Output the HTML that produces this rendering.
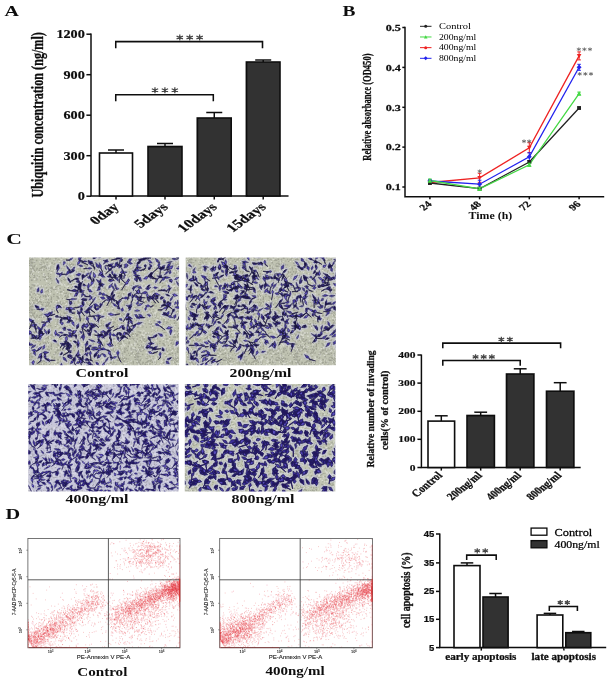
<!DOCTYPE html>
<html><head><meta charset="utf-8"><title>Figure</title>
<style>
html,body{margin:0;padding:0;background:#fff;}
body{width:609px;height:681px;overflow:hidden;font-family:"Liberation Serif",serif;}
svg{display:block}
</style></head>
<body>
<svg width="609" height="681" viewBox="0 0 609 681">
<rect width="609" height="681" fill="#fff"/>
<defs><filter id="soft" x="0" y="0" width="100%" height="100%" filterUnits="userSpaceOnUse"><feGaussianBlur stdDeviation="0.32"/></filter></defs>
<g filter="url(#soft)">
<defs><filter id="mblur" x="-5%" y="-5%" width="110%" height="110%"><feGaussianBlur stdDeviation="0.62"/></filter><filter id="halo" x="-2%" y="-2%" width="104%" height="104%"><feMorphology operator="dilate" radius="0.9" in="SourceAlpha" result="d"/><feFlood flood-color="#c9c9e6" flood-opacity=".6"/><feComposite in2="d" operator="in" result="h"/><feMerge><feMergeNode in="h"/><feMergeNode in="SourceGraphic"/></feMerge></filter><pattern id="spk" width="53" height="47" patternUnits="userSpaceOnUse"><path d="M32.1 33.8h1.5v1.5h-1.5zM48.5 33.7h1.5v1.5h-1.5zM1.5 21.2h1v1h-1zM33.4 41h1v1h-1zM19.1 39.5h1v1h-1zM28 26.1h1v1h-1zM37.7 18.6h1v1h-1zM47.2 34.8h1v1h-1zM39.2 3.3h1.5v1.5h-1.5zM31.8 5.8h1v1h-1zM50.1 .2h1v1h-1zM49.4 7.5h1v1h-1zM14.9 43.7h1.5v1.5h-1.5zM45.1 28.5h1v1h-1zM48.5 31.4h1v1h-1zM15.4 16.4h1v1h-1zM48.2 12h1v1h-1zM15.5 27.4h1v1h-1zM30.7 32.2h1v1h-1zM16 37.2h1v1h-1zM35.9 8.4h1v1h-1zM36.3 2.6h1v1h-1zM48.9 16.3h1v1h-1zM.9 35.8h1v1h-1zM19.4 38.3h1v1h-1zM2.4 8.2h1v1h-1zM6.1 11.2h1v1h-1zM17.7 16.1h1.5v1.5h-1.5zM12.9 21.1h1.5v1.5h-1.5zM38.5 36.3h1v1h-1zM1.9 43h1v1h-1zM10.7 23.3h1v1h-1zM47.3 15.5h1.5v1.5h-1.5zM28.1 14.2h1v1h-1zM15.8 36.3h1.5v1.5h-1.5zM7.7 31.4h1v1h-1zM8.3 2.2h1.5v1.5h-1.5zM27.5 18.5h1v1h-1zM38.1 15.6h1v1h-1zM23.5 19.2h1v1h-1zM50.4 29h1v1h-1zM17.2 9.4h1.5v1.5h-1.5zM29 6h1v1h-1zM5.5 19.8h1v1h-1zM3 19.1h1v1h-1zM23.3 45.5h1v1h-1zM50.3 20.6h1v1h-1zM35.5 14.5h1v1h-1zM15 18.4h1v1h-1zM5.8 37.4h1.5v1.5h-1.5zM49.4 28.5h1v1h-1zM44.7 8.2h1v1h-1zM14 35.6h1.5v1.5h-1.5zM18.6 35.8h1v1h-1zM35.8 30.2h1v1h-1zM18.7 32.1h1v1h-1zM43 12.1h1.5v1.5h-1.5zM36.9 43.5h1v1h-1zM33.5 26.4h1v1h-1zM24.4 35.2h1v1h-1zM34.6 21.1h1.5v1.5h-1.5zM33.3 36.3h1v1h-1zM14.1 15.7h1v1h-1zM18 38.4h1.5v1.5h-1.5zM23.2 16.6h1v1h-1zM26.7 24.1h1v1h-1zM10.2 16.5h1v1h-1zM14.6 3.6h1.5v1.5h-1.5zM37.6 7.8h1.5v1.5h-1.5zM26.6 42.6h1v1h-1zM32.1 35.2h1.5v1.5h-1.5zM13.9 45.3h1v1h-1zM8.2 20.1h1.5v1.5h-1.5zM9.3 34.5h1v1h-1zM32.5 1.9h1v1h-1zM50.5 7.5h1v1h-1zM5.7 44h1v1h-1zM10 1.6h1v1h-1zM18.1 30.1h1v1h-1zM30.4 10.8h1v1h-1zM0 18.4h1v1h-1zM44.1 39.4h1.5v1.5h-1.5zM42.8 17h1v1h-1zM28.3 13.7h1v1h-1zM28.1 15.4h1.5v1.5h-1.5zM15.1 16h1v1h-1zM21.6 37h1.5v1.5h-1.5zM27.7 21.3h1v1h-1zM30.7 25.7h1v1h-1zM49.9 27.7h1v1h-1zM42.3 30.1h1v1h-1zM5.6 25.7h1.5v1.5h-1.5zM27.8 14.8h1.5v1.5h-1.5zM19.4 19.6h1v1h-1zM25.4 21.8h1.5v1.5h-1.5zM19.6 43.7h1v1h-1zM30.7 11.8h1v1h-1zM25.6 18.9h1v1h-1zM48.7 14h1v1h-1zM7.4 1.1h1.5v1.5h-1.5zM32 20.2h1v1h-1zM2.1 6.2h1v1h-1zM.7 24.2h1v1h-1zM12.5 21.6h1v1h-1zM12.7 12.2h1v1h-1zM37.2 13h1v1h-1zM31.3 21.6h1.5v1.5h-1.5zM44.5 40.1h1v1h-1zM.8 5.7h1v1h-1zM27.5 15.3h1v1h-1zM37.7 1.2h1v1h-1zM18.6 33.9h1.5v1.5h-1.5zM6.8 .1h1.5v1.5h-1.5zM23.5 41.7h1.5v1.5h-1.5zM28.1 .7h1v1h-1zM30.6 31.4h1.5v1.5h-1.5zM33.4 39.1h1v1h-1zM24.5 31h1.5v1.5h-1.5zM10.1 13.5h1v1h-1zM15.6 .1h1v1h-1zM30 29.5h1v1h-1zM46.9 6.5h1v1h-1zM35.8 40.4h1v1h-1zM27.7 19.4h1.5v1.5h-1.5zM41.8 3.1h1v1h-1zM13.8 3.9h1v1h-1zM34.2 1.2h1.5v1.5h-1.5zM22.1 3.1h1v1h-1zM36.1 2.2h1v1h-1zM11.3 29.4h1v1h-1zM36.7 6.1h1v1h-1zM36.3 19.9h1v1h-1zM31.4 18.8h1v1h-1zM3.5 9.7h1.5v1.5h-1.5zM5.6 17.3h1v1h-1zM14.4 26h1v1h-1zM38.2 40h1v1h-1zM.5 4.2h1.5v1.5h-1.5zM30.9 22.3h1.5v1.5h-1.5zM19.3 2.5h1.5v1.5h-1.5zM15.2 25.9h1.5v1.5h-1.5zM26.1 41.4h1.5v1.5h-1.5zM28.3 10h1v1h-1zM28.4 11.6h1v1h-1zM26.6 6.1h1v1h-1zM44.5 20.6h1v1h-1zM9.2 32.5h1.5v1.5h-1.5zM17.6 26.1h1v1h-1zM4.7 5.7h1.5v1.5h-1.5zM23.4 17.7h1v1h-1zM24.7 14.7h1.5v1.5h-1.5zM1.5 33h1v1h-1zM43.7 43h1v1h-1zM35.1 10.2h1v1h-1zM4.3 41.5h1v1h-1zM42.3 6.4h1.5v1.5h-1.5zM19.4 38h1v1h-1zM17.2 27.9h1v1h-1zM41 17.2h1.5v1.5h-1.5zM42.8 29.5h1.5v1.5h-1.5zM22.3 38.7h1.5v1.5h-1.5zM1.9 45.2h1v1h-1zM38.1 18h1v1h-1zM1.9 8.5h1v1h-1zM2 40.5h1v1h-1zM34.1 15.9h1v1h-1zM24.2 40.5h1.5v1.5h-1.5zM47.5 14.7h1v1h-1zM5.1 7h1v1h-1zM3.7 39.5h1v1h-1zM7.8 11.6h1v1h-1zM42.1 34.1h1.5v1.5h-1.5zM12.1 21.9h1v1h-1zM17.7 34.2h1v1h-1zM48.3 31.3h1.5v1.5h-1.5zM23.5 38.6h1v1h-1zM6.1 30.4h1v1h-1zM23.4 10.9h1v1h-1zM1.7 32.5h1.5v1.5h-1.5zM11.9 3.6h1v1h-1zM47 32.2h1.5v1.5h-1.5zM16.1 21.3h1v1h-1zM3.4 45.2h1v1h-1zM8.4 10.9h1.5v1.5h-1.5zM10.8 2h1.5v1.5h-1.5zM22.2 44.4h1v1h-1zM23.8 20.6h1.5v1.5h-1.5zM21.1 2h1.5v1.5h-1.5zM43 38.1h1.5v1.5h-1.5zM18 4.3h1v1h-1zM12.2 36.5h1v1h-1zM48.2 2.4h1v1h-1zM33.2 22.6h1v1h-1zM2.5 37.9h1v1h-1zM15.8 2.3h1v1h-1zM48.9 8.8h1.5v1.5h-1.5zM26.2 18.3h1.5v1.5h-1.5zM12 42.2h1v1h-1zM4.5 44.8h1v1h-1zM30.8 39h1v1h-1zM32.2 20.1h1v1h-1zM25.1 26h1v1h-1zM26.9 6h1v1h-1zM47 14h1v1h-1zM45.9 45.5h1.5v1.5h-1.5zM6 14.2h1v1h-1zM40.2 12h1v1h-1zM16.1 5.9h1v1h-1zM24.3 31.7h1v1h-1zM49.8 30.3h1v1h-1zM3.2 31.9h1v1h-1zM36.2 36.2h1v1h-1zM45.6 3.3h1v1h-1zM19.6 35h1v1h-1zM46.1 29.8h1v1h-1zM29.6 20.1h1.5v1.5h-1.5zM33.8 43.4h1.5v1.5h-1.5zM2.4 19.5h1v1h-1zM41.8 17.4h1v1h-1zM16.5 13.9h1v1h-1zM13.5 30.8h1v1h-1zM1.8 24.7h1.5v1.5h-1.5zM28.7 1.2h1v1h-1zM49.9 37.6h1v1h-1zM44.3 43.2h1.5v1.5h-1.5zM.9 24h1v1h-1zM18.7 15h1v1h-1zM8.4 28.2h1v1h-1zM37.4 4.3h1.5v1.5h-1.5zM31.2 28.7h1v1h-1zM23 42.7h1v1h-1zM6.1 14.4h1v1h-1zM23.7 19.8h1v1h-1zM2.5 30.4h1v1h-1zM27.4 44.1h1.5v1.5h-1.5zM.1 5.8h1v1h-1zM35.3 9.4h1v1h-1zM1.7 26.3h1v1h-1zM36.3 16.1h1v1h-1zM11.1 12.6h1v1h-1zM15.6 23.5h1v1h-1zM18.9 36.8h1.5v1.5h-1.5zM43.3 38.7h1.5v1.5h-1.5zM25.5 15.9h1v1h-1zM42.8 22.3h1v1h-1zM4.8 18.1h1.5v1.5h-1.5zM14.5 41.9h1v1h-1zM24.6 21.4h1.5v1.5h-1.5zM32.1 36.4h1v1h-1zM35.5 4.7h1.5v1.5h-1.5zM30.2 8.4h1v1h-1zM1.1 30.8h1.5v1.5h-1.5zM16.1 17.4h1v1h-1zM28.1 31.4h1v1h-1zM50.6 37.1h1.5v1.5h-1.5zM28.7 2.8h1v1h-1zM41.1 16.5h1.5v1.5h-1.5zM1 35h1v1h-1zM14.6 3.5h1v1h-1zM39.8 27.8h1.5v1.5h-1.5zM21.3 44.1h1v1h-1zM14.1 32.6h1v1h-1zM1.9 4h1v1h-1zM46.2 31.3h1.5v1.5h-1.5zM31.2 25.6h1v1h-1zM26.6 40.8h1v1h-1zM17.6 35.7h1v1h-1zM20.3 .1h1v1h-1zM19.5 34.2h1.5v1.5h-1.5zM46.3 41.4h1.5v1.5h-1.5zM16.6 14.8h1.5v1.5h-1.5zM45.8 31.3h1v1h-1zM12.8 4.6h1v1h-1zM15.7 12.2h1.5v1.5h-1.5zM4 43.2h1v1h-1zM32.6 34.9h1v1h-1zM33.8 25.9h1.5v1.5h-1.5zM42.8 40h1.5v1.5h-1.5zM21 10.5h1v1h-1zM27.2 41.2h1v1h-1zM21.5 3.8h1v1h-1zM9.6 1.4h1v1h-1zM15.2 25.3h1.5v1.5h-1.5zM9.5 8.7h1.5v1.5h-1.5zM5.3 35.8h1v1h-1zM37.5 2.8h1v1h-1zM7.1 23.6h1v1h-1zM16.4 38.7h1.5v1.5h-1.5zM19.8 41h1.5v1.5h-1.5zM31.7 36.3h1v1h-1zM.1 30.6h1v1h-1zM4.8 6.9h1.5v1.5h-1.5zM39.2 26.2h1v1h-1zM37.9 37.1h1v1h-1zM36.7 42h1.5v1.5h-1.5zM32.2 43.9h1v1h-1zM18.8 37h1v1h-1zM10.6 17h1v1h-1zM45.9 44.9h1v1h-1zM12.7 42.8h1v1h-1zM19.3 5.3h1.5v1.5h-1.5zM49.5 6h1v1h-1zM25.5 43.8h1.5v1.5h-1.5zM3.7 34.6h1.5v1.5h-1.5zM36.7 .7h1v1h-1zM51.5 34.2h1v1h-1zM47.3 17.4h1v1h-1zM46.6 29.2h1v1h-1zM29.6 13.5h1v1h-1zM48.6 2.9h1v1h-1zM2.6 19.1h1v1h-1zM14 32.8h1v1h-1zM14 4.4h1v1h-1zM22.3 8.2h1v1h-1zM44.1 11.1h1v1h-1zM18.3 36.9h1v1h-1zM42.1 6.4h1v1h-1zM1.1 25.6h1v1h-1zM44.7 3.6h1v1h-1zM10 36.6h1v1h-1zM24.3 3.9h1v1h-1zM30.8 38.2h1v1h-1zM26.2 2.4h1v1h-1zM39.7 22.8h1.5v1.5h-1.5zM48.4 30.1h1.5v1.5h-1.5zM32.7 1.6h1v1h-1zM21.7 32.9h1v1h-1zM47.1 17.2h1v1h-1zM45.9 6.7h1v1h-1zM21.7 44.2h1v1h-1zM11.2 19.2h1v1h-1zM7.2 16.5h1v1h-1zM34.3 5.6h1v1h-1zM39 3.5h1.5v1.5h-1.5zM19.6 40.8h1v1h-1zM10.1 .8h1v1h-1zM49.5 27.3h1v1h-1zM24.1 3.5h1v1h-1zM48.3 1.4h1v1h-1zM41.8 3.9h1v1h-1zM38.8 17h1v1h-1zM7.8 23.6h1.5v1.5h-1.5zM28.7 12.9h1v1h-1zM33.1 17.1h1v1h-1zM46.7 24.9h1v1h-1zM49.7 11h1.5v1.5h-1.5zM7.2 .8h1v1h-1zM37.7 6.1h1v1h-1z" fill="#fff" fill-opacity=".4"/><path d="M34.2 2.5h1v1h-1zM39.7 19.1h1.5v1.5h-1.5zM36.9 10.7h1v1h-1zM2.9 22.8h1v1h-1zM35.7 40.2h1v1h-1zM28.7 20h1v1h-1zM33.7 42.1h1v1h-1zM29.3 12.5h1.5v1.5h-1.5zM48.3 43.2h1v1h-1zM15.5 7.6h1.5v1.5h-1.5zM4 20.4h1.5v1.5h-1.5zM10.9 28.2h1v1h-1zM47.6 13.6h1.5v1.5h-1.5zM19.2 18.6h1v1h-1zM18.1 22.5h1.5v1.5h-1.5zM29.1 25.8h1v1h-1zM3.1 4h1v1h-1zM45.6 17h1v1h-1zM13.6 12.5h1v1h-1zM38.2 11.9h1v1h-1zM32.2 17.7h1.5v1.5h-1.5zM40.6 31.9h1.5v1.5h-1.5zM45.1 20h1v1h-1zM30.6 25.7h1.5v1.5h-1.5zM18.3 5.6h1v1h-1zM2.2 37.5h1v1h-1zM34.7 29.6h1v1h-1zM30.3 5.3h1.5v1.5h-1.5zM27.4 20.1h1.5v1.5h-1.5zM11.4 43.2h1v1h-1zM36.3 32.7h1.5v1.5h-1.5zM4.8 3h1v1h-1zM15.6 23.9h1.5v1.5h-1.5zM37.1 3.2h1.5v1.5h-1.5zM35 12.4h1v1h-1zM38.9 11.8h1v1h-1zM15.4 40h1v1h-1zM26.6 41h1v1h-1zM19.6 29.8h1v1h-1zM16.2 27.8h1v1h-1zM4.5 16h1v1h-1zM33 19.9h1.5v1.5h-1.5zM33.5 8h1v1h-1zM47.1 7.7h1.5v1.5h-1.5zM23 26.1h1v1h-1zM7.5 12.2h1v1h-1zM25.9 43.3h1v1h-1zM28.6 30.1h1v1h-1zM28.4 11.4h1v1h-1zM15.1 4.9h1v1h-1zM21.9 38.5h1.5v1.5h-1.5zM13.6 28.6h1.5v1.5h-1.5zM4.4 37h1.5v1.5h-1.5zM39.6 15.3h1v1h-1zM44.8 12.9h1.5v1.5h-1.5zM9.2 35.3h1.5v1.5h-1.5zM19.8 29h1.5v1.5h-1.5zM39.4 4.5h1v1h-1zM45.4 14.2h1v1h-1zM36.9 18.7h1v1h-1zM3.2 13.7h1v1h-1zM2 4.3h1.5v1.5h-1.5zM46.2 23h1v1h-1zM23.8 3.3h1v1h-1zM1.4 25.7h1v1h-1zM33.6 31h1v1h-1zM48.1 43h1v1h-1zM19.6 7.7h1v1h-1zM5.9 24.5h1v1h-1zM33.7 30.2h1v1h-1zM22.5 12.4h1.5v1.5h-1.5zM23.4 37.3h1v1h-1zM10.8 23.4h1v1h-1zM19.7 28.8h1v1h-1zM16.8 36.9h1.5v1.5h-1.5zM3.7 13.9h1.5v1.5h-1.5zM24 20.2h1.5v1.5h-1.5zM32.7 11.6h1v1h-1zM38.3 11.7h1v1h-1zM20.8 32.3h1v1h-1zM6.9 9.2h1.5v1.5h-1.5zM48.9 35h1v1h-1zM51.4 6.1h1v1h-1zM33.1 32.7h1v1h-1zM31.9 39h1v1h-1zM41.3 21.9h1v1h-1zM29.9 11.5h1v1h-1zM35.9 24.7h1.5v1.5h-1.5zM6.3 34.8h1v1h-1zM29.7 21.9h1v1h-1zM45.1 23.7h1.5v1.5h-1.5zM14.5 15.2h1v1h-1zM6.8 19.1h1v1h-1zM19.1 35.2h1v1h-1zM33.7 34.4h1.5v1.5h-1.5zM1.7 22.2h1v1h-1zM16.1 38.8h1.5v1.5h-1.5zM14.5 37.4h1.5v1.5h-1.5zM34.8 15.5h1.5v1.5h-1.5zM27 14.9h1.5v1.5h-1.5zM31.6 36.2h1v1h-1zM29.7 29.7h1.5v1.5h-1.5zM40.7 35.1h1v1h-1zM2.2 24.4h1v1h-1zM50 33.5h1v1h-1zM50.2 38.8h1v1h-1zM34.3 18.2h1v1h-1zM19.8 29.3h1v1h-1zM33.2 41.9h1v1h-1zM33.8 26.5h1.5v1.5h-1.5zM47.9 17h1.5v1.5h-1.5zM15.8 33.5h1v1h-1zM28.7 25.1h1v1h-1zM40.4 33.1h1v1h-1zM27.3 .1h1v1h-1zM2.9 .7h1v1h-1zM5.5 20.8h1v1h-1zM46.3 21.4h1v1h-1zM26.9 1.1h1.5v1.5h-1.5zM39.5 28.4h1.5v1.5h-1.5zM31.6 32.6h1.5v1.5h-1.5zM10.5 29.6h1v1h-1zM51 9.2h1v1h-1zM35.9 9.1h1.5v1.5h-1.5zM19 4.1h1v1h-1zM20.4 1.5h1v1h-1zM15.5 33.2h1v1h-1zM20.2 35.1h1v1h-1zM46.1 31.4h1v1h-1zM6.8 41h1v1h-1zM21 1.2h1v1h-1zM27 9.2h1.5v1.5h-1.5zM44.3 31.1h1v1h-1zM44.8 41.7h1v1h-1zM42.4 40.9h1.5v1.5h-1.5zM45.5 32.5h1v1h-1zM37.7 9.2h1.5v1.5h-1.5zM12.9 31h1v1h-1zM9.9 24.3h1v1h-1zM18.8 4.3h1.5v1.5h-1.5zM22.3 37.1h1.5v1.5h-1.5zM14.8 .3h1v1h-1zM36.3 43.1h1.5v1.5h-1.5zM.3 25h1v1h-1zM37.4 40.3h1v1h-1zM7.7 .3h1v1h-1zM37.2 16.8h1v1h-1zM13.6 26h1v1h-1zM31.3 24.4h1v1h-1zM20.3 25.4h1v1h-1zM11.8 13.4h1.5v1.5h-1.5zM3.7 24.4h1v1h-1zM4.3 29.8h1v1h-1zM4.9 33.2h1v1h-1zM9 15.9h1v1h-1zM15.9 30.8h1v1h-1zM47.7 40.5h1.5v1.5h-1.5zM44.9 31h1v1h-1zM2.1 23.3h1v1h-1zM11.1 13.8h1v1h-1zM14.3 20.5h1v1h-1zM50 23.5h1v1h-1zM42.8 26.8h1v1h-1zM48 13.3h1v1h-1zM8.2 28.5h1v1h-1zM4.5 15.6h1v1h-1zM18.3 4.7h1v1h-1zM5.1 39.2h1v1h-1zM1.8 43.9h1.5v1.5h-1.5zM44.9 2.6h1v1h-1zM45.8 14.1h1v1h-1zM42.3 22.9h1v1h-1zM26.4 4.3h1.5v1.5h-1.5zM29.3 20.5h1.5v1.5h-1.5zM10.1 33.2h1v1h-1zM6.4 2.9h1v1h-1zM45.3 13.9h1v1h-1zM21.7 42.8h1v1h-1zM9 20.3h1.5v1.5h-1.5zM15.7 25.8h1.5v1.5h-1.5zM38.9 41.2h1v1h-1zM47.5 13.4h1v1h-1zM14.7 29.9h1v1h-1zM22.3 13.5h1.5v1.5h-1.5zM17.1 31.6h1.5v1.5h-1.5zM29 18h1v1h-1zM31.9 38.6h1v1h-1zM18.8 45.4h1.5v1.5h-1.5zM4.6 19.9h1v1h-1zM19.1 35.7h1.5v1.5h-1.5zM48.4 17.8h1v1h-1zM51.3 5.9h1.5v1.5h-1.5zM41.2 24.7h1v1h-1zM14.3 7.9h1v1h-1zM.5 31.1h1v1h-1zM13.2 28.2h1v1h-1zM46.9 23.5h1v1h-1zM14.7 1.6h1v1h-1zM33.9 11.1h1v1h-1zM45.1 30.4h1v1h-1zM46.4 35.4h1v1h-1zM5.1 15.3h1v1h-1zM8.4 42.5h1v1h-1zM10.1 1.5h1v1h-1zM27.1 2.1h1v1h-1zM51.1 15h1v1h-1zM11.4 20.8h1v1h-1zM36 34.5h1v1h-1zM50.7 14.2h1v1h-1zM46.3 28.9h1.5v1.5h-1.5zM30.1 41.9h1v1h-1zM40.3 11.6h1v1h-1zM40 13.9h1v1h-1zM9 32.8h1v1h-1zM43.2 34.9h1v1h-1zM43.8 38.7h1.5v1.5h-1.5zM38.5 34.4h1.5v1.5h-1.5zM11.2 30.3h1v1h-1zM14.5 1.7h1v1h-1zM.2 6.7h1.5v1.5h-1.5zM4.2 11.3h1v1h-1zM12.4 28h1v1h-1zM43.1 33.9h1.5v1.5h-1.5zM48.7 23.7h1v1h-1zM16.3 28.9h1.5v1.5h-1.5zM15.2 6.8h1v1h-1zM30.5 9h1v1h-1zM29.1 4.1h1v1h-1zM10.6 30.2h1.5v1.5h-1.5zM11.2 38.3h1v1h-1zM10.6 41.9h1v1h-1zM31.2 28h1.5v1.5h-1.5zM30.7 10.1h1v1h-1zM32.4 31.4h1v1h-1zM30.7 26.8h1.5v1.5h-1.5zM33.5 30.8h1.5v1.5h-1.5zM17.8 21.6h1.5v1.5h-1.5zM51.1 .7h1v1h-1zM28.8 27.5h1.5v1.5h-1.5zM40.5 17.2h1v1h-1zM43.9 27.6h1v1h-1zM6.9 20.3h1.5v1.5h-1.5zM32.5 33.7h1.5v1.5h-1.5zM47.8 .9h1v1h-1zM9.3 24.9h1v1h-1zM13.9 7.3h1v1h-1zM42.6 12.3h1.5v1.5h-1.5zM18.1 31.6h1.5v1.5h-1.5zM12.5 27.5h1v1h-1zM41.5 17.2h1v1h-1zM3.5 18h1v1h-1zM20.9 40.6h1v1h-1zM48.3 2.8h1v1h-1zM31.6 2h1.5v1.5h-1.5zM39.7 11.7h1.5v1.5h-1.5zM35.2 16.7h1.5v1.5h-1.5zM41.6 30.8h1v1h-1zM47.7 32.2h1.5v1.5h-1.5zM44.1 42h1.5v1.5h-1.5zM31.6 28.2h1v1h-1zM14.6 44.6h1v1h-1zM25.3 23.8h1.5v1.5h-1.5zM9.1 36.9h1v1h-1zM48.4 20.2h1.5v1.5h-1.5zM12.3 10.8h1.5v1.5h-1.5zM36.8 43.5h1v1h-1zM6.3 20.3h1v1h-1zM27.8 35.9h1.5v1.5h-1.5zM7.6 22.1h1.5v1.5h-1.5zM35 6.4h1v1h-1zM41.3 37.7h1v1h-1zM43.4 20.1h1v1h-1zM48.7 34.4h1v1h-1zM40.6 19.8h1.5v1.5h-1.5zM26.8 34.4h1v1h-1zM36.8 44.2h1v1h-1zM26.4 38.6h1.5v1.5h-1.5zM16.6 35h1.5v1.5h-1.5zM16.4 22.7h1v1h-1zM10.5 25h1v1h-1zM14.3 13.6h1.5v1.5h-1.5zM12.4 30.4h1.5v1.5h-1.5zM25.6 41.9h1v1h-1zM16.9 11.8h1v1h-1zM22.5 14.3h1v1h-1zM12.2 13.1h1v1h-1zM48.5 16.1h1v1h-1zM51.1 4.7h1.5v1.5h-1.5zM24.7 5.3h1.5v1.5h-1.5zM32.4 2h1.5v1.5h-1.5zM40.4 4.8h1v1h-1zM15.5 6.6h1v1h-1zM16.3 43.1h1v1h-1zM22.2 29.6h1v1h-1zM.2 11.8h1.5v1.5h-1.5zM36.9 33.5h1v1h-1zM.3 14h1v1h-1zM7.1 32.8h1.5v1.5h-1.5zM7.7 44.9h1.5v1.5h-1.5zM44.6 12.7h1v1h-1zM22 23.7h1v1h-1zM24.7 33.6h1v1h-1zM5.1 23.7h1v1h-1zM12.6 19.2h1v1h-1zM30 29.2h1.5v1.5h-1.5zM32 23.8h1.5v1.5h-1.5zM34.6 21.6h1.5v1.5h-1.5zM18.9 6.7h1v1h-1zM1.2 28.1h1v1h-1zM.5 30.7h1v1h-1zM28.9 40.8h1v1h-1zM13.3 10.3h1v1h-1zM24.9 3.1h1v1h-1zM31.7 44h1.5v1.5h-1.5zM15 32.4h1v1h-1zM34.6 21.3h1v1h-1zM34.2 2.3h1v1h-1zM26.7 39.6h1v1h-1zM10.8 10.7h1v1h-1zM39.9 19.5h1v1h-1zM22.9 40.7h1.5v1.5h-1.5zM25.3 35.7h1v1h-1zM22.9 7.4h1v1h-1zM24.9 40.3h1v1h-1zM3.7 21h1.5v1.5h-1.5zM47.6 38.1h1.5v1.5h-1.5zM12.6 23.5h1.5v1.5h-1.5zM33.8 41.3h1.5v1.5h-1.5zM26.7 33.8h1v1h-1zM17.8 7.8h1v1h-1zM19.6 18.7h1.5v1.5h-1.5zM13.8 18.7h1v1h-1zM30.7 34.2h1v1h-1zM17.6 2h1v1h-1zM46.8 19.5h1.5v1.5h-1.5zM31.7 21.7h1.5v1.5h-1.5zM5.9 45.4h1v1h-1zM11.3 5.1h1v1h-1zM19.5 14.3h1v1h-1zM18 18.8h1v1h-1zM43.2 14.1h1v1h-1zM8.8 40.2h1v1h-1zM39 14.9h1v1h-1zM32.9 16.3h1v1h-1zM4.6 6.7h1v1h-1zM25.9 22.2h1.5v1.5h-1.5zM8.5 9h1v1h-1zM22.6 36h1.5v1.5h-1.5zM32 26.8h1.5v1.5h-1.5zM30.8 4.8h1v1h-1zM26.5 32.2h1.5v1.5h-1.5zM16.9 11.6h1v1h-1zM43.7 39.3h1.5v1.5h-1.5zM18.4 19.8h1.5v1.5h-1.5zM45.8 5.2h1.5v1.5h-1.5zM11.3 45h1v1h-1zM35.6 44.7h1v1h-1zM14.8 40.4h1.5v1.5h-1.5zM20.3 7.3h1.5v1.5h-1.5zM42.9 13.1h1.5v1.5h-1.5zM20.5 20.7h1.5v1.5h-1.5zM13.7 15h1v1h-1zM33.9 21.4h1.5v1.5h-1.5zM39.9 10.8h1v1h-1zM41.1 3.8h1v1h-1zM30.8 44.5h1.5v1.5h-1.5zM5.5 16.4h1v1h-1zM25.6 19.2h1v1h-1zM31 14.6h1.5v1.5h-1.5zM29.6 5.6h1.5v1.5h-1.5zM40.6 28.6h1v1h-1zM30.3 26.2h1v1h-1zM25.6 41.1h1v1h-1zM18 5.9h1.5v1.5h-1.5zM38.5 34.8h1v1h-1zM5.6 20.4h1v1h-1zM11.1 30.4h1.5v1.5h-1.5zM3.9 34h1v1h-1zM30.4 36h1.5v1.5h-1.5zM31.2 30.3h1.5v1.5h-1.5zM37.7 19.8h1.5v1.5h-1.5zM25.6 5h1v1h-1zM28.2 27.6h1.5v1.5h-1.5zM31.1 22.7h1.5v1.5h-1.5zM7.2 39.3h1.5v1.5h-1.5zM13.7 31h1v1h-1zM38.8 18.9h1v1h-1zM30.4 20.8h1v1h-1zM25.2 37.1h1v1h-1zM42.2 21.7h1.5v1.5h-1.5zM49.6 5.5h1.5v1.5h-1.5zM1.4 24.4h1.5v1.5h-1.5zM45.3 8.8h1.5v1.5h-1.5zM27.5 42.6h1v1h-1zM16.8 40.8h1v1h-1zM51 15.4h1v1h-1zM3.8 3.5h1v1h-1zM3.6 38.6h1v1h-1zM3.8 40.6h1v1h-1zM22.5 38h1v1h-1zM12.5 16.8h1v1h-1zM4.3 30.1h1.5v1.5h-1.5zM16 1.6h1v1h-1zM46.6 27h1v1h-1zM45 14.6h1v1h-1zM30.4 6.8h1v1h-1zM22.7 8.9h1v1h-1zM34.8 35.7h1v1h-1zM25.4 3.3h1.5v1.5h-1.5zM4 39.6h1v1h-1zM30 24h1.5v1.5h-1.5zM3.2 1h1v1h-1zM42.4 4.4h1v1h-1zM24.4 40.8h1v1h-1zM27.7 10.8h1v1h-1zM44.1 31.9h1v1h-1zM18.1 1.8h1v1h-1zM36.6 21.4h1v1h-1zM11.4 44.1h1.5v1.5h-1.5zM23.9 9.6h1v1h-1zM50.4 8h1v1h-1zM6.4 26.9h1.5v1.5h-1.5zM24.4 31.1h1v1h-1zM48 21.8h1v1h-1zM11.4 24.8h1v1h-1zM48.1 7.1h1v1h-1zM47.2 11.9h1v1h-1zM27.6 31.4h1v1h-1zM50.5 16.5h1.5v1.5h-1.5zM50.3 31.6h1v1h-1zM39.3 33h1v1h-1zM12.9 15.2h1v1h-1zM50 43.1h1.5v1.5h-1.5zM15 11.6h1v1h-1zM50.1 41.3h1v1h-1zM6.3 5.7h1.5v1.5h-1.5zM39.8 12.1h1v1h-1zM48.7 42.3h1v1h-1zM33.9 39.4h1v1h-1zM23.9 24.6h1v1h-1zM43.3 30.2h1.5v1.5h-1.5zM45.5 32.2h1v1h-1zM48.7 2.1h1v1h-1zM21.5 16.8h1.5v1.5h-1.5zM45.6 32.4h1.5v1.5h-1.5zM46 43.4h1.5v1.5h-1.5zM26.2 39.3h1v1h-1zM51.5 36h1v1h-1zM36.4 17.7h1.5v1.5h-1.5zM4.1 32.8h1.5v1.5h-1.5zM30.1 37.5h1v1h-1zM51.5 45.3h1v1h-1zM46.7 16.5h1v1h-1zM42.6 25.4h1v1h-1zM10.1 43.9h1v1h-1zM13.3 44.2h1v1h-1zM9.9 7.6h1.5v1.5h-1.5zM3.7 41.8h1.5v1.5h-1.5zM33.5 39.9h1.5v1.5h-1.5zM29.8 37.7h1.5v1.5h-1.5zM21.8 17.3h1v1h-1zM50.9 20.1h1v1h-1zM41.2 28.7h1v1h-1zM6.6 44.3h1v1h-1zM40.7 10.6h1v1h-1zM13.7 7.4h1v1h-1zM21.6 42.1h1.5v1.5h-1.5zM7 31.6h1v1h-1zM26.1 7.3h1v1h-1zM42.1 31.3h1.5v1.5h-1.5zM44.7 40.9h1.5v1.5h-1.5zM31.3 5.2h1.5v1.5h-1.5zM15.2 1.3h1.5v1.5h-1.5zM25.6 9h1v1h-1zM25.7 2.9h1v1h-1zM16.9 10.9h1.5v1.5h-1.5zM22.7 .4h1v1h-1zM24.3 18.5h1.5v1.5h-1.5zM17.9 28.2h1.5v1.5h-1.5zM7.7 40.2h1v1h-1zM12.5 11.2h1v1h-1zM36.2 8.1h1v1h-1zM25.3 20.5h1v1h-1zM50.5 18.8h1.5v1.5h-1.5zM2 6.5h1.5v1.5h-1.5zM40.6 26.9h1v1h-1zM40 44.7h1v1h-1zM43.8 44h1.5v1.5h-1.5zM51.4 27.2h1.5v1.5h-1.5zM.6 28.9h1v1h-1zM36.3 7h1v1h-1zM36.9 20.7h1v1h-1zM33.5 2.9h1.5v1.5h-1.5zM40.8 9.9h1.5v1.5h-1.5zM47.7 8.8h1.5v1.5h-1.5zM47.7 22.7h1v1h-1zM30.2 32.9h1v1h-1zM36.5 42.6h1v1h-1z" fill="#000" fill-opacity=".17"/></pattern></defs>
<clipPath id="mc1"><rect x="29.0" y="257.4" width="150.1" height="107.9"/></clipPath>
<g clip-path="url(#mc1)"><g filter="url(#mblur)">
<rect x="27.0" y="255.39999999999998" width="154.1" height="111.9" fill="#bfc2b1"/>
<rect x="27.0" y="255.39999999999998" width="154.1" height="111.9" fill="url(#spk)"/>
<path filter="url(#halo)" d="M65.2 261.7l.2 1.6 -2.3 2 .4 -3.7zM58.9 265.5l.7 2.7 -2.8 4.4 .7 -6.2zM79.8 259.6l.4 3.1 -2.8 2.5 .2 -2.8zM73.3 257.1l-1.7 2.6 -1.8 .5 -.1 -1.2zM75.1 266.8l-.7 1.9 -2.1 2.4 .7 -3.3zM79.1 255.5l2.1 .1 .8 2.3 -2 .4zM78 256.1l2.4 1.7 1.3 4.7 -3.2 -2.4zM78.4 265.2l2.7 -.4 2 1.4 -2.3 .7zM87.8 260.8l4.4 .3 .9 2.2 -2.9 .1zM87.5 261.3l-2.2 .9 -1.7 -.5 .8 -1.1zM88.5 260.1l1.9 1.8 1.6 4.3 -3.8 -3zM97.5 257l-2.7 1.7 -2.2 -1.5 2.7 -1.6zM102.9 253.8l-2.2 3.7 -2 .6 .2 -2.1zM95.5 262.3l3.6 3.1 -.5 2.8 -2.3 -1.5zM102.9 260.4l4.3 -.6 1.4 1.8 -1.6 .8zM107.6 259.1l-1.7 3.5 -2.7 1.8 1.8 -3.4zM104.7 266l1.2 1.2 .9 2.8 -1.7 -1.2zM113.5 263.5l-1.9 2.2 -1.9 -.2 .5 -1.6zM116 263.1l2.9 .9 3.2 3 -4.4 -1.4zM108 265.6l4.9 .1 2.4 1.4 -2.5 .9zM116.2 255.1l1.6 -.4 2.3 1.4 -3.4 .8zM118 261.8l-.6 3.6 -3 2.1 .9 -4.7zM121.7 257.1l.2 3.2 -2.4 2.7 -.1 -2.8zM132 258.7l-1.4 2.8 -3.4 .4 2.1 -3.1zM128.2 264.8l-2.1 1.8 -2.3 -1.6 2.4 -1.5zM123.7 254.5l-.2 2.3 -3.5 1.5 2.5 -3.9zM121.5 256.1l-2.7 3 -2.3 -.5 .1 -1.5zM140.8 261.6l-1 2 -3.2 .3 1.3 -1.8zM127.1 262.4l2.9 -.6 2.6 1.8 -2.2 .8zM139.6 256l-2.2 1.1 -3.5 -.9 3.9 -1.4zM140.2 259.6l.4 2 -2.2 2.5 .8 -4.1zM145.8 253.7l1.1 2.4 -.9 4 -.9 -4.1zM145.3 255.6l.1 3.1 -1.8 .9 -.9 -1.3zM145.1 260.1l-2.5 .3 -4.7 -1.2 4.2 -.7zM145.6 257.5l3 -1.8 2.1 1.3 -1.3 1.4zM150.5 254.5l0 2.1 -1.1 1.7 -.4 -2.5zM151.1 253.8l-1.7 3.4 -3.5 1.7 2 -3.5zM147.3 259.3l3.1 1.3 2.1 2.6 -2.7 -.3zM159.5 261.5l.6 3.2 -1.5 1.9 -1.1 -1.1zM165.2 265.2l-1.5 3.2 -3.8 1.4 2.6 -4zM155.1 258.2l3.1 1.7 .9 2.9 -2.4 -.8zM164.7 267l-.6 2.1 -4.2 1.7 2 -3.3zM163.4 267.4l-3.8 1.7 -1.8 -1 .9 -1.3zM172.4 261.6l-2.8 1.5 -3.1 -.3 3 -1.4zM171.8 258.8l2 -.7 4.3 1 -3.8 1zM174 255.2l3.6 -.3 3.5 2.7 -3.2 .6zM56 273.3l2 -.5 3.3 1.5 -3.3 .4zM70.1 269.4l-.1 3.5 -4.3 2.7 1.6 -4.4zM62.3 272.1l-.2 2.3 -2.7 2.8 0 -2.9zM58.9 264.2l-.1 2.5 -1.7 1.6 -.1 -3.3zM74.1 270.6l-.7 1.3 -2.9 1.3 .9 -2.3zM69.3 268.9l2.3 2.4 -.8 1.9 -1.8 -.6zM71.1 269.8l2.4 -1.1 1.5 1.8 -1.8 1.2zM66.5 265.5l2.4 2.7 .7 2.7 -2.5 -2.3zM81.4 274.1l-2.3 2.1 -3.4 -1.2 3.2 -1.9zM89.3 275.4l1.8 1.5 .1 2.6 -2.3 -2.3zM87.1 275.2l-1.7 1.7 -3.2 1.5 1.9 -2.9zM91.6 270.9l-.3 2.3 -1.6 4.3 -.1 -4.1zM89.2 272.7l-1.4 2.5 -2 .5 .9 -2.2zM93.3 272.2l2.6 3 -.9 3.1 -1.9 -1.7zM103 272.8l-1.6 2.3 -3.2 .6 1.2 -2.6zM92 268.3l-2.1 1 -3.1 -.5 2.6 -1.5zM108.2 264.6l2.5 .5 .7 1.7 -2.3 -.5zM99.2 270.2l3.6 2.8 .5 2.6 -2.1 -.9zM99.1 262.4l2.4 3.1 -.1 3.9 -2.3 -2zM99.6 274.4l3 .2 2.7 2.7 -3.3 -.1zM112.8 266.7l-1.6 3.6 -2 .9 .3 -1.8zM114.3 274.8l1.9 1.2 -.7 3.4 -2.2 -3.3zM106.9 276.4l2.6 -.9 2.1 1.5 -2.9 .5zM119.4 273.8l1.6 2 .5 3.8 -2.1 -3.3zM111.9 270.3l1.2 1.6 -.2 3 -1.7 -1.8zM112.6 274.7l2.1 -1.3 2.7 2.1 -3.2 .8zM107.8 266.4l1.8 2.3 -.3 1.5 -1.4 -1zM121.3 267.5l2.1 3 -.4 1.8 -1 -1zM128.4 265.5l-1.8 2.1 -2.6 .4 .7 -1.9zM124 271.6l-2.3 1.9 -1.7 -1.3 2.2 -1.5zM121.3 264.7l-.8 3.1 -1.8 .5 -.2 -2zM127.4 272l-3.2 1.8 -2.5 -.6 2.6 -1.6zM135.8 268l4.1 -1.2 1.7 .9 -1.5 .9zM134.5 269.9l2.9 -1.1 2.9 1.5 -3.3 1.4zM136.5 267.1l-1.1 4.2 -1.5 1.3 .1 -2.2zM140 275.7l-4.2 .9 -2.3 -1.3 2.4 -1.1zM132.6 270.5l3.6 1.4 0 2.5 -2.3 -.5zM145.2 264.2l1.4 1.3 -1.1 2.7 -1.2 -2.7zM153.4 272.3l-2.6 3.6 -2.8 .8 .9 -2.2zM148.9 263.5l3 1.7 0 1.7 -1.9 -.8zM137.7 262.1l.7 4.9 -1.3 2.2 -.8 -2.8zM147.9 275.2l3.2 1.2 .6 2 -1.5 .2zM161.9 274.9l-1.7 2.5 -2.8 2 1.7 -3.5zM151.3 266l-.8 3 -2.4 .2 .6 -2.2zM151.1 272l1.4 1.8 -1.2 2.1 -1.9 -1.3zM150.8 273.3l1.3 3.2 -1.1 1.4 -.7 -2.6zM170.7 270.1l.5 2.8 -1.9 1.2 -.4 -2.2zM169.7 270.3l-2.5 3.2 -3 1.6 1.9 -3.1zM168.7 265.8l.7 1.9 -1.9 3.4 -.1 -3.4zM158.9 265.7l1.8 1.1 -.7 2.3 -1.8 -2.7zM176.2 268.3l2.3 -.9 1.7 1.2 -2.4 .8zM173.2 265.6l-1.2 3.1 -3.4 1.1 2 -3.7zM178.3 266.5l3.6 -.7 1.7 1.5 -2.2 1.2zM170.6 262.9l-.7 3.4 -3.9 2.5 2.1 -4.8zM56 278l2.6 3 .2 2.4 -1.3 -.9zM67.7 277.2l2.3 2.6 .7 3.2 -2.7 -2.8zM74.5 286.2l2 -.3 2.1 1.7 -3.5 .2zM79.4 278l-2.7 1.8 -2 -.4 .9 -1.2zM76.4 281l1.9 -.1 1.1 2.3 -3.3 -1.3zM80.3 282.9l.3 2.2 -2.5 1.8 -.1 -2.8zM87.2 276.8l2.1 -.2 2 2.7 -3.2 -1zM82.9 281l-1.7 4.8 -2.2 1.3 .8 -2.8zM76.4 278.4l2.4 .9 .9 2.7 -3.1 -1.7zM83.6 274.3l.7 1.9 -2.1 3.8 -.5 -4.5zM92.8 277.4l1.4 2 .1 2.3 -1.4 -1.3zM93.6 279.7l-.2 3.5 -2.9 3 .5 -4.5zM109 273.7l2.3 1.8 -.3 1.7 -2.1 -.8zM101 278.8l.2 4.2 -2 1.6 -.2 -2.8zM104.5 284.4l-2.1 1.5 -4.1 -1.1 3.8 -1.6zM99 283.4l2.3 .6 1.9 3.2 -3.8 -2.3zM96 279.2l3.9 1.8 1.4 2.3 -3 -.5zM115.2 276l3.1 2.8 .1 2.6 -1.9 -1.4zM114.9 283.2l1.3 2.3 .6 4.2 -2.6 -4.4zM121.4 273.8l-.1 4.6 -1.8 1.4 .1 -3.2zM115.3 288.4l2.1 -.7 1.9 1.2 -2.5 .8zM114 280.2l-3.3 1.8 -2.6 -1.2 1.8 -1.6zM124.7 274.4l.1 2.8 -1 1.9 -.4 -2.8zM119.7 274.2l2.1 .2 .2 2.7 -2.1 -.2zM128.8 278.6l.8 2.2 -2.2 1.3 -.4 -1.9zM135.4 277.1l2 -.7 1.6 1.4 -2.6 .2zM129.2 279.5l-1.4 4.4 -2.7 1 .2 -2.5zM138 275.1l0 3.3 -1.5 3.7 -.1 -3.7zM134.5 278.1l2.8 .6 .3 3 -3.2 -1.8zM135.7 275.7l1.4 .7 .4 2.8 -2.1 -2.2zM137.5 286.9l2.7 -.9 1.8 2.4 -3.3 .1zM137.4 276.5l3.5 1.1 .7 3.6 -3.7 -2.6zM148.7 276.6l-2 2.7 -3.4 -.2 2.8 -2.9zM157.7 278.6l-.4 2.5 -1.8 2.1 -.2 -2.4zM157.5 287.5l-1.8 1.4 -2.3 -1.2 1.3 -1.1zM151.1 287l-2.7 2.9 -2 -.1 .6 -1.4zM150.3 284.8l-1.8 3.1 -3.1 1 2.5 -3zM166.2 275.9l-2.1 4.3 -2.7 .3 1.3 -3zM168.1 284.8l1.9 1.6 -.4 2.1 -1.7 -2.2zM164.2 277.8l2.7 -1.3 3.5 1.2 -4.1 1zM156.7 275.7l4.5 .2 1.5 1.7 -2.7 .4zM171 278.7l1.5 1.5 -.8 2.5 -1.7 -1.8zM179.5 277l-2.9 2.7 -2.2 0 1.5 -1.9zM176.3 280.9l2.1 2 0 2.9 -1.7 -2.8zM168.8 279.5l2.6 -.1 .6 2.7 -2.2 0zM39 287.4l.1 3.9 -2 .8 .1 -3zM42.3 288.8l.5 3.7 -1.9 .8 -.6 -1.9zM76.6 290.7l-2.7 .9 -3.4 -.8 3.5 -1.2zM77.3 293.4l-.1 2 -3.1 1.2 1.6 -3.8zM80.1 282.8l.9 3.1 -1.3 1.8 -1.2 -2zM75.9 286.6l2.7 1.1 1.3 2.1 -1.9 -.4zM77.4 290.5l-1.7 1.4 -4.3 -1 3.3 -1.9zM86.5 285.6l-2.5 .7 -1.5 -1 1.5 -1.1zM84.6 290.6l-2.7 2.4 -3.3 -1 3 -2zM80 287.3l1.7 2 .1 2.9 -1.9 -1.3zM80 283.7l1.4 3 -.8 2 -1.4 -2.9zM78.1 289.5l.4 3.3 -2.3 3.8 .1 -4.3zM83 293.8l2.3 1 .4 1.6 -1.2 .2zM100.4 287.7l-.2 2.2 -3.5 .8 2.4 -3.6zM101.1 292.2l.5 2 -2.9 .7 .8 -3zM102.3 283.6l-1.4 3.1 -3.3 1.6 2.2 -3.8zM88.8 283.1l1 2.6 -1.7 4.2 -1 -3.7zM87.6 289l2.8 .4 2 2.6 -3.2 .1zM101.5 293.6l2.2 -.7 2.6 2.5 -4 0zM113.6 289.5l-.4 4.8 -1.6 1.8 -.6 -2zM112.7 283.1l-1.3 3.6 -2.8 1.8 .4 -2.4zM111.8 285.5l1.9 1.2 1.6 4.3 -3 -3.2zM106.2 296.6l2.6 -.1 3.4 2.8 -4.2 0zM131.4 292.2l-.5 3.7 -2.3 .5 .1 -2.8zM133.5 286.3l1.2 1.7 -1.3 2.9 -.8 -2.2zM139.3 289.8l0 3 -4.1 1.6 2.3 -4.1zM136.4 295.2l2.6 2.9 -.2 2 -1.6 -.1zM138.6 285.5l-3.5 2.5 -3.3 .6 3.3 -2.9zM133.4 295.8l2.7 -.6 3.8 2.2 -4.6 .1zM138.9 288.8l1.2 2.7 -2 2.9 -1.2 -3.2zM146.9 297.6l3.8 -1.6 3.1 1.8 -3 1.3zM135 290.2l4.7 1.8 1.8 1.8 -3.2 -.6zM141.1 293.4l4 -2.4 2.5 1.2 -1.8 1.7zM147.5 293.2l1.1 2.7 -1.3 1.8 -1.2 -2.6zM155.2 293.6l-.4 2.6 -1.9 1.7 -.2 -2zM154.1 293l2.7 0 3.6 2.3 -4.3 0zM148.8 295.7l4.4 1.2 2.1 2.4 -2.5 -.1zM153.5 294.3l1.7 1.8 -.5 1.5 -1.9 -1.1zM163.8 297.1l-1.1 1.9 -2.8 -.7 1.6 -1.8zM165.4 289.8l-1.2 1.3 -2.6 -.4 3.1 -1.8zM172.4 294.4l2.2 -1 3.2 2.3 -3.5 .9zM171.6 287.6l-1.8 2.3 -3.1 .8 1.3 -2zM165.4 293.8l3 .9 1.4 1.6 -3.1 -.6zM71.2 300.7l.8 2.7 -2.1 2.1 -.2 -2.8zM77.1 298.9l-4.6 1.2 -2.6 -.7 2.2 -1.2zM69.2 301l2.7 .8 0 2.3 -2.4 -.2zM83.5 292.1l-.2 2.7 -1.7 2.5 -.3 -2.9zM92.5 296.7l-1.8 3.1 -2 .5 1.3 -2.2zM82.8 298.7l1.6 4.5 -.9 2.7 -1.5 -2.9zM93 305.1l-1.8 3.5 -2.7 .9 .1 -2.2zM87.6 299l-3.5 1.4 -3.3 -.7 2.3 -1.7zM93.2 304.1l2.8 -.5 4.1 3.2 -4.6 -.6zM94.3 304.7l1.5 1.4 .5 4.3 -2.5 -2.9zM95.5 297.1l-.8 3 -1.6 .9 -.5 -1zM100.3 302.9l1.3 1.6 -1.2 3.2 -.8 -3.3zM89.2 294.8l1.9 1 1.4 3.8 -3.1 -2.7zM100.1 297.2l3.6 -.6 1.6 2.2 -2.7 .7zM110.5 295.3l.9 3.6 -1.6 2.1 -1.5 -3.1zM116.6 300.6l2.6 2.6 -.2 3.4 -1.9 -2.2zM114.8 294.4l-.9 3.2 -2.4 .8 .4 -2.4zM110.7 299.6l-2.5 1.1 -2.8 -.7 2.9 -1.1zM121.5 300.5l-2.4 2.6 -2.2 -.3 1.5 -1.9zM111.7 296.5l2.4 1.9 .8 3.3 -2.2 -1.4zM132.1 303.2l-.6 3.6 -2.4 .7 .2 -2.3zM129.5 298.1l-3.8 1.1 -2.8 -1 2.9 -1.5zM142 294l-.7 4.5 -1.7 2.2 0 -2.5zM138.4 300.5l.3 3.2 -1.6 1.1 -1.2 -1zM139.9 295.6l1.9 3.1 -1 2.6 -1.4 -2.2zM132.7 293.7l1 3.2 -1.6 2.7 -.6 -3.2zM148.8 297.6l1.2 2.2 -1.1 2.4 -.9 -3.3zM148.2 297.3l2.5 .2 1.4 1.4 -1.9 .3zM143 303.4l-2.4 2.1 -3.4 .4 2.7 -2.4zM146.6 306.3l-.2 3.1 -1.3 1 -.5 -1.8zM154.9 295.2l2.9 1.4 .4 2.3 -2.3 -.3zM145.1 305.9l3 -1.3 2.7 1.9 -3.3 .6zM158.4 295.4l-.4 2.5 -2.3 1.2 .1 -2.7zM161.3 296.4l1.1 1.7 -1.6 1.9 -.4 -2.6zM171.3 302.6l-.6 3 -2.9 1.9 .7 -3.4zM161 305.6l2.3 -1.3 4.8 1.2 -4.7 .7zM165.1 301.3l2.9 3.5 -.4 2.5 -1.5 -1zM164.2 299.3l1.8 1.7 -1.9 3.1 -1.1 -4.2zM177.8 299.9l.7 3.2 -.9 2.7 -1 -2.6zM175.8 301.6l.6 1.7 -1.9 1.7 .4 -2.9zM170.4 302l-.4 1.7 -3.1 1.3 .5 -2.8zM173.5 295.4l-1.6 4.3 -1.9 1.6 .1 -2.3zM34.9 305.3l4 1.1 .3 2.3 -3.1 -.6zM52.6 311.4l-.3 2.2 -3.5 2.4 1.9 -4zM44.2 308.5l-1.6 1.9 -2.3 -.6 1.1 -1.7zM58.2 304.5l.3 3.6 -2.3 1.4 -.1 -3.3zM54.9 316.7l2.8 -.8 2.1 1.4 -3.3 .2zM56.9 305.4l3 .5 2 2.2 -3.1 -.3zM81.9 311.8l-1.9 2.1 -3 -.5 2.8 -1.9zM69.7 307.2l-1.9 2.7 -2.1 -.2 .5 -2.1zM66.8 315.2l3.6 3.2 -.6 2.5 -2.1 -1.1zM77.4 310.1l1.9 2.1 .5 4.8 -2.5 -5.1zM67.6 307.8l3.7 2.1 .9 3.1 -2.7 -.5zM68 307.5l3.1 -.5 4.1 2.4 -4.2 .3zM80.9 307.6l1.8 1.5 -1.1 3.2 -1.6 -1.9zM84.2 311.7l2.3 -1.4 3.9 2.1 -3.9 1.1zM87.1 309l1.3 -.9 2.6 1.4 -3.7 1.1zM84.6 304.6l-2.5 2.9 -3.2 -.3 1.9 -2.2zM87.7 308.8l.8 1.5 -1.4 3 -1.2 -2.9zM100.3 306.9l-2.2 3.1 -2.1 .1 .9 -2.2zM102.5 303l-.2 2.1 -2.3 2.4 .8 -3.2zM104.4 316.3l-1.3 .9 -2.9 .3 1.6 -1.5zM112.5 303.1l2.4 .8 3.7 3.2 -4.4 -1.1zM118.3 305.5l1.3 2.3 -1.1 1.3 -1.5 -.8zM108 314l2.7 -1.1 4.4 2 -3.9 .9zM129.3 313.2l-1 2.2 -2.4 1.4 1.1 -3.3zM122.7 307.5l1 2.9 -1.9 1.2 -1.1 -2zM128.2 315.5l2.3 1.5 -.1 3.1 -2.4 -2.3zM134.5 314.5l2.5 0 1.5 3.2 -2.8 -.8zM125.9 305.3l3.9 -.3 1.9 1.9 -2 1.2zM131.3 306.3l-.6 3.3 -2.1 1.2 .8 -2.8zM134.3 311l2.8 -1.4 3.1 1.3 -3.6 .7zM147.1 314.6l2 -.4 1.7 1.6 -1.5 1zM169.2 311.1l-.1 3.1 -2.4 1.7 -.1 -3.1zM161.8 314.3l3 -.5 3.6 2.4 -4.7 -1zM167.9 306.7l-1.4 1.7 -4.6 1.1 4.4 -3.3zM163.2 312.3l2.5 0 1.8 2.8 -3.9 -1.3zM182.9 314.4l-1.1 1.8 -3.3 .6 1.8 -1.9zM167 315.6l3.2 -.2 3.5 2.6 -4.1 -.3zM174.8 308.8l-.3 2.4 -2.6 1.7 1.1 -3.6zM179.5 314.4l1.6 .6 .1 2.6 -1.7 -1.1zM174.6 307.1l3.2 -1.2 3.2 2.2 -3.5 .7zM35.7 324.1l-2.6 2.6 -1.7 -1 1.7 -1.9zM28.5 318.3l4.2 1.8 .9 2.8 -3.3 -1.1zM37 324.5l-.6 1.4 -2.2 1.1 1.3 -3zM33.9 320.1l-.5 2.4 -1.9 1.6 .7 -2.8zM46.7 319.1l3.3 -1.3 2 1.2 -2.2 1.3zM46.3 322.6l-1.1 3.4 -3.6 1.6 1.2 -3.5zM50 311.9l.3 2.3 -2.8 3.7 .4 -4.7zM50.5 319.6l-1.8 2.5 -3.9 .7 2.5 -2.4zM43.7 314.3l3.2 -.5 4 1.7 -3.5 .9zM62 317.2l.2 3.9 -1.8 1.3 -.5 -1.4zM61.8 319.1l2.9 -1.5 4.6 1.1 -4 1.1zM71.5 317.4l-1.7 2 -2.2 -1.5 1.4 -1.6zM59.6 322.2l3.6 0 .1 1.9 -1.4 1.1zM70.4 321.6l-.7 1.2 -3 0 1.3 -2.2zM71.6 320.9l2.4 1.2 .4 4.4 -2.7 -2.9zM67.1 319.2l3.1 -.3 2.8 2 -4.1 .1zM78.8 323.6l.1 2.8 -2.4 2.7 -.4 -3.4zM89.2 325.1l-2.2 1.7 -5.1 -1.2 4.7 -1.7zM87.4 322.7l.8 4 -2.4 1.7 -.6 -2.7zM86.9 316.3l2.1 2.3 -.8 2.4 -2.4 -1.8zM98.9 315.3l.7 2.3 -1.3 5.1 -.7 -4.5zM92.8 315.6l2.8 2.5 .3 2.2 -1.6 -1zM101.1 315.9l-2.4 1.4 -4.1 -1.5 3.8 -1.4zM119.4 318.3l2.3 .1 .6 2.4 -2.8 -.9zM124.3 325l-2.9 2.8 -3.2 1.1 2.9 -3.2zM109 324.7l-1 1.7 -2.5 -.2 .5 -2.1zM111 322.1l-1.5 2.7 -3.3 1.4 2.2 -3.3zM130 319l-2.9 1.1 -1.4 -.7 2.1 -1zM128.5 317.3l2.5 0 1.6 1.7 -2.7 -.1zM129.1 319.7l.4 1.5 -1.8 2.1 .4 -3.2zM129.4 317.6l-1.9 1.4 -2.3 -1.2 1.8 -1.9zM127.7 318.2l2.5 .2 .8 1.8 -2.7 -.6zM136 317.9l2.7 -1.7 2.4 1.5 -1.6 1.4zM130 320.2l2.4 .7 -.5 2.8 -2 -1.4zM138.6 314.3l2.7 .2 2.5 3.6 -3.9 -.8zM128.9 321.1l.4 2.7 -1.3 1.2 -.2 -2.4zM142.4 322.4l-3.8 2.4 -2.7 -.7 2.6 -1.8zM172.5 327.3l-3.2 2 -3.2 -.6 2.2 -2.2zM157.2 321.9l2.7 -.8 1.1 1.4 -1 1zM155.5 323.4l2 .2 3 2.8 -4.8 -1.1zM176 314.4l.1 2.7 -2 1.6 -.7 -3zM35.1 325.8l1.1 1.2 -.7 2.5 -2 -2.8zM27.9 330l3.2 1.2 1.5 4.2 -4 -2.7zM37.3 325.9l2.6 1.8 2 4 -4.4 -3zM31.1 333.4l-2.5 2.1 -1.9 -.9 1.2 -1.2zM43.1 326.8l-1.1 3.3 -2.1 1.6 .7 -3.3zM49.3 328.9l.7 3 -1.8 2.4 -.7 -3.3zM38.9 330.2l1.9 .5 2.5 3.1 -4.1 -1.4zM39.3 330l1.3 2.4 -1.1 3.5 -1.5 -3zM44.1 328.7l2.8 3.1 .1 2.8 -2.3 -2.6zM58.4 332.6l3 -.8 2.1 1.1 -1.6 .7zM55.8 330l1.2 3.5 -1.6 2.2 -1 -2.8zM62.4 327.9l2.1 -.4 1.4 2.8 -2.2 .3zM66.9 329.2l3.3 -.1 2.3 2.5 -4.1 -.9zM67.7 334.5l-2.3 1.4 -3.6 -.6 2.6 -1.4zM73.1 330.1l1 2.7 -1.3 1.9 -1.2 -.7zM68.5 332.3l2.6 .5 1 3.3 -3.1 -1.6zM76.8 330l-1.9 3.7 -2.2 .3 .6 -3.1zM72.2 335.6l1.5 -1 2.1 .8 -1.2 1.1zM89.7 331.1l1.4 2.9 -.8 1.5 -1.4 -1.9zM79.4 330.8l2.3 .7 .8 1.7 -1.6 .2zM90.9 324.9l1.6 2.6 -1.1 4.9 -1.2 -5.8zM84.2 323.1l.6 3.7 -2.6 2.2 -.6 -2.7zM96.9 325.6l-3.3 2.2 -2.3 -.6 2.1 -1.4zM94.5 323.4l-.5 3.4 -2.9 1.7 .5 -3.6zM87.3 332.7l2.5 .6 .8 2.5 -2.5 -1zM90.8 330.9l-2.5 1.1 -2 -.8 1.4 -1.2zM89.1 323.5l2.2 -.5 4 2.1 -3.9 .6zM93.8 330.1l2.3 .6 1.1 1.8 -1.8 -.2zM111.8 329.5l-2.7 3.3 -3.5 .1 2.3 -3zM103.4 330.2l2.5 2.4 .2 2.1 -2 -1.3zM108.1 332l-1.3 3.1 -3.5 1.5 1.1 -3.2zM100.1 332.2l2.8 -1.7 2.8 1.1 -3.6 1.1zM106.3 327.8l2.8 -1.3 .8 1.7 -.8 1.4zM111.9 334.4l2 -.8 2.3 2.5 -3.3 0zM117.7 332.6l3.5 .1 1.5 2.7 -2.4 .3zM110.5 331.6l1.1 3.2 -1.8 2.8 -1.1 -3.6zM124.8 331.7l1.1 2.6 -2.5 2.3 -.3 -3.6zM119.2 332.1l1.4 1.4 -.1 2.5 -2.1 -1.9zM126.2 335.9l-3.7 3.1 -2.8 -.4 1.3 -2zM117.5 332.5l.7 2.1 -1.2 1.8 -1.1 -1.3zM122.1 325.8l2.8 1.3 -.2 2.7 -2.2 -.5zM125.2 332.1l1.6 .2 1.7 2 -3.2 -1zM129.6 328.5l.8 2.1 -1.4 2.6 -1.4 -2zM125.7 330l4 -.3 1.5 1.5 -1.9 .3zM135.8 324.1l-.5 2.7 -2.7 2.5 .4 -3.3zM129.4 329.3l2.3 -.4 1.1 1.1 -.4 .7zM130.2 327.6l-.7 3.4 -2.2 1.8 .2 -2.9zM127.3 324.3l1.1 3.4 -1 3 -.8 -2.4zM170.8 328.5l1.5 2.2 -1.7 4.3 -1.3 -3.5zM32.5 334.2l1.9 2.4 -1.3 1.9 -1.6 -1.7zM31.4 335.2l2.9 .1 1.3 1.7 -2.7 -.3zM35.9 344.8l-1.5 2.2 -3.4 1.6 1.4 -2.9zM29.6 342.2l.6 1.8 -2.5 2 -.4 -2.7zM37.4 335.9l-.5 2.2 -2.8 -.3 2.2 -2.8zM44 333.7l-1.7 2.4 -4.9 -.3 3.7 -2.6zM44.7 344.7l.2 3.2 -2.3 1.7 .3 -3.1zM44.7 333.6l-3.2 2 -2.6 -1 2.9 -1.6zM40.1 335.2l1.6 1.9 -1.9 3.1 -1 -3.1zM40.2 336.4l-.8 1.9 -3.6 1.2 3.3 -3.5zM52.7 340.1l2.4 0 1.9 2.1 -2.5 -.2zM68.6 343.3l-3.8 1.7 -2.9 -.7 2.7 -1.7zM67 335.7l.8 3.2 -1.8 3.9 -1 -5zM59.9 343.3l3.1 -.2 1.9 2.1 -1.8 1.1zM60.1 335.1l-1.8 1.1 -2.1 -1.2 1 -1.5zM63.7 341.7l2.1 -1 2.1 1.5 -3.4 0zM73 341l2.5 0 2.1 2.2 -2.4 0zM75.8 334l1 1.9 -.7 3.4 -.9 -3.4zM65.8 343.7l2.1 .6 1.4 3.3 -3.2 -2.6zM67.2 334.8l3.3 .3 1.8 2.2 -3.8 -.2zM78.9 343.6l.3 2.6 -1.7 1.5 -.1 -2.7zM71.9 345.7l-2.1 .9 -5.2 -.4 5.2 -1.5zM83.5 333.5l1.5 3.2 -1.7 4 -1.3 -3.5zM83.3 334.1l-.5 2.8 -2.3 1.6 .8 -2.5zM87.6 341.1l.5 3.5 -2.5 2.4 -.7 -2.4zM87.7 341l.2 2.3 -1.4 1 -.1 -2.5zM77.9 339.4l1.7 4.2 -1.3 1.7 -1.3 -1.9zM102.9 333.7l-1.1 1.6 -2.8 .4 1.1 -1.7zM98.6 344.9l2.4 1.1 -.3 2.2 -2.4 -.6zM103.8 335.3l-2.4 1 -3.7 -1 4 -1.8zM97.8 332.8l2.4 2.8 -.6 2.5 -2 -.5zM88.4 339.3l4.9 1 2 1.5 -3 0zM107.9 333.1l0 1.9 -2.7 1.5 .9 -3.2zM111.6 339.2l-.6 4.7 -1.7 2.1 -.1 -2.5zM97.9 338.2l1.6 .7 .8 2.4 -1.8 0zM96.8 341.9l2.2 -.8 1.7 1.7 -2.1 .8zM99.2 335.1l3.4 .5 2.1 2.8 -3.5 -1.1zM110.4 336.3l1.2 2.6 -.2 3.8 -1.6 -4.2zM106.7 344.1l3.2 -.5 2.7 2.7 -3.3 .3zM116.6 336.1l2.1 2.7 .3 1.9 -1.9 -1.5zM154.2 343.8l-3.5 .7 -3 -1.2 3.8 -1.1zM152.6 347.8l-2.1 .7 -4.7 -.9 3.6 -1.1zM147.2 344.4l1.6 2.6 -1.7 2.1 -1.2 -1.8zM148.4 336.5l2.5 2.7 -.2 1.6 -1.4 -1.1zM157.1 334.1l-1.7 3.2 -1.9 .2 -.2 -1.6zM151.9 343.9l-2.6 3 -3.5 1.1 2.5 -3.1zM157.9 333.3l4.2 .8 .8 2.1 -2.2 .3zM178.4 341.2l.3 2.4 -3 2.3 .3 -4zM42.3 352.7l-1.1 3.7 -3.5 2.2 2 -4.6zM33.3 344.8l-2.6 1 -3.1 -.7 3.7 -1.6zM31.4 350l3.4 -.9 1.7 1.7 -2.5 1.3zM33.9 351.2l1.7 1.1 .1 3.5 -2.5 -2.2zM45.9 353.7l0 1.6 -2 2.5 .1 -2.9zM43.9 352.6l2.4 4 -.4 2.6 -1.4 -1.6zM42.8 352.6l2.1 -1.6 4 1.4 -3.2 1.6zM42.2 346.5l-2.2 3 -2.8 1.5 1.4 -3zM41 354.5l1.2 2.6 -1.3 3.3 -1.5 -3.6zM68 343.8l.6 2 -.8 3.6 -.8 -4zM67.7 354.8l1.9 1.2 3.3 3.8 -4.2 -2.2zM71.8 346.8l-3.2 2.6 -3 -.9 1.6 -1.9zM71.5 350.4l-1 2.1 -2.2 -.4 .8 -1.5zM67.9 345.8l-.1 2.9 -2 1.3 .6 -2.9zM78.5 350.1l.8 4.8 -1.9 2.6 -1.1 -2.5zM66.8 342l3.6 1.5 1.2 2.8 -3.4 -.8zM71.4 355.8l-2.2 2.1 -2 -1 .7 -1.8zM67.9 355.4l1.6 -1.5 3.1 2.1 -2.5 1.1zM75.2 355.3l2.3 -1.8 3.2 1.7 -4.4 1.1zM91.5 344.9l-1 2.1 -4 2 2.7 -3.7zM88.4 347l.1 2.5 -3 2.3 .1 -3.2zM90.4 350.8l1.3 2.5 -1.6 2.5 -1.2 -2.1zM85.1 352.8l2.1 .9 .6 2.5 -1.6 -.3zM88.5 346.9l1.5 2.5 -.9 1.3 -1.4 -1.6zM90.9 349l2.6 -1 3.5 1.8 -3.9 .7zM99.2 350.1l-.8 2.6 -2.5 1.8 1.5 -3.3zM100.8 341.3l.8 3.1 -1.7 2.2 -.4 -2.8zM91.2 347l5 -.2 2.1 1.5 -2 .5zM102.8 349.5l-3.5 1.3 -3.4 -1.2 3.4 -1.3zM101.7 353.9l-1.7 3.3 -2.5 1.2 .8 -2.5zM100.7 348.3l2.9 -.7 3.2 2.4 -4.6 0zM108.4 349.5l2.2 2.9 -.4 3 -2 -1.6zM98.6 354.2l.5 1.9 -1.8 2.3 .1 -2.9zM118.1 350.4l1.1 2.1 -1.1 4.3 -1.8 -4.1zM148.3 351.5l2.5 .1 1.9 2.2 -3.2 -.4zM157.4 345.9l-1.4 3.3 -4.3 1.4 3.4 -3.6zM150.1 346.5l3.1 .5 1.5 2.4 -2.4 -.1zM162 347.4l2.2 1.3 0 2.5 -2.5 -.9zM33.5 360.2l1.2 1.6 -1.6 3.4 -1.5 -3zM44.5 358.5l4.3 .2 1.6 2.1 -3 -.1zM62.8 356.8l2.7 1.2 1.6 3.7 -3.7 -2.2zM68.4 357.2l1.5 -1.2 3.2 1.3 -3 1.1zM62.4 352l-.2 2.2 -2.3 .9 1.3 -2.7zM61.5 362.9l1.3 3.5 -1.8 2.5 -.6 -4zM79.7 361.6l-.6 2 -3 -.1 1.3 -2.1zM75 358.5l-2.1 4.5 -2.6 .9 .8 -2.7zM79.8 360.6l2 1.1 -.7 2.5 -1.7 -2zM75.3 355.9l.7 3.6 -1.5 3.6 -.9 -4zM77.9 356.4l2.5 .5 .5 2.9 -3.1 -2.1zM78.4 359.1l3.6 1 .9 3.1 -3 -1.1zM83.1 355.4l.6 4.1 -1.7 3.2 -.8 -3.1zM85.2 362l5.1 .6 1.9 2 -2.1 .9zM88.8 352.8l-1.2 1.5 -4 .8 4 -2.9zM89 365.1l-.5 1.8 -3.1 1 .9 -2.6zM88.5 360.1l2.1 2.4 -.7 2.3 -1.9 -1zM97.6 351.3l-.7 4.5 -2.8 1.9 .2 -3.7zM95.7 361.8l2.7 1.1 .4 3 -2.7 -1.9zM84.7 359.4l1.9 -1.4 3.1 2.2 -3.8 .8zM110.6 353.7l1.6 3.1 -1.1 3.5 -1 -4.1zM104.7 362.1l-.4 3 -2.9 1.6 1.8 -3.6zM108.4 357.1l-.8 3 -2.7 2.5 1 -3zM101.7 353.3l3.5 1 1.1 2.2 -1.9 .6zM116.9 356.6l-1.8 1.8 -2.1 -.6 .9 -1.4zM160.1 351.7l1.2 1.7 -.9 3.7 -1.5 -2.8zM171.4 357.8l-2.6 2.4 -1.9 -.6 .7 -1.3zM166 360.9l2.3 .4 1.1 2.6 -3.1 -.3z" fill="#463ba2" stroke="#1d1742" stroke-width="0.6" stroke-linejoin="round"/>
<path d="M57.6 266.1l.4 1.3 -1.4 2.2 .3 -3.1zM69.7 259.8l-3.7 .3 3.7 .5zM80.1 255.3l1.1 0 .4 1.1 -1 .2zM82.1 261.8l5.9 3.1 -5.9 -2.3zM89.7 262.5l2.2 .2 .5 1 -1.5 .1zM92.9 263.3l1.9 6.4 -1.9 -5.6zM83.5 261.1l-3.4 -.6 3.4 1.4zM92.4 265.4l2.9 2.6 -2.9 -1.8zM95.1 258.1l-1.3 .8 -1.1 -.7 1.3 -.8zM109.9 265.4l-4.8 .4 4.8 .4zM122.3 259.2l.1 1.6 -1.2 1.3 0 -1.4zM119.8 262.7l-2.6 4.3 2.6 -3.5zM120 257.9l-4.1 1.3 4.1 -.5zM119.6 256.9l-1.4 1.4 -1.1 -.2 .1 -.8zM116.6 258.4l-5.4 1.8 5.4 -1zM139.3 261.3l.2 .9 -1.1 1.3 .4 -2.1zM145.5 257.4l0 1.5 -.9 .5 -.4 -.7zM142.3 260.7l-1.2 .2 -2.4 -.6 2.1 -.4zM146.9 258l1.5 -1 1 .7 -.6 .7zM150.9 256.6l0 1.1 -.5 .9 -.2 -1.3zM145.7 258.3l-5.4 1.1 5.4 -.3zM163.4 267l-.3 1.1 -2.1 .8 1 -1.7zM160.3 270.8l-.4 4.7 .4 -3.9zM162.2 268.3l-1.9 .8 -.9 -.5 .5 -.6zM157.8 267.8l-4.8 4.5 4.8 -3.7zM175.8 256.7l1.9 -.1 1.7 1.3 -1.6 .3zM61.3 273.9l5 .4 -5 .4zM90.1 277.1l2.5 5 -2.5 -4.2zM86.8 267.9l-3.2 .9 3.2 -.1zM108.5 264.4l1.2 .3 .4 .8 -1.2 -.3zM101.4 268.9l1.2 3.2 -1.2 -2.4zM111.3 268.3l-.8 1.8 -1 .5 .2 -.9zM108.8 270.4l-3.3 3.7 3.3 -2.9zM111.6 276.8l4.3 1.2 -4.3 -.4zM121.2 276l.8 .9 .2 1.9 -1 -1.6zM121.7 279.1l3.6 4.1 -3.6 -3.3zM113.5 275.8l1.1 -.7 1.3 1.1 -1.6 .3zM123.3 271.8l2.3 3.9 -2.3 -3.1zM121.7 264.7l-.4 1.5 -.9 .3 -.1 -1zM121.9 273.4l-4.5 4.5 4.5 -3.7zM140.3 270.2l4.5 -1.3 -4.5 2.1zM144.8 265l.7 .6 -.5 1.4 -.6 -1.4zM145.4 267.8l-2.2 2.8 2.2 -2zM152.7 272.5l-1.3 1.7 -1.4 .5 .4 -1.2zM149.8 274.9l1.6 .6 .3 1 -.8 .1zM151.9 277.6l5.5 1.5 -5.5 -.7zM150.1 267.9l-.4 1.5 -1.2 .1 .3 -1.1zM151.3 275.5l4.7 3.9 -4.7 -3.1zM180.2 268.4l5.3 -2.2 -5.3 3zM168.2 269l-4.6 1.3 4.6 -.5zM68.2 278.3l1.1 1.3 .4 1.6 -1.4 -1.4zM74.9 286.3l1.1 -.2 1 .9 -1.8 .1zM77.8 278.1l-1.3 .9 -1.1 -.2 .5 -.6zM74.6 278.8l-5.3 3.4 5.3 -2.6zM79.2 286.8l-1.8 4.6 1.8 -3.8zM79.4 281.8l2.8 2.2 -2.8 -1.4zM83 274.6l.4 1 -1 1.9 -.3 -2.2zM93.1 278.7l.7 1 .1 1.2 -.7 -.7zM109.8 274l1.2 .9 -.2 .8 -1 -.4zM110.9 276.8l3.5 3.9 -3.5 -3.1zM99 283.4l1.1 .3 1 1.6 -1.9 -1.1zM119.4 279.4l-.1 3.5 .1 -2.7zM111.7 279.4l-1.6 .9 -1.3 -.6 .9 -.8zM121.1 274.9l1 .1 .1 1.4 -1 -.1zM138.9 277.7l1.4 3.9 -1.4 -3.1zM124.9 284.4l-3.3 5.7 3.3 -4.9zM149.5 284.9l-.9 1.5 -1.6 .5 1.3 -1.5zM161.4 280.2l-1.7 3 1.7 -2.2zM169.9 288l-1.7 5.3 1.7 -4.5zM159.3 276.7l2.3 .1 .7 .9 -1.3 .1zM70.4 290.1l-3.4 -.5 3.4 1.3zM80 283.1l.4 1.6 -.6 .8 -.6 -1zM79.3 287.2l1.3 5.1 -1.3 -4.3zM77.8 286.6l1.3 .5 .7 1.1 -1 -.2zM84.9 284.5l-1.2 .3 -.8 -.4 .8 -.6zM80.4 288.7l.8 1 .1 1.5 -1 -.7zM85.6 296.1l5.3 .7 -5.3 .1zM106.3 294.8l3.8 2.4 -3.8 -1.6zM112.5 291.7l-.2 2.4 -.8 .9 -.3 -1zM112.3 298.5l5.1 2.9 -5.1 -2.1zM129.5 293.4l-.2 1.8 -1.2 .2 .1 -1.3zM128.4 295.8l-.9 4.4 .9 -3.6zM135 293.8l-2.7 4.1 2.7 -3.3zM138.5 299.9l5.8 2.7 -5.8 -1.9zM139.9 297l5.4 .9 -5.4 -.1zM147.1 297.3l1.2 3.7 -1.2 -2.9zM153.8 294.2l-.2 1.2 -.9 .9 -.1 -1zM155.5 298.5l3.3 4.3 -3.3 -3.5zM161.5 290l-3.4 .8 3.4 0zM167 290.8l-6.1 -1 6.1 1.8zM167.1 294.6l1.5 .4 .8 .8 -1.6 -.3zM70 299.6l-3.6 -.4 3.6 1.2zM82.2 301.3l.8 2.3 -.4 1.3 -.8 -1.4zM88.8 309.3l1.2 6.5 -1.2 -5.7zM87 300.1l-1.7 .7 -1.6 -.4 1.1 -.8zM95 306.8l.8 .7 .2 2.2 -1.2 -1.5zM93.2 300.7l-3.9 5.3 3.9 -4.5zM109.4 300.5l-2.6 5.3 2.6 -4.5zM116.2 301.5l1.3 1.3 -.1 1.7 -1 -1zM114.5 294.5l-.4 1.6 -1.3 .4 .3 -1.2zM111.4 297.9l.5 5 -.5 -4.2zM105.4 300l-3.2 2.9 3.2 -2.1zM122.9 297.6l-4.3 3.1 4.3 -2.3zM132.7 299.2l-1.8 4.1 1.8 -3.3zM152.2 298.3l3.6 5 -3.6 -4.2zM156.2 295l1.5 .7 .2 1.2 -1.1 -.2zM150.7 306.7l2.8 -1.4 -2.8 2.2zM168.1 305.4l4.7 4.1 -4.7 -3.3zM167.7 306.8l-1.9 3.8 1.9 -3zM164.2 300.9l.9 .8 -1 1.5 -.5 -2.1zM164.6 303.7l-3.7 3.7 3.7 -2.9zM168.7 301.6l-.1 .8 -1.6 .7 .3 -1.4zM167 304.8l-4.6 .5 4.6 .3zM35.3 305.7l2 .5 .2 1.2 -1.6 -.3zM48.8 315.6l-3.1 .5 3.1 .3zM40.2 309.2l-3.6 -.1 3.6 .9zM56.5 309.2l1.6 3.6 -1.6 -2.8zM55.6 315.8l1.5 -.3 1 .6 -1.6 .2zM59.9 316.5l3.4 1.8 -3.4 -1zM58.4 305.4l1.5 .2 1 1.1 -1.5 -.1zM79.9 316.6l.4 4.5 -.4 -3.7zM68.8 308.8l1.9 1.1 .4 1.5 -1.4 -.2zM72.1 312.8l3 .2 -3 .6zM81.5 308l.9 .7 -.6 1.6 -.8 -.9zM81.8 311.9l2.8 3.8 -2.8 -3zM91 309.4l4 3.5 -4 -2.7zM79 306.8l-5.7 1.2 5.7 -.4zM100.2 317l-3.5 4.6 3.5 -3.8zM119.2 307.5l.7 1.1 -.6 .7 -.7 -.4zM115.1 314.5l4.8 -.6 -4.8 1.4zM129.1 314l-.4 1.2 -1.2 .6 .5 -1.6zM129.7 306.4l-.3 1.6 -1.1 .6 .4 -1.4zM162.1 309.5l-4 .4 4 .4zM163.5 313l1.3 .1 .9 1.4 -1.9 -.7zM178.8 316.9l-1.4 3.5 1.4 -2.7zM173.9 309.5l-.2 1.2 -1.3 .9 .6 -1.8zM172.1 312.6l-1.4 3.3 1.4 -2.5zM181 317.2l3.3 1.4 -3.3 -.6zM31.4 325.4l-3.5 5 3.5 -4.2zM34 322l.6 4.8 -.6 -4zM32.8 320.6l-.3 1.2 -.9 .8 .3 -1.4zM31.4 323.6l-1.5 3.1 1.5 -2.3zM48 317.7l1.7 5.1 -1.7 -4.3zM44.6 321.8l-3.3 .3 3.3 .5zM50.9 315.1l4.3 -1 -4.3 1.8zM61.2 318.5l.2 1.9 -1 .6 -.2 -.6zM63 318.5l1.5 -.8 2.3 .6 -2 .5zM67.6 317.7l-4.7 -.6 4.7 1.4zM68.3 320.3l1.5 -.1 1.5 1 -2.1 0zM78.5 325.9l0 1.4 -1.2 1.3 -.1 -1.7zM88 320.7l2.3 4.9 -2.3 -4.1zM94.6 315.8l-6.4 .5 6.4 .3zM117.9 328l-4.8 3 4.8 -2.2zM108.1 325.9l-.5 .9 -1.3 -.1 .3 -1zM127.8 319.4l-1.4 .6 -.7 -.4 1.1 -.5zM125.3 317.8l-1.9 4 1.9 -3.2zM130.9 319.9l1.7 4.6 -1.7 -3.8zM141.1 317.3l3.7 .3 -3.7 .5zM128.1 324.7l2.5 4.4 -2.5 -3.6zM136 324.2l-5.4 2.2 5.4 -1.4zM160.5 326l4.6 4 -4.6 -3.2zM35.9 327.6l.6 .6 -.4 1.3 -1 -1.4zM35.8 329l.5 3.5 -.5 -2.7zM42 331.1l.9 3.6 -.9 -2.8zM48.9 331.2l.4 1.5 -.9 1.2 -.3 -1.7zM39.3 330.1l.9 .2 1.3 1.6 -2.1 -.7zM39.9 331.7l.7 1.2 -.6 1.7 -.7 -1.5zM64.2 327.3l1 -.2 .7 1.4 -1.1 .1zM66.6 334.7l-1.1 .7 -1.8 -.3 1.2 -.7zM61.8 335l-2.8 2.5 2.8 -1.7zM72.4 333.3l-.6 3.5 .6 -2.7zM90 326.9l.7 1.3 -.5 2.5 -.6 -2.9zM90.9 332l-2 3.8 2 -3zM82.1 328.6l1.9 5.8 -1.9 -5zM90.9 328l-2.7 4.2 2.7 -3.4zM89 330l-1.3 .5 -1 -.3 .7 -.7zM86.3 330.8l-4.8 -3.4 4.8 4.2zM95.4 324.3l3.7 3.5 -3.7 -2.7zM110.7 329.9l-1.4 1.6 -1.7 0 1.1 -1.5zM109.9 327.9l4.1 -1.9 -4.1 2.7zM122.6 335.2l5.5 3.4 -5.5 -2.6zM109.4 337.1l2 3.8 -2 -3zM123.6 336.2l-4 5.4 4 -4.6zM120.1 332.8l.7 .7 -.1 1.2 -1 -.9zM124.3 336.3l-1.9 1.5 -1.4 -.2 .7 -.9zM117.6 333.3l.3 1 -.5 .9 -.6 -.7zM122.3 327.4l1.4 .6 -.1 1.4 -1.1 -.3zM126 333.4l.8 .1 .9 .9 -1.6 -.4zM128.4 334l1.9 3.1 -1.9 -2.3zM132.1 328.6l-3.2 5.2 3.2 -4.4zM33.7 334.5l1 1.2 -.7 1 -.8 -.9zM28 343l.3 .8 -1.2 1.1 -.2 -1.4zM36.2 337.6l-.3 1.1 -1.4 -.2 1.1 -1.4zM34.1 337.6l-3.5 .6 3.5 .2zM39.3 337.3l-.4 1 -1.8 .6 1.6 -1.7zM54.1 340l1.1 0 1 1.1 -1.3 -.1zM62.1 344.5l-1.9 3.5 1.9 -2.7zM65.8 342.4l-2.5 2.1 2.5 -1.3zM67.9 341.8l1.8 3.3 -1.8 -2.5zM74 341.1l1.3 0 1 1.1 -1.2 0zM76 334.8l.5 1 -.4 1.7 -.4 -1.7zM69.4 347.2l-.8 4.9 .8 -4.1zM77.6 343.5l.2 1.3 -.9 .8 -.1 -1.3zM64.6 345.9l-2.2 3.6 2.2 -2.8zM85.8 346.7l.2 5.1 -.2 -4.3zM102.4 334.8l-1.2 .5 -1.8 -.5 2 -.9zM97.7 335.2l-3.2 -.2 3.2 1zM104.9 335.9l-2.7 2.2 2.7 -1.4zM97.9 339.1l.8 .4 .4 1.2 -.9 0zM100.4 340.8l2.7 5.4 -2.7 -4.6zM111.1 342.3l2.1 3.6 -2.1 -2.8zM117.8 336.4l1.1 1.3 .1 1 -.9 -.8zM148.4 338.3l1.2 1.3 0 .8 -.8 -.5zM150.3 340.6l1.4 3.4 -1.4 -2.6zM157.2 335l-.9 1.6 -1 .1 -.1 -.8zM153.4 337l-5.8 1.1 5.8 -.3zM36.5 350.7l4.8 -2.6 -4.8 3.4zM46.5 358.5l3.2 3.2 -3.2 -2.4zM41.4 355l.6 1.3 -.6 1.6 -.8 -1.7zM41.1 360l-3.6 3.6 3.6 -2.8zM67.2 348.9l1.9 3.1 -1.9 -2.3zM71.3 351.9l-.6 1 -1 -.2 .4 -.7zM68.4 351.9l-5.4 3.5 5.4 -2.7zM76.3 355l1.2 -.9 1.5 .8 -2.2 .6zM90.5 355.4l.6 5.4 -.6 -4.6zM89.1 347.9l.8 1.2 -.5 .7 -.7 -.8zM106.8 349.6l3.7 2 -3.7 -1.2zM118.2 356.4l2.9 6 -2.9 -5.2zM152.9 353l5 -1.5 -5 2.3zM155.4 346.7l-.7 1.7 -2.2 .7 1.7 -1.8zM154.7 349l6.3 -.3 -6.3 1.1zM162.6 348.9l1.1 .7 -.1 1.2 -1.2 -.4zM50.6 359.9l4.8 .4 -4.8 .4zM62.1 353l-.1 1.1 -1.2 .4 .7 -1.4zM81.2 363.8l.9 6.4 -.9 -5.6zM74 357.4l.3 1.8 -.7 1.8 -.5 -2zM74.3 362.7l3.1 4.7 -3.1 -3.9zM79.7 357.6l1.3 .3 .2 1.4 -1.5 -1.1zM81.1 359.3l4.1 3.6 -4.1 -2.8zM82.6 356.1l.4 2 -.9 1.6 -.4 -1.5zM92.1 364.5l2.7 2.9 -2.7 -2.1zM87.7 366.8l-.2 .9 -1.6 .5 .5 -1.3zM90.2 364.3l4 5.1 -4 -4.3zM95.8 353.7l-.4 2.2 -1.4 1 .1 -1.9zM99 365.4l2.8 1.7 -2.8 -.9zM86.3 359l.9 -.6 1.5 1 -1.8 .4zM89.8 359.3l3.1 1.9 -3.1 -1.1zM113.1 357.8l-3.3 -.6 3.3 1.4zM160.5 356.7l-2.3 3.2 2.3 -2.4zM171.4 357.7l-1.3 1.2 -1 -.4 .4 -.6z" fill="#1d1742" stroke="#1d1742" stroke-width="0.6" stroke-linejoin="round"/>
<path d="M64.6 262.7l.1 .7 -1.1 .9 .2 -1.7zM79.3 261.2l.1 1.4 -1.2 1.2 .1 -1.3zM72.3 257.9l-.8 1.2 -.8 .2 0 -.5zM74.3 267.9l-.3 .9 -1 1.1 .3 -1.5zM127 265.1l-.9 .8 -1 -.7 1 -.7zM148.6 260.6l1.4 .6 .9 1.1 -1.2 -.1zM61.5 273.5l-.1 1.1 -1.2 1.2 0 -1.3zM91 272.7l-.1 1 -.7 2 -.1 -1.9zM88.3 273.5l-.7 1.1 -.9 .2 .4 -.9zM94 273.8l1.2 1.4 -.4 1.4 -.9 -.8zM101.6 273.5l-.7 1 -1.4 .3 .5 -1.2zM100.4 271.6l1.6 1.3 .3 1.2 -1 -.5zM127.2 266.2l-.8 .9 -1.2 .2 .3 -.9zM122.9 271.9l-1 .8 -.8 -.5 1 -.7zM125.9 272.5l-1.5 .8 -1 -.2 1.1 -.7zM159.3 266.6l.8 .5 -.3 1 -.8 -1.2zM171.8 266.6l-.6 1.4 -1.5 .5 .9 -1.7zM88.3 277.6l.9 -.2 .9 1.3 -1.4 -.5zM92.8 281.5l-.1 1.6 -1.3 1.3 .2 -2zM116.4 288.6l.9 -.4 .9 .6 -1.1 .4zM128.6 279.6l.3 1 -1 .6 -.1 -.8zM128.1 281.1l-.6 1.9 -1.3 .5 .2 -1.2zM137.4 277l0 1.5 -.7 1.6 0 -1.7zM147.3 277.4l-.9 1.1 -1.5 0 1.2 -1.3zM168.7 285.7l.9 .8 -.2 .9 -.8 -1zM171.2 279.8l.7 .7 -.4 1.1 -.7 -.8zM178.1 277.7l-1.3 1.2 -1 0 .7 -.9zM42.2 290.1l.2 1.7 -.9 .4 -.2 -.9zM76.4 294.3l0 .9 -1.4 .5 .7 -1.7zM111.6 284.5l-.6 1.7 -1.3 .8 .2 -1.1zM138.5 290.3l.5 1.2 -.9 1.4 -.5 -1.5zM136.8 291.2l2.1 .8 .8 .8 -1.4 -.3zM147.4 294.4l.5 1.2 -.6 .9 -.5 -1.2zM155.8 293.6l1.3 0 1.6 1.1 -2 0zM153.6 295.3l.8 .8 -.2 .7 -.9 -.5zM173.9 294.9l.9 -.4 1.5 1 -1.6 .4zM75.1 299.1l-2 .5 -1.3 -.3 1.1 -.5zM91.5 297.7l-.9 1.4 -.9 .2 .7 -1zM94.8 298.1l-.4 1.4 -.7 .4 -.2 -.4zM89.9 296.2l.9 .5 .6 1.7 -1.4 -1.2zM109.3 299.8l-1.2 .5 -1.2 -.3 1.3 -.5zM141.4 303.9l-1.1 1 -1.5 .1 1.2 -1.1zM146.7 306.1l1.3 -.6 1.2 .9 -1.4 .2zM165.9 302.9l1.4 1.5 -.2 1.2 -.7 -.5zM175.4 302.6l.4 .7 -.9 .8 .1 -1.3zM57.8 305.9l.1 1.6 -1 .7 0 -1.5zM68.5 307.9l-.8 1.2 -1 -.1 .3 -1zM67.8 316.7l1.6 1.5 -.2 1.1 -1 -.5zM70 307.9l1.4 -.2 1.8 1.1 -1.9 .1zM83.1 305.5l-1.1 1.2 -1.5 -.1 .9 -1zM109.9 314.2l1.3 -.5 1.9 .9 -1.7 .5zM135.9 310.8l1.3 -.6 1.4 .6 -1.6 .3zM166.3 307.6l-.6 .8 -2.1 .4 2 -1.4zM181.8 315.3l-.5 .8 -1.5 .2 .8 -.8zM34.5 324.7l-1.1 1.2 -.8 -.5 .8 -.8zM49.5 313.6l.1 1 -1.3 1.7 .2 -2.1zM45.7 314.7l1.4 -.2 1.8 .8 -1.6 .4zM60.7 322.7l1.6 0 .1 .9 -.7 .4zM72.5 322.4l1.1 .5 .2 2 -1.2 -1.3zM87.2 325.3l-1 .7 -2.3 -.5 2.1 -.8zM87.2 324.3l.4 1.9 -1.1 .7 -.3 -1.2zM122.4 325.8l-1.2 1.3 -1.5 .5 1.3 -1.5zM129.6 317.9l1.1 0 .7 .7 -1.2 0zM128.2 317.6l-.8 .7 -1.1 -.6 .8 -.8zM130.6 321.1l1 .4 -.2 1.2 -.9 -.6zM170.7 327.5l-1.4 .9 -1.5 -.3 1 -1zM29.3 331.4l1.4 .6 .7 1.8 -1.8 -1.2zM29.9 334l-1.1 .9 -.9 -.4 .6 -.5zM45 330.3l1.2 1.4 .1 1.3 -1.1 -1.2zM55.6 331.5l.6 1.6 -.8 1 -.4 -1.3zM75.4 330.9l-.8 1.7 -1 .1 .3 -1.4zM101.6 332l1.3 -.8 1.3 .5 -1.7 .5zM107.3 327.9l1.3 -.6 .3 .7 -.3 .7zM124.6 333.1l.5 1.2 -1.1 1 -.2 -1.6zM127.6 326l.5 1.5 -.5 1.4 -.3 -1.1zM32.5 335.7l1.3 .1 .6 .7 -1.2 -.1zM42.2 334.4l-.8 1.1 -2.1 -.1 1.6 -1.3zM44.3 346.1l.1 1.5 -1 .8 .2 -1.4zM40.1 336.6l.7 .8 -.9 1.4 -.4 -1.4zM66.5 337.6l.4 1.5 -.8 1.7 -.5 -2.2zM82.6 335.3l-.3 1.3 -1 .7 .3 -1.2zM78.1 341l.8 1.9 -.6 .8 -.6 -.9zM99.1 345.8l1.1 .5 -.1 1 -1.1 -.3zM110.9 341.1l-.2 2.1 -.8 1 0 -1.2zM97.8 342.2l1 -.3 .8 .7 -1 .3zM100.7 336l1.5 .3 1 1.2 -1.6 -.5zM108.3 344.8l1.4 -.2 1.2 1.2 -1.5 .1zM150.2 345.1l-1.1 1.3 -1.6 .5 1.1 -1.4zM40.9 354.2l-.5 1.7 -1.6 .9 .9 -2zM45.2 354.7l-.1 .8 -.8 1.1 0 -1.3zM40.8 347.6l-1 1.4 -1.3 .7 .7 -1.4zM69.1 356.1l.9 .6 1.5 1.7 -1.9 -1zM78.3 352.2l.4 2.1 -.9 1.2 -.5 -1.1zM98.2 351.2l-.3 1.2 -1.2 .8 .7 -1.5zM100.9 349.7l-1.6 .6 -1.5 -.6 1.5 -.6zM100.5 355.1l-.7 1.5 -1.2 .5 .4 -1.1zM108.8 351.2l1 1.3 -.2 1.3 -.9 -.7zM149.6 352l1.1 .1 .8 1 -1.4 -.2zM33.5 361.6l.5 .7 -.7 1.5 -.7 -1.3zM80.3 361.5l.9 .6 -.3 1.1 -.7 -.9zM79.8 360.1l1.6 .5 .4 1.4 -1.4 -.5zM87.3 353.4l-.5 .7 -1.8 .4 1.8 -1.4zM104 363.5l-.2 1.4 -1.3 .7 .8 -1.6zM115.9 357.1l-.8 .8 -1 -.3 .5 -.6z" fill="#7266cc"/>
</g></g>
<clipPath id="mc2"><rect x="185.7" y="257.4" width="150.1" height="107.8"/></clipPath>
<g clip-path="url(#mc2)"><g filter="url(#mblur)">
<rect x="183.7" y="255.39999999999998" width="154.1" height="111.8" fill="#bfc2b1"/>
<rect x="183.7" y="255.39999999999998" width="154.1" height="111.8" fill="url(#spk)"/>
<path filter="url(#halo)" d="M195.3 267.4l-.7 2.8 -1.4 .9 -.6 -.9zM216.4 267.3l-2.4 1.4 -3.7 .5 2.5 -1.8zM215.8 266l-.2 4.1 -1.8 1.3 -.9 -1.7zM202.6 266.8l2.1 -1.1 4 1.6 -4.3 .2zM213.5 265.7l.6 2.8 -1.5 1.9 -.6 -2.6zM204.2 266.8l1.9 2.9 -.8 1.9 -1.5 -1.4zM218.9 258.3l.1 2.4 -1.2 1.7 -.5 -1.5zM220.9 264.4l0 3.4 -2 1.8 -.5 -2zM221.8 266.3l3.3 -1.1 2.6 1.7 -3.4 1.3zM213.9 255.1l3.4 -.6 3.8 2.4 -5.2 -.6zM228.3 266.1l-.6 1.7 -2.5 .2 1.7 -2.2zM218 258.9l1.8 -1.1 2.6 1.7 -2.7 .4zM221.1 261.5l2.9 .8 2.5 4.3 -4 -1.6zM225 263.1l2.1 3 .1 3.8 -2.6 -3.2zM237.1 267.8l-1.4 1.8 -2.6 -.2 2.3 -2.1zM225.6 259.6l1.4 2.3 -1.8 4.6 -.7 -4.5zM227.1 255.8l-1.7 1.5 -2.4 -.9 1.5 -1.4zM242.6 264.7l2.2 1.7 1.2 4.1 -3 -2zM247.2 255.4l1.8 1.7 .3 3.3 -2 -1.7zM241.9 267l2.5 .3 2.6 2 -4.2 -.6zM241.9 261.8l3.4 -1.1 3.3 1.8 -3.7 .6zM243.4 261.6l1.8 1.4 .9 4.8 -3.6 -4.3zM263.4 263.7l-2.4 1.1 -3.6 0 2.8 -1.5zM261.4 262.8l-2.3 1.5 -1.8 -.7 .5 -1.3zM260.3 262l2.3 1 -.1 2.8 -2 -1.5zM252.3 262.5l3 .2 1.2 2.1 -3 .2zM255.3 253.9l2.7 .6 1.5 2.7 -3.6 -.5zM264.9 260l1.1 2.3 -.9 2.3 -1.5 -2.6zM301 257.9l2.2 1.1 1.1 3 -3.2 -1.1zM298.2 266.3l4.1 1.3 1.1 2.3 -2.5 -.3zM295.4 261.5l2.3 .9 2.1 4.2 -3.8 -3.3zM297.7 254.5l-1.2 2 -2 .4 .4 -1.7zM308.2 258.5l2 -1 2.1 1.8 -2.2 .5zM315.5 260.3l1.6 1.7 -.1 1.6 -1.6 -.9zM305.9 262.2l1.6 2.6 -1.4 1.9 -1.7 -2.2zM323.4 257.3l.9 1.2 -.3 2.6 -1.9 -2.6zM319.4 257.3l3 -1.6 2.2 1.5 -2.3 1.3zM313.5 262.2l1.6 -1 2.8 1.3 -3.6 .7zM319.2 255.1l-1.2 3 -2.6 1.5 .6 -3.3zM312.1 259.9l4.4 .8 2 1.7 -3.1 -.2zM333.5 259.6l3.3 -.6 1.3 1.6 -2.6 .2zM329.8 262.4l.8 4 -1.6 2.5 -1.2 -2.6zM330.5 264.2l1.7 2.2 -1 1.6 -1.1 -.9zM330.5 266.1l2.3 3 -.4 2.6 -1.8 -1zM334.6 260.9l-.5 3.1 -1.8 1.3 .8 -2.9zM188.9 264.2l1.3 .5 1.7 2.6 -3.5 -1.6zM192.2 271.9l2.7 -1.1 1.3 2 -2.8 .5zM200.9 275.2l4.1 .8 2.1 3.3 -4.2 -1.2zM211.1 267.9l1.4 1.5 -.1 2.7 -2.1 -2.4zM227.3 272.4l.4 2.1 -1.4 1.9 -.9 -2.1zM221.2 266.8l-.3 2.4 -2 .5 .2 -2.1zM226.9 267.3l.8 4.3 -2.3 3 -.4 -4.1zM219.5 263.7l1.1 3.5 -1.5 2.3 -1.3 -2zM218.4 272.1l-1.9 3.8 -2.4 .6 .1 -2.3zM220.9 269.6l2.5 .8 .6 2.1 -2.2 -.3zM234.1 278.1l2.3 -.7 1.7 2 -2.5 .2zM233.9 265.3l2.6 .5 -.1 2.5 -2.1 -.9zM237.8 270.2l-1.7 2.1 -2.7 -.5 1.4 -1.6zM232.6 271.6l-1.3 1.9 -2.2 -.1 1.8 -1.9zM237.3 275.2l-.7 2.3 -2.4 .5 .5 -2zM236.4 277.1l2.3 .6 -.3 3 -2 -1.3zM248.8 275.8l-1.8 1.2 -2.4 -1.1 2.6 -1.4zM237.5 275.1l4 .9 1.5 2.7 -3.8 -.5zM232 271.8l4 1.7 1.3 2.9 -2.3 0zM246.1 274.3l-.7 1.9 -2.6 2.6 .8 -2.8zM235.2 276.7l2.2 -.8 3 2 -3.5 .7zM247.6 275.7l-2.1 3.2 -2.1 -.9 1.2 -2.2zM249.1 266l2.6 1.9 .7 3.7 -2.8 -3.6zM258.2 275.9l-3.9 1.5 -2.8 -1.1 1.9 -1.6zM256.4 275.7l-1.6 4.2 -2 1.3 -.1 -1.9zM252.5 266.8l.3 3.9 -1.4 1.9 -.2 -3.1zM254.1 270.4l1 2.6 -1.2 1.6 -1.2 -1.6zM256.1 274.4l.2 2.5 -1.5 .9 -.8 -1.1zM269.1 271l-1.1 2.3 -1.9 .2 .3 -1.7zM253.2 269.9l2.9 0 1.2 2.5 -3.5 -1.2zM255.3 272.7l-.8 4.7 -2 1.8 -.4 -2.1zM271.7 271l-.8 1.8 -2.6 -.7 1.5 -1.7zM264.8 274.6l3.5 .9 .9 2.7 -2.3 -.1zM277 273.8l2.7 -.5 3.8 1.8 -4.8 .1zM284 264.7l-.4 3.7 -2.4 1.2 0 -3.1zM287.3 268.9l-2.2 3.4 -2.5 .9 1 -1.9zM284 273.9l-.3 3.6 -2.1 3.4 .4 -3.2zM297.7 275.2l-1.7 3.3 -3.1 1.9 1.5 -3.8zM297.1 265.8l2.7 .5 .5 2.1 -2.3 -.9zM307.1 265.6l2.4 1.8 -.5 3.1 -2.3 -1.9zM312.8 265.6l.5 2.1 -1.6 2.5 -.8 -2zM316 264.4l1.7 3 -1.3 2.6 -1.5 -3.1zM306.2 264.2l-1.6 3.8 -2.1 1.1 .1 -1.8zM318.2 272.4l.3 2.4 -3.5 1.7 1.8 -4.2zM323 272.9l4.6 1.6 1.3 2.1 -2.1 .1zM315.5 269.6l.1 2.8 -2.7 1.5 1.1 -3zM328 276.7l-.8 2 -2.2 1.5 .9 -3.2zM319.4 270.3l1.2 3.8 -1.7 2.1 -.8 -3.3zM325.3 274.4l1.6 .4 3.3 2 -3.4 -.3zM335.8 274.3l2.7 .6 -.2 2 -2.5 -1.5zM323.2 277.5l1.4 -1.2 2.2 1.1 -2.5 1zM326.6 264.6l-1.6 3 -2.2 -.3 .4 -2zM336 274.6l-.5 3.9 -1.5 1.3 -.4 -1.2zM337 270.4l1 3.1 -1.1 2.2 -1.2 -2.3zM188.4 280.3l2.6 -1.8 3.5 1.7 -3.3 1.4zM186.8 273l1.1 2.9 -.3 3.4 -1.5 -3.2zM195.1 279.7l-2.5 1 -3.7 -1.2 3.5 -1.8zM192.8 275.7l1.4 1.4 -.5 2.8 -1.3 -2.4zM195.2 275.9l1.6 2.4 .9 4.6 -2.8 -3.6zM193.3 281.5l4.3 2.4 .8 2.4 -2.1 -.2zM204.8 280.2l2.8 2.7 .1 3.3 -2.7 -3.3zM207.8 281.2l-.5 3.8 -2.5 1.5 .4 -3.1zM200.8 284.8l2 1.5 -1.5 2.5 -1.5 -2.6zM206.1 276.3l.1 2.4 -1.9 1.8 -.2 -1.7zM214.5 285.8l1.6 -.6 2 1.8 -3.3 0zM216.2 274.3l2.9 3.2 .1 2.6 -1.6 -1.4zM224.9 282.8l1.4 1.2 -.2 3.8 -2.3 -2.6zM227.3 283.5l1.6 1.8 -1.3 2.9 -1.3 -3.2zM213.4 273.8l1.8 2.4 .9 4.4 -2.8 -4.3zM224 274.8l-2.4 2.3 -3.7 1.1 2.8 -2.5zM239.2 285.9l-1.5 2.9 -2.7 -.4 1.8 -2.5zM238.6 274.6l-2.3 1.8 -3.8 -1 3 -1.7zM230.8 283.6l1.6 -1.1 2.5 .9 -3.4 .9zM226.4 285.5l-1.5 3.7 -2.8 .2 .1 -1.9zM238.4 275.3l-.5 2.6 -2.9 1.6 .4 -3.3zM234.9 280.8l-1.2 3.6 -3.3 1.2 1.4 -2.9zM238.5 286.1l3.6 .3 .7 1.8 -1.6 .5zM243.7 283.7l3.1 1.5 .9 2.1 -1.6 .3zM237 285.4l3.6 .1 1.5 1.6 -2.8 .2zM239.5 287.7l-2.4 1.6 -2.7 -.8 2.3 -1.3zM242.6 277.6l-.2 2.3 -2.3 .6 -.8 -1.6zM238 288l-1.7 1.1 -2 -1.1 1.8 -1.7zM248.3 277.2l.7 2.8 -2.2 3.2 0 -4.7zM252.2 282.2l3.6 -.8 2.2 1.6 -2.1 .8zM242.8 280.6l3.4 -1.2 1.8 1.9 -3.5 .6zM243.1 280.4l2.6 -1.9 4.3 2 -3.7 1.2zM247.9 284.5l.3 2.1 -1.3 2.1 -.7 -3.2zM263.2 284.8l-.5 2.6 -2.2 1.2 -.5 -1.7zM266.1 283l.5 2.7 -2.1 3.5 -.9 -4.4zM263.6 276l2.1 2.2 -.3 4.2 -2.8 -3.7zM253.5 275.8l2.8 .3 2.9 4 -4.1 -2.2zM274.3 276.7l4.3 1.3 1 2.5 -2.9 -.2zM263.7 277.9l3.6 -1 2.7 1.7 -2.8 1.2zM269.4 275.9l2.6 1 .1 2.4 -2.6 -1.5zM276.5 273.1l2 1.9 1.2 3.1 -3 -2.6zM275.2 273.2l.4 4.5 -1.7 1.8 -.9 -1.5zM285.2 279.6l2.4 2.1 -.6 4.8 -2.4 -5zM283.7 277.5l3.4 2.2 .9 3.3 -3.7 -2zM288.3 283.9l-3.3 1.5 -2.2 -.8 2.3 -1.6zM281.4 282.8l1.5 1.9 -.7 1.7 -1.5 -1.3zM276.6 283.4l-1 2.7 -3 3.1 1.2 -4.1zM283.4 285.1l3.2 -.2 3 2 -4.7 -.1zM288.7 283.1l3.2 .6 1.4 2.1 -2.5 -.3zM288.7 285l-1.9 1.9 -3.4 1.7 2.3 -2.9zM304.1 286.3l2.6 -1 2.1 1.1 -2.2 .5zM302.5 280l-.9 3 -2.1 .9 0 -2.2zM303.3 275.3l2.1 .5 .7 1.8 -2.1 -.4zM296.1 282.1l1.6 2.6 1 3.9 -2.6 -3.6zM301.5 276.2l-.2 5.1 -1.6 2.1 -.5 -2.6zM310 276.2l1.7 0 1.4 2.8 -3.5 -1.4zM303.7 277.6l3.2 -.8 1.7 1.4 -3.3 .3zM316.1 284.8l-1.8 1.7 -1.8 -.3 .2 -1.2zM303.4 274.8l3 3.8 .1 2.7 -2.1 -.6zM313.7 277.5l1.9 2.5 .6 4.3 -2.9 -4.2zM323.5 278.9l.9 1.7 -1 2 -1.2 -2.4zM317.7 284.9l2.3 .6 .3 2.2 -2.5 -.9zM329.8 284l-1.9 1.4 -5 1.2 3.7 -2.4zM331 286.9l-2.1 2.6 -4.4 .1 4.2 -3.4zM321.5 280.6l3 .2 .1 2.2 -2.2 .2zM318 277.3l2.8 .1 3.2 3.2 -3.9 -.9zM334.3 277.3l-1.3 2.4 -1.6 .4 .6 -1.9zM333.6 276.6l.4 1.7 -2.4 1.7 -.4 -2.4zM327.1 274.1l1.6 2.7 -.1 2.6 -1.4 -1.7zM326.6 276.8l3.4 0 2.5 2.3 -4.3 -.4zM333.1 283.2l3 .5 1.9 3.6 -3.5 -1.7zM191.8 284.6l.1 2 -1.2 3 -.4 -3.3zM187.5 289.1l3.3 -1.2 1.6 1.8 -1.2 1.2zM187.8 284l-.7 2.6 -3.4 1.7 1.6 -3.7zM185.2 296.3l2.7 .9 .2 3.4 -2.3 -.9zM196.8 295.1l-1.2 2.5 -3.6 2.2 1.1 -3.2zM207.6 292.1l-1.2 1.5 -2.3 .8 1.3 -2.5zM205.6 282.3l-1.4 4.7 -1.9 1.9 .5 -2.9zM200.7 289.4l3.6 -.3 1.3 1.8 -2 .3zM196.2 295l2.8 2.2 1.1 3.7 -3.5 -3.1zM207.3 286.3l1.7 2.8 -1.1 2.4 -1.6 -1.3zM208.7 288l-1.6 2.2 -1.7 -.2 .6 -1.3zM210 296.9l-1.5 1.4 -2.3 -1 2.1 -1.5zM208.2 292.2l2.3 -.7 3.9 1.7 -3.9 0zM222.2 285.2l-1.1 1.9 -2.2 -.3 1 -1.9zM219.3 285.9l1.7 2.5 -1.2 2.6 -1.1 -3zM229.2 292.4l-2 1.2 -1.9 -1.2 1.2 -1.3zM226.7 294.4l-.9 3.8 -3.2 2 1 -4zM239.5 296l-1.9 2.2 -4.6 .9 3.8 -3.4zM222.4 290.9l3.2 -.1 2.3 2.6 -3 .1zM233 289.1l-1.3 2.4 -2.3 -.8 1.7 -2.3zM235.1 283.4l.5 3.1 -2.2 1.2 .3 -3.5zM228.9 285l2.6 .6 .6 2.5 -2.2 -.2zM244.4 290.6l-2.1 3.7 -2.1 .5 0 -1.6zM237.5 282.2l3 3.2 .2 2.7 -2.5 -1.6zM243.6 288.7l2.6 -.6 1.9 1.5 -3.5 0zM234.1 288.7l3.4 .6 .7 3 -2.2 -.2zM240.5 290.3l3.7 .2 .9 1.7 -2.1 .6zM252.7 286.7l2.5 3.1 .4 3.3 -2.2 -1.4zM244.4 292.9l3.2 1.2 .4 2.7 -2 0zM251.6 295.4l3.8 0 .9 2.1 -2.2 .2zM248.1 283.8l-1.4 4.1 -2.5 .7 -.6 -1.8zM246.7 296.8l2.7 -.3 2.3 2.9 -4 -.6zM259.6 284.2l2.1 2.8 0 3 -2.3 -3.1zM273.5 282.3l-.5 3.5 -2 2 .6 -3.9zM268.1 287.9l-1.6 4.2 -2.1 .6 .4 -2.4zM264.8 283.7l2.5 0 3.1 3.1 -4 -.7zM272.2 289.7l1.6 2.1 -1.1 2.8 -1.1 -2.5zM266.2 289.2l3.6 2.2 1.2 2.5 -3.4 -1.2zM282.2 286.4l-1 3.6 -3 2.7 1.3 -3.9zM284.8 293.7l2 2.9 -.2 4.3 -2.6 -3.6zM274.7 293l3.2 -.5 1.1 2.3 -2.8 0zM281.9 291.9l1.1 1.9 -.6 3.8 -1.7 -4.2zM279.1 289.1l4.3 -.4 2 1.7 -1.8 1.3zM286.2 294.1l-1.9 2.3 -1.5 -.7 1.3 -1.7zM289 283.4l0 2.6 -1.7 .5 -.4 -1.3zM288.1 295.6l-1.6 .9 -3.4 -.7 4.1 -1.2zM290.6 291.1l.5 3.1 -1.9 3.2 .2 -3.4zM300.8 294.4l.5 2.8 -1 1.5 -.8 -.6zM300 287.2l-1.7 1.3 -4.6 .3 3.3 -2.1zM301.3 287.4l-1.2 3 -2.5 .6 1.1 -2.5zM302.3 287.5l2.3 .9 .4 3.2 -2.2 -1.3zM306.4 289.9l1.7 1.1 -.8 2.4 -1.7 -1.1zM297.3 296l2.6 -1.1 2.7 2.5 -3.5 .6zM306.7 290.5l.8 3.3 -1.7 2.3 -1.4 -2.6zM306.3 286.1l1.6 .9 .9 3.1 -3.3 -2.3zM321.1 284.5l1.7 -.7 2.8 2 -2.4 1zM324.7 283.6l-1.4 2.7 -4.1 .9 2.8 -2.8zM316.3 287.1l-1.6 2.5 -2.3 -1.1 1.8 -2zM322.2 295.9l2.9 -1.7 3.4 1.4 -4 1.2zM327.1 287.6l2.2 .4 1.9 2.9 -4 -1.4zM335.2 295.5l-3.5 1.6 -2.6 -1.1 1.9 -1zM330 288.4l1.1 1.9 -.9 2.3 -1 -2.8zM328.7 286.6l1.8 2.2 -1.3 1.7 -1.3 -2.2zM197.3 304.1l-3.1 1.3 -3.6 -.2 2.6 -1.3zM182.7 301.4l2 .9 .7 2.7 -2.7 -1.1zM193 293.6l-.2 3.6 -2.5 1.1 .4 -3zM185.7 294l-1.2 2.3 -2.1 .3 .3 -1.6zM190.3 294.9l-.9 2.2 -1.9 .2 .5 -1.5zM203.9 299l1.5 2.7 -.5 2.8 -1.5 -1.7zM202.2 304l2.7 3.4 .7 3 -2.5 -2zM207.5 301.1l-.9 3 -3.1 1.6 1 -2.7zM205.4 293.7l-2.5 3.2 -3.1 1.6 1.7 -2.6zM200 303.3l-.6 4.4 -2.8 1.9 .9 -4.1zM202.6 294.5l-1.2 1.7 -3 -.6 1.1 -2zM215.5 297l-.6 2.7 -4.5 1.9 2 -3.3zM214.6 302.8l2 1.5 -1.4 2.5 -1.8 -3.2zM210.8 299.3l3.3 2.8 0 3.3 -2.9 -2.7zM220.3 300.6l2.7 2.8 -.1 1.9 -2 -1.8zM229 304.9l-1.8 4.5 -2.8 .7 .8 -3zM227.2 299.6l-2.1 .9 -2.1 -.6 1.2 -1.2zM228 305.5l-2.6 1.5 -2.6 .1 1.7 -1.6zM227.2 307.1l-1.7 1.1 -3.3 -.1 2.7 -1.8zM221.2 301.7l0 2.1 -1.9 3.5 -.4 -4.2zM236.2 305.7l-1.7 2.4 -5 .3 4.4 -2.3zM223.5 294.3l2.7 .6 0 3 -2.9 -2.2zM239.6 296.9l-1.7 2.4 -3.5 -1 2.6 -1.9zM229.9 305.4l1.8 .7 2.5 3 -4.2 -1.9zM238.4 295.3l-1.8 1.8 -2 -1 2.6 -1.8zM235.5 296.8l1.3 1.7 -.4 1.9 -.9 -.4zM241.1 297.9l-.6 2.7 -3.9 2.2 2 -3.8zM243.6 296.2l-2.6 2.1 -2.2 -1 1.1 -1.8zM248.3 296.7l-.8 2.2 -1.9 .2 0 -1.6zM256.3 305.7l-.6 3.3 -2.5 2.1 0 -2.9zM256 306l-.8 1.5 -3 -.5 2.5 -2.6zM251.6 299.3l.1 2.5 -2.6 3.2 .6 -3.5zM240.7 296.8l3.6 -.1 3.5 1.6 -4 .1zM246.3 296l-1.9 1.7 -2.8 -.9 2.3 -2.2zM255.6 305l2.2 2.3 -.3 1.9 -1.7 -1.6zM283 298.4l-1.2 3 -2.8 2 .9 -2.8zM283.4 294l4 -.7 3.1 2.7 -4.3 .1zM289.4 302l-1.2 1.5 -3.8 -.6 4 -2.3zM291 305.4l-3.9 1.9 -3.5 -1.4 3.1 -1.4zM306.2 294l-1.5 4.5 -2.5 1.9 .8 -3.7zM297.9 296.4l-.2 3.7 -1.8 3.4 -.6 -2.8zM303.7 305.9l-1.5 1.1 -2.9 -.5 3.1 -1.3zM295.2 299.3l.4 2 -2.7 3.7 -.2 -5.1zM298.5 296.2l-.4 2.5 -2.3 .1 .9 -2.4zM297 305.7l-2.3 1.7 -1.7 -1.4 .8 -1.5zM304.2 298.5l2.4 3.7 .2 3 -2 -2.5zM312.3 294l3.7 4 0 2.5 -2.4 -2.2zM307.7 296.1l-2.1 3 -2.4 .1 1.6 -2.6zM318.2 297.2l1.3 3.6 -.7 2.3 -1.1 -1.5zM318.1 300.1l-2.2 .9 -4 -.7 3.7 -1.3zM315.4 299.5l.6 3.3 -2 .9 -.6 -2.1zM323.6 298.4l-.3 2.2 -2.8 .6 1.4 -3zM315.6 303.1l1.8 -1.9 2.7 1.6 -2.3 1.5zM331.5 302.1l-2.2 2.1 -4.4 .5 4.2 -2.5zM328.7 303.7l-2 1.5 -1.8 -.5 2 -1.4zM337.4 300.9l-3.3 3.4 -2.5 .1 1.7 -2.2zM326.6 299.5l.6 3.1 -1.7 2.7 -.1 -2.8zM193.2 313.9l1.7 -.3 2.8 1.7 -3.8 -.3zM192.2 303.3l1.8 .2 1.5 2.8 -2.6 -1.6zM189.1 315.8l4.2 -1.4 2.4 1.8 -2.2 1.3zM189.6 310.7l2.9 2.1 .8 4.3 -3.2 -2.6zM195.3 313.9l.4 3.9 -1.5 3.5 -.2 -3.7zM189.9 306l2.1 0 1.5 1.5 -2.1 .5zM209 306.7l-1.9 1.3 -2.5 -.7 3 -1.4zM205.1 313.5l2.1 -.7 2.2 2.2 -2.6 .1zM198.6 314.3l-1 2.5 -2.1 .4 .1 -1.8zM192 312.3l2.3 .9 1.4 2.8 -2.9 -.8zM208.2 315.5l.4 2 -2.1 1.7 -.4 -2.9zM204.1 312.2l3.6 -.6 1.3 1 -1.3 .7zM214.5 306.7l1.8 -.1 .6 2.7 -3.2 -.9zM218.3 311.9l-2.4 1.6 -1.9 -.5 1.9 -1.6zM215.9 305.8l-.4 3.1 -1.7 1 -.1 -2zM211.3 305.5l-2.7 3.3 -2.9 .1 1.3 -2.8zM208.9 312.1l-1.4 3.3 -2 1.3 .8 -2.9zM221.1 303.9l-1.6 2.2 -1.8 -.7 1 -2.2zM221.2 304.6l-.3 3.1 -1.6 .7 .1 -2.1zM216 310.1l-.6 3.1 -2.7 3.2 1.6 -4.5zM234.2 311.9l2 1.7 2 4.2 -3.5 -3.3zM229.3 313.7l.5 2.3 -2.4 3.4 .8 -5zM225.9 305.6l-1.2 2.3 -3 .4 2.8 -2.5zM235 306.1l.2 2.2 -2.4 2.3 .5 -2.6zM238.9 311.4l-3.3 2.2 -3.7 -.6 3.5 -1.9zM237.6 304.9l1.5 -.2 2.2 1.8 -3.5 -.1zM244.3 306l3 .9 .8 2.3 -2.8 -.2zM233.7 317l1.8 -1.1 3 1.5 -3 .7zM243.1 304.3l2.9 1.6 -.1 2.3 -1.9 -1zM233.6 310.3l3.1 -1.8 4.4 1.5 -4.9 1.2zM251.3 311l-3 2 -3.3 -.4 3.9 -1.5zM244.1 317.5l3.6 -.8 1.6 1.8 -2.5 1zM252.4 306.8l-1.7 2.6 -2.3 .8 .8 -1.7zM252.7 308.4l.7 2.1 -1.6 2.2 -.8 -2.9zM241.7 304.1l3.9 1.8 1.4 3.1 -2.8 -1.3zM264.2 308.5l2.7 -1.2 2.6 1.6 -2 .9zM263.6 307.9l-3.3 2.9 -2.7 1.1 1.2 -2.1zM265.8 303.3l2.1 1.3 .5 2.2 -2.7 -1.7zM254.2 310.4l1.1 -1.2 2.4 1.2 -1.5 .7zM261.5 313.8l2.5 3.3 -.3 3.8 -2.9 -3.3zM258.4 312l1.7 1.7 -.7 2.6 -2.4 -2.6zM266.6 304.1l2.4 1.1 .3 2 -1.6 .1zM277.7 314.9l-2.6 3.9 -2.9 .7 1.7 -3.4zM270.9 316.4l-.8 1.9 -3 1.3 1.3 -3zM271.2 302.4l.3 4.5 -1.8 2.6 -.3 -2.8zM271.6 311.6l-.8 2.2 -2 -.1 1.2 -2.2zM279.1 304.1l2.7 .9 1.3 4.3 -3.1 -1.8zM274.6 311.1l1.8 1.9 -.2 2.1 -1.2 -.4zM282.1 312l1.5 -.3 1.7 2 -2.7 -.1zM274.1 315.3l2.3 -.3 1.7 .9 -1.1 1zM279.1 304.5l2.2 -.1 .8 3.4 -3.3 -1.5zM283.7 309.1l1.9 4 -.2 2.8 -1.5 -1.5zM288.5 315.7l1.9 -.5 2.1 2.2 -3.7 -.9zM294.4 305l3.8 2.7 .5 2.1 -2 -1.2zM292.5 303l-2.6 4.4 -2.7 1 .9 -2zM286.5 312.5l.1 1.9 -2 2.3 -.3 -2.4zM285.6 310.6l5.4 .9 1.3 2 -3 -.1zM299.5 314l2 -.9 2 1.8 -1.9 1.2zM306.1 308.4l1.4 3 -1.1 1.8 -1.3 -2.3zM309.3 308l-2 2.6 -1.8 -1.1 .2 -1.5zM301.8 314.7l-.1 2.3 -1.7 .9 -.1 -1.5zM295.5 315.4l4.2 -.9 2.6 2.1 -3.6 .6zM307.6 308.2l4.3 1.3 1.9 1.8 -2.1 .4zM320.8 304.9l2.5 .7 -.6 2.7 -2.5 -2.5zM314 310l1.9 -.2 1.2 3 -3.4 -.9zM312.5 309.9l2.7 1.8 .3 3.1 -2.7 -2.3zM317.4 306.4l3.6 -.1 .8 1.9 -1.7 .6zM329.5 311.3l-.2 2.2 -3.6 2.5 1.9 -4.5zM331.8 306.6l2.3 .5 3.3 3.2 -3.6 -.5zM333.7 305.7l2.4 1.3 .4 2.1 -2.6 -1.6zM324.6 309.6l2.4 -1.1 4.4 2.5 -4.8 .2zM332.5 306.6l-2.5 3.9 -3.1 1 .8 -2.4zM194 323.5l1.8 -1.3 2 2.2 -2 .9zM197.2 322.5l1.4 2 .1 2.3 -1.8 -1.7zM190.1 323l2.6 2.2 .7 3 -2.6 -1.4zM192.9 322.3l1.1 2.2 -.7 1.5 -.9 -.7zM188 316.4l2.1 2.1 -.5 1.8 -1.3 -.6zM207.1 315.8l-.7 2.7 -2.3 1.2 1.2 -2.7zM195.8 324.5l3.6 -.1 3.1 1.4 -4.2 .2zM192.5 319.5l2.4 -1.1 2.2 1.2 -2.3 .5zM204.8 323.7l-2.6 3 -2.6 -.1 .5 -1.9zM208.4 317.6l-1.6 1.4 -2.3 -1.2 2.8 -2zM214.1 318.2l0 2.4 -2.3 3.5 .5 -4.6zM209 314.5l.5 2.4 -2.7 4.2 -.5 -4.8zM208.7 323.9l1.6 2 -1.8 2.8 -1.2 -3.9zM206.8 323.2l.5 2.2 -1.4 1.2 -.2 -2zM216.3 320.2l-.4 2.6 -3.4 3.3 1.8 -4.5zM211.8 315.9l2.4 -.1 1.8 1.2 -1.8 .8zM212.4 314.2l4.3 0 1.7 1.7 -2.9 0zM215.8 312.1l.8 3.1 -1.5 1.3 -.4 -2.8zM223.8 313.8l-.8 3 -1.9 .8 -.3 -1.1zM217.4 322.3l2.6 -.6 1.1 1.8 -2.5 -.1zM232.7 314.8l2 2.7 -.2 3.4 -2.1 -3.7zM221.8 324.2l2.6 1 2.2 3 -4 -1.3zM229.3 318.5l-1 3.6 -2.2 1.5 .8 -3zM229 314l1.9 -.2 1.7 2.8 -3.8 -1.4zM247.7 322.3l-4.1 2.1 -2.4 -.9 1.8 -2zM237.3 324.7l.1 2.5 -.9 1.6 -.7 -1.6zM238.4 325.1l-.6 1.9 -3.5 .4 1.4 -2.7zM244.2 316.9l-3.4 2.2 -3.2 -.4 2.1 -2.2zM242.5 316.4l.6 2.3 -1.1 2 -1.1 -1.2zM242.1 322.4l.3 2.6 -.9 3 -.8 -2.1zM254.9 318.6l2.2 2.9 -1 2.8 -2 -3.5zM258.2 323.2l-1.2 2.2 -3.2 2.2 2 -3.4zM246.6 315.9l3 .8 2.7 2.9 -3.1 -.4zM253.7 324.3l1.2 2.9 -1.2 2.2 -1.2 -2.6zM251 315.4l1.4 1.4 -.5 2.8 -1.8 -2.3zM251.4 320.9l1.4 2.3 -1.5 4.6 -1.7 -4.1zM257.1 323.8l-.2 2.5 -2 .5 -.3 -1.9zM262.4 324.9l-2.9 4.1 -2.6 1 .8 -1.8zM264.7 314.8l3.7 1.5 .9 2.6 -2.2 -.6zM255.7 322.6l3.6 1.2 .9 2.5 -2.6 -.4zM258.2 321.5l2.3 .6 2.6 3.7 -4.2 -2.4zM260.6 321.5l1.1 3.7 -.9 3.2 -.9 -2.7zM268.5 323.6l2.1 2 .3 3.5 -2 -2.7zM271.6 317.7l3.2 1.8 .9 2.5 -2.2 -1.1zM277.5 320.2l.2 4.7 -2.3 2.2 0 -4.2zM267.4 313l1.8 1.7 -1 3.4 -1.7 -2.7zM281 322.9l-2.1 1.5 -4.4 -.9 4.6 -2zM283.9 312.3l.8 1.8 -2 2.4 0 -3.6zM280.5 319.8l2.6 -1.7 1 1.5 -1.8 1.3zM281.9 316.5l-4.2 1.8 -2.6 -1 2.1 -1.5zM278.2 316.2l-3.6 2.4 -3.2 -.4 1.7 -2.2zM277.6 318.2l-2.5 1.8 -1.5 -1.5 .7 -1.6zM283.3 320.8l4.5 .7 1.1 2.3 -2.8 0zM286.5 314.5l1.8 1 -.5 2.4 -1.6 -2.4zM289.3 318.5l-1.9 3.2 -2.2 .5 1 -2.5zM296.5 313.2l.5 1.8 -.5 3.4 -1.1 -2.5zM289.6 315.2l2.7 -1.1 3.7 1.9 -4.1 .8zM296 328.1l-1.7 .9 -2.8 -.6 3.5 -1.2zM296.8 316l-.5 2.2 -2.3 .9 .7 -1.7zM295.4 324.9l.9 2 -1.5 1.5 -.6 -2.4zM295.6 325.2l3 .8 1.1 3.6 -3.6 -1.7zM299.5 325.2l1.6 1.9 -1.4 3.1 -1.6 -2.7zM309.1 314.4l-2.5 3.5 -3.1 .4 1.6 -2.4zM294 320.9l2.1 .8 .1 3.4 -2.9 -2.2zM311.9 313.6l1.8 0 1.8 2 -3.5 -.7zM320 315.4l0 2.7 -2.5 1 .1 -2.3zM316 325.2l2 2.7 -.8 2.7 -1.9 -3zM321.6 318.3l-.9 1.9 -2.4 -.5 2 -1.8zM334.5 325.1l-2.5 2.7 -3.5 1.6 3.3 -3.6zM183.3 323.6l2.3 1.9 -.5 2.8 -1.7 -1zM198.7 330.5l-.5 2.8 -3.2 2.4 1.2 -3.9zM192.7 326.9l-2.1 2.7 -4.2 -.6 3.8 -2.4zM188.1 323.9l.2 3.5 -1.8 1.7 -.8 -1.8zM201.3 333.2l-1.7 2.4 -2.9 .6 1.7 -2.7zM198.1 324l-4.1 2.8 -2.6 0 1.2 -1.9zM197.8 327.9l2.7 -.7 3.2 2.8 -4.3 .1zM201.2 324.4l1.7 2.6 .1 2.5 -1.8 -2zM205.8 330.9l.6 1.5 -1.6 2 0 -2.6zM213.9 330.5l4.1 .5 .7 2.4 -2.1 .4zM219.4 326.5l-.7 2.9 -3.1 1.7 1.4 -3.9zM201.5 330.1l3.5 .4 1.9 2.3 -3.5 .2zM211.9 331.4l4.7 .8 1.5 1.8 -2.9 .1zM220.2 327.5l1.5 1.7 1.9 4.5 -3.9 -3.8zM227.7 334.9l1.4 2.2 -2.3 2.9 -.8 -3.4zM217.3 333.5l2.5 3.6 -.9 2.7 -2.2 -1.8zM212.4 336.6l1.4 -.8 2.3 1.3 -1.9 1zM224.7 331.7l2.3 -.1 1.5 3.1 -3.6 -2zM240 332.9l-2.7 1.9 -2 -.7 .4 -1.4zM233 324.8l1.9 1 1.4 3.1 -2.6 -.7zM225.4 330.2l2.3 3.7 -.3 2.2 -1.3 -2zM228.5 329.8l0 2.4 -2.1 1.8 .8 -3.3zM243.6 331.2l2.3 1.2 .4 2 -1.6 -.2zM237.8 333.8l0 2.1 -1.5 4 -.2 -3.6zM247.7 335.1l-.3 1.5 -1.7 1.6 .6 -3zM251.6 333.6l.5 2.4 -2.8 2.7 -.4 -3.3zM244.6 331l.2 3.1 -1.5 1.1 -.2 -2.4zM257.6 324.1l-2.5 2.5 -2.2 .6 1.8 -2.3zM243 323.4l2.3 2.5 0 4 -2.6 -2zM248.3 330.5l3.1 1.2 1.4 2.1 -1.6 .2zM254.4 335.2l-1.1 .7 -2.4 -.7 2 -1.3zM256 330.1l2.6 1.1 .9 2.5 -2.8 -1.6zM261 334.4l2 -1.1 4 1.5 -4.3 .6zM260.4 327l2.5 1.3 2.3 3.6 -3.4 -1.7zM261.6 330.9l-.6 3.4 -2.9 2.1 1 -3.4zM259.1 323.3l3.5 1 2.3 2.5 -3.6 -.6zM259.2 330.8l-1.8 2.1 -2.9 -.4 2.4 -1.7zM264.9 327.7l2.7 -1.5 2 1.2 -1.1 1.6zM272.7 322l2.5 1.2 2.1 3.3 -3.6 -2.2zM267.6 323.1l3.7 .8 1.3 3 -3.3 -1zM269.8 335.9l4 .1 2.4 1.8 -3.2 .6zM285.9 335.4l-1 3.3 -3.1 1.1 .9 -3zM277.2 328.4l3.9 2.7 .8 2.6 -3.2 -1.4zM285.5 326.9l-.1 3.1 -3.2 3.3 .9 -3.7zM284.7 330.5l-2.1 2.5 -2.2 -.3 1.2 -2zM283.2 327.8l-.5 2.7 -2.9 2.1 1.3 -3.7zM284.6 329.3l.8 3.3 -.9 1.7 -.9 -2.2zM291.1 325.8l2.8 -.6 1.3 .7 -2 .9zM294.1 330.4l-.9 2 -2.5 .8 1.2 -3.2zM284.9 322.4l2 4.1 -.8 2.4 -1.7 -2.2zM298.7 334.6l-.3 2.6 -1.5 2 -.4 -1.6zM287.7 327.7l2.4 2.8 -1 1.7 -1.7 -.7zM297.5 322.6l1.9 3.2 -1.1 2 -2 -1.1zM306 325l-1.3 2.6 -2.8 0 1 -2zM295.6 323.4l.4 2.7 -1.4 4.7 -.3 -4.3zM307.2 326.8l-2.2 1.2 -3.5 -.7 2.6 -1.5zM313.3 324.8l3.9 2.7 .8 2.7 -2.4 -1.5zM321.1 331l1.5 2 -1.1 1.9 -1.6 -1.6zM322.4 334.1l-2.2 2.4 -3.6 .1 1.7 -2.6zM327.7 326.5l-.9 1.9 -3 -.5 1.4 -1.8zM316.2 333.7l.7 2.6 -1.4 1.8 -.7 -2.8zM322.4 325.2l.2 1.9 -1.2 3.7 -.8 -2.8zM330.2 327.7l-2.3 2 -4.7 -.6 3.3 -1.8zM338.7 327.6l-.6 3.1 -3.1 1.4 .4 -3.1zM334 332.7l-1.2 2.3 -3.4 .4 2.8 -2.6zM335.3 330.4l-.2 2.5 -2.9 1 1.6 -3.5zM329.5 327.5l-.4 2.8 -1.6 .4 -.1 -1.9zM327.7 321.2l1.8 1.9 1.1 4.6 -2.8 -3.3zM183.6 335l1.8 1.4 -.9 2.1 -1.6 -1.1zM196 333.7l-.3 1.8 -3.1 .6 1.1 -1.9zM187.9 339.8l1.3 2 -1.3 2.1 -1 -2.9zM187.3 336.6l-.2 2.9 -2.1 .5 0 -2.1zM194.1 343l3.1 -.2 2.9 3.1 -3.9 0zM204 341.9l3.2 -.1 1.4 2.1 -2.2 .3zM198.1 345.3l-1.8 1 -2.6 -1.1 2 -1.3zM210.6 344.9l4.4 1.1 1.6 2.6 -3.4 -.3zM213.6 333.1l3.1 .2 3 2.6 -3.6 -.1zM207.8 339.9l2.3 1.5 .8 1.9 -2.7 -1.4zM212.1 343.6l2.3 -.1 2.6 3.1 -3.9 -.7zM217.7 340.9l3 .6 3 2.3 -3.1 -.4zM218.1 341.5l-1 2.3 -2.5 1.4 1.2 -2.7zM228.5 338.6l-1.7 1 -3.3 -.4 3.9 -1.8zM225.1 345.4l1.5 -1.4 3 1.8 -3.9 1.3zM228.4 341.3l2.3 .5 3.1 3 -3.5 -1.1zM226.7 341.5l-2 1.3 -2.6 -.4 1.7 -1.3zM228.3 334.6l-2 1.3 -4.2 1 3.8 -2.8zM231.7 339.6l3 .8 1 2.1 -2.2 -.1zM240.1 343.6l1.2 3.4 -1.5 1.5 -1.1 -1.2zM236 344.4l-1.4 3.3 -2 .9 1.3 -2.7zM234.5 340.2l.3 2.3 -1.4 3.7 -.3 -4.4zM249.5 345.3l-3 1.6 -2.3 -1.1 1.9 -1.5zM236.9 338.4l.2 2.9 -2.3 3 .4 -2.9zM253.7 333.3l-1.6 2.2 -1.4 -.2 .1 -1zM255.5 345.1l-2.2 1.8 -1.4 -1.1 1.2 -1.5zM259.5 344.7l-3 1.3 -3.9 -1.3 3.6 -.8zM243.4 340.6l2.1 -.8 3.2 1.5 -3.6 .2zM254.4 341.9l1.9 3 .3 3.1 -2 -3zM264.3 339.3l3.6 1.2 .8 3 -2.4 -.6zM266.5 336l-3.5 2.1 -2.7 -.8 2.2 -1.4zM258.5 338.8l-1.1 2.9 -4.4 1.4 2.5 -4.1zM265.1 341l1.1 1.2 .2 2.8 -2.1 -1.9zM274 342.6l-1.5 2.8 -3.8 2.1 3.3 -3.8zM271.9 343l3.3 3.1 0 2.5 -2.5 -1.5zM283.6 335.3l4.4 .3 2.1 1.8 -2.8 .5zM285.1 342.3l3.1 -.2 2.2 2 -2.8 .8zM274.7 340.8l1.7 4.2 -1.3 2.7 -1.7 -2.8zM285.4 331.9l.2 2.8 -3 1.8 .5 -2.9zM282.9 332.1l-1.2 3.6 -2.1 -.2 .1 -2.2zM287.5 332.8l-.3 2.2 -2 .5 0 -1.4zM293 342.9l1.1 2.7 -1.4 2.3 -1.6 -2.9zM287.7 341.2l-2.3 1.6 -1.8 -.6 .2 -1.5zM284 332.7l1.5 1.7 -1.1 2.9 -2 -2.8zM311 333.4l3.8 1.5 1.6 2 -2.6 -.7zM316.7 336.5l-.3 4.5 -1.7 1.2 -.7 -1.5zM330.3 342.6l-1.3 2.7 -3.4 1.8 2 -4.1zM329.7 338l-2.2 1.5 -2.7 0 2.1 -1.9zM327.3 335l-2.6 3.7 -2.4 .3 .4 -2.1zM336.5 343.1l2.6 4.2 -1.1 2.9 -1.9 -2.8zM338.1 333.2l-1.9 3.3 -4.6 .6 3 -3zM335.9 340.4l.1 3.1 -2.5 1.2 -.4 -2.5zM196.5 352.4l1.3 2.2 -.7 2.2 -1.4 -1.1zM190.6 352.7l2 4.4 -.9 2.7 -1.6 -2zM186.7 341.9l-.9 2.7 -2.1 .7 .4 -1.8zM186.9 346.6l1.9 2.2 -.8 2 -1.6 -1.6zM206.1 350.7l-1.4 1.5 -3.8 .5 2.8 -2.2zM200.4 343.7l4 1.4 1 1.7 -2.1 -.3zM201.7 346.9l-1.2 2.3 -3.1 1.8 1.3 -3zM196.2 351l-1.3 2.9 -2.5 -.4 1.7 -2.6zM205.7 350l3.9 2.3 .6 2.9 -2.3 -.7zM214.2 347.2l1.7 2.2 -1.7 2.5 -1 -2.2zM210.2 354.7l-2.3 2 -4.5 -1.1 4.1 -2zM207 355.1l-3.2 1.1 -2.8 -.2 2.4 -1.3zM211.6 342.8l.9 2.3 -2.3 3.3 -.4 -3.9zM226.8 344.5l-2.7 2.1 -1.9 .2 1.5 -2zM240.8 346.8l-.9 2.4 -4.1 2.6 2.7 -5zM247.9 343.2l.7 3.1 -2.2 3.4 .2 -4.8zM242.2 354.2l-.1 3.9 -1.8 2.3 -.5 -3.3zM241.4 354.3l-1.2 3 -2.1 .9 -.3 -1.7zM243.2 351.4l.3 2.7 -1.8 3.1 -.3 -2.7zM257.6 350.5l.9 2.2 -2.8 2.8 .6 -4zM251.4 348.7l1.6 2 .2 5.3 -2.3 -4.1zM250.5 343.8l1.7 3.4 -.8 3.2 -1.3 -2.1zM252.7 346.5l1.9 2.9 -1.1 4.2 -1.8 -4.8zM250.8 348.6l2.2 2 -.1 3.5 -2.3 -1.6zM265.7 351.2l-2.5 1.6 -1.9 -.4 .9 -1.4zM185.2 363.9l2.4 1.2 .5 2.5 -2.2 -1.5zM194.7 354.8l-1.5 3.5 -3.4 1.1 1.5 -2.9zM196.6 358.4l-3.2 1.9 -2.4 -1 3 -1.6zM203.7 362.9l-1.8 2.4 -1.5 -.1 .1 -.9zM195.2 356.9l2.8 2 .9 3.9 -2.6 -1.9zM207.8 358.3l-.2 1.3 -2.1 1.5 .1 -2.2zM207 362.7l.2 2.3 -2.3 1.1 .3 -2.9zM197.5 364.4l1.9 1.6 -.2 2.5 -1.4 -1.9zM213.4 357.1l-.9 2.7 -3.3 .9 2.5 -3.5zM215.9 358.7l-2.5 3.8 -2.2 1.1 1 -2.8zM210.6 361.8l3.6 -1.4 2.4 1 -3.2 .9zM211.9 365.5l-2.7 2.7 -3.7 0 2.5 -2.7zM206.3 356.7l-.8 3 -3.5 2.6 .9 -4.4zM218.2 363.1l-.1 4 -1.2 1.6 -.8 -1.4zM304.4 354.4l3.8 1.5 1.4 2.8 -3.3 -.7z" fill="#463ba2" stroke="#1d1742" stroke-width="0.6" stroke-linejoin="round"/>
<path d="M205.5 267.2l1 1.4 -.4 1 -.8 -.7zM218.4 260.1l0 1.2 -.5 .9 -.3 -.8zM214.7 255.5l1.7 -.3 1.9 1.2 -2.6 -.3zM220.9 257l3 3.3 -3 -2.5zM219.1 259.1l.9 -.5 1.3 .8 -1.3 .2zM222.4 258.9l3.8 -2.4 -3.8 3.2zM226.5 266.2l2.4 4 -2.4 -3.2zM226.4 264.8l1 1.5 .1 1.9 -1.3 -1.6zM235 268l-.6 .9 -1.3 -.1 1.1 -1zM233.2 269.2l-4.3 -1.7 4.3 2.5zM245.7 270.2l3.9 1.6 -3.9 -.8zM257.3 263.2l-4.9 .1 4.9 .7zM260.8 261.9l1.2 .6 -.1 1.4 -1 -.8zM265.3 264.1l2.7 2.5 -2.7 -1.7zM304.5 261.4l.5 6.5 -.5 -5.7zM299.9 267.9l2 .7 .6 1.1 -1.3 -.1zM310.2 259.2l1 -.5 1.1 .9 -1.1 .3zM315.2 260.8l.8 .8 -.1 .9 -.8 -.5zM305.4 262.7l.8 1.3 -.7 .9 -.9 -1zM324.6 259.3l.5 .6 -.1 1.3 -1 -1.3zM324.3 260.6l1.1 3.4 -1.1 -2.6zM318.5 262l3.4 2.4 -3.4 -1.6zM335.3 260.9l1.6 -.3 .6 .8 -1.2 .1zM329.4 264.8l.4 2 -.8 1.3 -.6 -1.4zM332.5 265l-4 2.1 4 -1.3zM207.1 278.9l3.1 2.2 -3.1 -1.4zM219.6 266.3l-.1 1.2 -1.1 .3 .2 -1.1zM227.5 269.5l.4 2.1 -1.1 1.5 -.2 -2zM218.5 272.3l-.9 1.9 -1.3 .3 .1 -1.2zM238.2 278.9l5 1.5 -5 -.7zM237.1 271.5l-.9 1 -1.3 -.2 .7 -.8zM233.5 271.7l-4.3 .7 4.3 .1zM248.1 275.1l-1 .6 -1.1 -.6 1.3 -.7zM239.6 277.1l2 .4 .7 1.4 -1.9 -.3zM243.2 277.9l3.6 1.6 -3.6 -.8zM242.8 278.4l-2.5 2.3 2.5 -1.5zM240.5 277.2l3.6 -2.4 -3.6 3.2zM249.6 266.9l1.3 1 .3 1.8 -1.3 -1.8zM251.8 271.5l2.5 2.3 -2.5 -1.5zM253.1 281l-1.8 3.2 1.8 -2.4zM251.4 272.3l-2.5 4.5 2.5 -3.7zM253.2 271.8l.6 1.3 -.6 .8 -.6 -.8zM253.9 274.2l1.4 6.1 -1.4 -5.3zM257.2 272l2.1 5.5 -2.1 -4.7zM254.3 275.3l-.4 2.4 -1 .9 -.2 -1.1zM268.2 271.4l-5.2 -.1 5.2 .9zM283.5 274.6l3.2 4.2 -3.2 -3.4zM285.8 269.6l-1.1 1.7 -1.2 .4 .5 -.9zM282.9 273.2l-2.6 4.6 2.6 -3.8zM283.8 274.8l-.1 1.9 -1.1 1.7 .2 -1.6zM315.6 264.7l.9 1.5 -.7 1.3 -.7 -1.6zM317.1 272.8l.2 1.2 -1.8 .8 .9 -2.1zM315.1 276.2l-3.1 3.9 3.1 -3.1zM315.2 271.1l0 1.4 -1.3 .7 .5 -1.5zM326.8 278l-.4 1 -1.1 .7 .4 -1.6zM324.9 279.7l.5 4.4 -.5 -3.6zM190.9 280l1.3 -.9 1.8 .9 -1.7 .7zM194.5 280l2.6 -1.8 -2.6 2.6zM193.1 275.6l.7 .7 -.3 1.4 -.6 -1.2zM198 282.4l3.3 1.8 -3.3 -1zM195.2 283.6l2.1 1.2 .5 1.2 -1.1 -.1zM207.4 285.9l-.1 5.7 .1 -4.9zM205 286.2l.8 3.5 -.8 -2.7zM201.4 284.7l1 .7 -.8 1.3 -.7 -1.3zM224.2 285l.7 .6 -.1 1.9 -1.2 -1.3zM216.2 280.2l2.6 5.3 -2.6 -4.5zM223.6 275.1l-1.2 1.2 -1.9 .5 1.5 -1.2zM217.6 277.2l-5.5 1.1 5.5 -.3zM237.7 275.1l-1.1 .9 -1.9 -.4 1.5 -.9zM231.8 284.3l.8 -.6 1.3 .4 -1.7 .5zM236.7 276.2l-.2 1.3 -1.5 .8 .2 -1.7zM244.6 284.2l1.6 .8 .4 1 -.8 .2zM247.7 286.9l5.1 .8 -5.1 0zM237.1 286.9l-1.2 .8 -1.3 -.4 1.1 -.6zM234.4 288l-5.4 2 5.4 -1.2zM240.3 280.2l-5.9 1.7 5.9 -.9zM237.1 287l-.9 .6 -1 -.6 .9 -.8zM234.3 287.3l-4.6 3.2 4.6 -2.4zM248.2 279.1l.3 1.3 -1.1 1.7 0 -2.4zM247 282.8l2.8 6.2 -2.8 -5.4zM247.9 281.3l5.1 3.5 -5.1 -2.7zM247.1 285.9l.1 1.1 -.6 1 -.4 -1.6zM247.1 288.3l-2.2 6.2 2.2 -5.4zM262.8 284.8l-.3 1.3 -1.1 .6 -.3 -.8zM265.7 281.9l-.9 4.7 .9 -3.9zM274.9 277.2l2.2 .7 .5 1.2 -1.5 -.1zM265.2 276.8l1.7 -.4 1.4 .8 -1.4 .6zM271.3 277.2l1.3 .5 0 1.2 -1.3 -.8zM279.4 277.9l-1.2 4.9 1.2 -4.1zM275.1 275.7l.1 2.3 -.8 .9 -.5 -.8zM285.2 280.4l1.2 1.1 -.3 2.4 -1.2 -2.5zM286.8 286.1l2.5 5.2 -2.5 -4.4zM288.1 282.5l3.6 1 -3.6 -.2zM293.3 285.3l2.4 6.2 -2.4 -5.4zM286.5 286.4l-.9 1 -1.7 .8 1.1 -1.5zM305.9 277.4l2.1 6.3 -2.1 -5.5zM312.5 285.9l-5.1 -2 5.1 2.8zM303.5 276.6l1.6 1.8 0 1.4 -1.1 -.3zM318.1 286.4l1.1 .3 .2 1.1 -1.3 -.4zM322.8 286l-3.8 -1.1 3.8 1.9zM324.4 289.1l-3.2 2.2 3.2 -1.4zM324.7 282.5l4.8 .5 -4.8 .3zM331.2 279.4l-4.5 .7 4.5 .1zM329 278.8l-2.2 6.4 2.2 -5.6zM191.2 286.2l.1 1 -.6 1.5 -.2 -1.7zM190.3 289.1l.7 4.5 -.7 -3.7zM184.2 288.3l-5 1.6 5 -.8zM195.4 295.4l-.7 1.3 -1.8 1.1 .6 -1.6zM192.1 299.5l-2.5 3 2.5 -2.2zM201 288.8l1.8 -.1 .7 .9 -1 .2zM208.9 296.3l-.8 .7 -1.1 -.5 1 -.8zM209.8 291.9l1.2 -.4 2 .9 -2 0zM229 293.1l-1.1 .6 -.9 -.6 .6 -.6zM222.6 299.8l-3.8 3 3.8 -2.2zM237.4 297.5l-1 1.1 -2.3 .4 2 -1.7zM232.2 289.2l-.7 1.3 -1.1 -.5 .8 -1.1zM229.5 290.4l-3.6 -1.5 3.6 2.3zM233.2 287.1l-1.7 3.7 1.7 -2.9zM243.9 291l-1 1.8 -1.1 .3 0 -.8zM245.5 289.6l1.2 -.3 1 .8 -1.7 0zM248 289.5l6.3 -.8 -6.3 1.6zM253.7 287.3l1.3 1.5 .2 1.7 -1.1 -.8zM247.9 284.4l-.8 2 -1.2 .3 -.3 -.8zM247.2 297.2l1.3 -.1 1.2 1.4 -2 -.3zM251.9 298.6l3.6 -1 -3.6 1.8zM270.5 287.1l-.9 6.3 .9 -5.5zM272.6 294.2l-1.1 6 1.1 -5.2zM281.9 289l-.5 1.8 -1.5 1.3 .6 -1.9zM285.2 290.6l3 1.6 -3 -.8zM282.7 295l-4.5 -2.6 4.5 3.4zM289 297l-1.4 4.5 1.4 -3.7zM300.5 295.1l.3 1.3 -.5 .8 -.5 -.3zM300.4 298.3l.6 4.2 -.6 -3.4zM298 290.9l-6.1 .8 6.1 0zM308.9 289.7l3.7 1.8 -3.7 -1zM325.7 285l4.5 -.3 -4.5 1.1zM331.3 288.7l.6 .9 -.5 1.2 -.4 -1.4zM194.7 303.3l-1.5 .7 -1.8 -.2 1.3 -.6zM183.3 301.6l1 .4 .3 1.3 -1.4 -.5zM185.2 304.7l.9 5.4 -.9 -4.6zM184 293.7l-.6 1.1 -1.1 .2 .2 -.8zM182.2 296l-2.2 3.9 2.2 -3.1zM189.7 295.5l-.4 1.1 -1 .1 .3 -.8zM204.4 304.2l2.3 4.9 -2.3 -4.1zM204 295l-1.3 1.6 -1.5 .8 .8 -1.3zM200.3 304.9l-.3 2.2 -1.4 .9 .4 -2zM196.6 309.2l0 4.1 0 -3.3zM198.5 295.5l-3.2 5.3 3.2 -4.5zM215.4 299.4l-.3 1.3 -2.2 1 1 -1.7zM224.8 310l-2.9 4.1 2.9 -3.3zM226 305.7l-1.3 .8 -1.3 0 .9 -.8zM238.8 297.1l-.8 1.2 -1.8 -.5 1.3 -1zM231.2 305.6l.9 .3 1.2 1.5 -2.1 -.9zM238.2 295.3l-.9 .9 -1 -.5 1.3 -.9zM236.7 299.8l-2.1 5.1 2.1 -4.3zM236.6 302.4l-.8 4.2 .8 -3.4zM247.1 296.7l-.4 1 -1 .1 0 -.7zM254.8 305.6l-.4 .7 -1.5 -.3 1.2 -1.3zM250.8 300.6l0 1.3 -1.3 1.6 .3 -1.8zM241.9 296.1l1.8 -.1 1.8 .8 -2 .1zM245.8 296.6l-1 .9 -1.3 -.4 1.1 -1.1zM281.2 300.2l-.6 1.5 -1.5 1 .5 -1.4zM278.8 302.9l-3.2 4.8 3.2 -4zM284.5 302.9l-5.5 .2 5.5 .6zM302.5 300.1l1.1 5.3 -1.1 -4.5zM296.6 303.1l-3.5 5.5 3.5 -4.7zM312.8 295.7l1.9 2 0 1.3 -1.2 -1.1zM315.6 300.3l.4 4.8 -.4 -4zM319 302.6l2 3.2 -2 -2.4zM314.1 303.3l.1 4.7 -.1 -3.9zM331.4 303.6l-4.1 .2 4.1 .6zM325.8 301.5l.3 1.6 -.8 1.3 0 -1.4zM325.4 304.8l-.7 3.8 .7 -3zM194.2 314.2l.8 -.1 1.4 .8 -1.9 -.1zM194.3 316.7l.2 2 -.8 1.7 -.1 -1.8zM208.2 306.7l-.9 .7 -1.3 -.4 1.5 -.7zM204.6 306.9l-5.4 -2.8 5.4 3.6zM205.9 314l1.1 -.3 1.1 1.1 -1.3 0zM209.4 314.6l3.2 4.1 -3.2 -3.3zM218.1 312.1l-1.1 .8 -1 -.2 .9 -.8zM219.6 304.8l-.8 1.1 -.9 -.3 .5 -1.1zM228.6 314.3l.3 1.1 -1.3 1.7 .4 -2.5zM227.8 319.1l-4.3 5.2 4.3 -4.4zM221.7 308l-2.5 4.2 2.5 -3.4zM237.4 310.6l-1.6 1.1 -1.9 -.3 1.8 -1zM231.8 312l-5.3 3.5 5.3 -2.7zM238 305.8l.7 -.1 1.1 .9 -1.7 0zM241.4 305.8l4 -.9 -4 1.7zM235.3 316.8l.9 -.5 1.5 .7 -1.6 .4zM235.6 311.1l1.5 -.9 2.2 .7 -2.5 .6zM241.1 309.6l4.8 -2.1 -4.8 2.9zM250 312.4l-1.5 1 -1.7 -.2 2 -.7zM253.5 310.2l.3 1 -.7 1.1 -.5 -1.4zM247.5 308.1l-.2 4.3 .2 -3.5zM263.1 316.2l1.2 1.7 -.1 1.9 -1.5 -1.7zM263.6 320.6l2.5 3 -2.5 -2.2zM259.2 316l-1.1 4.1 1.1 -3.3zM267.1 319.2l-2.2 6.2 2.2 -5.4zM270.4 309.2l-.8 5.8 .8 -5zM268.7 313.2l-4.2 2.4 4.2 -1.6zM280.8 306.5l1.3 .4 .7 2.2 -1.6 -1zM274.8 312.8l.9 1 -.1 1 -.6 -.2zM276.4 314.7l2.6 3.6 -2.6 -2.8zM292.6 316.8l3.9 -1.2 -3.9 2zM287.6 308.3l-4.9 .7 4.9 .1zM292.1 313.6l6.1 -1.5 -6.1 2.3zM303.5 314.6l2.7 -1.7 -2.7 2.5zM306.6 312.8l4.8 4.4 -4.8 -3.6zM302.4 315.8l4.7 -3.7 -4.7 4.5zM317.2 312.3l5.1 1.3 -5.1 -.5zM334.3 308.5l1.1 .3 1.7 1.6 -1.8 -.2zM337.5 309.6l3.4 3.1 -3.4 -2.3zM334.3 306.6l1.2 .7 .2 1 -1.3 -.8zM327.1 311.4l-3.7 0 3.7 .8zM192.9 323.9l.6 1.1 -.4 .7 -.4 -.3zM205.8 316.8l-.4 1.3 -1.2 .6 .7 -1.3zM197.3 325l1.8 0 1.5 .7 -2.1 .1zM193.1 318.7l1.2 -.6 1.1 .6 -1.1 .3zM208.3 316.6l-.8 .7 -1.2 -.6 1.4 -.9zM209.4 325.8l.8 1 -.9 1.4 -.6 -2zM211.9 325.3l-4.8 1.8 4.8 -1zM212.7 317.2l1.2 -.1 .9 .6 -.9 .4zM216 316.3l3.6 1.9 -3.6 -1.1zM215.6 313.7l.4 1.5 -.8 .6 -.2 -1.4zM221.5 317.4l-5.7 2.7 5.7 -1.9zM217.7 321.7l1.3 -.2 .6 .8 -1.3 0zM234.9 320.4l.4 4.9 -.4 -4.1zM223.9 326.2l1.3 .4 1.1 1.6 -2 -.7zM247.1 322.2l-2 1 -1.3 -.4 1 -1zM234.2 326.8l-6.4 .1 6.4 .7zM243.2 316.9l-1.7 1.1 -1.6 -.2 1.1 -1.1zM242.5 320.3l-2.5 3.9 2.5 -3.1zM243 323.3l.2 1.3 -.5 1.5 -.4 -1zM255.6 323.9l1.5 3.9 -1.5 -3.1zM246.9 317.6l1.5 .4 1.4 1.5 -1.5 -.2zM252 319.1l-1.7 2.9 1.7 -2.1zM263.3 325.2l4.6 .8 -4.6 0zM273 318.8l1.6 .9 .4 1.3 -1.1 -.6zM275.9 321.5l4.3 2.6 -4.3 -1.8zM283.2 313l.4 .9 -1 1.2 0 -1.8zM282.5 316l1.4 5.1 -1.4 -4.3zM281 319.6l1.3 -.8 .5 .8 -.9 .6zM275.7 319.2l-1.2 .9 -.8 -.7 .4 -.8zM295.8 314.8l.3 .9 -.3 1.7 -.5 -1.3zM297 317.9l-2.3 6.5 2.3 -5.7zM296 315.5l3.5 1 -3.5 -.2zM296.3 325l.4 1.1 -.7 .7 -.3 -1.2zM296.1 326.1l1.5 .4 .6 1.8 -1.9 -.8zM294.3 322.1l1.1 .4 0 1.7 -1.5 -1.1zM296 324.8l1.5 3.1 -1.5 -2.3zM312.1 315.3l.9 0 .9 1 -1.7 -.4zM315.5 315.3l3.4 2.3 -3.4 -1.5zM319.2 317.4l0 1.4 -1.2 .4 0 -1.1zM317.5 318.7l.6 3.7 -.6 -2.9zM319.7 317.8l-.5 .9 -1.1 -.2 1 -.9zM333.3 324.8l-1.2 1.3 -1.8 .8 1.7 -1.8zM328.1 328.4l-5.9 3 5.9 -2.2zM185.3 327.8l2.4 2.3 -2.4 -1.5zM202.7 329.2l-2.2 5.1 2.2 -4.3zM217.4 328l-.4 1.5 -1.5 .8 .6 -1.9zM212.4 333.2l2.3 .5 .8 .9 -1.5 0zM217.9 334.1l3.9 2.2 -3.9 -1.4zM224.2 332.9l3.7 .5 -3.7 .3zM227.1 339.6l-2.5 4.4 2.5 -3.6zM218.3 339.5l-.8 5.2 .8 -4.4zM212.7 336.2l.7 -.4 1.2 .7 -1 .5zM236.6 328.1l4.1 5.2 -4.1 -4.4zM227.7 330.5l0 1.2 -1 .9 .4 -1.7zM246.5 333.8l1.8 5.1 -1.8 -4.3zM237.8 334.8l0 1.1 -.8 1.9 -.1 -1.8zM236.4 339.5l1 3.8 -1 -3zM245.3 331.8l.1 1.6 -.8 .5 -.1 -1.2zM252.7 326.4l-3.7 2.7 3.7 -1.9zM245.3 329.5l4.2 5 -4.2 -4.2zM257.9 331.4l1.3 .5 .4 1.3 -1.4 -.8zM267 334.3l3.7 3.9 -3.7 -3.1zM265.3 331.4l1.4 3.6 -1.4 -2.8zM283.8 337l-.5 1.7 -1.6 .5 .5 -1.4zM281.8 339.5l-3 5.9 3 -5.1zM282 333.2l3.8 .3 -3.8 .5zM284 333.9l-1.8 3.1 1.8 -2.3zM295.2 325.7l5.5 3.3 -5.5 -2.5zM292 332l-.4 1 -1.2 .4 .5 -1.6zM306.1 325l-.7 1.3 -1.4 0 .5 -1zM295.8 326.3l.2 1.3 -.7 2.4 -.1 -2.2zM320.7 335.3l-1 1.2 -1.9 .1 .9 -1.4zM316.9 336.8l-2.8 5.4 2.8 -4.6zM315.8 337.7l-3.2 5 3.2 -4.2zM329.7 329.1l-1.2 1.1 -2.3 -.3 1.6 -.9zM184.4 338.1l2.2 5.2 -2.2 -4.4zM192.7 335.9l-3.5 3.3 3.5 -2.5zM200.3 344.9l3.2 1.6 -3.2 -.8zM193.7 345l-5 .3 5 .5zM211.5 346.6l2.2 .6 .8 1.3 -1.7 -.2zM215.9 333.2l1.6 .1 1.4 1.3 -1.7 -.1zM229.6 345.4l4.3 1.8 -4.3 -1zM233.7 344.5l3.4 3.5 -3.4 -2.7zM222.2 336.7l-3.9 5.1 3.9 -4.3zM232.3 348l-1.9 3.5 1.9 -2.7zM235.4 340.8l.2 1.1 -.7 1.9 -.2 -2.2zM244.2 345.7l-4.5 -1.4 4.5 2.2zM236.1 339l.1 1.5 -1.1 1.5 .2 -1.5zM250.6 334.7l-5.7 -1.9 5.7 2.7zM252 345.6l-3.4 5.6 3.4 -4.8zM258.5 345.5l-1.5 .6 -2 -.6 1.8 -.5zM252.6 345l-5 1.5 5 -.7zM248.7 340.8l3.1 4.4 -3.1 -3.6zM260.3 337.1l-2.1 2.8 2.1 -2zM253 342.6l-4.1 -.5 4.1 1.3zM290.5 343.5l4.9 .6 -4.9 .2zM279.5 335l-2.8 2.9 2.8 -2.1zM292.1 345.1l.6 1.4 -.7 1.1 -.8 -1.4zM292.4 347.5l-1.4 4.3 1.4 -3.5zM287.2 340l-1.1 .9 -.9 -.3 .1 -.8zM283.5 341.4l-4 1.1 4 -.3zM284.4 336.9l5.4 3.4 -5.4 -2.6zM328.7 338.3l-1.1 .7 -1.3 0 1 -1zM321.9 338l-5.7 .4 5.7 .4zM191.6 355.6l1 2.1 -.4 1.4 -.9 -1zM188.2 350.3l.8 3.4 -.8 -2.6zM205.3 346.6l3.3 -.1 -3.3 .9zM197.2 350.4l-.7 4.8 .7 -4zM195.8 351.2l-.6 1.5 -1.3 -.2 .9 -1.3zM210.1 354.8l6.3 .6 -6.3 .2zM203.4 355.3l-2.2 2.5 2.2 -1.7zM245.9 349.1l-1.8 4.7 1.8 -3.9zM242.2 353.9l.1 1.4 -.8 1.5 -.2 -1.4zM253.9 355.4l1.6 3.9 -1.6 -3.1zM251.8 349.9l-2.7 4.3 2.7 -3.5zM186.8 363.8l1.2 .6 .3 1.3 -1.2 -.8zM196.3 358.5l-1.7 1 -1.1 -.5 1.5 -.8zM205 365.8l-3.4 3.5 3.4 -2.7zM209.1 360.3l-3.4 3 3.4 -2.2zM214.8 359.1l-1.2 1.9 -1.1 .5 .5 -1.4zM216.6 361.6l5.6 -2.5 -5.6 3.3zM309.2 358.8l6.3 2.1 -6.3 -1.3z" fill="#1d1742" stroke="#1d1742" stroke-width="0.6" stroke-linejoin="round"/>
<path d="M215.1 267.4l-.1 1.9 -.8 .6 -.4 -.8zM222.6 262.9l1.3 .4 1.1 1.9 -1.8 -.7zM225.8 261.5l.6 1 -.8 2.1 -.4 -2zM247.8 256.8l.9 .7 .1 1.5 -.9 -.8zM243.2 267.8l1.1 .1 1.2 .9 -1.9 -.2zM261.7 264l-1 .4 -1.7 .1 1.3 -.7zM264.9 261.3l.5 1 -.4 1 -.7 -1.1zM296.7 262.8l1.1 .4 .9 1.9 -1.7 -1.5zM318 256.2l-.5 1.4 -1.2 .7 .3 -1.5zM193.3 272.1l1.2 -.5 .6 .9 -1.3 .2zM219.4 265.3l.5 1.6 -.7 1 -.6 -.9zM234.7 266l1.2 .3 0 1.1 -1 -.4zM233.5 273l1.8 .8 .6 1.3 -1.1 0zM245.1 275.5l-.3 .8 -1.2 1.2 .4 -1.3zM266 275.6l1.6 .4 .4 1.2 -1 0zM278.8 274.1l1.2 -.2 1.7 .8 -2.1 .1zM296.4 276.6l-.8 1.5 -1.4 .8 .7 -1.7zM319.5 272l.5 1.7 -.8 .9 -.3 -1.5zM336.6 275l1.2 .3 -.1 .9 -1.1 -.7zM324.2 277.5l.6 -.5 1 .5 -1.1 .4zM325.6 265.5l-.7 1.3 -1 -.1 .2 -.9zM335.6 276.1l-.2 1.8 -.7 .5 -.2 -.5zM193.4 279.5l-1.1 .5 -1.7 -.5 1.6 -.9zM207.1 282.7l-.2 1.7 -1.2 .7 .2 -1.4zM205.7 277.5l.1 1.1 -.9 .8 0 -.8zM217.2 275.8l1.4 1.4 0 1.2 -.7 -.7zM214.1 275.7l.9 1.1 .4 1.9 -1.3 -1.9zM233.6 282.1l-.5 1.6 -1.5 .6 .6 -1.4zM239.6 286.7l1.7 .1 .3 .8 -.7 .3zM241.8 278.4l-.1 1 -1 .3 -.4 -.8zM255 277l1.3 .1 1.3 1.8 -1.8 -.9zM284.8 279.1l1.6 1 .4 1.4 -1.7 -.9zM315 285.1l-.8 .8 -.8 -.1 .1 -.6zM323.3 279.9l.4 .8 -.4 .9 -.5 -1.1zM322.4 281.2l1.4 .1 0 1 -1 .1zM319.6 278.3l1.2 0 1.4 1.5 -1.7 -.4zM333.4 278l-.6 1 -.7 .2 .3 -.8zM327.6 275.5l.7 1.2 0 1.2 -.6 -.8zM186.8 285.3l-.3 1.2 -1.5 .8 .7 -1.7zM197.2 296.7l1.3 1 .5 1.6 -1.6 -1.4zM234.7 284.6l.2 1.4 -1 .5 .1 -1.6zM238.3 283.9l1.4 1.4 .1 1.2 -1.2 -.7zM235.4 289.5l1.6 .3 .3 1.3 -1 0zM267.2 289.3l-.7 1.9 -1 .3 .2 -1.1zM272.4 291l.8 1 -.5 1.2 -.5 -1.1zM285 295.7l.9 1.4 -.1 1.9 -1.2 -1.6zM286.7 295.7l-.7 .5 -1.5 -.4 1.8 -.5zM306.4 292l.3 1.5 -.8 1 -.6 -1.1zM204 300.5l.7 1.3 -.2 1.2 -.7 -.8zM206.4 302.4l-.4 1.4 -1.4 .7 .5 -1.2zM224.2 295.3l1.2 .3 0 1.3 -1.3 -1zM256.2 306.1l1 1 -.1 .9 -.8 -.7zM305.1 295.8l-.7 2 -1.1 .8 .4 -1.6zM297.4 298.4l-.1 1.6 -.8 1.5 -.3 -1.2zM304.8 300.4l1 1.6 .1 1.4 -.9 -1.1zM318.3 298.8l.6 1.7 -.2 1 -.6 -.7zM215.1 307.5l.8 0 .3 1.2 -1.5 -.4zM209.6 306.2l-1.2 1.5 -1.3 0 .6 -1.2zM215 311.8l-.2 1.4 -1.3 1.4 .8 -2zM245.3 306.9l1.4 .4 .4 1 -1.3 -.1zM251.4 307.9l-.7 1.1 -1.1 .4 .4 -.8zM266.4 304.4l.9 .5 .2 1 -1.2 -.7zM258.5 313.3l.8 .7 -.3 1.2 -1.1 -1.2zM275.2 315.6l1 -.1 .8 .4 -.5 .4zM284 311l.9 1.8 -.1 1.3 -.7 -.7zM297.4 315.5l1.9 -.4 1.2 .9 -1.6 .3zM309.2 309.3l1.9 .6 .8 .8 -.9 .2zM314.8 310.7l.9 0 .5 1.3 -1.5 -.4zM188.5 317.4l.9 1 -.2 .8 -.6 -.3zM203.4 324.5l-1.2 1.4 -1.2 -.1 .3 -.9zM214.1 314.5l1.9 0 .8 .8 -1.3 0zM228.4 319.8l-.5 1.6 -.9 .7 .3 -1.3zM242.3 317.6l.3 1 -.5 1 -.5 -.6zM256.9 324.3l-.5 1 -1.5 1 .9 -1.5zM251.2 322.8l.6 1 -.7 2.1 -.7 -1.8zM256.5 324.6l-.1 1.1 -.9 .3 -.1 -.9zM261 326.4l-1.3 1.9 -1.2 .4 .4 -.8zM267.7 314.4l.8 .8 -.5 1.5 -.7 -1.2zM294.8 328l-.8 .4 -1.3 -.2 1.6 -.6zM299.6 326.6l.7 .9 -.6 1.3 -.8 -1.2zM307.7 315.7l-1.1 1.6 -1.4 .2 .7 -1.1zM187.6 325.3l.2 1.6 -.9 .8 -.3 -.8zM205.6 331.8l.2 .7 -.7 .9 .1 -1.1zM215.3 331.2l1.9 .2 .3 1.1 -1 .2zM256.2 324.8l-1.1 1.2 -1 .2 .8 -1zM260.6 332.3l-.3 1.6 -1.3 .9 .5 -1.5zM266.2 327.8l1.2 -.7 .9 .5 -.5 .7zM282.4 329.2l-.2 1.2 -1.3 1 .5 -1.7zM284.4 330.6l.4 1.5 -.4 .8 -.4 -1zM298.2 335.9l-.2 1.1 -.7 .9 -.2 -.7zM288.1 328.9l1.1 1.3 -.5 .8 -.8 -.3zM332.7 333.4l-.5 1.1 -1.5 .2 1.2 -1.2zM205.3 342.3l1.5 -.1 .6 1 -1 .1zM196.9 345.3l-.8 .4 -1.2 -.5 .9 -.6zM217.2 342.6l-.4 1 -1.2 .6 .6 -1.2zM254.5 345.4l-.9 .8 -.7 -.5 .5 -.7zM244.9 340.7l1 -.4 1.4 .7 -1.7 .1zM272.8 344.6l1.5 1.4 -.1 1.1 -1 -.7zM284.8 333.2l.1 1.3 -1.4 .8 .2 -1.3zM282 333l-.5 1.7 -.9 -.1 0 -1zM316.2 338l-.2 2.1 -.7 .5 -.3 -.6zM187.3 347.7l.9 1 -.4 .9 -.7 -.7zM204.6 351.2l-.6 .6 -1.7 .2 1.3 -1zM208.4 355l-1.1 .9 -2 -.5 1.9 -.9zM257.2 351.9l.4 1 -1.2 1.3 .2 -1.8zM250.9 345.5l.8 1.6 -.4 1.4 -.6 -.9zM196.2 358.6l1.3 .8 .4 1.8 -1.2 -.9zM206.5 363.7l.1 1 -1.1 .5 .2 -1.3zM212.3 361.7l1.6 -.6 1.1 .5 -1.5 .4zM205.1 358.3l-.3 1.3 -1.6 1.2 .4 -2z" fill="#7266cc"/>
</g></g>
<clipPath id="mc3"><rect x="28.2" y="384.1" width="150.3" height="107.4"/></clipPath>
<g clip-path="url(#mc3)"><g filter="url(#mblur)">
<rect x="26.2" y="382.1" width="154.3" height="111.4" fill="#c8c7d8"/>
<rect x="26.2" y="382.1" width="154.3" height="111.4" fill="url(#spk)"/>
<path filter="url(#halo)" d="M37.1 392.4l-1.2 1.6 -3.1 -.3 2.1 -1.8zM32.1 385.2l2.6 2.3 1.1 3.3 -2.9 -1.8zM35.6 393.6l4 .2 1.2 1.5 -2.6 .5zM25.8 386.4l1.8 -.8 2.5 1 -3.2 .9zM33.3 382l1.4 1 .8 2.3 -2.5 -1.9zM31.4 384.7l2.7 1.4 .7 2.9 -2.5 -1zM29.8 384.3l3.5 1.2 2 2.6 -3.9 -.9zM44.3 388.9l-1.2 1.4 -3.2 -.9 2.3 -1.7zM47.7 385.4l-2.5 1.7 -3.1 -1.1 2 -1.3zM46.7 386.8l-.5 2.4 -3.5 2.7 1.6 -4.1zM40.3 394.2l-1.8 1.6 -4.4 -1.2 4.5 -1.1zM39.7 381.7l-.3 1.7 -2.5 .5 .5 -2.1zM46.6 392.2l3.5 -.2 2.9 1 -3.7 .5zM41.5 387l1.7 .1 1.9 2.2 -3.4 -1.4zM54.5 383.7l1.3 .9 .4 2.3 -1.5 -.9zM58.2 384.5l-1.2 1.6 -2.4 -.6 2 -1.1zM57.3 380.5l1.4 2.1 -1.5 2.3 -1 -3.3zM54.4 392.4l-1.3 1.8 -3 -.4 1.4 -1.7zM49.5 381.4l2.5 .6 2.6 3 -3.8 -1.7zM61.4 393.6l-3.1 1.9 -2.1 -.3 1.7 -1.3zM60.6 386.3l.6 2.3 -1.4 2.9 -.6 -2.4zM65.3 392.7l4 1.6 1.3 2.4 -2.6 -.2zM61.3 382l.8 2.4 -1 1.2 -.9 -1.2zM67 385.3l-.6 1.6 -3 1.1 2.7 -2.9zM67.5 385.8l1.6 .8 1.9 3.2 -3.2 -1.8zM58.7 394.1l2.6 1.6 -.2 1.5 -2 -1.1zM61.1 383.9l.5 3.1 -1.5 2.4 -.2 -3.3zM64.5 385.9l2 1.1 .5 2.2 -2.1 -.6zM75.2 393.4l1.8 .9 .1 3.3 -2.7 -2.8zM79.9 390l-.1 3.2 -1.9 1.8 -.1 -2.2zM77.1 390.3l2.8 2.2 -.6 2.1 -1.4 -.3zM67.9 388.6l3.8 2.3 1 2.3 -2.8 -1.2zM79 381.4l-1.1 2.4 -2.1 .4 .8 -2.2zM76.2 382.8l.3 3.1 -1.9 .9 -.8 -1.6zM67.1 385.6l.9 1.6 .3 3.2 -2.1 -2.7zM86.3 384.4l-3 1.6 -2.1 -1.2 2.7 -1.6zM88.9 389l-1.8 4.4 -2.3 1.2 .2 -1.8zM83.3 382.2l2.6 .8 1.1 1.9 -3 -.8zM77.6 390.9l2.3 -.1 1.1 1.7 -1.7 0zM86 383.8l-1.5 2.9 -1.8 -.5 .6 -1.8zM78.9 381.6l-1.3 1.4 -3.7 -.1 2.2 -2.2zM91.2 380.2l-.3 2.4 -3 1.6 .3 -2.3zM83 396.1l-3 .1 -3.2 -.9 2.6 -.7zM91 390.9l2.8 1.8 .8 3.1 -1.9 -1.5zM90.9 392.7l4.3 .6 1.7 2.3 -2.6 .3zM97.9 384.9l-.2 2.9 -2.1 1.9 .2 -2.7zM98.4 389.8l1.9 .7 .4 3.5 -2.5 -2.8zM96 384.6l3 3.3 .1 2.7 -2.1 -2.5zM93.1 388.7l-2.8 3.8 -2.5 .7 .8 -1.6zM88.4 390.2l-.1 2.4 -3.8 1.7 1.4 -2.9zM100.9 386.1l-1 3.1 -2.2 .4 1 -2.3zM100 383.6l1.5 2.2 -.3 2.4 -1.8 -2.3zM97.3 383.6l2.5 0 3.1 2.8 -4.4 -.9zM103.2 390.8l2.7 1.7 .9 3 -2.9 -2.5zM112.6 389.4l-1.5 1.9 -4.4 .8 4.4 -2.5zM100.6 392.5l2.2 -.2 1.6 2.6 -2.1 .2zM99 394.3l-1.2 2.2 -1.9 -.4 -.1 -1.2zM95.2 393.7l4.4 -.8 2 1.6 -1.4 .9zM109.8 390.5l1.3 .9 .8 3.2 -2.7 -2.6zM111.3 388.6l.6 2.6 -1.7 3.9 .1 -3.6zM116.5 380l2.6 2.3 1.1 3.1 -2.5 -1.3zM120.6 391.3l-.3 2.2 -1.7 1.1 -.2 -1.3zM114 392.6l-.1 2.3 -2.3 2.8 1 -4zM113.9 379.9l1.2 2.5 -1.3 2.1 -1.1 -2.6zM107.9 391.8l-.2 1.7 -2.2 1.7 .4 -2.6zM132.5 381.9l-1.4 1.8 -3.1 .3 1.4 -2.2zM120.9 383.5l2.7 -.9 3.3 .9 -3.3 .9zM127.7 382.6l-1.9 3 -3.2 .7 1.6 -2.4zM116.5 383.9l3.1 1.5 2.1 2.5 -3.3 -.8zM126.7 383.4l.9 2.7 -1.5 1 -1.2 -.9zM122.2 386l-.7 3.2 -1.5 2 -.2 -2.4zM124.9 386.4l.4 2.7 -1.8 2.9 0 -4.2zM128.9 389.9l.7 2.3 -1.2 2.7 -1 -2.3zM137.7 384.2l.8 1.9 -1.1 2.4 -1 -1.5zM136.9 383.6l-2.4 1.6 -4.3 .2 4.2 -2.1zM130.2 381.5l2.1 .4 2.3 3.3 -3.9 -1.5zM135.6 384.4l2.6 -1.2 1.9 1.2 -1.3 .8zM125.3 386l3.6 1.4 1.7 2.5 -2.4 0zM131.7 380.1l0 3.7 -1.8 2.7 .2 -3.6zM144 388.6l2.4 -1.5 3.6 1.2 -3.1 1.2zM146.7 383.2l2.3 2.8 .9 2.9 -2.2 -1.9zM147.7 389.3l3.2 2.4 .6 2 -2 -.6zM149.3 395.1l-3.3 1.5 -2.5 -.3 2.9 -1.9zM144.4 385l1.8 1.9 .1 2.2 -1.5 -.4zM143.8 392.3l-.8 1.1 -2.8 .1 1.2 -1.8zM143 387.5l3.6 1 1.6 2.6 -2.9 -.6zM153.6 382.9l-.7 2.5 -1.6 .8 -.4 -1.2zM156.3 383.9l1.9 1.7 -.3 3.1 -1.5 -2.1zM152.9 385l.7 3 -1.2 3.8 -1.2 -4zM150 390.5l-2.1 1.5 -4 -.5 4.6 -1.9zM157.8 387.3l-2.4 3 -2 .1 .8 -1.7zM148.6 381.3l3.3 -.1 1.6 2.2 -3 0zM155.3 392.3l2.1 1.3 -.4 2.3 -1.5 -1.2zM156.8 385.6l3.1 3 .4 2.1 -2.1 -1.1zM164 392.6l1.7 1.5 0 2.7 -2.1 -1.5zM163.9 389.8l2.5 -.3 .9 1.5 -2.4 .4zM166.7 387.5l3 -.6 1 1.3 -1.9 .8zM168.6 386.4l1.8 1.4 .7 2.7 -2.5 -1.7zM163.2 385.5l3.4 3 .3 2.4 -2.6 -1.5zM160 389.7l-.4 2.9 -1.9 2.9 .4 -3.4zM175.7 386l-2.4 1 -4.6 -.9 5.5 -1.1zM173.6 394.8l-2.3 2.1 -2.6 .3 1.4 -2.2zM165.3 393.3l3.2 .4 2.6 2 -2.6 0zM173.7 392.1l1 3.1 -1.2 2.7 -1 -3.3zM179 386l1.8 .9 .5 2.6 -2.2 -2.3zM179.9 392.3l-1.5 2.3 -3.6 .8 2.3 -2.2zM166.6 381.7l1.3 2.4 -1.1 1.4 -1.5 -1.7zM172.8 382.3l-1.8 1.6 -1.7 -.3 .1 -1.2zM31.1 397.6l3.2 -1.6 1.9 1.5 -1.5 1.3zM41.5 397.8l-3.4 3.3 -2.2 .6 .9 -1.7zM30 400.7l-2.8 1.5 -1.3 -.9 2 -.9zM38.5 401.3l1.5 2.1 -1 2.9 -.9 -2.1zM36.3 402l-.5 2.4 -2.6 2.2 .8 -3.3zM31.5 391.3l-3.4 2.7 -1.8 -.9 1.8 -1.9zM30.7 396.5l-.5 2.6 -1.9 2.2 .7 -3.6zM35.9 391.9l2.5 1 1.9 3.9 -4.2 -3.2zM39.3 394.8l-1.7 2.5 -3.2 .4 2.5 -2.6zM34.1 401.8l3.3 0 1.3 1.5 -1.8 .1zM41.2 391.4l-2.1 2.8 -2.2 0 .5 -1.6zM46.3 391.6l1.4 .8 0 2.6 -1.6 -1.8zM37.1 394.5l3.3 .7 2.7 2.8 -4 -1.4zM46.8 404.3l-3.2 2 -2.6 -.2 1.4 -1.1zM53.4 399.3l0 2.3 -2 2.1 .3 -3.1zM53.2 391.6l1.7 1.4 -.1 3.1 -2.1 -2.2zM59.9 402.9l.3 1.8 -2.1 1.7 -.2 -2.8zM44.8 391.8l3.4 1.9 1.2 3.1 -2.4 -1zM56.4 399.9l-1.8 .8 -3.4 .4 3 -1.8zM55.5 403l2.6 1.3 1.8 2.5 -2.2 -.5zM58.3 394.2l-2.3 2.1 -1.7 -.8 1.1 -1.6zM72.1 400.1l-1.6 1.8 -4 .7 2.5 -2.9zM62.3 402.2l2.1 1.2 .2 1.6 -2 -.9zM65.9 402.2l-.1 3.3 -2.1 2.5 -.2 -2.8zM68.8 397.3l.5 2.4 -1.8 2.5 .2 -3.2zM57 396.3l1.9 2.3 .4 2.8 -2.3 -2.1zM58 397.8l2.6 .9 1.6 1.8 -2.5 -.5zM58.7 393.3l2.2 -1 4.1 1.3 -4.3 .7zM68.7 391.4l2.9 1.6 .8 2.3 -1.9 -.1zM69.2 400l1.7 1.9 .5 3.4 -2.8 -3.3zM78.7 403.2l.3 2.5 -2.2 2.1 -.1 -3.4zM81.6 391.3l-1.8 3 -2.1 .3 .4 -2.2zM78.2 400.4l1.6 .8 .8 2.4 -1.7 -.5zM78.3 401l2.7 2.8 .4 2.4 -2 -1.3zM71.5 398.6l-1 3.6 -2.4 1.3 -.5 -1.7zM85.1 402.2l2.9 2.3 -.5 2.2 -1.9 -1.1zM79.8 390.6l1.3 4.1 -1.1 2.6 -1.5 -2.6zM86.4 392.8l1.9 1.8 .4 3.1 -2.3 -1.5zM87.5 398.3l-1.7 .5 -2 -.6 1.5 -.8zM80.4 393l-.1 4 -2.1 2.3 0 -2.7zM80.3 396.3l1.9 2.9 -.8 1.9 -1.3 -.8zM82.2 394.5l1.4 1.7 -.6 1.8 -1 -2.1zM99.5 403.6l-.9 1.7 -2.6 1.2 1.1 -2.3zM88.3 394.5l2.2 -.6 1.9 2.6 -2.7 0zM96.5 395.9l.7 2.1 -2.3 2.7 -.4 -2.9zM87.7 394.3l2.2 -1 2.5 1 -3 .8zM92 394.3l1.3 1.8 .2 3.1 -2.1 -3.2zM97.9 398.3l-1.9 1.5 -2.3 -1.1 2 -1.3zM88.7 398.1l-.7 2.7 -2.3 2.1 .9 -3.8zM110.4 397.9l0 2.5 -2.4 1.3 .4 -2.2zM106.8 393l-1.5 1.2 -3.1 -.7 2.2 -1.7zM96.3 395.6l3.3 -.3 1.3 1.2 -1.2 .6zM101.9 394.2l1.1 2 -.9 2.2 -.5 -3.2zM106.6 399.7l0 2.8 -3.2 2.9 1 -4.1zM95.8 402l3.4 2.8 .8 2.4 -2.5 -2.1zM99 402.8l-1.8 2.7 -1.6 .5 .7 -2zM110.4 403.4l-2.5 3.2 -2.9 .3 .9 -2.2zM111.4 403.1l2.3 0 2.7 3.2 -4.8 -1.7zM117.8 392.8l-1 4.3 -2 1 -.3 -1.3zM120.3 394.3l-2.9 1.1 -2 -1 1.2 -1zM110.7 402.4l-.2 1.8 -1.9 1.3 .2 -2.6zM117.5 395.7l2.7 1.3 1.4 2.1 -3 -1.3zM109.4 404.8l-1.5 1.7 -2.4 -.9 1.7 -1.3zM117.9 402.8l-2.2 1.6 -2.1 -.8 1.6 -1.8zM111.9 401.3l-.8 2.5 -3.4 1.5 2.5 -4zM124.1 395.2l-2 1.6 -4.1 .6 3.5 -2.3zM127 389.5l.2 4.1 -.9 1.8 -.8 -2.8zM124.8 396l-1.4 3.8 -2.1 2 .5 -2.3zM123.1 405l-2.4 .8 -3.2 -.6 2.7 -.9zM131.4 396.7l-2.3 2.1 -1.9 -.2 .2 -1.6zM123.7 398.4l2.9 .1 1.2 1.3 -.8 .8zM129 398.1l-3.5 2 -3.1 -.3 3.7 -1.7zM131.5 403.8l-3.2 1.3 -2.8 -.3 2.7 -1.8zM139 391.3l1.5 1.9 -.5 3.4 -2.1 -3.5zM125.2 402.7l2.9 1.5 .8 1.7 -2.4 -1.2zM139.9 401.8l.7 1.4 -1.5 2.3 -.5 -3.3zM135.3 395.1l-2.5 1.8 -3.9 .1 4.2 -2.5zM134.8 397l1.3 2.8 -1.8 2.1 -.8 -2.8zM138.2 398l-.1 1.7 -2.6 1.6 .4 -2.5zM141.2 395.1l-1.6 1.7 -2.9 -1 3.2 -1.9zM135.9 393.8l2.5 -1.5 2.6 1.2 -3 1zM135.1 398.3l2.9 .5 2 2.1 -2.7 -.1zM151.6 392.9l-3.2 1.1 -1.6 -.7 1.2 -1.2zM146.6 396.6l-.2 2.5 -2.6 1.4 .1 -2.5zM144.2 404.5l-1.8 1.5 -2.5 -.3 1.8 -1.4zM146 403.1l.6 2.1 -2.5 2.9 .4 -4.2zM150.2 399.1l-1.5 2.4 -4.1 .8 3.4 -3.2zM155 391.3l.1 2.8 -1.9 4 -.6 -4.2zM150 404.6l-.9 1.4 -2.7 -.2 2.3 -1.5zM154.2 396.6l2.9 1.3 2.3 2.4 -3.4 -1zM146.5 392.8l2.7 1.2 1.8 3.3 -3.1 -2.1zM149.4 397.7l1.1 3.2 -1.4 1.6 -1.3 -1.1zM163.5 396.7l-1.9 1.6 -4.5 -.2 3.5 -2zM155.4 394.2l-2.5 2.4 -1.7 -.2 .2 -1.2zM159.8 397.4l-2 3.1 -2.9 .7 .9 -2.5zM168.5 400.5l-1.1 2.4 -2.2 0 1.3 -2.1zM160 394.9l-.2 3 -2.5 2.9 -.2 -3.3zM165.2 397.1l1.9 -.7 1.5 2.5 -3 -.7zM166.3 400.4l-2.6 .7 -2.3 -.5 2.2 -1.2zM164.9 404.8l-2.2 1.7 -1.8 -.8 1.7 -2zM164.1 400.5l2.7 1.1 1.1 2.8 -2.6 -2.1zM175.4 399.3l-.6 1.6 -2.7 0 1.3 -1.5zM179.6 402.1l2 1.4 0 1.7 -2.1 -.8zM172.7 397.3l2.3 .5 1 2.1 -2.1 0zM170.5 401.3l2 -.1 1.2 2.2 -2.1 0zM180.5 390.3l.2 1.5 -1.1 2.5 -.8 -2.6zM171.5 389.9l1.8 2 .7 3.6 -2.7 -2.8zM171 393.9l2.3 .3 .5 2.2 -1.7 -.4zM30.1 400.6l2.8 .1 2 2.7 -3.9 -.7zM40.4 406.5l-.9 1.6 -3 .9 2.2 -2.8zM25.4 408.6l1.8 .7 .3 2.6 -1.8 -1.5zM34.7 410.5l2.9 .6 1.5 2.4 -2.4 -.6zM30.7 410.9l1.4 1.7 -.2 3 -1.5 -1.8zM32.4 406.2l1.7 2.3 -.6 3.6 -1.6 -3.3zM36.4 412.6l4.2 -.1 2.1 1.9 -3.3 .8zM45.8 410.4l-1.8 2.7 -3.8 1.1 2.3 -2.5zM47.8 401.8l.2 2.7 -1.3 .8 -.5 -1.5zM40.3 413.5l3.4 .6 2.2 2 -2.1 -.2zM43.5 403.3l1.7 .8 1.2 3.3 -2.4 -2zM45.7 405.3l1.1 1.9 .2 4.9 -2.3 -3.7zM47.2 402.5l2.9 .4 1.8 3.4 -3.3 -1.3zM41.2 409.9l4.4 -.7 1.6 1.8 -2.8 .5zM53.4 403l2.3 2.6 -.8 2.3 -1.6 -2.1zM60.7 403.9l-2.3 2.2 -2.6 1.1 1.7 -2.5zM58.7 411.9l1.3 1.7 -.3 2.9 -2.3 -2.8zM58.3 410.9l-1.7 .9 -4.2 -.1 4.2 -1.6zM59.3 404.3l-.9 1.7 -3.2 0 2.6 -1.9zM58.7 410.4l.5 1.3 -1.1 3 -.9 -2.8zM49.1 404.2l-.7 2.1 -2.8 .3 1.6 -2.4zM66.4 408.9l-.8 1.5 -2.1 .6 .8 -1.9zM59.4 406.5l-.7 1.2 -2.5 2.1 1.7 -3.8zM69.8 402.3l-.8 1.8 -3.5 2.2 1.8 -2.9zM65.1 415.5l2.5 -1.8 2.1 1.4 -1.3 1.3zM58.7 413.1l-.4 2.2 -3.4 .8 1.7 -2.7zM59.7 408.6l-2.9 1.3 -3.7 -1.3 3.8 -1.4zM57.8 408.7l.7 2.1 -.4 4.4 -1.2 -3.7zM72.3 413.1l2.4 1.4 -.1 2.4 -2.5 -2zM67.2 409.2l2.4 -1.3 1.9 1.7 -2.9 .6zM73 414.5l-1.3 .7 -3.2 -1 3 -1zM79.2 398.8l1.8 2.6 .6 3.7 -2.5 -3.6zM68.6 413.4l1.6 -.5 2 1.5 -2.2 .4zM72.9 413.6l1.6 .9 .1 2.3 -1.4 -1.1zM78 409.1l2.9 .8 .8 2.4 -1.9 -.4zM77.2 403l2.1 .2 3.2 2.4 -3.3 -.1zM86.9 401.6l2.9 1.9 .6 2.1 -2.2 -1.6zM80.2 411.8l3.5 2 1.4 2.6 -2.6 -.9zM88.4 410.2l3 1 .8 2.1 -1.4 .2zM77.5 402.7l.1 2.7 -1.2 1.2 -.4 -1.5zM83.4 412.2l.6 2.3 -2.4 3.1 .2 -3.3zM83.9 403.9l3 -.1 1.1 1.2 -1.2 .6zM77.4 410.1l2.3 3.4 -.6 1.9 -1.3 -1.3zM98.9 401.6l.8 2.8 -.3 3.6 -1.5 -3.7zM87.6 412.6l3.8 .8 1.1 2.6 -2 0zM102 400.1l-1.6 2.9 -2.9 1.7 1.2 -2.3zM87.8 409.3l2.1 .1 2.3 2 -2.5 .3zM91.7 406.5l1.5 2.4 -.2 1.4 -1.1 -.7zM92 400.6l-1.1 2.4 -1.8 .5 -.2 -1.6zM92.8 409.4l1.7 3.3 -.9 1.9 -1.4 -2.1zM99.4 410.5l1.3 3.8 -1.5 1.6 -1 -2.5zM98.8 411.6l1.2 3 -.4 1.8 -1.1 -.5zM104.1 402.3l2.5 -.8 2.6 2.2 -4.2 -.3zM99.7 405.2l2.7 1.8 .7 3.3 -2.7 -2.7zM97.1 402.5l-.2 1.9 -1.2 2.9 -.4 -2zM103.4 401.3l1.1 2 -1.3 1.6 -.6 -2.1zM95.9 402.6l3.6 -.2 3 1.5 -4.2 .3zM114.4 401.4l-2.2 2.5 -2 -.4 1.1 -2.2zM120.9 409.9l-1.7 2.3 -3.1 .4 1.9 -2.4zM108.4 408.8l3.5 -.9 2.1 1.7 -1.6 1zM115.9 406.7l-.5 2.4 -4.2 2.8 3 -5zM108 406.4l2.2 -1 3.8 1.9 -4.5 .7zM120.8 408.2l.4 2.1 -2 2 -.1 -2.6zM104.2 405.7l4 .9 1.5 2 -3.1 -.3zM119.8 409.3l2.3 2.3 -.3 4.1 -2.5 -3.9zM122.3 402l1.4 2 -1.9 1.9 -.7 -2.7zM130.2 399.6l.7 2.4 -1.5 3.2 -.7 -4.3zM122.3 407.2l-.8 2 -2.9 .8 1.6 -1.9zM121.8 404l.5 1.5 -1.6 2.1 -.2 -2.2zM131.4 403.8l-1.5 3.6 -2.4 1.7 .3 -2.2zM129.5 405.7l.7 1.8 -1.5 2.5 -.6 -2.7zM136.4 410.6l-2.7 1.9 -2.4 -1 1 -1.6zM134.5 400.5l2.4 2.1 .1 2.6 -1.9 -1.7zM135.1 410.2l-2 2.6 -1.8 .1 .9 -1.9zM130.7 408.9l-3.9 1.9 -2.2 -1.2 1.8 -1.3zM126.4 410l2.3 .6 2.2 1.7 -2.6 -.2zM128.9 402.3l.4 2.3 -1.2 1.7 -.3 -2.4zM133.6 414l-3.2 2.2 -3.3 .5 2.6 -2.3zM141.3 409l.8 1.8 -2.1 1.6 -.3 -2.7zM138 412.1l3.9 -.5 3.1 1.3 -3.4 .2zM141.8 409.1l.9 1.7 -1.6 3.3 -.2 -4zM135.8 402.6l2.2 -.4 2.2 2.9 -4.3 -1.4zM138.3 405.9l2.7 2.4 1.2 2.9 -2.1 -1.4zM134.4 401l3.6 .9 1.8 2.4 -3 -1zM150.9 401.1l-.9 1.1 -2.9 1.3 1.9 -2.7zM152.8 408.5l1.8 .9 -.3 2.9 -1.9 -2.6zM152 409.8l1.9 .1 .5 2.5 -1.6 -.7zM158.2 411.2l-2.5 1.2 -2.2 -.5 1 -1.4zM157 404l-1.3 1.7 -4.2 2.4 2.4 -3.8zM151.7 409l-.4 3.1 -1.6 1 -.7 -1.3zM150.6 403.7l-2.5 3.4 -2.7 .9 2.2 -2.6zM149.5 408.3l1.6 1.6 1.4 3.5 -2.8 -2.4zM158.8 414.1l4.2 -.3 1.7 1.4 -2.6 .3zM168.7 407.9l1.8 1.7 .1 3.7 -2.1 -4zM159.4 411.9l2 2.4 .1 2.6 -1.5 -1.5zM171.4 407.6l-1.5 3.4 -2.2 1.3 .3 -2.6zM166.9 401l2.3 1.1 2.4 3.8 -3.7 -2.7zM162.3 407.8l-1.4 2.7 -2.3 1 1.1 -2.6zM158.1 405.7l1.5 1.6 -1.9 2.3 -.6 -3zM173.5 408l-1.8 1.2 -3.3 -.5 4 -1.6zM175.5 411.5l-1.5 2.2 -2.7 .5 1.2 -1.7zM177.3 400l1 1.1 -.3 3.1 -1.7 -2.5zM178.1 411l-1.9 2 -1.6 -.8 .5 -1.3zM174.5 413.4l-3.8 2.1 -2.6 -.1 2.3 -2.1zM165.7 403.7l2.7 1.3 .9 2.8 -2.2 -.7zM175.7 411.6l-2 2.2 -2 .1 .8 -1.9zM24.3 410.6l3.8 1 .7 2 -2.6 -.7zM31.4 422.9l-1.4 1.6 -1.8 .1 1.4 -2.1zM33 411.7l-1.8 2.7 -4.3 .5 3.2 -2.9zM29.5 415.9l-.6 2.7 -3.3 1.3 1.5 -2.8zM36.8 416.4l-1 3.8 -2.1 .7 .4 -2.4zM32.7 411.6l2.6 -1.3 1.7 1.7 -1.3 1.1zM34.3 414.2l-3.1 2.3 -2.9 .5 1.9 -1.8zM37.4 413.7l1.3 2.4 -1.3 4.2 -.5 -4.3zM38 421.7l.5 3.6 -1.1 2.8 -.9 -2.5zM47.1 418l-1.4 1.2 -3.1 -.4 2.9 -1.9zM41.8 420.2l2.1 1.9 .8 3.9 -2.5 -2.1zM43.6 414.4l3.1 2 .2 1.9 -1.1 -.1zM47.5 410.9l2.5 .6 .6 1.5 -1.6 .2zM39.9 421.4l.4 3.6 -2 1.5 -.6 -2.1zM53 414.2l-.1 4 -1.8 2.6 -.7 -2.7zM52.1 420.4l-2.9 2.8 -2 -.7 1.8 -1.8zM57.2 414.7l2.5 .5 .6 2.4 -2.3 -1.2zM53.3 410.9l2.2 1.5 -.2 1.6 -1.2 -.1zM57.8 417.6l2.9 1.1 .6 2 -2 -.5zM57.8 410.2l2.2 .9 .6 3 -2.6 -1.8zM49.9 419.5l-1.1 2.9 -1.6 1 -.3 -1.5zM47.3 420.3l.2 3.1 -1.8 1.3 -.4 -2.6zM65.7 412.7l-1.3 2.1 -2 -.5 .2 -1.5zM55.5 414.9l4 2 1 2.7 -1.9 -.5zM64.9 419.2l-1.5 2 -3.9 0 3.7 -2.9zM58.1 408.8l1.2 1.8 -.1 4.4 -1.6 -4.1zM67.2 420l-3.2 2.2 -2 .2 1 -1.5zM62.1 415.4l1.9 -.3 3.1 1.9 -4.2 .1zM60.8 422.7l-1 2.2 -1.7 1.2 .8 -2.8zM60 412.4l1.9 1.9 1.8 3.6 -3.5 -2.9zM78.9 419.3l-1.9 1.9 -2.2 -.2 .9 -1.1zM76.4 413.1l1.5 .9 .8 2.1 -2 -1zM65.6 416.7l1.8 2 0 2 -1.3 -.9zM77.7 420.7l3.1 .7 2.5 3.2 -3.8 -.7zM71.6 414.5l2.2 1.7 .9 2.5 -2.2 -1.6zM78.8 424.2l-2 1.4 -4.3 -.4 3.7 -1.9zM78.1 416.2l1.4 -.3 1.8 2.3 -2.4 .2zM76.5 419.1l2.5 -.1 .8 1.6 -2.6 -.6zM86.2 410.5l-1.4 2.2 -3.9 0 3.6 -2.8zM88.9 414.4l1.2 1.7 -.1 3.5 -1.4 -3zM84.1 418.6l1.5 1.7 -.7 3 -1.3 -2.7zM81.3 409.4l-1.7 3.4 -3.2 1.4 2.1 -3.4zM77.8 412.5l2.3 -.8 1.6 2.3 -2.5 .3zM79.1 412.6l-2.7 1.2 -2.3 -.8 2.2 -1.3zM90.2 416.3l2.4 1.5 .8 2 -1.7 -.3zM91.7 413.5l2.1 .6 .8 1.9 -2 -.2zM95.8 418l3.1 1.1 1.3 2 -3 -.9zM100.1 417.7l-.9 2.1 -3.6 1.8 2.1 -3.3zM90.9 413l-3.5 1.2 -1.6 -.6 1.3 -1zM86.2 411.1l1.9 1.7 -.1 2.5 -1.9 -2.8zM93.1 415.5l2.1 1.2 2.2 2.7 -2.8 -1zM102 420.8l1.4 .8 1.6 2.5 -3.2 -1.5zM106.5 422.5l-1.3 3.3 -3.1 1.1 .9 -2.8zM104.2 418.3l2.4 .1 1.6 2.1 -3.4 -1.3zM107.3 415.9l-2.6 2 -3 -.8 1.6 -1.6zM101.5 412.5l-2.1 2.1 -3.6 -.7 3.5 -2.1zM98.8 411.7l-1.1 3 -1.8 1.5 .7 -2.9zM107.1 418.1l2 2.4 .3 3.8 -2.1 -3.6zM103.5 416.1l-2.6 1.9 -3.1 .6 1.9 -1.9zM116 410.3l3.9 1.1 1.2 2.4 -2.6 -.2zM110.7 411.7l-2.2 1.6 -4 .4 3.1 -2.4zM105.6 414l2.5 -1.3 1.3 .7 -1 .9zM114.3 422.8l2.9 1.2 .8 2.5 -2.9 -.7zM116.4 415l1.5 .9 1 2.8 -2.5 -1.7zM116.5 412.3l3.1 0 2.1 2.7 -3.7 -.9zM114.1 411.3l-1.8 2.3 -4.2 -.2 2.9 -2.2zM127 419.5l-.1 2 -1.9 1.4 -.4 -1.3zM129.2 415.7l-1.6 2.1 -3.5 .4 3.2 -2.4zM132.8 417.3l-2 .7 -2.9 -1 3.4 -1.3zM117.7 416.8l-.4 2.3 -2.6 1.4 1.3 -2.5zM125 413.2l-1.9 .8 -3.7 -.8 4.5 -1.2zM115.4 417.8l3.8 -.5 2.1 2.1 -2.1 .7zM127.1 423.6l2 -.2 2.1 3.2 -3.4 -1zM127.4 422.3l3 1.7 .5 1.9 -2.4 -.7zM130.6 418.5l2.9 1.6 .4 2.5 -1.8 -1zM135.5 412.1l4.6 1.2 1.8 1.6 -3 -.2zM130.8 420.2l-3.6 1.3 -2.7 -.9 2.6 -1zM128.2 410.5l2.1 2.2 -.1 2.8 -2.1 -2.4zM126.1 421.9l2 -1.2 4.2 1.4 -3.9 .8zM130.9 419.5l2.9 -1.1 3.2 1.5 -3.8 .7zM133.8 418.9l1.3 1.4 -1.1 2.8 -1.4 -2.3zM127.7 418.6l3.4 .8 1.3 2.1 -3.1 -.7zM138.3 412.9l.6 2.3 -1.8 1.7 -.5 -3.2zM143.9 413.2l2.2 -.1 2.1 2.1 -3.7 -.2zM146.1 417.6l.4 3.1 -1.2 1.5 -.9 -1.3zM139.6 421.7l2.4 .2 .6 3 -3.2 -2.2zM147.4 409.3l3.1 2.7 .7 2.4 -2.1 -1.5zM149.3 412.8l1.2 4.7 -1.3 2.2 -1.2 -1.7zM138.7 423.4l2.5 -.6 4 1.8 -3.7 .3zM152 409.9l3 3 .2 2.4 -1.4 -.8zM148.4 415.7l2.8 2.4 -.2 2.2 -2.1 -.9zM144.8 423.2l3.7 .2 1.1 2.3 -1.8 .4zM147.4 414.4l.5 2.2 -2 4.1 0 -4.5zM152.7 413.1l-.9 1.4 -3.3 .6 1.4 -2.5zM152.8 416.3l-1.7 1.2 -3.1 -.1 3.2 -1.6zM144.6 421.6l3.2 .1 2.5 2.4 -4 -.8zM163.4 413l-3.2 1.8 -2.5 -.2 1.3 -1.3zM164.1 420.4l3.3 -.8 2.4 1.7 -3.1 .7zM163 413l3.3 1.4 1.8 3 -2.6 -.9zM155.6 420.9l3.3 3.1 .2 2.7 -1.9 -1.7zM165.7 411.2l-1.3 1.7 -3.3 -.4 2.4 -2zM166.9 415.8l1.3 2.9 -2 3.7 -.5 -4.4zM163.8 416.4l2.3 -.7 1.5 1.2 -1.3 .5zM175.7 411.2l-.7 2.6 -1.9 1.2 .8 -2.7zM178.2 411.3l-2.6 1.8 -3.1 -.3 2.8 -1.5zM179.4 415.5l.9 1.7 -1.4 2 -.8 -1.5zM177.8 413.2l-2.3 1.4 -3.9 .5 2.4 -1.9zM180.7 418.4l-1.1 3.9 -2.3 1.6 .9 -2.9zM173.4 409.5l2.2 1.9 -.1 4.7 -2.6 -4.6zM173.7 418.9l-2.7 1.5 -1.9 -.9 1.7 -1.2zM34.7 432.8l-2.6 2.1 -4.1 -.4 2.6 -2.2zM32.6 426.2l.9 1.8 -1.7 3.6 -.8 -3.1zM26.6 431.7l3.2 3.6 -.2 2.6 -1.9 -1.6zM27.9 418.4l-.9 4.3 -2.2 .9 .4 -2.6zM37.8 428.9l2.5 -.8 1.3 1.3 -2 .8zM35.4 430.8l-1 2.3 -2.1 -.1 .8 -2.5zM34.1 427.8l-4.3 2.2 -2.2 -.2 2.2 -1.5zM37.4 426.8l1.2 2.4 -.7 4 -1.9 -4.1zM46.6 420.8l2.1 -.7 2.8 1.9 -2.9 .1zM34.2 427.7l2.8 2.2 1.1 3.5 -2.5 -2.6zM37.6 431.9l1.6 -.3 1.7 1.8 -1.9 0zM38.1 430.9l.8 2.5 -1 1.7 -1.2 -1.8zM50 418.8l.7 1.5 -1.2 3.7 -1.3 -4.4zM45.4 421.6l2.7 -.4 1.3 1.2 -2.2 .4zM49.2 429.4l.3 2.7 -1.9 2.9 0 -3.1zM54.8 431.3l.6 2 -1.5 2 -.2 -2.5zM62.3 433l-2.1 3.3 -2.4 .3 .4 -2.1zM59.6 418.6l.9 1.7 -.7 3.9 -1 -4.9zM49.4 434l-1.4 1.6 -3 -.1 1.5 -2.1zM56.5 431.9l1.9 1.4 -.3 1.7 -1.8 -.6zM47.2 430.7l2.1 2.4 -.3 3.2 -1.9 -1.5zM71.9 423.7l-2.4 3.3 -2.4 .6 .4 -1.6zM66.4 425.8l2.6 1.9 1.6 2.8 -3.4 -2.5zM62.5 430l3.1 1.3 .6 2.1 -1.8 .1zM57.5 432.5l2.4 -.6 2.3 1.6 -3 .9zM68.9 421.7l.1 3 -1.8 2.9 -.3 -3.4zM58.6 421.6l-1.5 1.2 -2.4 -.3 2 -1.3zM64.6 422.3l2.9 1.5 -.1 1.9 -1.5 .3zM75.6 430.6l2 2.1 -.3 1.6 -1.1 -.6zM77.8 424.4l2.7 1.5 1.7 3.1 -2.8 -1.5zM68.4 421.6l2.8 2.1 .1 2.4 -1.9 -1.2zM71 430l2.6 -1.4 1.5 1.5 -2.4 .9zM76.3 422.2l2.1 -.4 1.6 1.9 -1.3 1zM72.7 425.9l1.2 3.3 -.8 2.5 -1.2 -2zM70.4 431.8l1.8 .6 .2 2.8 -2 -2zM71 421.4l-3 1 -3.1 -1.1 3.7 -.9zM83.9 418.7l.4 3.9 -1.9 1.7 -.9 -2zM76.1 421.3l2.4 .5 2.3 2.1 -3 -.4zM74.5 429.7l2.6 1.3 2.8 3.1 -3.4 -1zM86.3 421l1.9 -.3 3.5 1.5 -4.3 .2zM80.6 422.5l.8 2.1 -1.5 1.8 -.3 -1.6zM81.2 419.8l-1.6 2.7 -3.9 1.6 1.9 -3.5zM82.7 425.6l-2.5 1.6 -1.6 -.9 .9 -1.3zM90.1 428.2l.7 2.2 -1.7 1.4 -.5 -1.2zM99.2 427.4l-1.8 .5 -3.4 -1 2.9 -.8zM85.9 420.3l1.5 1.1 -.4 2.9 -1.8 -1.9zM93.6 422.8l.2 2.3 -2.9 1.8 .3 -2.8zM95.4 424.3l-1.4 1.8 -2.9 -1 2 -1.3zM92.6 425.5l1 1.2 -.8 3.1 -1.7 -2.2zM98.6 419.7l-1 2.9 -3.4 2.2 1.8 -4.2zM105.5 422.8l.3 1.6 -1.4 3 -.3 -2.3zM96.5 420.2l1.6 1.7 -.1 3.3 -2.3 -3.2zM103.7 429.3l2.1 -.1 1.3 1.9 -2 .8zM110 428.7l-.3 3.9 -1.6 1.5 -.4 -2.2zM102.8 426.5l-2.1 2.5 -4.1 .6 2.3 -2.7zM102.8 426.5l2.3 1.7 .5 2.7 -1.6 -1.3zM95.6 430.7l1.7 -.4 2.4 1.5 -3.7 .3zM108.3 427.9l1.4 -.6 2.5 1 -3.1 .6zM119.3 430.1l.8 3.6 -1.2 2.2 -1.2 -1.1zM113.2 425.9l.9 2.8 -1.6 1.3 -1.3 -.8zM104.8 425.3l3.5 1.5 1.3 2.2 -1.5 -.3zM111.1 431.7l-1.8 1.4 -3.3 -1.3 3 -1.3zM117.9 429.2l3 2.2 .1 2.3 -2.2 -1.3zM117.3 424.2l2.2 -.7 2.6 1.8 -4 .7zM126.3 425l4.3 2.3 .9 2.4 -1.9 0zM118.8 422.8l3.6 .2 1.9 2.9 -3.8 -1zM131.5 427.8l-1.9 1 -2.9 -.6 3 -1.3zM123.4 425.7l-.6 1.5 -2.6 1.7 1.4 -2.7zM123.6 420.1l3.2 1.6 1.5 2.5 -2.9 -.9zM121.5 419.8l2.1 .6 3.2 2.7 -4.2 -1.3zM129 431.5l1.5 1.8 -.4 1.9 -1.3 -.2zM140.4 427.8l-1.3 1.7 -3.5 .2 2 -2.4zM135.3 430.2l1.1 2.6 -1.1 4.4 -1.3 -5.1zM131.4 429.2l-.5 2.5 -1.6 .6 .6 -2.2zM129.7 430.2l-.6 1.9 -2.5 1.6 .9 -2.1zM137 420.9l1.7 -.3 1.6 2.3 -2.5 -.9zM133.7 428.2l-3.8 1.9 -3 0 1.6 -1.5zM127.8 428.4l2.3 -.5 1.5 1.5 -2.6 .9zM140.4 432.1l.1 2.2 -3 1.5 .9 -2.9zM146 431.4l-1.1 2.7 -2.8 1.3 1.1 -3.1zM147.1 425.7l-1 2.2 -2.4 .6 .9 -1.6zM135 421.5l3.6 1.1 2.1 2.5 -3 -1zM141.3 421l3.2 -.5 2 1.5 -2.2 1.1zM140.3 422.7l3.3 -.8 3.3 1.6 -4.3 .2zM141.6 417.9l1 3.7 -1 3.2 -1.1 -4.1zM152.8 424.1l-.5 2.6 -3.8 2.6 2.3 -4.3zM156.3 425.1l3.1 1.3 2.6 2.7 -3.1 -1.3zM156 430.7l.4 3.4 -1.5 1 -.4 -2.2zM149.8 421.9l-.5 2.3 -3.7 2.9 1.1 -3.7zM154.2 425.7l-.2 1.6 -1.6 3.3 .1 -3.8zM159 424.6l2.2 1.3 .7 2.2 -1.6 -.3zM151.8 423.7l1.1 1.8 -.3 3.4 -1.5 -3.7zM169.8 430.8l-.7 3.8 -1.7 2 -.3 -2.5zM164.1 419.8l1.8 2.8 .2 3.3 -2.4 -2.7zM168.8 421.8l2 1.9 -.2 3 -2.2 -2.5zM166 421.8l1.4 2.4 -.1 2.2 -1.1 -.6zM166.3 422.2l.6 2.5 -2.9 2.2 .2 -2.9zM164.1 428.7l-2.5 1.7 -4.3 -.8 4.2 -1.6zM156 419.4l2.9 1.1 1.7 3.2 -3.8 -1.4zM180 421.7l1.5 4.5 -.4 2.3 -1.2 -2.1zM173.6 421.7l1.5 2.7 -.8 3.4 -.8 -4.5zM177.9 419.9l.9 1.8 -.7 2.9 -.9 -3.2zM177.4 426.7l2.4 .8 1 2.4 -2.8 -.4zM169.4 430.7l1.2 .9 -.3 3 -2 -1.3zM180.6 422.8l-2.9 1.6 -3.8 .2 2.8 -2.1zM176.1 427.4l.5 2.7 -2.3 1.2 .4 -2.9zM41.3 441.4l-2.9 1.6 -3.1 -.2 1.6 -1.2zM41.6 441.2l-2 .9 -2.5 -.7 2.6 -1.4zM33.3 439.7l2.2 3.7 -.9 2.9 -1.8 -3.3zM28.6 431.7l1.7 -.2 1.5 1.8 -1.6 0zM37.2 436.7l.1 2.3 -1.4 1.4 .1 -2.5zM25.3 433.4l4 1 .6 2.2 -2.1 -.1zM29.6 432l-2 2.2 -4.1 -.1 3.7 -1.8zM30.9 434.2l-.4 3.2 -2 1.3 -.2 -2.4zM47.7 431.2l.3 2.3 -2.6 2.2 1.1 -4.1zM44.8 438.1l2 1 1.1 3.3 -3 -2.6zM40.4 439.8l-.3 2.7 -3.2 2.4 1.1 -3.3zM44.6 439.7l-2.7 2.4 -3.3 .2 3 -2.7zM49 435.1l-2.7 2 -3.2 .3 2.9 -2.4zM42.6 434.1l2.3 1 .4 3.3 -2.6 -1.6zM44.2 441.3l-2.2 4.3 -2.4 .4 1.3 -3.1zM55.1 441.5l4.7 -.7 2.1 1.2 -2.8 1.2zM55.8 439.8l2.9 0 1.3 2.2 -2.3 0zM50.3 439.9l-2.2 3.2 -2.7 .4 2.1 -2.5zM54.3 440.5l-.9 .9 -2.6 .2 1.8 -1.7zM60.1 441.6l.9 2.1 -1.8 1.7 -.9 -1.7zM55.1 429.6l1.5 3.8 -1.5 2.9 -1 -2.7zM47.2 441.9l2 2 .6 1.9 -2 -1.1zM59.3 433l2.1 3 -.6 3.4 -1.6 -2.4zM68.2 437.5l-1.5 1 -2.5 -.7 2.1 -.8zM70.6 440.6l-2.3 1.8 -1.9 -1.3 1 -1.3zM60.9 431.9l-.3 4 -2.2 2.3 .4 -3.9zM65.2 439.6l3.1 -1.2 1.9 1.4 -1.3 1.4zM64 433.8l3.1 .7 2.6 3.1 -3.9 -1.8zM67.1 431.9l1.9 -.9 3 1.9 -4.1 .3zM79.8 429.3l-.1 2.2 -3.1 3.2 1.1 -4.5zM76.1 441.3l-.1 1.9 -1.7 2.8 .2 -3.2zM69.7 435.9l1.9 2.1 .4 3.4 -1.7 -2zM73.6 435.5l.3 3.2 -1.3 3.3 -.8 -3.6zM72.8 440.4l-2.1 3 -1.6 .2 .6 -1.7zM77.8 436.7l-.9 4 -2.3 1.4 .1 -2.2zM70.6 440.7l-2 2.2 -2.3 -.2 1.2 -2.4zM84.7 432.2l2.5 -.1 .4 2.1 -2.8 -.7zM83.1 435.9l2 3.9 -1.1 2.1 -1.4 -2.5zM86 438.6l-1 1.4 -2.6 -.3 1.7 -2zM91.5 434l-2.1 1.8 -2.3 .2 1.2 -1.6zM76.4 429.3l1.6 2.5 -1.2 3.5 -1.2 -4.5zM83 440l1.9 2.9 -.6 2.1 -1.2 -1.2zM83.3 439.5l.5 3.2 -1.3 2.4 -.5 -1.7zM89.7 443.2l4.4 .5 1.7 2.3 -2 .5zM99.9 437.4l-1.9 1.2 -1.8 -.6 .7 -.9zM101.3 430.8l-1.2 2.9 -2.6 .7 1.6 -2.8zM94.2 432.6l2.1 .9 .6 3.2 -2.9 -2.9zM91.3 430.2l2 .3 .5 2.8 -3 -2.3zM87.8 433.4l.9 3 -.9 3.6 -.9 -2.7zM93.5 439.2l2.3 -.3 2.8 2.8 -3.6 -.4zM99.2 436l-3.4 1.2 -2.2 -.6 1.9 -1.1zM106.7 440.6l2.3 -1.6 1.8 .8 -1.1 1zM107.4 435.2l-.4 2.7 -2.1 2.8 .3 -3.3zM102.9 438.3l-1.7 2 -1.8 .3 1.7 -2.2zM100 438.4l3.1 .5 1.8 2.5 -3.9 -1.4zM107.9 432.4l2.4 .5 2 1.8 -3.3 -.4zM109.3 437.1l-1.1 2.8 -2.8 2.1 .8 -3zM120.8 434.6l-.6 2 -3.3 2.9 2.4 -4.6zM107.7 431.3l2.6 .4 .5 2.4 -2.3 -1.1zM106.2 440.1l1.4 -.2 2.5 .9 -2.3 .7zM116.1 443.5l2.4 -.6 1.1 2.2 -1.7 .6zM115.7 429.6l-.3 2.2 -2.7 .1 1.4 -2.6zM114 431.6l-1 3.8 -2.3 1.6 -.1 -2.2zM110.6 430.1l.1 1.3 -1 2.7 -.6 -2zM115.6 435.6l2.6 2.2 .5 3 -2.2 -1.1zM125.3 437.3l2.6 2.9 .3 3.1 -2.1 -2.6zM129.6 442.5l-2.5 1.7 -2 -.8 1.9 -1.8zM129.7 441l0 1.4 -2.3 1.4 1.3 -3.3zM119.4 431.5l-1.1 3 -2.1 1.4 1.3 -2.9zM118 429.9l2.4 3.2 -.5 1.9 -1.5 -.8zM128 431.9l2 .3 .4 2.4 -2.4 -1.5zM135.4 440.3l.5 1.7 -1.8 1.7 -.6 -1.8zM136.4 431.8l1.6 -.3 2.2 2.2 -2.3 .1zM133 438.3l2.1 -.1 1.5 1.2 -2.2 .6zM130.6 430.4l3.8 .2 2.8 1.9 -3.1 -.5zM138.5 438.4l1.1 2.1 -1.9 2.8 -.5 -4zM138 430.2l2.2 1.9 0 2 -1.4 -1.1zM137 438.9l2.7 3.2 .1 2.8 -1.7 -1.5zM138.7 431.6l3.3 .2 1.1 2.1 -1.5 .4zM142.2 430.3l.3 3.2 -1.5 1.4 -.5 -1zM141 435.3l3.5 -.7 3 2.1 -3.3 .7zM145 440.1l3.3 1.9 1.5 2.5 -2.9 -1.6zM143.6 430.7l-1.9 1.8 -1.6 -.3 1.2 -1.9zM144.5 431.4l1.8 -1 1.8 1.8 -2.8 .8zM143.8 431.5l2.3 1.9 -.1 2.6 -2.3 -1.3zM156.2 441.8l2.7 1 1.3 2.5 -3.1 -2zM144.2 438.9l3 -.3 1.2 1.9 -1.4 .6zM156.6 432.1l3.5 2.3 .8 3 -2.3 -1zM157.2 431l3.3 -.8 2.7 1.9 -3.9 .4zM153.3 429.3l1.9 3.5 -.7 2.4 -1.5 -1.7zM147.7 430.6l3.6 -.8 1.7 1.7 -1.5 1.1zM156.6 435.5l-1.6 2.4 -1.7 0 .9 -1.6zM159.9 435.4l-2.7 1.3 -3.7 .4 2.9 -1.8zM162.7 430.9l-.6 2.5 -1.9 .4 .2 -2zM158.2 432.5l2.4 .5 2.8 3.9 -4.3 -1.8zM163.2 431.4l1.8 0 1.2 2.5 -3.3 -1.3zM168.4 433.6l-.8 3.9 -1.8 1.3 .4 -2.4zM159 436.2l2.2 0 1.9 1.9 -2.5 .5zM163.2 432.3l1.9 2.2 .3 2.6 -2.3 -2zM181.5 436.9l-.3 2.4 -3 3 1.7 -4.1zM174.9 434.3l-.1 1.7 -2.5 2.3 1 -3.7zM172.9 431l2.8 -.2 4 1.3 -4.3 .2zM182.4 440.5l-2.1 2.9 -2 .1 1.5 -2zM169.1 439.1l2.2 -.7 4.5 1.8 -4.8 .5zM178.8 437.5l.5 3.3 -1.6 2.6 -.6 -2.8zM167.8 432l2.1 2.2 0 3.1 -2.8 -2.8zM170.4 429.1l.5 2.3 -2.3 2.3 .3 -3zM26.8 450.2l2.7 1.1 .5 3 -2.2 -1.2zM33.2 448.4l1.8 .3 1.4 2.5 -3.1 -1.4zM28.3 440.9l2.4 .9 1.3 3.8 -2.9 -1.7zM25.3 449.2l1.5 -.2 3.2 1.7 -3.4 .3zM39.5 439.7l.3 1.7 -2.1 2.2 .7 -3.1zM36.1 441.6l2.3 .1 1.2 1.9 -3.1 -.2zM50.9 447.4l-3.5 1.5 -1.9 -.6 1 -.9zM47 442.7l1.3 -1.3 2.3 .9 -2.5 .7zM36.9 450.2l.5 1.7 -1 2 -1.1 -2.9zM43.3 438.9l-.3 2.8 -2.4 3.6 .3 -3.8zM40.7 450.1l2.8 1.9 .4 2 -1.9 -.9zM57.8 452l2.5 1.3 .3 1.6 -1.3 -.3zM58.3 452.3l-1.3 1.6 -3.1 .7 1.3 -1.9zM51.9 451.3l-2.1 1.6 -3.6 -.4 4.1 -1.6zM48.5 441.2l.8 3.2 -1.6 1.7 -1 -1.7zM56.7 452l3.4 -.3 2.6 2.2 -4.2 0zM54 448.8l2 -.5 4.5 1.3 -4.2 .8zM63.5 443.9l2.3 1.1 2.3 2.4 -4 -1.4zM69.5 448.8l-.5 3.3 -1.7 1 .4 -2.2zM54.7 441.5l1.9 -.8 2.2 1.4 -2.7 1.3zM59.3 452.5l3.5 -.3 1.6 1.9 -2.4 .3zM68.7 444.7l.8 1.7 -1.8 2.3 .8 -3.9zM64.6 451.6l2.6 .6 .4 3.3 -3.2 -2.5zM70.4 447.3l.6 2 -2.3 1.2 -.4 -1.9zM75.2 452l-.4 1.9 -3 1.4 1.4 -2.9zM70 439.6l-1.8 3.3 -2.8 2 1.8 -3.8zM71.4 440.9l.7 3 -1.2 1.2 -1.2 -1.6zM76.2 448.7l.5 3.4 -1.6 1.6 -.8 -2.2zM70.8 448.2l2.3 .3 .7 1.8 -1.2 .8zM71.1 447.3l1.3 1.4 1 3.1 -2.4 -2.4zM82.6 443.9l-1.3 3.6 -1.9 .9 .3 -2.1zM90.2 452.4l-.7 1.8 -3.1 1.1 1.2 -2.3zM91.9 442.3l-1.2 2.1 -2.9 1.1 2.4 -2.5zM90.5 444.6l.5 4.5 -.9 2.3 -.9 -2.1zM81.4 447.4l2.3 1.4 -.4 2 -1.6 0zM84.2 448.8l-2.1 1.8 -3.3 -1 3.9 -1.6zM81 443.7l3.2 3 .5 2.4 -2.8 -1.7zM96.6 451.5l-2.3 2.8 -2.2 -.2 .3 -1.4zM92.9 440.2l2.5 1.8 .9 3.9 -2.9 -2.3zM98 446.3l2.9 .7 1 1.4 -1.7 .3zM97.4 443.3l.1 2.8 -2 3.1 .6 -4.1zM97.5 446.5l3 .8 1.8 1.6 -2.2 0zM99.1 445.5l-1.7 2.1 -1.9 -.5 .4 -1.8zM99.9 446.8l-1.1 1.7 -2.5 -.1 1.8 -1.4zM96.6 445.6l1 2.3 -1 3 -1.3 -2.2zM100.7 442.1l3.5 .9 1.6 1.9 -2.2 -.4zM104.3 441.5l-1.1 2.6 -2.7 1.2 1.9 -2.5zM97.9 439.3l3.8 1.1 1.5 2.4 -2.3 -.5zM98.8 446.8l1.4 1.5 .3 1.8 -1 -.3zM102.6 444.4l-2.8 1.2 -2 -.8 2.7 -1.3zM106.2 444.7l-1.7 1.5 -2.8 -.8 2.7 -1.1zM122.9 453.6l-2.4 1.4 -3.7 -.3 3.1 -1.3zM114.4 443.6l.1 2.8 -1.4 2.4 -.7 -3.4zM120.5 444.8l-2.4 1 -2.4 -.6 1.5 -1.3zM120.2 440.4l-3.6 1.9 -2.2 -.4 2.1 -1.8zM108.5 447l.1 1.2 -1 2.4 -.6 -2.8zM106.7 452.1l3.3 -1.1 2.2 1.6 -1.6 1.1zM114.7 447l.3 2.8 -1.2 1.7 -.5 -1.7zM113 442.5l2.1 .7 1.3 2.8 -2.5 -1.7zM123.5 451.4l-.8 1.3 -2.7 1 1.1 -2.2zM124.8 446.7l.9 1.8 -.5 3.4 -1.3 -3.7zM125.3 440l1.6 2 -.7 1.9 -1.2 -1.1zM122.8 442.7l-2.3 1.6 -3.2 -.4 2.7 -1.4zM125.9 444.9l.8 1.8 -.6 3.9 -1.2 -4.7zM121 446.5l2.5 -.4 1.3 2.1 -3.2 0zM123.6 448l2.7 .6 .9 2.9 -2.5 -1.1zM129.3 449.5l1.4 1 .1 2.8 -2 -2.1zM136.8 450.5l2.2 -.8 2.6 2.4 -4.4 -.3zM142.9 450.2l-1.7 2.1 -4.2 .6 2.9 -2.2zM127.8 446.8l1.2 3 -1.8 3.3 -.9 -2.7zM131.2 446.7l2.8 3.2 .2 2.2 -1.7 -.5zM138.5 449.1l-1.3 1.7 -2.6 -.6 1.2 -1.7zM134.4 448l1.9 -.1 1.6 3 -3.9 -1.6zM143.5 442.8l2.9 -.4 1.6 1.3 -2.3 .2zM150.1 448.7l-2.8 2.2 -2.6 .2 1.2 -1.8zM142.6 450.3l1.1 2.7 -1.3 4.3 -.2 -5.2zM142.2 440.7l3.3 -.7 2.1 1.4 -2.9 .7zM135.3 450.2l3.2 1.3 1.2 1.5 -1.2 .3zM146.5 447.7l.8 4.1 -.9 2.2 -.8 -3.2zM145.7 440.7l-.4 2.6 -2.3 1.6 .1 -2.4zM147.5 442.6l2.8 2.8 -.3 2.3 -2.3 -1.7zM148.5 452.1l.4 2.6 -1 1.9 -1 -2.3zM152.9 443.3l1.2 1.2 -1 2.5 -1.3 -1.9zM148.2 445.3l-.2 2.1 -1.9 3.6 0 -3.7zM149.5 440.1l2.6 1.6 1.1 2.9 -2.5 -.9zM155.8 446.7l-1.8 2.5 -3.3 1.6 2.9 -3.4zM157.4 444l-.1 3.1 -2.5 1.5 .3 -2.5zM153.2 444.3l-1.2 2 -2.9 -.2 1.6 -1.5zM167.3 451.9l-2.9 1.6 -2.2 -.8 2.2 -1.3zM158 452.5l1.7 -.6 2.9 1.9 -4 .5zM158.1 451.2l2.1 .6 .7 1.9 -1.1 -.2zM155.9 452.2l4.4 -.9 1.9 1.3 -1.1 .9zM161.6 448.1l1.5 .6 1.4 2.6 -2.2 -.9zM160.6 440.7l-.6 1.9 -3.2 .1 3 -2.7zM166.5 445.1l1.4 .6 .5 2.8 -2.6 -1.4zM178.4 439.7l1.7 3.9 -.3 2.7 -1.3 -2.8zM168 440.4l1.8 1.8 .6 2.7 -2.2 -2.6zM176.2 450.5l2.3 3.7 .3 2.8 -2 -2.6zM181 444l-.7 3.2 -2.9 2.8 .9 -4.6zM173.4 445.8l-2.1 2.2 -2 .4 .8 -1.5zM172.2 442.6l1.8 2.4 -.2 2 -1.4 -1.6zM178 452.5l2.9 -.2 1.7 1.6 -2.9 .3zM35.4 458.6l2.1 -.1 .7 2.7 -2.5 -.6zM29.9 460.4l.5 1.9 -2.5 1 .2 -2.1zM34.8 461.9l2.6 -.5 4.3 1.7 -5.4 -.3zM31.2 451.2l-.9 2.5 -2.5 .7 .5 -1.9zM38.3 457.9l-1.3 3.5 -1.6 1 .4 -2.2zM39 457.8l-2.5 .8 -3.2 -.9 3.2 -1.3zM42.1 457.4l3.8 1.2 .5 1.8 -2.1 -.5zM42.9 459.9l-1.8 2.5 -2.2 .1 .3 -1.6zM48.3 463.5l-4.3 2.2 -2.2 -.5 2.4 -1.8zM37.7 453.3l1.5 2.7 -.8 3 -1.2 -2.8zM35.3 450.7l1.5 1 .4 3.6 -2.2 -2.1zM45.6 456.7l1.6 2.5 0 2.6 -1.3 -1.4zM53.9 452l2.1 2 -.2 4.2 -2.3 -3.3zM57.9 450.3l.7 1.9 -1 4.1 -.9 -4zM55.1 450.9l.1 1.7 -1.8 2 -.2 -3.1zM55.4 462.4l2.2 -.3 1.3 1.8 -2.5 -.3zM50.7 457.8l2.1 1.8 1 3.1 -2.8 -1.9zM58 448.4l2.1 1.4 1.3 3 -3.2 -2.5zM53.5 455.8l3.7 -.4 1.9 1.4 -2.2 .7zM56.9 461.2l2.9 1.8 .7 2.6 -2.7 -.8zM71.2 459l0 2.3 -3 2.2 1.3 -3.2zM63 452.1l-2.5 2.6 -3 .5 1.5 -1.8zM65.4 459.6l-2.3 1.4 -2.7 -1 2.9 -1.7zM63.2 452.8l-1.1 2.2 -3.7 2.8 2.1 -3.5zM77.2 457.8l.1 2 -2 1.5 .4 -2.7zM78.9 452l-.4 3.1 -2.3 1.8 -.4 -2.1zM72.5 451.6l2 3 -.6 2.9 -1.4 -1.7zM69.9 452.4l.3 3.3 -1.9 2.3 -.8 -3zM79.2 448.8l1.2 1.5 .1 3.6 -2.1 -3.8zM80.2 454.7l-.8 2.4 -2.1 -.2 .9 -2.3zM68.2 457.3l2.5 -.3 2.7 3.3 -4.6 -1.4zM87.9 453.8l.1 4 -2.3 1.7 -.2 -2.7zM90 448.5l1.2 2.3 -1.2 3.1 -.9 -2.6zM78.4 460.8l2.1 2 -.4 2.4 -1.9 -1.5zM89 454.1l-1.5 3.2 -1.9 .8 .4 -1.8zM78 455l2.6 2.5 -.4 2.8 -2.1 -2.1zM81.9 452.1l-.3 3.4 -2 3.1 .5 -4.2zM81.6 460.4l2.6 1.8 1.9 2.9 -3.5 -2.3zM86.1 456.7l-4.5 1.9 -2.3 -.8 2.3 -1.4zM91.9 452.6l1.5 2.8 -1 1.9 -1.3 -1.2zM94.2 463.1l2.4 -.8 1.4 1.1 -2 1.2zM86.6 454.5l1.7 -.8 2.1 1.6 -3 .4zM90.2 453.2l-1.4 2.6 -1.9 0 -.4 -1.2zM86.5 450.9l1.8 -1 2.7 1.8 -3.8 0zM95.8 455.5l2.9 1.3 1.3 2.7 -2.5 -1.3zM89.7 463.6l3.6 -.8 2 1.7 -2.3 .9zM102.5 456.9l-1.2 1 -3 .5 2 -1.8zM105.4 453.5l1.7 .5 3.4 2.3 -3.8 -.8zM113.3 454.2l-2.8 .4 -3.6 -1 3 -1zM98.3 454l4.1 .1 1.5 1.8 -2.4 .7zM108.3 452.3l-.8 2.4 -2.8 -.1 1.9 -2.6zM98.2 458l2.2 1.4 0 4.1 -1.9 -2.6zM104.4 462.6l2.9 -1 1.5 1.4 -1.7 .8zM110.6 449.4l-1.8 2.4 -2.9 .3 1.7 -2.2zM114.7 452.6l-.2 4.4 -1.9 2.1 .5 -3.6zM106.9 451.2l1.5 2.1 -1.3 4.5 -1.3 -3.5zM112 462.8l-1.8 .8 -4.8 .4 4 -2.2zM111.1 449.7l-1.6 2.3 -3.4 .8 2.1 -2zM113.3 451.8l1.7 1.1 1.9 3.5 -2.9 -1.7zM110.7 448.3l-1 2.5 -4 2.3 2.4 -3.5zM116.6 454.4l2 -.8 3.7 1 -3.7 1.1zM120.7 449.6l2 2.5 -.5 2.3 -2 -1.1zM114.7 450l2.5 .1 1.3 1.4 -2.3 .3zM123.1 457.9l1.3 -1.8 2.2 1.4 -3.3 1.2zM122.8 451.4l.5 2 -1.8 2 -.6 -3zM124.4 461.8l2.4 -.5 1.4 1.7 -1.6 .5zM123.5 449.8l1.5 3.3 -.8 2.6 -1.2 -3zM118.6 461.5l.5 2.7 -1.7 .9 -.6 -2.5zM119.3 457.4l1.8 .8 .4 2.5 -2 -1.7zM136.4 450.6l1.4 -.6 2.9 1.4 -2.2 .6zM131.2 459.8l2.6 2.1 .5 2.4 -1.7 -1.1zM137.3 462.2l-1.2 2 -2.9 -.5 2.6 -2zM133.5 453.6l2 .3 3.4 2.5 -5 -1.1zM137.5 457.1l-2.2 1.2 -4.1 -1 3.3 -1.3zM130.3 462.6l2.1 -1.8 2.8 1.3 -2.3 1.4zM135.5 451.5l1.9 2 -.2 2.8 -1.8 -2.8zM146.4 452.9l-.6 2.5 -2 .5 .1 -1.4zM143.3 457.8l-3.4 1.3 -3.2 -1 3.3 -1.3zM146.6 460.9l1.1 1 .2 2.5 -1.5 -1.4zM134.7 454.8l3.9 1.1 1.6 2.5 -3.8 -1.2zM140.3 451.5l3.7 .3 1.6 1.7 -2.1 .6zM147.1 451.9l-.1 2.6 -1.1 1 -.4 -1.7zM138.5 450.5l-.1 2.7 -2.1 2.2 .6 -3.5zM145.6 449.8l1.8 1.4 .9 2.5 -2.4 -2zM146.1 457.7l2.6 -1 4 1.5 -4.7 .3zM149.2 450.4l2.8 3.8 .2 2.3 -1.8 -1.5zM147.1 460.8l.6 2.5 -.5 2.9 -1.3 -3.6zM150.6 459.4l.4 3.7 -2 2.9 -.5 -3.3zM150.8 457.3l.7 3.1 -.9 2.4 -.9 -2.3zM168.3 458.7l-1 2.2 -2 0 1.3 -1.9zM164.6 451.4l2.5 .3 .9 3.5 -2.5 -1.4zM157.2 458.5l2.1 1.8 1.5 3.4 -3.5 -3.2zM162.9 458.7l-2.7 2 -2.3 .2 2.3 -2zM169.2 457.9l-1.5 3.8 -3.1 1.4 1.3 -2.9zM158.7 455.6l2.1 1.5 -.1 3.2 -2.2 -2.3zM170.6 459.6l-1.2 2.2 -2.8 1 1.7 -3.2zM179.7 456.2l-.1 2.6 -1.7 3.1 .4 -4.1zM171.8 456.9l2.7 .8 2.9 2.2 -4.5 -1.3zM177.9 461.2l-.2 2.8 -4.1 2.1 2.4 -3.9zM164.7 449.4l3.6 .5 2.7 2.4 -2.7 -.3zM165.5 452.2l4.8 1 1.5 2 -2.3 .3zM36.3 463.6l2.6 -.2 1 1.7 -1.9 .9zM29.7 466.4l3.4 .9 .4 1.9 -2.3 -.5zM30.6 462.6l-.3 2 -2.6 0 .5 -2zM31.5 464.9l0 1.6 -2.1 2.3 .8 -3.4zM36.8 461.3l1.9 3.2 -.9 3.4 -1.8 -3.1zM43.9 461.9l.6 3 -2.1 2.2 -.3 -2.8zM44.4 471.8l-1.6 2.1 -3.3 .3 3.1 -2.7zM50 471.3l-3.5 2.4 -3.2 -1.1 3 -1.7zM48.1 467.4l-1.1 1.3 -3.2 .9 1.8 -1.9zM34.8 470.3l3.5 1 2.2 2.3 -3 -.3zM50.5 465.7l-1.4 1.7 -2.9 .2 3 -2.3zM48.7 457.4l1.5 2.1 -.2 3.7 -1.6 -3.7zM53.7 460.5l-.3 2 -2.4 .3 .8 -1.6zM59.2 460.6l-1.8 1.6 -3.4 -.7 3.5 -1.9zM45 462.3l2.2 -.7 2.5 1.3 -3.3 .9zM57.8 469.8l1.3 3.4 -1.6 2.3 -1 -2.1zM59.6 461.9l-3.1 1.9 -3.6 .1 2.9 -2.3zM68.4 461.8l2.1 3.4 -.5 2.5 -1.4 -1.8zM67.5 460.7l-2 4.2 -2.8 .8 .3 -1.9zM60.5 467.9l-.7 1.3 -3 1.1 1.4 -2.1zM59.8 462.4l2.5 1.1 .5 2.3 -1.8 .1zM59.9 464.1l-3 .6 -1.7 -1.6 1.2 -1.2zM59.7 459.5l2.3 2.4 1.4 3.2 -2.8 -2.1zM63.1 471.2l3.4 .1 2.4 3 -3.7 -.8zM65.9 469.4l1.1 1.5 .3 3 -1.9 -2.2zM77.4 465l1.6 1.9 -1.4 2 -1.1 -1.2zM65.2 463.7l2.5 .6 2 2.8 -3.7 -2.2zM67.2 465.7l2 .6 2 3.5 -3.7 -1.7zM73 463.9l-1.4 1.9 -1.8 .1 .9 -1.9zM82.5 470.8l-2.1 4.1 -2.3 1 .8 -3.2zM71.6 459.5l-.8 2.8 -3.2 2.3 1.8 -3.5zM74.8 461.3l2.1 -.9 1.5 1.7 -2.1 1zM77.4 462.2l2.4 3.5 -.2 2.6 -1.6 -.6zM88.2 461.5l1.2 2.5 -1.2 1.3 -.9 -1.6zM76.6 466.6l.7 2.4 -1.9 3.1 -.1 -2.8zM89.8 467.3l-3.4 1.5 -2.7 -.6 2 -1.4zM86.3 470l1.5 1.7 -1 3.3 -1 -2.5zM87.1 463l.1 3.1 -1.3 2 -.8 -2.8zM93.2 465.4l-3.1 2.5 -2.8 .1 2.2 -2.6zM84.3 466l3.3 .8 2.5 2.8 -4.4 -1.8zM88.2 464l2.1 1.8 -.4 2.2 -1.9 -.9zM92.5 466l2.6 -.6 3.3 2.6 -3.4 -.2zM93.1 470.6l3.9 -1.1 2.4 1.4 -3.5 .7zM91.6 464.6l0 2.8 -1.5 1.4 -.2 -2.1zM88.7 469.7l1.6 1.7 -1.4 2.1 -.9 -2zM103.6 468l.9 3 -.9 3.8 -1.2 -3.1zM102 472.4l-3.3 1.8 -2.3 -.7 3.2 -1.2zM112.2 465.8l-2 2.4 -2.7 .8 1.8 -2.9zM97.5 466.2l2.2 .3 1.3 1.8 -1.5 .1zM102.6 464.2l2.4 -.8 1.1 1.8 -1.8 .4zM104.7 460.9l-2 1.6 -3.2 .7 2.7 -2.3zM102.9 462.2l-2.4 2.4 -1.8 -.6 1.6 -1.5zM110.1 469.3l-1.4 2.1 -2 -.6 .7 -1.3zM121.2 463l-2.4 2.3 -2.5 .1 1.2 -1.3zM110.3 467.9l3.3 -.2 2.7 1.4 -2.2 .4zM106.5 457.3l2.5 3 0 3.1 -2.1 -3.5zM112.4 462.7l2 -1 4.4 1.1 -5.2 .8zM109.4 465.4l-.3 1.7 -2.9 1 1.3 -3zM117.4 468l-1 1.9 -4.4 .9 2.6 -2.8zM108.9 470.4l2.8 -.4 1.1 1.9 -2.9 .1zM120.7 464.7l.5 2.8 -1.2 2.9 -.3 -3.6zM124.6 470.6l-1.2 3.2 -3 2.1 1.7 -3.2zM118.1 466.2l-.4 2.5 -1.9 1 .7 -2.3zM128.2 465.6l-1.8 1.7 -3.5 .7 2.9 -2.4zM119 460.9l2.3 .4 2.1 2.1 -2.2 -.1zM123.8 473.3l-3.4 2 -3.4 -.6 2.2 -2zM128.4 470.2l1.5 .6 .9 2.7 -3.3 -1.8zM126.5 459.5l3 3.4 -.1 2.7 -1.9 -1.3zM136.7 464.5l1.9 3.9 -.9 2.7 -1.3 -3.7zM130.7 466.7l-2.4 1.2 -2 -1.2 .9 -1.5zM126.2 466.2l3.4 -.1 1.7 1.8 -1.6 .5zM126.9 459l.6 2.4 -1.4 2.2 -1.2 -1.3zM133.9 459.3l-.6 3.4 -2.7 1.4 .2 -2.5zM140.3 461.6l-2.4 2.2 -2.9 .1 3.1 -2zM129.9 460.5l1.2 2.6 -1.1 2.8 -1.3 -1.9zM148.7 470.9l2.1 1.3 1.5 3.1 -2.6 -1.3zM147.4 470.2l1.5 1.5 .8 4.2 -2.9 -3.6zM152.1 468l-1 1.3 -3 -.3 1.5 -2zM149.9 466l0 2.3 -1.2 4.2 -.5 -3.6zM140.7 470.3l2.3 -.4 1.8 2.2 -2.7 -.4zM142.1 466l2.2 -.2 1.6 1.9 -2.2 .6zM147.5 460.4l-2.6 1.7 -2 -.4 .7 -1zM158.6 467.7l-2.7 1.5 -2.9 -.7 1.9 -.9zM153.9 466.6l-1.1 3.1 -2.9 1.4 2 -3.4zM155.5 472.5l3.4 .7 2 1.4 -2 .2zM152.9 460.2l-2.7 1.7 -3.6 -.3 2.8 -2.3zM159.8 465.5l-1.5 2.1 -2.4 .3 1.8 -1.7zM160.6 466.2l-.7 3.1 -3 2 .7 -2.8zM167.6 466.8l1.7 1 .2 2.3 -2.7 -1.7zM171.2 468.4l-4 .9 -1.9 -.9 1.7 -.8zM158.3 468.5l.4 3.7 -1.7 2.2 -.6 -2.6zM161.2 465.9l3.2 -1.2 3.8 1.8 -4.1 .4zM170 460.7l-1.6 2.2 -3.1 1.2 2.1 -3.3zM165.8 462.9l.4 3.8 -1.7 2.3 -.3 -3.1zM176.2 461.4l-.7 2.8 -1.5 1.1 -.2 -1.2zM174.2 459.1l2.2 3 .2 2.2 -1.8 -1.5zM176.2 468.3l.3 3.9 -1.6 2.2 -.9 -2.3zM172.8 468.3l2.4 .5 2.3 2.7 -3.6 -1.4zM174.3 467.7l2.1 .2 3 2.4 -3.9 -.9zM182 465.3l-2.7 1.6 -2.7 -.8 1.9 -1.7zM36.8 478l2.6 -.7 3.7 2.5 -3.8 -.2zM40.4 474.9l.9 3.3 -1.8 2.7 -.9 -2.5zM39.6 476.6l-2 2.1 -4.4 .6 4.4 -2.4zM39 468.2l-1.4 3.2 -2.7 1.7 1.5 -3zM35.1 474.8l-1 2.3 -3.1 1.6 1.7 -2.4zM33.2 467.5l2.3 3.9 -.5 2.4 -1.8 -.6zM41.9 473.8l-.5 2 -2.4 .4 1.5 -2.2zM49.6 475.5l-1.9 1.4 -1.7 -.5 1.6 -1.8zM48.1 471.1l2.3 -.3 1.9 1.9 -2.7 -.3zM43.7 477.3l-1.7 .4 -1.9 -.5 1 -1zM36.8 476.2l3.3 -1 2.1 .9 -3.1 .6zM45.4 479.4l-1.2 1.2 -3.4 -.1 1.9 -1.7zM50.2 479.9l-2.3 1.6 -1.8 -.7 1.6 -1.3zM50.6 472.3l.1 4.5 -1.2 2.3 -.4 -2.3zM46.8 475.7l1.6 -.9 2.4 1.5 -2.1 .7zM55.3 470.9l2.2 2.6 -.2 2.5 -2 -.9zM48.5 472l2.5 2.1 .3 2.3 -1.9 -1.5zM65.7 471.6l.7 3.1 -1.7 2.4 -.8 -2.4zM63.1 479.6l1.1 2.6 -.9 4.4 -1.9 -4.1zM68.1 469.2l1.7 1.5 1.3 3.9 -3 -2.5zM59.9 483.2l3.2 -.8 2.4 1.4 -2.1 .7zM60.6 480.9l1.6 -.3 1.8 2.2 -2.4 -.1zM59.5 480.2l-2.4 2 -2.1 -.4 1.6 -2zM63.2 479.6l2.2 .2 2.8 3.1 -4.5 -1.9zM79.1 478.5l1.5 3.8 -.3 2.8 -1.4 -2.4zM71.6 478.3l2.9 -1.3 2.7 1.5 -2.2 1zM77.3 479.1l-.4 2.2 -2.3 1.1 0 -2.2zM79 467.2l-.5 3.3 -1.7 2.5 .4 -3.7zM66.8 475.3l2.3 -.5 3.2 1.8 -4.5 .1zM71.3 473.5l.6 2.1 -1.5 1.8 -.5 -3.2zM68.1 480.1l1.2 2.3 -1.8 2.1 -.9 -2.3zM83.6 480.6l1.4 3.2 -1.4 2.6 -1.2 -2.2zM80.4 472l.5 2.4 -1.5 3 -.7 -3.4zM81.3 473l1.7 3.5 -.1 2.1 -1.4 -1.6zM74.7 480.3l3.8 2.4 .1 2.2 -2.4 -1zM91.6 480.2l-1.9 4.4 -2.2 1.1 -.2 -1.8zM77.3 472.8l3 -1.4 1.2 1.5 -2 1zM84.5 481.3l2.3 1 .5 3.3 -2.3 -1.4zM91.7 474.4l3 1.2 .5 1.9 -1.9 0zM89 470.5l-.3 2.3 -2.9 .3 .7 -2zM91.4 473.3l-.2 3.1 -1.7 2.6 .4 -3.7zM101.2 471.1l-1.4 2.8 -2.4 -.1 .9 -1.8zM94.9 468.7l.1 2.7 -1.9 2.9 0 -2.6zM88.4 473.6l.2 3.5 -1.6 1.6 -.5 -1.8zM84.5 482.2l3.7 .7 1 2 -1.8 .4zM92.8 478.5l-.3 2.9 -2 1.5 .8 -3.3zM105.1 481.3l-1.8 2.9 -2 -.1 -.3 -1.5zM104.2 477.5l.6 4.1 -1.6 1.5 -.9 -2.1zM100.2 477.5l.2 3.4 -1 1.5 -.4 -2.6zM105.5 472.4l2.2 -.3 3.4 2.3 -4.4 .3zM102 480.9l-1.7 1.9 -3 .5 2.4 -2.9zM102.4 471.7l-.4 4.3 -1.6 2.2 -.7 -1.9zM105.4 481.5l.7 2.6 -1.3 1.2 -1.2 -.9zM105 472.9l3.3 .5 1.6 2 -2.3 -.5zM114 472.6l2.3 1.2 -.3 1.9 -1.8 0zM117 470.2l3.8 2.4 1.2 2.1 -2.9 -1.3zM105.7 469.2l3.9 1.7 .8 2.2 -1.8 .4zM111.2 469.3l.3 3.3 -1.6 1.5 -1 -2.4zM109.4 468l-1.9 3.9 -1.8 .9 1.2 -2.9zM110.7 468.7l2.4 2.3 -.2 1.7 -2 -1.6zM126.5 476.1l.3 1.7 -2.2 1.8 -.7 -2zM117.4 478.7l3.4 -.7 2.2 1.3 -2.2 1.2zM124.1 476.8l-2.4 2.3 -2.2 -.3 .2 -1.6zM123.3 469.8l3.8 2.9 .3 2.5 -1.5 -.4zM121 471.9l4.6 -.9 2.4 1.2 -1.9 .8zM132.4 473.8l-2.5 3.7 -2.6 .9 1.4 -2zM118.8 471.6l4.1 -1 1.7 1.3 -3 .7zM142.8 475.6l-1.6 2 -3.9 1.5 3.8 -3.4zM130.8 481.3l2.8 -.1 2.2 1.7 -2.5 .6zM133.1 480.2l3.8 .6 1.5 1.4 -2.1 0zM134 473.4l2 -.8 1.8 1.5 -1.9 .5zM127.2 477.2l3.9 .4 1.9 2.3 -3.6 -.5zM131.8 478.3l.8 3.2 -.8 3.6 -1 -2.6zM132 469.2l.3 2.4 -2 1.4 -.3 -2.9zM145.7 469.4l1.1 2.1 -.8 1.7 -1.3 -2.1zM139.8 477.9l-3.8 1.1 -1.6 -.6 1.1 -1.1zM136.5 482.2l2.8 -.8 1 1.8 -1.6 .8zM146 467.8l2.3 3.5 -.6 2.7 -2.1 -2.3zM149.9 473.7l-1.4 2.4 -3.4 1.8 2.3 -3.3zM144.5 473.8l3.9 -.7 2.4 1.6 -2 .9zM139 477.5l2.5 1.6 .5 4.6 -3.1 -3.6zM152.1 480.8l1.9 .2 1.6 3.3 -2.5 -1.4zM149 471.5l3.3 -.6 1.6 1.4 -2.4 .8zM151.6 481.5l2 1.2 .7 2.3 -1.4 -.1zM153.1 474.9l1.9 .5 1 2.1 -2.1 -.9zM156.4 478.5l3.4 -1.1 3 1.5 -3.8 .7zM154.9 478.1l1.6 2.1 .2 2.8 -2.2 -2.1zM161.4 469.7l-.9 2 -3 2 1.8 -3.5zM163 481.7l-2.3 1.8 -2.8 -.3 2.8 -2zM159.4 475.1l-.3 3.8 -1.8 2.5 -.5 -2.5zM167 471.6l3.1 .1 .6 1.8 -1.8 .2zM169.7 468.7l-1.1 1.8 -3.7 1.1 2.4 -3.1zM161.9 474.6l4.4 -1.2 1.8 1.5 -1.8 .9zM169.9 471.9l-.7 3.8 -2.1 1 .5 -2.9zM173.1 471.5l2 .2 .7 2.3 -2.6 -1.8zM178.7 476.5l.8 2 -2 3.8 -.2 -3.7zM172.7 475.6l2.6 -1.1 2 1.6 -1.7 1.1zM168.9 481.9l2.7 -.8 1.7 2.1 -3.5 -.3zM177.8 472.5l0 2.2 -2.6 .7 .9 -2.9zM35.3 492.3l-.9 1.7 -2.7 -.9 2.4 -1.5zM31.8 476.7l1.3 2.1 -.6 4.6 -1.3 -4.2zM36.9 480.8l1.9 2 .8 3.4 -2.2 -2.4zM36.5 489.9l1.2 2.6 -1 2.1 -.8 -1.6zM31 477.8l2.1 2 -.4 2.6 -1.8 -2.2zM26.5 484.3l2 .6 .6 1.8 -1.9 -.8zM31.7 483.4l2.4 2.2 -.2 2.1 -1.9 -1zM41 482.3l3.9 0 1.2 2.3 -1.6 .5zM48.5 490.2l1.5 3 -1.4 2 -1.1 -3.2zM41.2 487.5l-1.3 1.7 -2.9 1 1.2 -2.3zM41.6 481.2l-2.8 1.8 -1.7 -1.5 1.5 -1.2zM41.3 491.5l2.7 1.9 .9 2 -2 -.7zM47.6 489.9l.8 2.9 -1.1 1.9 -1.4 -1.9zM42.8 485l-2.7 1.8 -2.8 -.1 2.4 -1.7zM58.7 481.1l1.8 2.3 -.2 2 -1.8 -1zM61.9 487.3l-1.9 1.9 -4.2 .6 4.2 -2.6zM46.5 486.5l1.8 1.7 1.4 3.3 -3.2 -3.1zM51.3 484.8l1.6 1.2 0 3.4 -2.1 -1.8zM56.1 490.2l2.2 .4 1.5 2.5 -2.4 -.8zM57 482.1l-.4 4.2 -2.2 2.2 -.1 -2.9zM47.1 481.3l3.1 .8 1.6 2.6 -2.7 -.9zM66.5 480.5l.9 2.8 -1.9 2.4 -.8 -2.5zM54.4 482l2.6 -1 2.7 2.6 -3 .2zM65.7 479.7l1.4 4.1 -1.2 2.9 -.8 -3.2zM65.5 488.5l2.7 -1.2 1.2 1.8 -2.5 .7zM64.3 482.1l2.7 1.6 .2 1.7 -1.3 -.3zM72.1 480.7l-1.2 1.9 -2.4 .6 .9 -2zM62.4 484.2l1.5 -.1 2.3 2.5 -3.6 -.4zM68 480.2l-.3 2.7 -2.2 1.3 0 -2.7zM71.3 489.7l1.1 3.8 -.9 2.5 -1 -2.6zM82.4 487.2l-1.6 2 -2.6 1.1 1.3 -2.3zM72.1 487.7l-1.2 2.3 -1.7 -.3 1.3 -2.3zM78.9 481.9l1.8 1.7 0 3.5 -2.7 -2.8zM72.7 485.2l-1 2.3 -2.7 .1 2 -2.4zM71 487.7l3 1.7 1.4 3.1 -3.7 -1.9zM78.5 489.3l-1.4 1.5 -3.4 -.5 2.8 -1.3zM77.9 486.5l3.4 .6 .9 1.8 -2.1 .1zM84.9 479.7l-1.4 2.2 -2.9 .4 .7 -2zM86.7 485.8l2.1 -.4 1.6 2.4 -2.8 .1zM85.2 484.4l-2.3 1.7 -3.8 -.2 4 -2.4zM78.1 483.6l1 3.9 -.6 1.7 -.9 -2.2zM83.6 477.7l2.3 2.3 .3 3.4 -2.5 -3.1zM81.5 481l-1.1 1.1 -2.4 -.4 2 -1.4zM93.6 489.1l1.8 0 2.6 2 -3.6 -.7zM90.5 488.5l.2 1.3 -1 2.2 -.4 -3.2zM84 492.1l4.4 .1 2 1.9 -3.9 0zM99.1 490.2l-3.3 2.1 -1.9 -1 .8 -1.4zM86.3 489.4l3.6 -.7 1.8 1.8 -1.8 .7zM91.1 490.1l2.4 .8 2.5 3.1 -4 -1.4zM97.3 486.4l2.2 -.8 2.8 1.6 -3.7 .1zM105.2 481.1l-1.2 1.1 -2.9 -.7 3.7 -1.4zM103.2 490.3l-1.8 1.3 -2.4 -1 2.5 -1.3zM108.1 485.9l2.5 -.3 1.9 1.4 -1.9 .5zM104.8 478.1l-.5 2.2 -3.3 2.6 1.6 -4.1zM98.8 487.5l.1 1.8 -2.5 2.3 .5 -4zM106.8 490.2l-1.2 1.5 -2.6 -.4 2.6 -1.5zM109.3 486.7l-2 1 -1.7 -1.1 1.4 -1.4zM110.7 481.8l-1.9 1.8 -2.2 -.3 1.3 -1.4zM115 481.6l1.8 1.3 .4 3.9 -2.2 -2.8zM118.1 486.9l3.7 1.2 .9 1.9 -2.5 -.3zM107.3 489.7l3.1 .6 .6 2.4 -2.7 -.6zM114.8 486.4l1.2 2.2 -.2 4 -1.7 -4zM109.7 477.9l1.8 2.3 -.2 3.8 -1.8 -3.9zM118.4 482.3l-1.3 3 -2.1 .2 .4 -2.4zM115.6 484.5l1.9 -.5 1.1 2.4 -1.7 -.2zM121.7 488.4l.2 3.6 -1.7 2.3 -.1 -3.5zM128.5 481.7l2 .2 1.2 1.6 -1.5 .4zM121.4 483l1.9 1.2 .1 2.7 -2.3 -1.2zM123.7 486.7l.5 3 -1.6 2 -.1 -2.3zM120.7 488l2.6 2.4 .9 2.7 -1.9 -1.1zM116.3 485.2l3.9 -.6 2.9 1.8 -4.2 .8zM124.6 480.8l-.1 3.8 -1.8 1 -.9 -1.3zM132.2 481.8l-2.8 2.1 -2.1 -.6 2.2 -1.9zM140.6 482.6l.3 2.7 -1.7 .7 -.7 -1.3zM134.4 484.7l3.5 -.6 1.8 1.1 -2.8 .8zM134.1 488.6l2.5 .7 1.8 3.5 -3.2 -2zM140 486.7l0 1.9 -1.6 2.5 0 -3.4zM128 486.6l-.6 2.8 -1.8 1.7 .3 -3zM130.2 489l.8 2.1 -.6 3.5 -1.2 -2.4zM127.7 488.4l3.4 .5 2.5 1.8 -2.5 .3zM150.9 489.2l-3.1 1 -3.3 -.4 2.1 -1.3zM141.2 479l-1.3 2.9 -2.4 .6 .4 -2.3zM136.8 478.1l2.5 .8 .1 3.3 -2.3 -1.4zM141.9 484.6l1.7 3.6 -1.2 2.1 -1.3 -1.6zM142 490.3l2.8 .2 .8 1.7 -2.4 .4zM146.3 479.2l-2.2 2.1 -1.9 -.2 1.3 -1.4zM139.4 487.3l2.3 1.5 .3 3.4 -2.3 -1.8zM153.4 484l1.9 1.4 .7 4.8 -2.7 -4.8zM148.7 489.9l0 3.5 -2.1 1.2 -.2 -2.4zM156.2 484.9l-.8 3.2 -1.7 1.5 -.3 -1.9zM148.9 489.7l4.7 -.6 2.2 1.7 -1.4 1zM160.3 483.1l.3 3.7 -1.5 1.6 -.9 -1.4zM162.7 480.6l-2.7 2.2 -3.7 -1 2.7 -1.7zM164.8 483l2.3 1 .2 2.4 -2.3 -2.2zM164.6 490.6l1.3 1.6 -1.3 2.6 -1.2 -1.8zM158.5 484.8l1.9 2.1 -.9 3.3 -1.3 -2.3zM167.9 484.8l.8 3 -.9 1 -.8 -.9zM168.3 485.4l-1.5 1.9 -3.3 -.5 2.8 -2.2zM180.7 483.1l-2.4 2.2 -3.6 -.3 2.6 -2.1zM176.4 486.5l-1.3 1.8 -2.7 -.5 2.1 -1.4zM176.3 487.4l3.1 -.5 2.8 2.2 -4 .2zM177.6 485.2l3.5 .5 1.3 1.4 -1.2 .3zM173.9 488.7l-1.8 1.2 -3.6 -1.1 4.2 -.8zM176.7 478.4l1.5 1.2 .2 3.4 -1.8 -3.1z" fill="#41339c" stroke="#211958" stroke-width="0.5" stroke-linejoin="round"/>
<path d="M25.7 387.4l.9 -.4 1.3 .5 -1.6 .4zM33 384.7l1.4 .7 .3 1.4 -1.2 -.4zM39.9 388.9l-3.5 -.5 3.5 1.3zM42.4 391.2l-3.7 .7 3.7 .1zM54.7 384.2l.7 .5 .2 1.1 -.8 -.4zM57.5 384.5l-2.5 3.1 2.5 -2.3zM50.5 383.1l1.2 .3 1.3 1.5 -1.8 -.9zM54.2 385.1l2.6 2.7 -2.6 -1.9zM59.8 387.1l.3 1.2 -.7 1.4 -.3 -1.2zM60.1 394.6l1.2 .8 -.1 .7 -1 -.5zM66.7 389l4.9 2.2 -4.9 -1.4zM69.2 390.5l1.9 1.2 .5 1.1 -1.4 -.5zM75.8 383.8l-1.9 3.6 1.9 -2.8zM66.2 387.8l.5 .8 .1 1.6 -1 -1.4zM85.1 385.5l-.8 1.4 -.9 -.2 .3 -.9zM90.3 382.5l-.1 1.2 -1.5 .8 .1 -1.2zM88.2 384.1l-5 3.1 5 -2.3zM92.3 391.2l1.4 .9 .4 1.5 -.9 -.7zM98.1 390.4l1 .3 .1 1.8 -1.2 -1.4zM97.5 385.5l1.5 1.7 0 1.3 -1 -1.2zM99.6 389.9l2.4 2.7 -2.4 -1.9zM92.5 390.6l-1.4 1.9 -1.3 .4 .4 -.8zM97.7 389.1l-5.1 .9 5.1 -.1zM103 392.6l1.3 .9 .5 1.5 -1.5 -1.3zM106.9 395l3.6 4.7 -3.6 -3.9zM106.7 391.5l-4.2 2.2 4.2 -1.4zM99.3 395.6l-.6 1 -1 -.1 -.1 -.6zM96 395.9l-3.6 3.3 3.6 -2.5zM109 392.2l.7 .4 .4 1.6 -1.3 -1.3zM120.5 390.9l-4.3 5.2 4.3 -4.4zM128.5 394.5l.8 3.8 -.8 -3zM136.2 384l1.3 -.6 .9 .6 -.7 .4zM146.5 387.8l1.2 -.7 1.8 .6 -1.5 .6zM150.3 388.2l6.3 .8 -6.3 0zM147.7 395.8l-1.7 .7 -1.2 -.1 1.4 -.9zM145.7 384.9l.8 1 .1 1.1 -.7 -.2zM146.3 388.7l4.7 4.7 -4.7 -3.9zM143.3 392.8l-.3 .6 -1.5 0 .7 -.9zM156.2 393.5l1.1 .7 -.2 1.2 -.7 -.7zM157.5 387.7l1.6 1.5 .2 1 -1.1 -.5zM164.8 394.3l.9 .8 0 1.3 -1.1 -.7zM165.5 396.5l.6 4.7 -.6 -3.9zM164.4 390.6l1.3 -.2 .4 .8 -1.2 .2zM167.1 391l4.6 2 -4.6 -1.2zM166.8 387.5l1.5 -.3 .6 .7 -1 .4zM171.1 390.1l-.7 5.5 .7 -4.7zM163.3 387.5l1.7 1.5 .1 1.2 -1.3 -.7zM160.4 390.3l-.2 1.4 -.9 1.5 .2 -1.8zM168.7 385.5l-3 2.6 3 -1.8zM181.3 389.1l3.5 1.7 -3.5 -.9zM29.6 400.2l-1.4 .7 -.7 -.4 1 -.4zM25.9 400.9l-2.6 -1.6 2.6 2.4zM29.5 391.7l-1.7 1.4 -.9 -.5 .9 -.9zM40.2 396.5l-.6 4.6 .6 -3.8zM45.2 405.3l-1.7 1 -1.2 -.1 .7 -.6zM60.3 404.7l.1 .9 -1 .8 -.1 -1.4zM45.5 393.3l1.7 1 .6 1.6 -1.2 -.6zM55.8 403.3l1.3 .6 .9 1.3 -1.1 -.3zM71.3 401.3l-.8 1 -2 .3 1.2 -1.4zM66.4 402l-4.1 4.7 4.1 -3.9zM63.8 407.6l-2.3 3.4 2.3 -2.6zM67 401.6l-2.7 2.1 2.7 -1.3zM58 397.9l1.3 .5 .8 .9 -1.3 -.3zM81.3 405.8l5.3 1.2 -5.3 -.4zM71.3 399.6l-.5 1.8 -1.3 .7 -.2 -.9zM87.9 406.1l-.3 6.3 .3 -5.5zM80.5 392.5l.6 2.1 -.6 1.2 -.7 -1.2zM79.3 396.8l2.4 5.2 -2.4 -4.4zM88.3 397.5l2.5 4.3 -2.5 -3.5zM92.4 394l3.6 -2.6 -3.6 3.4zM102.7 395.2l.6 1 -.5 1.1 -.2 -1.6zM103.5 405l-6 2.3 6 -1.5zM108.5 403.5l-1.3 1.6 -1.4 .1 .4 -1.1zM125.5 389.8l.1 2 -.4 .9 -.4 -1.4zM122.4 399.5l-3 3.4 3 -2.6zM125.4 404.2l-5.2 2.8 5.2 -2zM125.2 403.7l1.5 .7 .4 .9 -1.2 -.6zM128.8 396.6l-4.3 -.2 4.3 1zM136.8 399.5l0 .9 -1.4 .8 .2 -1.3zM135.4 400.8l-.2 4.8 .2 -4zM136.9 392.8l1.2 -.8 1.3 .7 -1.5 .5zM150.2 393.9l-1.6 .5 -.8 -.4 .6 -.6zM145.5 398.2l-.1 1.2 -1.3 .7 0 -1.2zM144 400.2l-3.1 3.8 3.1 -3zM144.8 404.8l.2 1.1 -1.2 1.4 .2 -2.1zM154 393.2l.1 1.4 -.9 2 -.4 -2.1zM148.9 402.1l-3.5 2.8 3.5 -2zM165.4 402.7l-3.1 .3 3.1 .5zM157 400.3l.4 3.4 -.4 -2.6zM165.2 401.6l-1.2 .3 -1.2 -.3 1.1 -.6zM160.8 405.2l-3.2 1 3.2 -.2zM171.7 392.1l.9 1 .3 1.8 -1.3 -1.4zM31.5 412.5l.7 .9 -.1 1.5 -.8 -1zM33.1 406.8l.8 1.2 -.3 1.8 -.8 -1.6zM47.2 402.4l.1 1.3 -.7 .4 -.2 -.7zM42.8 415.3l1.7 .3 1.1 1 -1.1 -.1zM44.5 404.1l.9 .4 .5 1.6 -1.2 -1zM45.2 405.9l.6 .9 .1 2.5 -1.2 -1.9zM59.3 413.1l.7 .9 -.1 1.4 -1.2 -1.4zM66.5 415.7l1.3 -.9 1 .7 -.7 .6zM58.4 409.6l-1.4 .6 -1.9 -.6 1.9 -.7zM58.8 410l.4 1 -.2 2.3 -.6 -1.9zM72.2 415l1.2 .7 -.1 1.2 -1.2 -1zM68.5 414.2l-3.2 -2.3 3.2 3.1zM81 404.9l3.2 2.8 -3.2 -2zM77.9 411l1.5 .4 .4 1.1 -1 -.2zM88.7 411.9l1.5 .5 .4 1 -.7 .1zM76.3 403.2l0 1.3 -.6 .6 -.2 -.7zM82.5 414.2l.3 1.2 -1.2 1.5 .1 -1.6zM81.3 417l-4.8 2 4.8 -1.2zM85.1 403.4l1.5 -.1 .5 .6 -.6 .3zM79 415l-2.7 5.5 2.7 -4.7zM91.9 400.4l-.6 1.2 -.9 .2 -.1 -.8zM93.1 414.2l1.9 4.5 -1.9 -3.7zM98.2 403.3l1.8 -.1 1.5 .8 -2.1 .1zM109.4 406.3l1.1 -.5 1.9 .9 -2.2 .4zM105.2 406.5l2 .4 .7 1 -1.6 -.1zM119.3 411.3l1.1 1.2 -.1 2 -1.2 -1.9zM122.7 403.8l.7 1 -1 .9 -.4 -1.3zM128.2 407.5l.4 .8 -.8 1.3 -.3 -1.3zM135.6 411.2l-1.4 1 -1.2 -.5 .5 -.8zM129.6 402.6l.2 1.2 -.6 .8 -.1 -1.1zM128.2 405.9l-.8 4.9 .8 -4.1zM152 408.6l.9 .5 -.2 1.4 -.9 -1.3zM153.5 411.6l-3.2 .1 3.2 .7zM145.6 407.9l-4 2.1 4 -1.3zM150.7 409.4l.8 .8 .7 1.8 -1.4 -1.2zM159.2 415.2l2.1 -.2 .9 .7 -1.4 .2zM168.9 402.8l1.1 .6 1.2 1.8 -1.8 -1.3zM158.5 411l-6 2.5 6 -1.7zM174.4 412.2l-.8 1.1 -1.3 .2 .6 -.8zM177.4 400.6l.5 .6 -.2 1.5 -.8 -1.2zM174.5 411.6l-4.3 -.1 4.3 .9zM169.6 407.2l2.5 3.9 -2.5 -3.1zM174 411.1l-1 1.1 -1.1 0 .4 -.9zM26.9 414.3l-4.5 1.4 4.5 -.6zM25.3 419.1l-4.8 4 4.8 -3.2zM35.7 417.7l-.5 1.8 -1 .4 .1 -1.2zM33.8 420.6l-4.1 1.3 4.1 -.5zM38.1 414.2l.7 1.2 -.6 2.1 -.3 -2.1zM37 422.8l.3 1.8 -.6 1.4 -.5 -1.3zM45.4 418.8l-.7 .5 -1.5 -.1 1.4 -1zM38.8 422.5l.2 1.8 -1 .8 -.3 -1.1zM60.3 417.2l4.9 4.2 -4.9 -3.4zM59.4 411.6l1.1 .4 .3 1.6 -1.3 -1zM60.4 413.8l-1.2 3.9 1.2 -3.1zM63.4 414.8l1 -.2 1.5 1 -2.1 0zM78.9 415.5l1.8 6 -1.8 -5.2zM73.2 415.1l1.1 .9 .5 1.2 -1.1 -.8zM81.3 417.6l4.8 .8 -4.8 0zM79.8 420.3l4.6 3.3 -4.6 -2.5zM96.7 419.6l1.6 .5 .6 1 -1.4 -.4zM100.2 420.6l3.4 -.4 -3.4 1.2zM99.5 419l-.5 1 -1.7 .9 1 -1.6zM95.7 421.3l-4.1 1.7 4.1 -.9zM89.1 412.3l-1.8 .6 -.8 -.3 .7 -.5zM105.5 423l-.7 1.7 -1.5 .6 .4 -1.4zM101.7 426l-2.8 1.7 2.8 -.9zM105.5 419.2l1.2 .1 .8 1 -1.7 -.6zM108 420.3l3.2 1.6 -3.2 -.8zM99.1 413.4l-.6 1.5 -.9 .8 .4 -1.5zM109.2 424l.7 6.1 -.7 -5.3zM101.8 417.7l-1.3 1 -1.5 .3 .9 -1zM107 413.3l1.2 -.7 .7 .4 -.5 .4zM109.4 413.3l3.9 4.5 -3.9 -3.7zM119.2 418l5.7 3.4 -5.7 -2.6zM127 420.7l-.1 1 -.9 .7 -.2 -.6zM129 425.2l.9 -.1 1.1 1.6 -1.7 -.5zM131.4 425.8l3 5.6 -3 -4.8zM130.9 425.6l3.1 3.3 -3.1 -2.5zM132.4 419.4l1.4 .8 .3 1.2 -.9 -.5zM129.3 411.5l1 1.2 0 1.4 -1 -1.2zM127.6 422.3l1 -.6 2.1 .7 -1.9 .4zM132.3 421.5l5.3 1.1 -5.3 -.3zM129.7 418.9l1.7 .4 .6 1 -1.5 -.3zM137.1 416.5l.9 6 -.9 -5.2zM146.9 419.3l.2 1.5 -.6 .7 -.5 -.6zM151.9 416.3l-.9 .6 -1.5 -.1 1.6 -.8zM169.8 420.7l4.9 -.8 -4.9 1.6zM159.5 426l3 2.9 -3 -2.1zM165.3 410.6l-.6 .9 -1.7 -.2 1.2 -1zM161.2 412.4l-5.5 3.9 5.5 -3.1zM167.5 417.6l.7 1.5 -1 1.9 -.3 -2.3zM164.9 417.5l1.1 -.4 .8 .6 -.7 .3zM175.8 412.1l-1.4 .9 -1.5 -.1 1.4 -.8zM172.7 412.9l-3.1 5 3.1 -4.2zM179.8 416.4l.5 .9 -.7 1 -.4 -.8zM177 414.2l-1.2 .8 -1.9 .2 1.2 -.9zM32.8 428l.5 .9 -.9 1.8 -.4 -1.6zM32.2 431.2l-3.2 3.6 3.2 -2.8zM29.6 437.5l.1 5.9 -.1 -5.1zM37.8 434.7l-.9 4.7 .9 -3.9zM48.2 431.5l.2 1.3 -1 1.5 0 -1.6zM57.8 434.8l4.2 4.4 -4.2 -3.6zM70.3 430.3l4 4.4 -4 -3.6zM66 433.3l4.9 4.3 -4.9 -3.5zM76.2 432.6l1 1.1 -.1 .7 -.6 -.2zM78.1 424.7l1.3 .8 .9 1.5 -1.4 -.8zM71.7 430.1l1.3 -.7 .7 .7 -1.2 .5zM72.5 426.6l.6 1.6 -.4 1.3 -.6 -1zM80.7 423.8l5.5 1.6 -5.5 -.8zM79.6 425.9l-4.7 2.9 4.7 -2.1zM94 426.9l-4.5 .6 4.5 .2zM87.2 422.2l.7 .6 -.2 1.4 -.9 -.9zM87.2 423.8l3.6 4 -3.6 -3.2zM93.7 426.3l.5 .6 -.4 1.6 -.8 -1.1zM93 429.4l1.8 2.8 -1.8 -2zM101.3 427.3l-1.1 1.2 -2 .3 1.2 -1.3zM103.4 427.8l1.1 .9 .3 1.3 -.8 -.6zM105.4 430.6l5.2 3 -5.2 -2.2zM97.4 430.5l.8 -.2 1.2 .7 -1.8 .2zM131.1 428.1l-1 .5 -1.4 -.3 1.5 -.7zM125 421.4l1.6 .8 .7 1.3 -1.4 -.5zM134.9 432l.5 1.3 -.5 2.2 -.6 -2.6zM135.9 436.8l2.3 6.3 -2.3 -5.5zM129.5 432l.8 3.7 -.8 -2.9zM140.3 422.4l1.8 3.5 -1.8 -2.7zM129.6 428.8l1.1 -.3 .8 .8 -1.3 .4zM144.8 432.1l-.6 1.4 -1.4 .7 .6 -1.6zM142.1 435.1l-4.8 2.9 4.8 -2.1zM145.2 426.1l-.6 1.2 -1.2 .3 .5 -.8zM135.3 421.4l1.8 .6 1 1.2 -1.5 -.5zM142.4 421.6l1.6 -.2 1 .7 -1.1 .6zM141.9 424.4l.7 4.1 -.7 -3.3zM154.8 432.5l.2 1.8 -.7 .4 -.3 -1.1zM167.8 433.4l-.3 1.9 -.9 .9 -.1 -1.2zM167.1 436l1.8 3.9 -1.8 -3.1zM157.3 429.6l-5.1 -3.1 5.1 3.9zM157.9 419.9l1.5 .6 .9 1.6 -2 -.8zM177.8 424.2l2.3 4.5 -2.3 -3.7zM178.3 422.5l-1.4 .8 -1.9 .2 1.4 -1.1zM173.8 423.9l-3.3 0 3.3 .8zM176.5 429.6l.2 1.3 -1.2 .6 .3 -1.5zM173.9 430.6l-4.7 .7 4.7 .1zM28.9 431.2l.8 -.1 .8 .9 -.8 0zM36 437.5l0 1.1 -.7 .8 .1 -1.3zM25.7 434.6l2 .5 .3 1.1 -1 0zM27.4 433.4l-1 1.1 -2 0 1.8 -.9zM28.3 438.2l-5.9 2.8 5.9 -2zM48.3 441.7l3.9 2 -3.9 -1.2zM36.6 444.2l-3.1 2.3 3.1 -1.5zM38.4 441.5l-2.2 2.5 2.2 -1.7zM45.1 438.1l2.2 6.2 -2.2 -5.4zM60.2 441.3l2 3.7 -2 -2.9zM50.8 441.2l-2.4 2.6 2.4 -1.8zM49.9 445.3l.6 5 -.6 -4.2zM68.2 437.7l-.8 .6 -1.2 -.4 1.1 -.4zM60.2 433.5l-.2 2 -1 1.1 .1 -1.9zM66.5 435.3l1.6 .4 1.3 1.5 -2 -.8zM68.6 431.1l1 -.4 1.5 .9 -2 .1zM73.9 445.4l1.2 4.1 -1.2 -3.3zM71 437.2l1 1 .1 1.7 -.8 -1zM73.8 438.3l.2 1.6 -.6 1.6 -.4 -1.8zM76 439.1l-.4 2 -1.2 .7 .1 -1.1zM87.5 433.9l4.3 0 -4.3 .8zM84 436.2l1 1.9 -.6 1.1 -.6 -1.2zM82.3 439.1l-2.7 4.9 2.7 -4.1zM83 440.8l.9 1.5 -.3 1.1 -.6 -.7zM95.8 445.4l3.4 5.5 -3.4 -4.7zM100.1 437.2l-1 .6 -.8 -.3 .3 -.4zM91.7 430.7l1 .2 .2 1.4 -1.5 -1.2zM93.4 433.1l-1.1 5.5 1.1 -4.7zM88.3 434l.5 1.5 -.5 1.7 -.4 -1.3zM87.8 439.6l1.7 3.8 -1.7 -3zM94.3 439.5l1.2 -.2 1.4 1.4 -1.8 -.2zM101.7 439.8l-.8 .9 -.9 .2 .8 -1.1zM120 436.5l-.3 .9 -1.7 1.5 1.2 -2.3zM117.7 444.3l1.2 -.4 .6 1.1 -.9 .3zM119.7 444.5l4.3 .9 -4.3 -.1zM112.9 431.8l-3.5 5.4 3.5 -4.6zM116.7 438.1l1.3 1.1 .3 1.5 -1.1 -.5zM118.8 440.4l-1.1 4.4 1.1 -3.6zM125.1 443.2l-3.8 -1.5 3.8 2.3zM119.5 434.7l-2.5 3.8 2.5 -3zM134.2 443.3l-.7 3.5 .7 -2.7zM136.5 439.2l3.1 -.8 -3.1 1.6zM136.7 440.7l1.3 1.6 .1 1.4 -.9 -.8zM142.8 434.3l1.8 -.3 1.5 1.1 -1.7 .3zM144.4 439.3l1.5 -.2 .6 1 -.7 .3zM160.7 437.1l2.4 6 -2.4 -5.2zM152.6 431.3l1 1.7 -.4 1.2 -.7 -.8zM149.2 430.3l1.8 -.4 .8 .8 -.7 .6zM153.5 436.8l-3.4 2.2 3.4 -1.4zM163.1 436.8l3.8 3.8 -3.8 -3zM163.1 437.7l4.6 -1.1 -4.6 1.9zM165.4 436.7l3.2 2.8 -3.2 -2zM174 431.3l1.4 -.1 2 .6 -2.2 .1zM177.1 442.8l-2.2 3.8 2.2 -3zM169.6 437.1l-1.9 4.2 1.9 -3.4zM31.6 445.4l4.1 3 -4.1 -2.2zM40.2 440.9l.1 .8 -1 1.1 .3 -1.5zM37.9 443.3l-2.8 3.3 2.8 -2.5zM50.6 441.8l3.8 -2.3 -3.8 3.1zM35.7 451l.2 .9 -.5 .9 -.5 -1.4zM41.2 445.1l-3.9 3.5 3.9 -2.7zM47.3 445.6l0 5.5 0 -4.7zM69 451l-.3 1.6 -.8 .5 .2 -1.1zM56.1 442.2l1 -.4 1.1 .7 -1.4 .7zM64.4 453.6l6.4 0 -6.4 .8zM67.5 445.3l.4 .8 -.9 1.2 .4 -1.9zM69.6 449.3l.3 1 -1.2 .6 -.2 -1zM69.8 440.1l-1 1.6 -1.4 1 1 -1.9zM75.1 450.3l.3 1.7 -.8 .8 -.4 -1.1zM90.9 445.7l.3 2.3 -.5 1.1 -.4 -1.1zM89.9 451l2.3 4.8 -2.3 -4zM84.2 449.1l5.2 4.1 -5.2 -3.3zM94.7 452.5l-1.2 1.4 -1 -.1 .1 -.7zM98.2 444.7l-.9 1.1 -1 -.3 .3 -.9zM96.4 448.3l-3.4 2 3.4 -1.2zM97.8 444.4l-4.9 1.7 4.9 -.9zM104.1 445.5l-.8 .7 -1.4 -.4 1.3 -.5zM101.7 444.8l-2.3 -1.8 2.3 2.6zM116.8 454.1l-3.7 4.9 3.7 -4.1zM113.4 445.1l.1 1.4 -.7 1.2 -.4 -1.7zM113.3 448.4l-2.6 3.2 2.6 -2.4zM114.5 441.7l-3.2 4.8 3.2 -4zM108.1 451.3l1.7 -.5 1.1 .7 -.8 .6zM112.2 451.8l2.7 3.9 -2.7 -3.1zM126 447.4l.4 .9 -.3 1.9 -.6 -2.3zM126.1 450.2l-1.6 5.4 1.6 -4.6zM129.5 450.3l.8 .5 0 1.4 -1 -1.1zM130.6 453l2.8 2 -2.8 -1.2zM128.8 448.1l.6 1.5 -.9 1.6 -.5 -1.3zM137.9 450.5l4 3.2 -4 -2.4zM144.7 444.3l1.4 -.2 .8 .6 -1.1 .1zM148.9 448.4l-1.4 1.1 -1.3 .1 .6 -.9zM142.7 441.4l1.6 -.4 1 .7 -1.4 .3zM146.1 453.6l-1.2 4.2 1.2 -3.4zM142.7 444.2l-1 5.4 1 -4.6zM153.3 446.6l-2.3 3.4 2.3 -2.6zM148.3 445.9l-.1 1.1 -1 1.8 0 -1.9zM153.5 444l4.2 4.2 -4.2 -3.4zM150.8 450.5l-4.8 4.7 4.8 -3.9zM151.8 444.1l-.6 1 -1.5 -.2 .8 -.7zM149 445.2l-6 2 6 -1.2zM159.2 452l1.1 .3 .3 1 -.6 -.1zM162.2 451.8l3.1 3.6 -3.1 -2.8zM160.3 440.5l-.4 1 -1.5 0 1.4 -1.3zM167.7 444.7l.7 .3 .2 1.4 -1.3 -.7zM170.1 444.7l-1.6 6 1.6 -5.2zM180.4 444.7l-.3 1.7 -1.4 1.4 .4 -2.4zM35.7 459.1l1 -.1 .4 1.4 -1.3 -.3zM28.1 463.1l-4.8 4.6 4.8 -3.8zM30.1 451.2l-.4 1.2 -1.3 .4 .3 -.9zM35.8 462.2l-4.1 2.6 4.1 -1.8zM46.3 460.1l.3 5.6 -.3 -4.8zM42.1 460.8l-.9 1.2 -1.1 0 .2 -.8zM37.9 458.6l-2.9 5.1 2.9 -4.3zM45.1 458.3l.8 1.3 0 1.3 -.6 -.7zM53.2 454.3l1.1 1 -.1 2.1 -1.1 -1.6zM55.5 457.9l3 4.5 -3 -3.7zM56.2 461.6l1.1 -.1 .6 .8 -1.2 -.1zM60.5 451.8l-1.2 1.3 -1.5 .2 .7 -.9zM60.5 460.1l-4.8 -1.8 4.8 2.6zM61.9 454.3l-.6 1.1 -1.8 1.4 1 -1.7zM58.4 457.4l-2.3 2.4 2.3 -1.6zM76.3 456.5l-3.6 2.5 3.6 -1.7zM70.6 454.2l.1 1.6 -.9 1.2 -.4 -1.5zM80.2 450.4l.6 .7 0 1.8 -1 -1.9zM87.9 455.4l.1 2.1 -1.2 .8 -.1 -1.4zM90.3 453.5l1 4 -1 -3.2zM89.2 455.3l-.8 1.6 -.9 .4 .2 -.9zM84.2 456.7l-2.2 1 -1.2 -.5 1.2 -.7zM92.2 456.9l3.5 3.2 -3.5 -2.4zM90.5 454.7l2.9 -.2 -2.9 1zM89.3 453.1l-.7 1.3 -.9 0 -.2 -.6zM88.1 449.7l.9 -.5 1.4 .9 -1.9 0zM90.5 463.9l1.8 -.5 1 .9 -1.1 .4zM105.8 454.1l.9 .3 1.6 1.2 -1.8 -.5zM100.2 463.1l2.7 2.1 -2.7 -1.3zM104.9 462.8l1.5 -.5 .7 .7 -.8 .4zM114.8 454.9l0 2.2 -1 1.1 .2 -1.9zM112.2 458.5l1.3 3.4 -1.3 -2.6zM108 452.2l.8 1.1 -.7 2.2 -.6 -1.8zM107.1 457.4l-1.6 3.3 1.6 -2.5zM111.5 463.4l-.9 .4 -2.4 .2 2 -1.2zM105.6 464.1l-2.9 2.1 2.9 -1.3zM114.1 452.6l.8 .6 1 1.8 -1.4 -.9zM117.1 455.9l2.2 2.7 -2.2 -1.9zM118.5 451l5.2 .1 -5.2 .7zM121.9 455l-2.5 5.6 2.5 -4.8zM128.2 462.7l4.9 .3 -4.9 .5zM124.7 455.2l3.1 4 -3.1 -3.2zM117.6 464.7l-.8 5.3 .8 -4.5zM140.7 451.1l5.4 2.6 -5.4 -1.8zM131.2 456.6l-4.6 -2.7 4.6 3.5zM131.9 463.6l1.1 -.9 1.4 .6 -1.2 .8zM136.8 458.4l-4.3 2.5 4.3 -1.7zM135.3 454.9l1.9 .6 .8 1.2 -1.9 -.6zM138.7 451.7l0 1.4 -1.1 1.1 .3 -1.8zM148.4 453.2l4.3 5.2 -4.3 -4.4zM148.6 456.6l1.4 -.6 1.9 .8 -2.3 .1zM152.7 457.8l5.5 -1.3 -5.5 2.1zM147.5 465.8l3.4 2.8 -3.4 -2zM157.9 460.6l-5.1 -.4 5.1 1.2zM168.6 458.5l-.7 1.9 -1.6 .7 .7 -1.4zM159.5 455.8l1 .8 0 1.6 -1.1 -1.2zM166.7 452.2l2.4 .4 .8 1.1 -1.2 .1zM33.4 468.9l2.9 4.8 -2.9 -4zM37.5 467.5l.1 5.5 -.1 -4.7zM43.7 462.6l.3 1.5 -1 1.1 -.2 -1.4zM39.5 473.9l-2.9 1.6 2.9 -.8zM50.9 462.4l-5.4 .7 5.4 .1zM57.7 461.7l-.9 .8 -1.7 -.3 1.7 -1zM46.7 462.1l1.1 -.3 1.3 .6 -1.7 .4zM70.2 467.3l.9 5.3 -.9 -4.5zM63.1 465.7l-1.1 3.9 1.1 -3.1zM55.2 463.1l-3.7 3.3 3.7 -2.5zM66.6 470.3l.5 .7 .2 1.5 -1 -1.1zM67.7 473.3l1.3 3.1 -1.3 -2.3zM78 468.5l-2 3.5 2 -2.7zM68 466l1 .3 1 1.8 -1.8 -.9zM82.4 471.1l-1.1 2 -1.1 .5 .4 -1.6zM75.7 462.6l1.1 -.4 .7 .8 -1 .5zM84.7 467.3l1.6 .4 1.3 1.4 -2.2 -.9zM89.7 471l.8 .8 -.7 1.1 -.5 -1zM96.4 472.6l-2.2 2.4 2.2 -1.6zM98.5 468l1.1 .1 .6 .9 -.7 .1zM100.8 468.2l3.6 5.5 -3.6 -4.7zM99.4 462.6l-6.5 .1 6.5 .7zM106.7 470.4l-4.7 3.5 4.7 -2.7zM108.5 463.1l2.2 6.2 -2.2 -5.4zM109.9 470.5l1.4 -.2 .5 .9 -1.4 .1zM116.7 466.4l-.2 1.2 -1 .5 .4 -1.1zM122.9 473.6l-1.7 1 -1.8 -.3 1.2 -1zM126.7 460.4l.3 1.3 -.8 1.1 -.5 -.7zM126.4 463.2l-.2 4.9 .2 -4.1zM149.8 467l0 1.2 -.6 2.1 -.3 -1.8zM142.3 467.4l1.1 -.1 .8 1 -1.1 .3zM145.7 467.7l1.5 5.9 -1.5 -5.1zM147.5 461.5l-1.3 .8 -1 -.2 .4 -.5zM149.7 470.4l-1.8 3.7 1.8 -2.9zM161 473.7l4.5 1.9 -4.5 -1.1zM159.9 467.9l-.4 1.5 -1.5 1.1 .4 -1.5zM157.8 469.3l.2 1.9 -.9 1.1 -.3 -1.3zM174.1 465l-2.6 3.7 2.6 -2.9zM176.4 464.1l0 6.7 0 -5.9zM177.6 470.8l.8 5.4 -.8 -4.6zM38.5 470.6l-.7 1.6 -1.4 .8 .8 -1.5zM34.1 474.8l-.4 1.1 -1.6 .9 .9 -1.2zM34.6 473.5l3.7 2.6 -3.7 -1.8zM41.5 475.2l-.2 1 -1.2 .1 .7 -1.1zM38.9 475.5l-4.8 1.7 4.8 -.9zM52.2 472.5l5.3 -1.4 -5.3 2.2zM42.2 475.7l5.5 -2.9 -5.5 3.7zM49.7 480.2l-1.1 .8 -.9 -.4 .8 -.6zM50.5 473.6l.1 2.3 -.6 1.1 -.2 -1.1zM48.8 478.5l-1.7 4 1.7 -3.2zM48.2 476.2l.8 -.5 1.2 .8 -1.1 .3zM56.4 471.4l1.1 1.3 -.2 1.2 -.9 -.4zM66.2 471.9l.3 1.6 -.8 1.2 -.4 -1.2zM64.2 482.2l1.4 3.6 -1.4 -2.8zM58.2 481.6l-1.3 1 -1 -.2 .8 -1zM79.1 467.8l-.3 1.6 -.8 1.3 .2 -1.8zM70 476.9l1.1 4.5 -1.1 -3.7zM81.7 475.2l.9 1.8 0 1 -.7 -.8zM95 477.4l4.9 1.5 -4.9 -.7zM87.6 472.3l-.1 1.2 -1.4 .1 .3 -.9zM93.1 473.9l-4.3 2.7 4.3 -1.9zM99.7 482l-2.1 3.6 2.1 -2.8zM97.6 483.3l-3.2 4.9 3.2 -4.1zM106.8 471.3l1.9 .9 .4 1 -.9 .3zM109.6 473.7l-2.6 3.8 2.6 -3zM105.2 472l-6.1 1 6.1 -.2zM125.8 477.2l.2 .8 -1.1 .9 -.4 -1zM142.1 477.1l-.7 1 -2 .7 1.9 -1.7zM133.1 479.3l1.7 6.1 -1.7 -5.3zM146.3 472.7l4.2 4.4 -4.2 -3.6zM148.1 473.5l4.2 3.9 -4.2 -3.1zM150.7 474.6l3.3 -1.5 -3.3 2.3zM153.6 475.5l.9 .3 .5 1.1 -1 -.5zM160.5 471.4l-.5 .9 -1.5 1 .9 -1.7zM157.8 473.5l-2 3.5 2 -2.7zM157.9 482.8l-3.7 3 3.7 -2.2zM168.1 474.1l3.2 .8 -3.2 0zM177.3 475.8l2.6 2.3 -2.6 -1.5zM29.2 486.3l2.4 5.6 -2.4 -4.8zM42.1 482.4l2 0 .6 1.1 -.8 .3zM45.2 494.7l3.2 0 -3.2 .8zM47.9 487l.9 .9 .7 1.6 -1.6 -1.6zM52.6 489.1l-3.4 5.8 3.4 -5zM65.5 485.3l-3.4 5.3 3.4 -4.5zM56.9 482.1l1.3 -.6 1.3 1.3 -1.5 .1zM59.5 483.5l2.9 6 -2.9 -5.2zM67.5 488.4l1.4 -.5 .6 .8 -1.3 .4zM65.9 484l-2.9 2.5 2.9 -1.7zM76.1 489l-.7 .8 -1.6 -.3 1.3 -.6zM90.2 487.7l5.4 .3 -5.4 .5zM77.7 485.6l.6 2 -.4 .8 -.4 -1.1zM78 488.8l-2.8 3.3 2.8 -2.5zM86 483.1l2.7 3.9 -2.7 -3.1zM108.9 486.5l1.3 -.1 .9 .7 -.9 .2zM108.1 485.4l-1 .5 -.8 -.5 .6 -.7zM106.8 483.3l-3.3 -.5 3.3 1.3zM117.2 486.3l-.5 5.9 .5 -5.1zM121.5 488.2l1.3 1.2 .4 1.3 -.9 -.5zM139.4 483.9l.2 1.4 -.8 .3 -.4 -.6zM136.3 490.2l1.2 .3 .9 1.7 -1.6 -.9zM149.8 489.7l-1.5 .4 -1.7 -.2 1 -.6zM140.3 479.5l-.7 1.4 -1.2 .3 .2 -1.2zM137.5 482.2l-1.7 5.9 1.7 -5.1zM137.9 478.5l1.2 .4 .1 1.7 -1.1 -.7zM142.8 485.5l.9 1.9 -.7 1 -.6 -.8zM143.6 491.3l1.4 .1 .4 .9 -1.2 .2zM153.3 485.6l.9 .8 .3 2.3 -1.3 -2.3zM151 489.7l2.3 -.2 1.1 .8 -.7 .5zM159.4 485.2l.1 1.9 -.7 .8 -.5 -.7zM164.5 494.4l-3.9 4.4 3.9 -3.6zM159.5 489.8l1.8 4.6 -1.8 -3.8zM174.7 484.7l-3.6 -1.8 3.6 2.6zM172.4 487.5l-4.6 1.5 4.6 -.7zM168.5 488.8l-2.2 -1.9 2.2 2.7z" fill="#211958" stroke="#211958" stroke-width="0.5" stroke-linejoin="round"/>
<path d="M37 394.3l1.8 .1 .5 .7 -1.2 .2zM46.2 385.8l-1.1 .7 -1.4 -.5 .9 -.6zM38.6 394.6l-.8 .6 -2 -.5 2 -.5zM42.4 387.7l.8 .1 .8 .9 -1.5 -.6zM57.2 384.9l-.5 .7 -1.1 -.3 .9 -.4zM53.2 392.9l-.6 .8 -1.3 -.2 .6 -.7zM66.7 393.9l1.8 .7 .6 1.1 -1.2 -.1zM61.2 383l.4 1.1 -.5 .5 -.4 -.6zM60.7 385.4l.2 1.4 -.6 1.1 -.1 -1.5zM79.5 391.4l-.1 1.5 -.9 .8 0 -1zM97.2 386.2l-.1 1.3 -.9 .8 .1 -1.2zM100.1 387.2l-.4 1.4 -1 .1 .4 -1zM98.9 384.2l1.1 0 1.4 1.2 -2 -.4zM97 393.8l2 -.4 .9 .7 -.7 .4zM113.3 394l-.1 1 -1 1.3 .5 -1.8zM113.9 381.2l.6 1.1 -.6 .9 -.5 -1.1zM131.3 382.5l-.7 .8 -1.4 .2 .7 -1zM152.9 383.7l-.3 1.2 -.8 .4 -.1 -.6zM152.6 386.9l.4 1.3 -.6 1.8 -.5 -1.9zM148.3 390.7l-.9 .7 -1.9 -.2 2.1 -.9zM172.2 395.3l-1 1 -1.2 .1 .6 -1zM173.8 393.7l.4 1.4 -.5 1.2 -.5 -1.5zM179.7 386.9l.8 .5 .3 1.1 -1.1 -1zM39.9 398.9l-1.5 1.5 -1 .3 .5 -.8zM54.9 400.1l-.8 .4 -1.5 .1 1.3 -.8zM63 402.9l.9 .6 .1 .7 -.9 -.4zM65.3 403.8l0 1.5 -1 1.1 -.1 -1.3zM69.8 401.5l.8 .8 .2 1.5 -1.2 -1.4zM86.5 398.2l-.8 .3 -.9 -.3 .7 -.4zM79.7 394.7l0 1.8 -.9 1 -.1 -1.2zM80.7 397.6l.8 1.3 -.3 .8 -.6 -.3zM89 394.3l1 -.5 1.1 .5 -1.4 .4zM96.8 398.5l-.9 .6 -1.1 -.4 1 -.6zM109.9 399l0 1.2 -1.1 .5 .1 -1zM105.6 393.1l-.7 .6 -1.4 -.3 1 -.8zM97 403.3l1.6 1.3 .3 1.1 -1.1 -1zM116.7 402.9l-1 .6 -.9 -.3 .7 -.8zM127.2 398.7l-1.5 .9 -1.5 -.1 1.7 -.8zM139.6 402.8l.3 .6 -.7 1.1 -.2 -1.5zM143.1 404.9l-.8 .7 -1.2 -.1 .8 -.7zM158.4 398.3l-.9 1.4 -1.3 .3 .4 -1.1zM167.7 401.3l-.5 1.1 -1 0 .6 -1zM180.1 403.1l.9 .5 0 .8 -.9 -.3zM173.5 398.2l1 .2 .5 .9 -1 0zM35.9 411.3l1.3 .3 .7 1 -1.1 -.2zM38.1 413.1l1.9 -.1 1 .9 -1.5 .3zM42.9 409.9l2 -.3 .7 .8 -1.3 .2zM77.9 411.5l1.1 1.5 -.3 .9 -.6 -.6zM92 407.6l.7 1 -.2 .7 -.5 -.3zM98.8 412.9l.5 1.4 -.1 .8 -.5 -.2zM105.6 402.4l1.1 -.3 1.2 1 -1.9 -.1zM96.7 403.8l-.1 .9 -.5 1.3 -.2 -.9zM114.8 408.3l-.2 1.1 -1.9 1.2 1.3 -2.2zM135.3 401.7l1.1 1 0 1.1 -.8 -.7zM127.6 410.8l1.1 .2 1 .8 -1.2 -.1zM140 412l1.7 -.2 1.4 .6 -1.5 .1zM141.7 410.5l.4 .8 -.7 1.5 -.1 -1.9zM137 403.3l1 -.2 1 1.3 -1.9 -.6zM139.4 407.3l1.2 1.1 .6 1.3 -.9 -.7zM152.8 410.4l.9 0 .2 1.2 -.7 -.3zM159.9 413.3l.9 1.1 0 1.1 -.7 -.6zM170.2 408.7l-.7 1.6 -1 .6 .2 -1.2zM161.2 408.8l-.6 1.2 -1 .4 .5 -1.1zM158.1 406.8l.6 .7 -.8 1 -.3 -1.3zM177.1 411.4l-.8 .9 -.8 -.3 .3 -.6zM25.7 411.3l1.7 .4 .3 .9 -1.2 -.3zM30.4 423.3l-.6 .7 -.8 0 .6 -.9zM33.9 411.6l1.2 -.6 .7 .7 -.5 .6zM58.9 418.3l1.3 .5 .2 .9 -.9 -.2zM46.9 421.5l.1 1.4 -.8 .6 -.2 -1.2zM63.3 419.5l-.6 .9 -1.8 0 1.7 -1.3zM79 416.8l.6 -.1 .8 1 -1.1 .1zM89.4 415.8l.5 .8 0 1.5 -.7 -1.3zM84.4 419.9l.7 .8 -.4 1.3 -.5 -1.2zM86.8 412.2l.9 .8 -.1 1.1 -.8 -1.3zM102.8 421.7l.6 .4 .8 1.1 -1.5 -.7zM99.9 412.8l-.9 1 -1.7 -.3 1.6 -1zM118 412.9l1.4 0 1 1.2 -1.7 -.4zM137.1 413l2.2 .6 .7 .7 -1.3 -.1zM129.1 420.5l-1.6 .6 -1.2 -.4 1.1 -.5zM145.1 413.8l.9 0 1 .9 -1.7 -.1zM149 417l1.3 1.1 -.1 1 -.9 -.4zM151.5 413.6l-.4 .6 -1.5 .3 .7 -1.1zM146.3 422.2l1.4 0 1.1 1.1 -1.8 -.4zM27.6 433.4l1.4 1.6 -.1 1.2 -.9 -.8zM38.9 428.9l1.1 -.3 .6 .6 -.9 .3zM37.3 428.5l.5 1.1 -.3 1.8 -.9 -1.8zM38.5 432.3l.7 -.1 .8 .8 -.9 0zM37.9 432.1l.3 1.1 -.4 .7 -.6 -.7zM49.8 420.2l.3 .7 -.5 1.7 -.6 -2zM61 433.9l-1 1.5 -1 .1 .2 -.9zM47.8 432.2l.9 1.1 -.1 1.5 -.9 -.7zM69.3 422.8l1.2 .9 .1 1.1 -.9 -.5zM77.3 422.7l1 -.2 .7 .8 -.6 .5zM69.3 421.6l-1.3 .4 -1.4 -.5 1.6 -.4zM77.3 422.2l1.1 .3 1.1 .9 -1.4 -.2zM80.5 423.6l.3 .9 -.6 .8 -.2 -.7zM79.8 421l-.8 1.3 -1.7 .7 .9 -1.6zM90 429.3l.3 1 -.7 .6 -.3 -.6zM97 421.5l.7 .8 0 1.5 -1 -1.5zM127.7 426.3l2 1 .4 1.1 -.9 0zM130.9 430.1l-.2 1.2 -.7 .2 .3 -1zM139.8 433.3l0 .9 -1.3 .7 .4 -1.3zM141.7 419.8l.4 1.7 -.4 1.4 -.5 -1.8zM158 426l1.4 .6 1.1 1.2 -1.4 -.5zM169.2 423.2l1 .8 -.1 1.4 -1 -1.2zM43.3 435.3l1 .5 .2 1.4 -1.2 -.7zM42.9 442.6l-1 1.9 -1.1 .2 .6 -1.4zM56.9 441.8l2.2 -.2 .9 .5 -1.2 .5zM66.6 439.8l1.4 -.6 .8 .6 -.5 .7zM71.7 441.3l-.9 1.3 -.7 .1 .3 -.7zM90.3 434.4l-1 .8 -1 .1 .5 -.7zM76.6 431l.7 1.1 -.5 1.6 -.6 -2zM83.2 441.1l.3 1.4 -.6 1.1 -.2 -.8zM97.7 436.3l-1.6 .5 -.9 -.3 .8 -.5zM109.1 433l1.1 .2 .9 .9 -1.5 -.3zM108.6 432l1.2 .2 .2 1.1 -1 -.5zM107.3 440.4l.6 0 1.1 .3 -1 .4zM110.2 431.2l0 .6 -.4 1.2 -.3 -.9zM128.6 432.7l.9 .1 .2 1.1 -1.1 -.7zM134 438.8l.9 -.1 .7 .6 -1 .3zM146.3 441.3l1.5 .9 .7 1.1 -1.3 -.7zM155.7 436.2l-.7 1.1 -.7 0 .4 -.7zM160.1 436.9l1 0 .8 .8 -1.1 .2zM178.3 439.1l.2 1.4 -.7 1.2 -.2 -1.2zM34 449.3l.7 .1 .7 1.2 -1.4 -.7zM26.6 449.6l.7 -.1 1.4 .7 -1.5 .2zM37 442.3l1 0 .5 .9 -1.3 -.1zM48 442.4l.6 -.5 1 .4 -1.1 .3zM58.6 452.8l1.2 .5 .1 .8 -.6 -.2zM64.7 445l1 .5 1 1.1 -1.7 -.6zM71.6 448.6l.6 .7 .4 1.4 -1.1 -1.1zM99 447.1l1.3 .2 .5 .7 -.8 .1zM99.3 440.3l1.7 .4 .7 1.2 -1 -.3zM99.2 447.7l.6 .7 .2 .8 -.5 -.1zM121.3 442.9l-1 .8 -1.5 -.3 1.2 -.6zM122.1 446.9l1.1 -.1 .6 .9 -1.5 0zM138.1 451.1l1 -.4 1.1 1.1 -2 -.1zM141.4 451.1l-.8 .9 -1.9 .3 1.3 -1zM142.6 452.3l.5 1.2 -.6 1.9 -.1 -2.3zM148.3 453.4l.2 1.1 -.5 .9 -.4 -1zM153 444.3l.5 .6 -.4 1.1 -.6 -.9zM154.4 447.9l-.8 1.1 -1.5 .7 1.3 -1.5zM178.9 441.5l.7 1.7 -.1 1.2 -.6 -1.2zM179.2 452.9l1.4 -.1 .7 .7 -1.3 .2zM37.6 459.2l-.6 1.5 -.7 .5 .2 -1zM37.4 457.5l-1.1 .4 -1.4 -.4 1.4 -.6zM43.4 458.2l1.6 .5 .3 .8 -1 -.2zM46.5 463.8l-1.9 1 -1 -.2 1.1 -.9zM54.6 451.9l0 .8 -.8 .9 -.1 -1.4zM58.7 449.7l1 .7 .6 1.3 -1.5 -1.1zM55 456.1l1.7 -.2 .8 .7 -1 .3zM70.5 460.3l0 1 -1.4 1.1 .6 -1.5zM79.4 455.3l-.4 1.1 -.9 -.2 .4 -1zM90.2 450l.5 1 -.5 1.4 -.4 -1.1zM82.7 461.8l1.2 .8 .9 1.3 -1.6 -1zM87.7 454.7l.7 -.4 1 .7 -1.4 .2zM97.1 456.4l1.3 .6 .6 1.2 -1.1 -.5zM111.6 454l-1.3 .1 -1.6 -.4 1.3 -.4zM99.8 454.7l1.8 0 .7 .8 -1.1 .4zM109.3 450l-.8 1.2 -1.3 .1 .7 -1zM109.7 450.5l-.7 1.1 -1.6 .3 1 -.9zM120.9 451l.9 1.1 -.2 1 -.9 -.5zM123.9 451.3l.7 1.5 -.4 1.2 -.5 -1.3zM149.9 452.1l1.2 1.8 .2 1 -.8 -.7zM150.1 461.2l.1 1.6 -.9 1.4 -.2 -1.5zM167.5 459.3l-.4 1 -.9 0 .5 -.8zM179.3 457.8l0 1.2 -.8 1.3 .2 -1.8zM37 463.1l.8 1.5 -.4 1.5 -.8 -1.4zM46.9 467.9l-.5 .6 -1.5 .4 .8 -.8zM49.3 466.1l-.6 .8 -1.3 .1 1.3 -1zM53 461.3l-.1 .9 -1.1 .1 .4 -.7zM57.8 462.5l-1.4 .9 -1.6 0 1.3 -1.1zM59.4 468.5l-.3 .6 -1.4 .5 .6 -1zM88.4 462.5l.5 1.2 -.6 .6 -.4 -.8zM88.1 467.4l-1.5 .6 -1.2 -.2 .9 -.6zM88.6 465.1l1 .8 -.2 1 -.9 -.4zM94.2 466.3l1.2 -.2 1.4 1.2 -1.5 -.1zM94.8 470.7l1.8 -.4 1 .6 -1.5 .3zM91.3 465.8l0 1.2 -.7 .7 0 -1zM100.4 472.7l-1.4 .8 -1 -.3 1.4 -.5zM103.2 461.4l-.9 .7 -1.4 .3 1.1 -1zM107.2 459l1.1 1.4 0 1.3 -1 -1.5zM120.6 466.3l.2 1.2 -.5 1.3 -.1 -1.6zM129 471.1l.7 .3 .4 1.2 -1.5 -.8zM157 473.1l1.5 .3 .9 .6 -.9 .1zM167.9 467.8l.8 .5 .1 1 -1.2 -.8zM163.1 466l1.5 -.5 1.6 .8 -1.8 .2zM165.6 464.6l.2 1.7 -.8 1.1 -.1 -1.4zM174.7 460.6l1 1.4 .1 1 -.8 -.7zM175.7 469.9l.2 1.8 -.8 1 -.4 -1zM174.2 469.1l1 .2 1 1.2 -1.5 -.6zM180.5 465.4l-1.2 .7 -1.3 -.4 .9 -.7zM40.1 476.6l.4 1.4 -.8 1.2 -.4 -1.1zM38.3 476l1.5 -.5 .9 .5 -1.3 .2zM44.1 479.6l-.5 .5 -1.5 0 .8 -.8zM49.4 473.1l1.1 1 .2 1 -.9 -.7zM64.5 480.5l1.1 .1 1.2 1.4 -2 -.9zM73.1 478.4l1.3 -.6 1.2 .7 -1 .5zM68.1 481.3l.5 1 -.8 1 -.4 -1.1zM94.4 470.2l.1 1.3 -.9 1.3 0 -1.2zM92.1 479.7l-.1 1.3 -.9 .6 .3 -1.5zM105.1 482.5l.3 1.2 -.6 .6 -.5 -.5zM114.5 473.5l1 .6 -.1 .8 -.8 0zM108.3 469.2l-.9 1.8 -.8 .4 .6 -1.3zM123 471.9l2 -.4 1.1 .6 -.9 .3zM132.1 481.9l1.2 0 1 .7 -1.1 .3zM134.5 480.8l1.7 .3 .7 .6 -1 0zM128.8 477.8l1.8 .2 .9 1 -1.6 -.2zM138.3 477.9l-1.7 .5 -.8 -.3 .5 -.5zM153.2 481.6l.9 .1 .7 1.5 -1.1 -.6zM158.1 478.4l1.6 -.5 1.3 .7 -1.7 .3zM155.3 479.4l.8 1 0 1.2 -.9 -.9zM168.4 469.5l-.5 .9 -1.7 .4 1.1 -1.3zM169.1 473.2l-.3 1.7 -.9 .5 .2 -1.3zM177.1 473.3l0 1 -1.2 .3 .4 -1.3zM34.3 492.7l-.4 .8 -1.2 -.5 1.1 -.6zM31.9 478.6l.6 .9 -.3 2.1 -.6 -1.9zM31.4 479.1l1 .9 -.2 1.2 -.9 -1zM32.2 484.6l1.1 1 -.1 1 -.9 -.5zM40.4 481.5l-1.3 .8 -.7 -.6 .6 -.6zM42.3 492.6l1.2 .8 .4 .9 -.9 -.3zM48.3 482.3l1.4 .3 .7 1.2 -1.2 -.4zM71 481.3l-.5 .8 -1.1 .3 .4 -.9zM71.3 488.1l-.6 1.1 -.7 -.2 .5 -1zM79.3 483.4l.8 .7 0 1.6 -1.2 -1.3zM80.6 481.1l-.5 .4 -1.1 -.1 .8 -.6zM98.7 486.4l1 -.4 1.3 .7 -1.7 .1zM103.8 479.5l-.2 1 -1.4 1.1 .7 -1.8zM109.7 482.4l-.9 .7 -1 -.1 .6 -.6zM115.1 488.1l.5 1 -.1 1.8 -.7 -1.8zM110.1 479.6l.8 1 -.1 1.7 -.8 -1.7zM117.4 483.1l-.6 1.3 -.9 .1 .1 -1.1zM116.5 484.9l.9 -.2 .5 1.1 -.8 -.1zM118.2 485.6l1.7 -.2 1.3 .8 -1.9 .3zM135.9 484.8l1.5 -.3 .8 .5 -1.2 .4zM167.9 485.9l.3 1.4 -.4 .4 -.4 -.4zM179.1 483.7l-1.1 1 -1.6 -.1 1.2 -1z" fill="#8072da"/>
</g></g>
<clipPath id="mc4"><rect x="184.8" y="384.1" width="150.5" height="107.4"/></clipPath>
<g clip-path="url(#mc4)"><g filter="url(#mblur)">
<rect x="182.8" y="382.1" width="154.5" height="111.4" fill="#c1c5b3"/>
<rect x="182.8" y="382.1" width="154.5" height="111.4" fill="url(#spk)"/>
<path filter="url(#halo)" d="M187.9 393.3l1.6 -1.1 3.5 1.6 -3.7 1.2zM184.7 386.4l4 .2 2.8 2.4 -4.3 .3zM199.4 382.1l-1.9 2.2 -3.9 -.5 3.9 -3zM190.5 379.3l-.2 5.2 -2.8 1.5 -.7 -3.1zM192.5 391.4l-1.5 1.9 -5.1 1.2 3.9 -4.1zM200 383.7l-.7 2 -3.7 .3 3 -3.4zM202.5 388.6l3.4 .2 1 3.6 -3.6 -1zM208.5 384.8l-1.6 2.5 -2.8 -.7 1.8 -2.6zM202.9 394.7l-1.3 1.5 -3.5 -.9 2.6 -1.9zM211 390.8l1.6 2.5 -2.3 2.9 -1.3 -4.3zM204.8 387.2l3.2 3.2 -.2 2.7 -2 -.4zM216.3 383.8l0 3.9 -4.4 3.2 .9 -5zM204.1 382.5l1.9 2 -.6 2.4 -2.1 -2.2zM211.3 388.8l2.9 2.5 -.4 2.8 -2.3 -.4zM228.9 383.5l-1.8 2.4 -4.3 -.9 3.5 -3.4zM223.3 388.7l1.9 2.2 -1.1 2.9 -1.6 -2.1zM214.9 386.3l3.9 1.1 2.3 3.6 -4.5 -1.5zM224 390.4l.3 2.9 -2.7 2.3 -.1 -2.8zM224.7 387.9l-.6 4 -3 .4 .9 -3.5zM234.2 380.8l2.8 1.7 .9 3.2 -2.2 -.7zM242.9 394.6l-1.4 1.4 -4.3 .1 4.1 -3.1zM235.6 389.4l.6 4.7 -2.5 2.6 -1.2 -2.7zM246.5 392.3l.5 2.6 -1.9 3.9 -.7 -4.6zM237.2 383.3l2.2 -2.2 4.4 2.1 -4.9 1.6zM250.2 384.7l0 2.7 -2.3 1.4 -.1 -3.5zM250.5 393l3.8 1.9 -.4 2.7 -2.5 -.1zM243.6 392.8l3.5 .2 2.1 4.5 -4.4 -2.4zM258.5 390.3l-2.2 2.8 -5.4 -.4 4.9 -3zM245.7 388.6l4.1 -.8 1.9 1.4 -3.2 1zM262.3 384.9l4.6 1.2 2.6 2.8 -3.3 -.4zM260.2 385.1l-3 .8 -4.1 -1.7 4.7 -1.6zM261.2 381.4l-1 3.5 -2.8 .7 .1 -2.6zM260.9 383.9l2.7 2.1 1.5 4.5 -3.5 -3zM261.1 390.4l-3.3 2.6 -4.4 .7 2.6 -2.8zM264.4 383.2l2.1 -1.2 2.6 2.1 -3.4 1.6zM266.5 383.3l-1.9 2 -4.1 -1.4 2.6 -2.4zM266 380.2l-.3 4 -3.1 1.1 -.7 -2.8zM263.1 388.2l2.9 .1 1.5 3.7 -3.6 -1.4zM274.2 389.9l-2.8 4.8 -3.4 .9 1.5 -3.5zM284.8 383l1.1 2.4 -3.1 1.9 -.4 -3.7zM277.5 382.8l1.7 2.6 -2.8 2.5 -.5 -4.3zM284.1 381.6l2.4 1.1 -.9 3.6 -3.1 -3zM279.5 390.7l4.9 1 1.7 2.8 -2.8 -.1zM283.4 390.1l2.3 -1.9 2.7 2.1 -2.2 2zM279.6 384.1l3.2 4.1 -.6 3.6 -2.3 -1.3zM290.4 385.7l.5 2.9 -3.7 1.5 .8 -3.9zM296.6 393.2l-3.1 3.5 -4.7 -.1 3 -3.1zM297.6 387.4l-1.2 3 -2.1 .5 -.3 -1.6zM286.5 390.3l-1.6 3.4 -2.4 -.7 -.4 -2.2zM287.1 384.8l-1.1 4 -3.7 0 .7 -3.1zM293 390.3l1.9 -1.4 3.8 1.5 -3.5 1.1zM299.6 392.4l4.2 .7 .5 2.5 -2 .8zM299.9 389.3l.7 3.6 -2.5 2.9 .2 -4zM307 384.3l-1.2 2.7 -5.2 .5 3.7 -3.7zM304.1 391.5l-1.7 3.5 -4.2 .4 2.9 -3.8zM314.7 389.5l-4 2.1 -3.9 -1.8 3.1 -2.5zM312.2 385.1l.2 2.7 -3.1 1.8 0 -3.2zM308.5 381.7l1.5 2.6 -1.1 3 -1.3 -2.8zM308 389.6l-.8 2.9 -4.5 .2 3.5 -4.1zM316.5 388.2l-2 1.8 -4.7 -.2 3.5 -2zM313.3 386.1l2.7 -1.4 1.9 1.9 -1 1.8zM324.7 387.1l.9 3 -3.9 2.3 1.2 -4.9zM316.5 393l-1.7 3.7 -2.9 0 -.3 -2.6zM316.9 391.3l4.1 -.7 1.5 1.8 -2.8 1zM323.4 393.7l-2.5 1 -4.7 -.3 3.4 -1.9zM330.1 387.2l4.9 -1 2.1 2.9 -2.8 1.3zM329 392.6l3.4 .3 1.2 2.1 -2.9 -.1zM334.2 383.6l-.8 4.7 -3.7 2.3 .1 -4.1zM327.4 394.9l4.8 -.7 1.8 2.1 -2.2 1.2zM336 391.4l2 5.7 -1.6 2.5 -2.1 -3.1zM188.3 391.3l-.3 2.9 -2.5 2.6 -.3 -2.6zM190.6 393l-3.1 2.8 -2.5 -1.7 1.5 -2.4zM183.2 403.1l2.4 -.2 2.3 3.1 -4 -.2zM190.4 391.8l-4 2.8 -2.4 -.9 1.8 -2.5zM196.8 391.3l.2 3.4 -2 2.3 -.8 -3.6zM201.4 399l3.4 3.6 -.9 3 -2.5 -2.6zM201 394.2l2 4.3 -2.1 3.3 -2.2 -4.4zM207.7 397.1l-2.4 1.2 -5.5 -.7 4.3 -1.7zM197 401.1l3.8 1.5 -.7 2.6 -2.7 -.9zM217.6 398.8l-3.5 2.7 -4.9 -1.6 4.3 -2.2zM203.6 392.9l2.9 2 -.6 3.6 -2.7 -1.7zM205.3 395.9l3.4 .5 2.3 3.8 -3.8 -1.1zM212.1 391.3l3.6 -.9 3.8 3.4 -5.5 .5zM216 392.2l2.3 3.3 -1.4 3.5 -1.9 -4zM236 397.8l2 3.2 -1.4 3.1 -2.2 -2.8zM232.5 399l-1.2 3.3 -3.1 .6 1.2 -2.7zM229.5 400.9l-1.5 3.1 -3.2 0 0 -2.4zM227.5 400.9l2.7 1.8 .4 3.4 -3.5 -2.2zM237.1 399.2l.3 4.3 -2.9 3.1 -.2 -4.8zM240 400.9l3.6 2 .1 3.1 -3.1 -1.9zM236.5 396.8l3.8 .9 2.9 4 -4.2 -.6zM236.3 394.4l3.4 -.3 1.1 3.2 -2.9 .4zM252.8 396.4l0 3.7 -4.1 .5 1 -3.6zM247.1 402.3l3.1 -1.2 2.2 2.6 -4.3 .3zM255 391.7l2.4 .1 1.7 3.5 -3.8 -1.6zM254.5 403.3l3.2 -1 1.2 2.6 -1.9 1.5zM249 396.5l-1.5 3.7 -3 1.1 .8 -3zM253 390l4.2 1.3 .2 3.1 -2.7 .3zM250 392.9l3.2 .9 3.2 4.3 -4.4 -2zM258.9 400.4l6 -.7 2.4 1.7 -2.8 1.2zM250.7 399l2.6 -1.7 2.1 1.6 -2.8 1.7zM257.6 393.2l-2.4 3.4 -2.8 -.5 1.2 -2.5zM266.4 402.3l3.2 -1.8 1.7 2.5 -2 1.8zM275.6 403.1l-2.3 1.8 -5.7 -1.2 6 -2.7zM269.1 398.6l3 2.9 -1 5 -2.5 -3.8zM276.5 391.8l-2.7 3.2 -2.7 .3 1.7 -2.5zM273 401.8l4.5 .8 .8 2.4 -3.1 .2zM276.1 390.6l-1.7 3.5 -2.8 .2 1.4 -3.2zM281.4 400.5l2.8 .6 .4 3.1 -2.5 .3zM282.3 392.6l-2.3 2 -2.5 -.4 .7 -1.5zM281.9 390.6l-.6 3.9 -3.3 2.1 -.4 -3.2zM280.8 402.8l3.6 1.1 .4 2.3 -3 -.5zM298.7 401.6l-1.2 2.5 -3.7 -1.1 2.1 -2.8zM285.6 392.2l3 .2 4.1 4.4 -5.6 -1.4zM291.9 390.8l1.4 3.2 -2.2 4.3 -1.7 -4.8zM291.6 389.4l2.6 1.9 -.1 5.8 -3.4 -5.2zM291.1 402.3l1.7 3.2 -2.4 1.6 -1.8 -1.4zM296.5 397.6l4.3 -1.4 4.1 1.8 -4.2 .9zM297.3 391.3l.8 2.9 -1.8 2.4 -1 -2.4zM295.7 402l2.6 -.1 2.7 3.7 -4.9 -1.3zM297.2 400.9l3.8 2.5 -1 2.4 -2.8 -1.2zM298.4 393.4l.5 3.4 -1.8 1.3 -1.3 -1.9zM300.6 392.5l3.5 1.1 .9 5.3 -4.7 -3.2zM314.5 399.3l-1.3 2.6 -4.1 1.1 2.1 -3.5zM308.2 395.6l3.9 -.5 .8 3.2 -3.4 .2zM306.5 396.1l4.4 -1.7 2.4 1.2 -2.6 1.3zM304.8 399.6l2.4 3.3 -1.8 3 -2.5 -2.4zM308.2 399.9l-3.9 1.4 -3 -1.8 3.4 -1.9zM322.9 393.8l2.9 2.1 -.9 2.3 -2.9 -1zM322.2 397.2l.5 2.9 -2.2 1.6 -.5 -3zM315.7 392.7l2.6 1.7 -1 2.7 -2.6 -.3zM316.5 394.6l3.8 -1.3 4.7 2.4 -4.1 1.5zM316.4 393.2l-.1 4.7 -2.8 1.4 .4 -4zM317.7 398.9l3.2 1.7 -.1 1.8 -2.5 -1zM336.4 392.1l-3.4 2.4 -1.9 -2 1.8 -2.3zM324.9 401.4l-.8 3.5 -2.7 0 .4 -2.6zM321.8 394.3l3.4 .6 .6 4.5 -4.3 -2.4zM335 395.8l.8 2.1 -1.3 3.1 -1.4 -3.7zM329 399.4l-2.8 3.4 -4.3 0 2.4 -3.9zM189.5 404.9l.6 3.4 -2.9 2.3 -.5 -2.8zM183.2 405.5l2.4 3.6 -1.4 2.9 -2.3 -2.4zM208.3 408.9l-4.1 3.5 -2.8 -.1 1.5 -2.7zM209.7 411.3l-2.7 2.4 -5.2 -1 4 -2zM202.5 408.7l1.1 3.1 -1.2 2.5 -1.3 -2.5zM208.8 404.4l-3.5 1.7 -2.3 -1.2 2.4 -1.9zM208.8 407.8l2.8 .6 1.5 3.2 -3.4 -.7zM217.1 403.5l-3.2 2.1 -2.6 -1.6 1.7 -2.1zM219.6 409.8l3.3 2.5 -1.2 2.8 -2.5 -1.3zM224.5 410.9l2.7 -1.2 1.9 2 -2.1 1zM234.2 407.2l2.6 2 .2 4.6 -2.7 -3.2zM229.7 410l3.7 .7 1.6 3.2 -3.7 -.3zM246.1 413.2l-3.3 3.9 -3.9 -.8 1.5 -2.9zM242.9 409l2.9 1 .8 2.9 -2.8 -1.1zM249.4 408.6l3.4 .5 .5 3.5 -4.2 -1.7zM242.1 402.5l2.7 .6 2.1 2.6 -2.4 .2zM242.3 412.5l3.3 -1 3.4 2.6 -4 .1zM255.2 405.9l-2.2 3.4 -4 1 3.2 -3.9zM246.9 412.3l2.9 -2.1 3.8 2.5 -3.4 1.8zM268.6 402.3l-2.8 2 -4.8 -1.7 3.6 -1.9zM262.7 410.6l-1.6 3 -3.1 -.9 .7 -2.3zM254.1 400.1l2.9 2.1 -.7 3.2 -2.7 -2.4zM265.2 398.8l2.2 1.9 -.1 5.1 -3.4 -4.9zM257.4 413.3l4.1 1.1 .6 3.3 -3.3 -.9zM270.7 410.7l2.7 .8 1.8 2.9 -2.9 -.2zM268.9 409l2.2 -.5 3 2.5 -3.7 0zM271 400.9l2.1 .4 1.5 3.2 -2.8 -.2zM272.6 409.2l1.4 3.1 -1.9 3.3 -1.2 -4.3zM264.3 408.3l2.6 -.1 4.5 2.9 -4.6 -.2zM282.6 408.4l4.3 2.6 .8 3.2 -3.3 -1.5zM274.3 410l2.5 3.1 -1.4 1.5 -1.8 -2.1zM282.1 406.9l2.1 4.2 -.6 3.9 -2.4 -3.3zM288.1 409.6l-.6 3.2 -2.1 .7 .3 -2.5zM280 406.5l-1.1 3.1 -5.7 1.8 3.5 -5.5zM281.3 409.9l-2.6 1.5 -4.2 -1.1 3.4 -1.9zM292 412.1l-1.4 3 -3.1 -.4 1.6 -2.5zM293 410.9l-2.2 4.6 -2.9 .7 .7 -2.7zM282.7 409.3l3.3 1.1 .7 3.8 -4.2 -1.3zM293.2 410.2l3.6 -1 2.2 2.8 -2.7 1.4zM283 405.7l2.9 -2.2 2.4 2 -1.8 1.8zM292.6 407.7l4.4 -1.2 3.9 2.5 -3.5 1.5zM299.8 409.5l-.4 5.3 -3.4 1.2 -.4 -3.3zM305.1 405.7l4.1 4.1 -.4 3.5 -3.4 -2.5zM299.5 408l2.7 1.8 0 3.7 -3 -1.5zM301.6 402.1l2.8 -.8 2 1.7 -1.7 1.1zM295 411.5l2.9 .3 1.6 4.7 -5.1 -2.3zM301 401.5l1.1 3.7 -1.7 1.6 -1.3 -1.5zM314.9 410.2l2.3 2.8 -.3 4.1 -2.7 -2.5zM306.9 413.7l3.2 -1 2 2.3 -2.9 1.4zM318.8 401.1l-3.7 3 -2.6 -.6 2.3 -2zM309 407l3.1 -1.1 4.2 3.7 -5.3 -.2zM309 408.1l1 3.3 -1.5 3.2 -1.1 -2.7zM303.8 406.1l3.6 -.5 4.2 2.1 -4.3 .4zM312 401.1l3.8 3.1 .4 3.9 -3.5 -1.7zM320.4 402.5l2.2 1.3 -.2 3.8 -3.3 -3.4zM312.2 400.5l4.3 .8 1.8 4 -3.9 -.9zM318 405.4l4.8 1 1.2 2.3 -3.3 .2zM321 399.6l2.1 2.1 -.1 3.4 -2.4 -1.7zM329.4 408.2l2.3 1.6 -.5 2.9 -2.2 -1zM332.8 402.1l4.3 1.9 0 3.3 -2.5 .4zM330.7 405.9l3.7 -.9 1.7 1.6 -2.6 1.5zM326.4 400.5l-2.7 3.9 -3 -.5 1.4 -3.1zM324.2 402.3l2.1 3.6 -1.1 2.4 -1.5 -1.2zM193.3 412.2l1.5 2.7 -2.6 2.9 -1.1 -3.5zM187.8 416l1.1 3.4 -3.2 3.7 0 -5.5zM186.6 420.9l3.4 -1.9 1.5 2.1 -1.8 2.1zM192.4 416.2l.7 3.6 -1.6 1.3 -.7 -2.1zM205.3 410.4l2 2.5 -.4 5.6 -2 -5zM201.7 410.9l-.4 1.8 -3.2 1.6 1.1 -3.2zM196.8 415.5l3.6 3.7 -1 3.4 -3.1 -2.6zM200.9 417l-1.6 2.4 -4.5 -.5 2.8 -2.8zM207.9 412l-1.2 3.8 -3.3 1.1 1.4 -3.8zM202.7 412.9l3.2 1.1 .4 3.2 -3.6 -1.7zM205.7 420l1.6 4.3 -2.5 1.9 -1.4 -3.1zM209.7 416.8l1.9 3.6 -1.5 3.4 -1.2 -4.4zM215.4 415.8l4.8 -.5 2.4 1.9 -2.7 .9zM223.6 421.2l-1.2 3.3 -3.1 -.8 2.2 -3.4zM230.5 419.2l-2.4 3.5 -4.5 -.1 2.9 -3.4zM234.9 412.6l2.8 -.1 1.4 2.5 -3.2 -.6zM245.6 412l1.8 1.8 -1.3 3.4 -1.3 -2.7zM249.3 420.6l2.5 -.1 1.2 2.7 -2.4 -.1zM252.5 413.9l4 -1.5 2.2 1.9 -3.4 1.4zM264.6 418.6l2.7 1.4 1.7 4.1 -3.9 -2.6zM261.1 409.2l2.9 3 -.7 2.2 -1.7 -.7zM260.9 421l2.6 1.2 -.6 3.3 -3.4 -1.9zM266.6 414.2l-.8 3.6 -4.6 2.6 2.6 -5.5zM269 423.6l3.8 -1.9 2.7 1.4 -3.3 1.8zM264.9 414.1l0 3.9 -3.1 1.6 -.2 -3.7zM268.5 415.9l2.6 1.4 2.3 4.1 -3.5 -1.7zM267 421.9l-.9 2.2 -4.2 2 2.7 -4.3zM271.9 416.3l-.2 3.2 -3.7 1.9 1.2 -4.4zM287.1 422l-.6 3.8 -4.2 1 1.8 -4.5zM273.5 411.7l1.5 3.5 -1.9 2.8 -1.1 -2.5zM280.2 420.6l2.9 -1.1 2.5 2.5 -3 1.7zM282.7 414.4l-.5 2.7 -3.7 2.3 1.4 -3.4zM282.6 413.9l.5 4.3 -1.4 2.1 -1.4 -1.6zM282.2 415.1l-2.5 3.8 -2.5 .5 1.1 -2.9zM287.1 421.1l-1.3 3.5 -4.5 -.3 1.6 -3.1zM288.8 414l4.3 .1 3.8 2.2 -4 .4zM285.6 412.1l3.6 1.6 .7 4.7 -3.5 -2zM294.1 412.3l2.2 1.6 -1.5 3.7 -2.5 -1.7zM282.2 413.3l3.3 -1 4.4 3.2 -6.3 -.3zM286.2 415l2.4 -.1 3.4 3.9 -4.7 -.7zM296.1 422.8l3.9 -.8 .9 2.4 -2.1 1.7zM299.2 409.2l.7 5.8 -2.2 2.3 -1.3 -3.5zM293.9 409.4l2.9 3 -1 2.6 -3 -2.1zM300 412.2l.3 3.7 -2.3 3.3 -.9 -4.1zM298.3 409.2l2 2.3 .1 3.5 -2.4 -1.8zM318.8 420l-1.6 2.7 -4 -.7 2.3 -3.3zM314.2 420.8l3.4 0 2 2.8 -4 -1zM308.3 411l1.2 2.4 -1.5 3.1 -1.3 -2.5zM305.3 413.3l3.1 1.1 -.6 3.7 -2.8 -2.2zM306.6 410.2l5.2 .9 2 2.2 -2 .6zM320.4 420.8l1.6 1.5 -.9 3.2 -2 -2.5zM316.2 412.9l1.1 4.5 -1.9 2.2 -1.4 -1.8zM327.3 418l-2.6 2.1 -3.4 .1 3 -2.8zM317 416.4l3.2 1.9 -.3 2.3 -2.2 -.2zM313.2 413.5l3.1 .7 1 4.5 -4.6 -2.2zM336.1 411l-1 4.1 -4.1 1.4 1 -3.8zM333.7 417.4l-.5 3 -3.5 3.2 .5 -3.8zM324 417.2l2.2 2.4 .2 5.3 -2.6 -4.9zM328.2 417.6l4.6 2.1 -.3 2.7 -2.9 0zM335.9 409.1l2.2 3 -2.1 2.8 -2.2 -3.7zM190.5 428.8l-3.3 3.5 -3.7 .8 2.9 -3.3zM181.7 425.7l3.1 -2.5 4.9 1.8 -4 2.3zM193.5 420.7l3.1 .3 3.5 4.1 -5.5 -1.5zM187.1 421.4l-3.3 1.7 -3.2 -1.8 3.8 -2zM194.3 424.7l-1.8 4.8 -3.9 .6 .9 -3.6zM187.9 427.1l.9 3.8 -2.1 1.7 -1.3 -1.5zM199.5 429l5.8 -1.1 2.5 2.4 -3.4 1.2zM196.2 430.2l2.6 -.4 2.6 3.4 -4.9 -1.2zM197.8 431l3.9 -.3 2.9 2.6 -3.5 .8zM190.5 422.3l4.3 .3 1.4 3.7 -3.5 -.3zM201.8 431.8l2.8 -1.2 2.1 2.2 -2.7 .7zM207.8 434.8l-3.9 1.9 -3.7 -1.7 3.2 -2.3zM214.5 426.5l-1.6 3.7 -2.8 -.7 -.3 -2.4zM205.5 421.8l3.1 .4 .6 3.1 -3.2 -.6zM208.7 425.3l2.3 2 1.3 4.1 -3.5 -3zM214.2 428.8l-.4 3.2 -2.7 .2 .7 -3zM203.7 422.2l4.2 2.6 .7 3.3 -2.9 -1.1zM213.5 421.5l2.3 -1 3.8 2.4 -3.9 1.1zM215.3 420.9l3.5 0 .4 2.7 -3.3 .7zM226.7 428.4l-1.4 1.9 -3.5 -.1 2.5 -2.2zM212.5 431.4l2.1 2.6 -.9 2 -1.6 -1.1zM228.9 420.9l.4 3.1 -2.1 1.7 -1 -1.8zM228.3 423l-1.8 3.8 -3.9 .5 1 -3.5zM223 420.3l1.9 .9 1.1 3.4 -2.5 -1.1zM238.6 429.5l4.4 -.6 1.5 2.2 -2.7 1.2zM239.1 429.3l2.9 .5 .3 4 -3.3 -1.5zM237.7 422.1l2.7 0 2.2 4.3 -4 -.4zM254.7 430l3.5 1.4 1.1 2.7 -2.5 -.7zM248.9 424.4l-2.8 3.3 -3.4 -.3 1 -2.8zM255.2 428.2l-1.8 3.2 -4.9 .4 2.7 -3.5zM256.6 421.6l-.2 2.8 -3.2 1.1 .7 -3.3zM255.4 426.9l-1.8 2.4 -5.8 .6 4.8 -4.4zM252.6 420l2.5 2.1 -.7 4.4 -3.4 -4zM263.8 428l.4 4.2 -3.2 2.2 -.5 -3.8zM259.1 427.1l.6 4 -1.8 1.7 -.7 -2.5zM254.7 424.5l1.2 3.5 -1.9 3.3 -1.1 -3.1zM261.5 422.7l-2.4 .9 -2.7 -1.1 1.7 -1.4zM265.4 429.8l3.2 -.8 2.6 3.4 -3.8 0zM273 421.3l2.2 -1.1 2.3 2.4 -2.5 .8zM268.6 428.6l4.2 1.2 -.5 2.7 -2.6 -.2zM270.7 433.6l3.7 -2.1 3 1.4 -2.4 1.6zM269.3 420.6l1.8 1.7 .2 3.3 -2.1 -1.4zM274 417.9l2.9 1.9 1.8 4.9 -4.4 -3.6zM282.6 419.5l-.2 3.2 -4.9 1.1 2.9 -4.4zM281.9 419.8l.9 4.3 -2.4 1.2 -1.6 -1.9zM271.6 428.4l4 3 .3 4.2 -3.4 -1.4zM283.1 427.5l5.3 -1.4 1.9 2.2 -2.7 2zM299 426.7l-1.2 4.7 -3.1 1.2 -.5 -2.6zM285.1 427.8l.7 3.1 -1.6 2.7 -.9 -2.2zM286.6 418.8l1.3 4.3 -2 2.1 -1.3 -2.1zM282 418.4l3.1 4.2 -.8 2.5 -2 -1.3zM294.5 428.6l3.8 2.4 1.3 3.3 -2.8 -.8zM305.1 421.9l-.9 3.2 -4.7 .7 2.7 -4.2zM298.8 421.9l-3.7 2.4 -2.3 -2 2.1 -1.8zM290.8 427.3l2.8 -.2 2.9 3.1 -4.6 -.9zM302.8 418.8l.4 3.5 -3.3 1.8 -.4 -4zM305.6 421.6l4.5 1.1 .9 3.9 -4.1 -.9zM304.9 421.7l3.4 .8 2.2 3.9 -3.7 -.8zM314.9 423.2l.8 3.5 -3.5 2.6 .4 -5zM307.3 430.7l1.1 2.5 -3 2.5 .1 -4.5zM316.5 430l-1.9 1.7 -4 -1.1 3.5 -2.8zM321.7 420.8l3.8 -1.2 3.3 2.5 -4 .7zM315 428.9l2.3 2.9 -2.5 4.3 -1.8 -4.3zM325.3 423.2l-1 2.9 -2.8 2.1 .4 -2.9zM322.8 429.5l.2 4.4 -2.9 1.8 -.3 -3zM331.2 425.6l-1.8 2.5 -4 .7 3.1 -3.5zM333.7 419l2 3.5 -1.3 4 -2 -3.8zM328.2 429.9l-1.1 2 -4.2 1.4 3.5 -3.9zM329.2 428l5.4 -1.1 2.6 2.3 -3.1 1.8zM338.9 421.1l-1.8 3.5 -3.6 .6 2.4 -3.3zM183.4 432.3l4 -.4 2.5 2.3 -3.8 1zM194.2 434.8l1.8 1.6 -.2 4 -2.9 -3.2zM195.9 435.2l3 3 -.6 4.3 -3.5 -3.2zM188.8 442.8l-2.1 2.5 -2 -.2 -.4 -1.2zM188.3 430.9l-1.6 2.4 -3.7 -.5 2.2 -2.7zM183 433.6l4 .8 1 2.3 -2.3 .5zM203.3 429.5l1.1 5.3 -2.2 2.9 -1.5 -2.2zM205.7 440.7l-3.7 2.1 -2.2 -1 1.9 -1.4zM201.1 429.5l3.2 1.9 .4 3.1 -2.1 -.5zM189.9 429l4 .2 3.3 3.8 -5.9 -.5zM208.3 436.1l-1.6 4.4 -2.5 .8 -.3 -2.4zM190 430.7l4 -.3 4.2 2.3 -4.3 .3zM205.9 429.6l.5 2.6 -3.2 2.1 -.3 -3.2zM210 441.3l3.5 1.8 1.9 4.6 -3.8 -2.2zM215.7 439.6l-2.2 3.6 -5.2 -.1 3.8 -3.7zM211.8 437l-3.3 3.5 -2.3 -.2 .8 -1.9zM201 437.7l2.3 -1.8 2.4 2.5 -4.2 .6zM211.4 435.8l2.5 2.7 .4 4.1 -3.4 -3.6zM226.3 427.8l2.1 2.6 -1.4 4.4 -2.1 -3.5zM219.5 430.3l.3 2.8 -3 5.2 .2 -6.3zM224.1 433.7l-.6 3.7 -2.9 .5 .5 -3.3zM211.4 435.1l2.9 -1.6 2.7 3.5 -4.7 .4zM216.9 429.7l.8 2.6 -2.2 4.5 -.9 -4.3zM228.7 430.4l3.7 -.7 3.3 4.2 -6 -1.2zM230 434.1l2.5 1.7 -1.8 3.6 -2.5 -2.9zM235.9 439.6l-3 3.9 -4.5 0 3 -3.8zM230.4 431.1l-2 3.8 -4.4 .8 2 -3.6zM222.3 439.6l4.1 1.2 1.4 3 -3.2 -.8zM236.2 436.9l1.6 1.6 1 5.2 -3.1 -3.2zM240.6 440.8l-2 3.9 -2.7 .5 .6 -2.7zM241.5 431.9l4.1 -1.4 3 2.7 -3.7 1.1zM245.8 437.9l-2.1 3.4 -3 .4 1.1 -2.1zM244.1 435.2l4.5 3.6 -.6 3.2 -2.6 -.2zM250.1 440.8l-2.5 4.1 -3 .8 .8 -2.5zM255.6 429.7l-.9 3.4 -4.9 2.2 2.9 -4.8zM251.9 428.7l2.2 2.8 -2.7 4.2 -1.1 -5.8zM248.9 440.6l-.5 2.7 -2.7 1.1 1.4 -3.5zM248.9 429.3l-1.1 4.8 -3.1 1.7 .4 -4.5zM255 431.1l4.4 -.7 1.4 1.8 -2.5 1.3zM269.3 442.1l-1.8 3.4 -5.1 .8 3.2 -4.1zM262.2 440.8l2 .7 -.7 3.6 -2.1 -2zM260.7 438.9l-2 2.2 -2.6 -.6 .9 -2.2zM264.3 440.1l2.3 2.3 -.4 4 -2.8 -2.4zM263.8 433.1l3.2 -.5 1.4 2.8 -3.6 -.1zM278.4 433.8l-1.9 1.4 -2.8 -1.7 2.7 -1.9zM280.7 442l-4.1 2.9 -3.6 -.7 3.1 -2.5zM270.4 430.4l-3 2.3 -4.4 -.8 2.6 -2.7zM286.7 430.4l-.9 2.4 -3.9 -.2 2 -3.4zM278 440.1l-4.5 1.8 -2.6 -1.6 2.2 -1.3zM275.5 441.2l1.7 2.5 -.8 3 -1.8 -1.8zM281.3 440.1l2.7 1.5 .8 4.4 -3 -3.2zM271 432.1l3.8 -1.7 2.9 2 -2.3 1.3zM292.1 435.8l2.3 2 -1.8 2.5 -2.3 -2.9zM287.2 435.8l-2.2 1.4 -2.8 -.7 2.1 -2.1zM293.6 436.9l2.4 .3 3 3.8 -5.4 -1.5zM289.1 435.8l-1.5 3.7 -3.9 2.9 1 -3.5zM299.1 440l-2.2 1.2 -5.4 -.5 4.3 -1.8zM288.4 432.3l1.2 2.9 -3 2.7 -.9 -3.2zM305.1 430l2.1 2.4 -1.2 3.3 -1.6 -2.4zM303 432.6l-1.9 1.8 -4 -2.1 4.7 -2.1zM298.6 432.5l-2.3 1.7 -4 -1.5 2.8 -2.5zM299.2 438.9l.3 3 -3.2 2.3 .2 -3.7zM296.1 438.9l-1.4 3.1 -2.4 -.2 1.4 -2.6zM314.6 430.6l3.3 3.9 -1.3 2.8 -2.5 -.8zM310.2 436.9l.2 4.6 -3 2.3 -1 -2.6zM305.1 431.6l2.8 2.1 .4 3.2 -2.4 -.8zM306 438.7l-.7 3.7 -3 .9 -.2 -2.8zM320.4 432.7l-4.2 2 -3.5 -1.3 3.3 -2.1zM316.9 440.6l4.4 .5 .7 2.7 -2.1 1.2zM330.7 433.7l-2 2.8 -5.5 -1.3 5.3 -2.9zM315.7 436.3l3.2 .2 1.7 2.8 -4.1 -.4zM326 432.1l-.4 3.9 -3 3.1 .9 -4.7zM328 432.3l.1 4.3 -2.9 2.6 -.3 -4.8zM332.5 434.2l.2 3.6 -2.7 1.6 -.5 -2.6zM182.9 451.2l2.6 .3 1.5 3.7 -3.8 -.4zM189.9 446.9l-.2 5.1 -3.5 2.2 -.2 -3.2zM190.3 439l1.3 2.6 -2.2 4.2 -.9 -5.1zM180.1 447.9l2.7 -1.1 4.6 2.8 -5.3 .8zM190.7 449.4l2.9 .9 2.5 4.5 -4 -2.3zM204.4 443.4l4.2 1.5 .2 3.3 -3.7 -.8zM198.5 450.1l-1.7 1.9 -3.1 -1 3.3 -2.4zM202 446.9l2.4 4.8 -1.5 3.2 -1.9 -1.7zM200.8 444.2l2.7 -.3 .9 3.3 -3.5 -.7zM201.1 452l2 -.3 2.4 2.7 -3.2 -.5zM210.2 443l-.8 2.9 -3 -.1 0 -2.8zM205.6 442.6l2.8 -1.9 4.3 2.3 -4 1.4zM210.6 441.8l1.1 4.5 -1.9 2.7 -1.3 -3.7zM218.8 445.3l-3.4 .6 -3.3 -1.6 3.7 -1.2zM214.6 451.7l-1 3.5 -2.4 .6 .1 -2.4zM219.2 442.7l4.5 .8 .6 3 -3.5 -.4zM228.9 449.9l-.6 3.1 -5.4 1.2 2.7 -4.4zM216.8 451l-.7 3.8 -2.8 .7 .1 -3.1zM214 445l1.4 2.9 -2.1 1.9 -2 -1.4zM222.7 445.1l3.3 .1 .1 3.4 -3.3 -.6zM227.4 445.4l-3.9 2.4 -3.2 -.7 2.9 -1.7zM234.5 451.2l-3.9 3.5 -2.8 -1.6 .9 -2.3zM236.4 439.5l.7 5 -2.1 2.9 -1 -3.8zM224.8 450.7l.3 3.6 -2.1 2.4 -.6 -2.2zM235.2 440.1l2.1 2.6 -.1 4 -2.4 -2.8zM245.6 439l-3.6 4.6 -2.9 -.1 1.5 -3.5zM237.1 441.7l-1.7 4.1 -2.7 -.5 -.5 -2.4zM248.4 448.8l-.4 5 -3.6 1.5 .1 -3.6zM243.2 452l2 .8 1.5 3.7 -3.1 -.8zM249.8 439.3l.9 2 -1.2 3.1 -1.6 -2.7zM257.9 445.3l-1.6 3 -3.3 1.3 2.1 -3.7zM244.5 450.2l5.2 -.3 1 2.8 -2.3 1.1zM244.4 440l2.5 2.8 -.2 2.9 -2.3 -2zM246.6 446.5l3.4 -.8 2 2.7 -2.6 1.3zM254.6 444.8l-.2 4.3 -2.4 3.3 .2 -4.8zM263.5 443.4l1.2 3.8 -1.6 2.1 -1.2 -2.5zM252.8 442.6l1.8 -.7 2.5 2.1 -2.8 .5zM256.2 448.4l1.9 3.2 -2.3 2.2 -1.7 -3zM278.2 450.4l.9 3.2 -2.9 3 -1.1 -4.7zM275.2 448.7l-2.5 2.2 -4.9 -1.4 3.7 -2.5zM271.8 445.7l5.3 -1 2.6 2.3 -3.4 1.2zM264.9 441.2l3 .5 2.4 3.5 -3.9 -1.1zM270.4 451.7l2.8 .3 1.8 2 -3.1 .2zM282.6 442.1l.4 3.9 -2.5 3 -.3 -4.8zM284 447.4l-1.7 3.1 -4.6 -.4 2.9 -2.9zM288.6 441.9l-2.3 5.5 -3 .4 1 -3.4zM274.8 440.5l2.6 4.2 -.3 3.9 -1.8 -2.3zM287.6 439.7l-.9 2.4 -4.4 1.6 2.7 -3.5zM290.1 444.5l3.5 3.8 0 3.3 -3.3 -2.6zM287.3 449.4l-1.5 3.1 -5.2 1.1 2.8 -3.6zM288.9 444.3l.9 2.7 -2.3 2.5 -1.3 -3.1zM295.2 443.3l1.8 2.4 -1.3 3 -1.2 -4.1zM287.8 447.8l1.4 4.2 -2.7 2.7 -.9 -4.3zM289.8 440.3l-.7 2.5 -3.5 2.1 1.4 -3.4zM298.9 437.1l2 2.8 -1.3 5.6 -3 -5zM296.9 439.8l4.4 .5 .8 3.1 -3.7 -.4zM300.8 450.4l2.6 1.7 .3 4.8 -3.6 -4zM303.4 440.3l2.8 -1.4 3.7 2.3 -4.2 .9zM305.4 451l.4 3.4 -4.1 1.7 1.8 -5.1zM316.2 444.5l1.6 2.5 -1 4.3 -1.9 -3.3zM305.8 442.2l4.8 -.4 2 1.7 -1.6 1zM312.6 452.3l2.6 -1.4 5.5 2 -5.2 1.2zM307.9 445l-1.9 5 -4 1.2 1.8 -4.2zM311.9 452.4l3.9 -.4 2.3 4.2 -4.2 -.3zM320.9 440.4l3.6 -1.3 2.8 2.2 -3.9 1.4zM321.9 449.2l-3.1 1.6 -1.9 -.9 1.2 -1.8zM332.2 450.9l4.6 2.9 -.1 3.1 -2.7 -1.3zM337 441.5l2.4 5.2 -2 2.9 -2.1 -2.5zM191.8 454.8l-2.9 2.7 -3.4 -.6 3.3 -2.3zM182.9 462.8l2.9 -1.7 5.3 2.4 -5.8 .8zM187.6 462.7l3.4 -1.5 1.2 2.6 -1.9 1.7zM187.1 457.1l-2.3 1.2 -4.8 -1.2 3.7 -1.6zM187.6 460.3l3.1 1.3 0 3.2 -3.1 -.5zM208.4 461.2l-2.3 2.6 -3.2 -1 1.2 -2.5zM194.8 454l2.7 .3 2.5 4.7 -4.3 -1.5zM201 450.6l-.9 4.3 -2.7 1.7 -.1 -3.2zM208.9 461.6l-3.3 1.7 -3.1 -1.3 1.4 -2zM193.1 462.2l4.6 1.7 1.6 2.8 -2.6 -.5zM212.1 458.6l2.5 -2 2.8 2.4 -2.3 2zM215.4 458.6l2.2 3 -.6 4.1 -2 -2.9zM207.3 454.3l-1.3 3 -2.9 .5 .6 -2.4zM216.1 455.8l-1.1 3 -4.2 1.3 2.5 -3.9zM212.2 451.7l3.7 2.3 .2 4.5 -3.4 -2.9zM217.2 449.5l-.1 3.2 -3.1 2.1 -.3 -3.4zM215.2 448.8l.5 3.5 -2.2 3.8 -.5 -5.2zM221.6 453.7l2.8 2.4 -1.3 2 -2.2 -1.5zM237.3 458.7l-3.1 3.5 -2.4 -.1 2.1 -2.6zM231.6 451.8l2.5 1.2 -.6 3.1 -2.3 -1zM240.3 447.9l1.8 2.6 -1.1 2.7 -2.2 -2.7zM238.9 450.5l2.5 1.7 -.1 3 -2.4 -2.2zM246.8 449.5l1.6 3.6 -2.4 2.3 -1.3 -2.4zM237.6 453.2l2.1 4.9 -1 3 -1.4 -2zM241.4 456.8l3.3 .2 2.9 2.5 -3.9 0zM243.2 450.5l1.3 2.9 -1.7 1.8 -1 -1.9zM255.6 448.4l.8 3.7 -2.1 3 -.9 -2.8zM246.2 449.6l-2.3 2.9 -3.8 0 2.2 -2.5zM252.1 458.1l-2.6 4.1 -4.3 .9 2.1 -3.2zM256.2 446.6l3.2 2.6 -.1 5 -4 -3.9zM260.6 452.4l2.5 1.8 -.7 2.4 -2 -1.3zM259.2 457.7l-1.2 2.2 -4.1 -1.1 3.7 -3.2zM264.9 461l2.2 3.1 -.7 2.3 -2.3 -2.1zM257.6 450.3l4.4 2.3 1 2.8 -2.7 -.8zM266.8 453.6l4.7 .7 .8 3.4 -3.8 -.4zM269.4 455.5l-1.7 3.7 -5.1 -.2 3 -3.6zM267.3 460.4l3 -1.3 1.4 2.7 -2.3 1.5zM277 455.3l-3.2 1.6 -2.8 -.9 2 -1.6zM275.9 449l3.2 0 4.5 3.7 -6.1 -.8zM287.5 459l-3.8 3.8 -3.8 -.9 3.4 -3.2zM278.4 453l3.8 .5 .6 2.4 -2 .4zM276.2 455.7l.8 3 -2.6 1.7 -.8 -2.9zM283 455.3l5.5 .1 2.2 2.2 -4 .7zM291.3 457.7l.5 2.9 -3.7 2 .4 -3.7zM289.1 458.8l-3.6 3.5 -2.9 -.9 1.4 -3.1zM293.6 460.7l1.1 4.7 -2.7 1.4 -1.2 -3.3zM284.6 461.8l2.4 1.2 .5 3 -2.9 -1.5zM307.3 454.2l-2.9 3 -3 -.9 1.5 -2.3zM304.9 458.9l1.9 2.1 -1.9 3.4 -2 -3.8zM305.1 456.7l-1.6 4.7 -3.4 .2 .6 -3.2zM295.3 456.9l2.1 2.7 -2.5 5 -1.3 -4.7zM307.2 450.9l1 3.9 -2.1 2.4 -.8 -2.6zM317.4 447.4l1.2 2.4 -.7 5.8 -1.9 -5.3zM314.1 454.6l1.7 2.4 -1.8 3.1 -1.4 -3.9zM316.4 457.3l1.3 3.8 -2 1.9 -1.6 -2.8zM318.5 454.4l-1.1 4 -3.4 2.6 1.4 -4.4zM313.8 451.5l2.8 1.9 .1 4.2 -2.9 -1.9zM318.9 459.5l2.4 -1.2 4.6 2 -5.8 .7zM328 459.5l-1.4 4.5 -3.5 .1 .8 -3.5zM329.5 458.1l-1.2 2 -3.5 -.7 3 -2.1zM331.6 460.4l1.3 4.3 -1.4 2.4 -1.4 -2.6zM326.5 450l-1.7 3.7 -2.7 .5 1.1 -3.5zM333.9 448.2l3.3 1.9 1.7 4.6 -3.7 -2.4zM336.9 456.6l-.7 4 -3.5 1.2 -.3 -3.2zM198.3 467.7l-2.4 4 -2.5 .1 -.1 -2.4zM196.5 464.4l-.1 5 -3.6 2.6 -.3 -3.7zM189.9 459.7l2.3 2.1 -1 2.7 -2.4 -2.4zM185.1 461.3l4.9 .2 1.9 2.7 -2.4 1zM202 460.4l3.2 -.4 4 3.2 -4.4 -.3zM197.8 460.9l-2.3 3.9 -2.7 1.5 .2 -2.1zM199.9 465.1l3.5 3.4 -.5 4.6 -3.1 -3.2zM195.5 465.7l3.8 -1.5 1.3 2.6 -1.8 1.5zM199.3 470.5l2.6 0 3.1 4.5 -4.7 -1zM213 469l-2.8 2.8 -3.3 -1.5 2.9 -2.7zM206.3 462l1.1 1.6 -1.5 3.2 -1.5 -2.5zM213.1 465.4l-.4 2.8 -3.9 .8 2.8 -3.5zM204.7 470.4l2.7 -.1 2.1 1.8 -2.3 .8zM213.1 468.7l2 1.6 .8 5 -3.4 -2.6zM216.3 470.6l2.9 1 .7 2 -2.4 -.1zM216.5 462.7l.5 3.2 -3.2 1.1 0 -4zM218.7 461.9l3.1 0 1.1 2 -1.3 1.1zM225.6 462.4l1.1 3.9 -1.9 3.8 -1.1 -4.8zM235.1 464.8l.8 4 -2.9 3.4 -.9 -4.6zM232.8 458.6l-1.6 3.9 -3.3 -.3 1.5 -3.4zM223.3 469.8l3.4 1.9 -.4 2.6 -2.9 -.9zM228.1 458.8l4 .8 1.9 4.5 -5.2 -2.3zM244.5 461.5l4.4 3.7 -.6 3.1 -2.8 -1.3zM235.8 467.5l3 2.7 .1 5.1 -4 -4.4zM230.3 470.3l2.7 -.8 3.3 2.8 -4.5 -.3zM241.9 471.4l-.2 3.4 -3.7 .4 1.1 -3.8zM232.6 462l3.1 1.2 -.5 3.8 -3.2 -1.5zM248.8 470.3l1.7 3.9 -1.6 2.3 -1.9 -2.5zM245.1 464.7l2.3 .7 .2 3.2 -2.4 -1.3zM248.6 471.4l5 1.2 1.8 2.6 -4.2 -.2zM253.7 460.6l-.1 3.4 -4.1 1 .8 -3.5zM248.1 459.3l3.1 .2 1.3 4.2 -4.3 -2zM263.6 466.7l.8 4.9 -1.9 2.6 -.9 -3.9zM263.3 470.7l-.5 3.2 -2.6 1.7 .7 -4zM249.7 469.3l4.9 -.8 3 2.7 -3.3 1.2zM258 463l5.4 .1 2.2 2 -2.2 1zM259.4 462.2l.2 5.4 -2.3 2.3 -1.5 -2.4zM276.1 466l-.8 4.6 -2.7 1 -.3 -2.5zM278.1 470.1l-1.1 2.5 -2.6 .6 1 -3zM277.6 470.4l-2.3 3.5 -2.8 .2 .9 -2.8zM274.2 472.7l3 -.3 1.5 1.3 -2.4 1zM277.5 461.3l-5.2 2.1 -2.9 -.9 2.7 -2.1zM278.6 459l2.4 2.3 -.2 4.9 -2.7 -4.7zM272.3 460.1l4.4 -1.8 4 1.7 -3.4 1.9zM274.8 463.6l4.2 1.3 1.8 3.1 -3.3 -.5zM273.2 468.5l2.6 -.5 2.4 2.8 -4.4 -.5zM291.1 468.6l.4 2.6 -3.5 1.3 .2 -2.9zM282.6 462.1l4.2 2.3 .9 4.1 -3.7 -2.2zM287.8 466.9l-2.8 1.7 -5.1 -1.4 4.9 -1.8zM292.6 461.7l3.2 1.8 .6 3.9 -3.3 -1.5zM292.9 471.2l3.4 2 -.7 2.8 -2.4 -.2zM300.9 469l1.9 2.5 -1.2 2.4 -2.2 -1.5zM296.6 463.9l3.5 2.7 -1.3 2.6 -2.5 -.9zM299.9 465.5l-.7 2.6 -4.4 .5 2 -3zM300.5 467l2 3.4 -2 4 -1.7 -4.2zM298.4 462.3l-1.5 3 -2.4 -.3 .7 -2.8zM310.2 465.9l3.3 -.4 4.4 2.1 -5.6 .4zM310.5 459.4l3.1 0 1.5 3.1 -3.7 -.9zM313 462.1l0 2.4 -3.9 .7 1.2 -3.5zM312.7 458l1.3 5.2 -2.8 2.4 -1.1 -4.1zM306.6 458.1l4.8 1.8 1.1 3 -3.5 -1zM313.1 461.9l5.3 -.8 1.5 2.6 -2.3 1.3zM321.2 458.1l2.7 3.1 -.1 2.9 -2.3 -1.9zM319.3 467.9l-1 4.6 -3.2 2.1 -.5 -3zM317.6 462.7l3.6 .7 .1 3.4 -3.6 -.7zM339.7 473.9l-3.2 1.2 -2.8 -1.8 3.4 -1.7zM326.3 459.6l4 0 2.7 3.7 -5.1 -1.4zM333.7 456.7l4.1 3.6 -.4 3.8 -2.9 -.8zM328.6 460.4l1.5 4.2 -2.3 2.8 -1.6 -4zM189.8 479.4l2.3 1.8 -.8 5.2 -2.9 -3.3zM191.9 479.2l4.3 -1.4 2.3 2.7 -2.9 1.2zM191 469.5l-.1 3.8 -2.6 1.2 -.3 -3.1zM200.4 472.7l4.8 -.3 2.6 2.3 -3.5 .7zM196.7 480.9l3.1 -1 2 1.9 -3.4 .9zM194.3 472.2l-.6 3.3 -2.2 .7 0 -2.8zM217 473.2l-3.3 1.8 -4.9 -1.2 3.3 -2.3zM215.6 476.9l-5 2.4 -3.1 -1.8 2.1 -2.3zM201.9 467.6l4.1 2.5 -.1 4.1 -2.8 -1.3zM206.3 478.3l1.9 1.4 -1.4 3.4 -2.1 -2.8zM224 479.5l-2.3 1.4 -4.2 -.6 3.4 -2zM218.1 478.9l5.5 2.6 .5 2.9 -2.6 .1zM213.6 473.9l2.7 1.8 -.4 4.3 -2.9 -3zM223.2 468l1.2 3.5 -1.4 2.1 -1.4 -.9zM226.4 477.7l4.2 .4 2.3 3.8 -4 -.1zM235.1 480.2l-.3 3.4 -3.8 3.3 .8 -5.1zM234.2 470.1l-2.8 2.6 -3.1 -1.1 2.3 -3zM231.5 468.3l3.4 -.1 4 3.9 -6.4 -1.3zM241.4 480.1l-3.3 3.5 -3.1 -.7 2.1 -3.2zM244.1 468.6l-1.2 5.6 -2.9 .5 -.8 -2.6zM237.4 473.2l-2.3 3.3 -3.5 -.2 2.6 -3zM237.8 479.7l2.9 2.6 .3 3.5 -3.4 -2.2zM249.5 476.3l-2.6 2.3 -3.4 -2.1 3.6 -2.2zM247.5 476.9l-.8 3.5 -3.6 2.6 1.2 -3.9zM247.2 477.8l3 -1.9 1.8 2 -1.6 1.9zM254.7 477.4l1.9 2.1 -2.3 2.9 -1.2 -4.2zM247 468.7l2.2 4.5 -1.3 2.9 -2.1 -2.3zM243.8 476.2l4.1 .3 2.3 3.6 -3.8 .2zM264.5 475.4l.4 3.1 -2.6 2.8 -.1 -2.8zM255.2 471.6l1.4 2.5 -2.4 2.8 -1.4 -4zM269.8 482.4l-3.8 3 -3.9 -1.5 4.5 -2.3zM253.7 480.8l3 -.6 1.9 3.4 -4.1 -1.1zM278.6 480.7l.6 2.4 -2.8 3.7 -.2 -4.6zM267.9 481.8l-3 1.7 -3.7 -1.4 3 -1.6zM262 473.1l4.4 1.1 .8 3.7 -4.4 -1zM274.6 478.4l-4.5 2.9 -3.3 -1 2.9 -2.3zM276.4 473.5l2.1 3.4 -1.5 3.3 -1.9 -2.7zM273.5 470.6l1.8 2 -1.1 3.5 -1.9 -2.6zM280.4 476.6l.4 1.9 -2.1 2.4 -.6 -2.2zM276.9 479.7l3.8 -1.7 1.1 2.3 -1.1 2.1zM278.1 479.7l4.3 -.5 1.6 2.2 -2.4 .6zM292 481.6l-1.8 2 -4.9 .4 3.9 -2.8zM285.6 476.7l-1.8 1.5 -3 -2 2.3 -1.9zM283.5 478.4l3.7 -.4 2.8 1.7 -3.9 .8zM287.1 478.9l3.6 -.6 3.6 1.5 -3.2 1.2zM285.8 477l4 1.4 1.7 4.7 -5.1 -2.4zM308.1 470.2l-1.2 3.2 -3.7 .3 2.2 -2.9zM296.4 470.8l3.3 3.1 -.4 4.7 -3.1 -3.5zM297.8 476.8l-4.4 3.4 -3.7 -1.1 2.4 -2.5zM297.9 475.9l-3 1.1 -1.6 -1.1 .8 -1.3zM306.4 470.1l-.8 4.2 -3.6 1.2 .7 -3.5zM314.2 477.1l.7 4 -3.4 2.8 .3 -4.6zM318.3 479.7l-2 3.2 -4.1 1.3 2.6 -4.4zM315.6 469.3l4.3 .4 1.2 2.9 -3.2 .7zM316.4 477.9l-1 3.3 -2.6 -.3 0 -2.9zM336.8 476.4l-2.7 3.7 -3.9 1.1 1.7 -3.5zM337.4 468.9l-.7 3.2 -3 .2 1.9 -3.4zM329.4 474.5l2.1 2.1 -1.7 2.7 -2.3 -2zM180.3 479.3l4.8 1.7 .4 3.3 -2.2 .1zM196.6 480.5l-3.5 2.7 -3.1 -.3 3.5 -2.3zM198 481.8l-2.1 3.4 -4.9 -.1 3.3 -3.3zM200.8 486.9l.6 2.4 -1.7 5.2 -1 -5.1zM198 481.5l-1.8 2.4 -3.8 -1.2 2.1 -2.3zM201.5 487.6l5.2 -.7 2.1 1.9 -3.3 .8zM205.1 485.1l3.5 .4 3.2 4.8 -5.7 -1.4zM210.4 481.3l-1.7 2.9 -3.8 -.7 2.1 -3.2zM209.4 477.8l-2.2 4.6 -2.8 1.4 .2 -2.8zM219.3 487l3.3 1.8 1.9 4.1 -3.9 -2.8zM218 485.2l-.8 2 -3.3 1.1 1.2 -3zM217.5 481.1l4.7 -.1 2.4 3.1 -3.1 .8zM217.1 485.4l.4 3.5 -1.5 1.2 -1.1 -1.4zM230.2 487.5l-1.6 3.6 -3.3 .7 2.5 -3.6zM220.9 479.5l3.4 .6 2.1 4.9 -5.3 -1.8zM238 486.5l-.9 3 -3.9 1.4 2.1 -4zM227.1 479.3l-2.9 2.1 -4.3 -.7 2.6 -2.4zM231.7 488.5l2.1 -1 2.9 2.2 -4.2 .9zM246.8 483.4l-2.1 2.2 -2.8 -1.7 2.7 -2.3zM243.8 486.3l-.2 3.1 -3.9 .4 .2 -2.9zM245.6 486.3l-2.5 2.5 -3 -.5 2.5 -2.4zM231.2 482.3l4.7 1.7 .4 2.2 -2.8 -.6zM249.5 481.9l-2.4 2.5 -2.3 -1.6 1.1 -2.6zM251.6 490.8l1.3 3.3 -2.3 1.9 -1.5 -2zM250.6 482.7l.9 2.9 -2.2 1.8 -.9 -2.2zM251.4 489.1l2.6 .7 1.2 4.9 -4.7 -2.8zM253.1 480l-3.5 2.1 -2.2 -1.4 1.6 -2.2zM257.9 481.2l3.5 .2 1 2.4 -3.3 .4zM267.4 486l-.1 3.4 -2.7 2.8 .5 -4.4zM261.8 490.6l-.3 3.1 -3.5 -.6 1.1 -2.8zM256.7 479.2l2.7 4.9 -1.7 3.4 -2.1 -3.4zM261.9 485.5l2.7 -1.7 4.2 2.3 -3.7 1.4zM271.1 479.9l-1.9 3 -3.3 -.3 1.2 -2.9zM273.5 488.9l2.2 3.4 -1.3 3.3 -2.5 -1.7zM266.1 482.3l-3 2.2 -1.7 -1.7 1.6 -1.7zM277 483.4l-3.9 3.4 -3.1 .3 2.7 -3zM276.1 485.4l.4 3.8 -2.7 3.5 .3 -4.4zM284.4 477.9l-.6 3.3 -5.1 .7 3.6 -4.8zM272.6 481l3.3 1.9 .7 2.6 -3.3 -1.2zM270.6 480.7l3.2 .7 .9 5.7 -3.9 -2.6zM283.2 484.7l3.6 -.4 2.8 1.9 -2.4 1zM292.1 477l-.2 3.4 -3.8 2.8 1.5 -4.4zM283 484.4l3.3 1.7 -.1 2.5 -2.6 -1.2zM282.7 489.9l2.5 .6 .1 4.2 -3.3 -1.7zM281.7 483.8l3.7 .1 .5 2.9 -3.2 .6zM302.1 489.3l-1 3.5 -4.1 2.9 1.5 -4.3zM300.2 478.5l3 2.5 -1.4 1.9 -2.2 -1.8zM294.1 477.8l2.2 3.6 -2 2.1 -2 -2.9zM300.5 479.2l3.3 1 .3 4.7 -3.8 -2.6zM316 477.8l2.2 5.2 -1.8 2.9 -1.9 -2.6zM305.8 478.5l3.5 3.3 .1 2.7 -2.4 -.8zM327.1 486.7l-2.3 1.9 -3.3 -.1 1.7 -2.1zM325.8 488.1l1.5 4.1 -1.6 2.8 -1.6 -2.4zM328.5 486.9l2.8 .6 1.8 3.9 -3.4 -1.5zM327.2 486.7l-.3 3.4 -5.3 2.1 2.1 -4.3z" fill="#3a2f98" stroke="#221a5c" stroke-width="0.9" stroke-linejoin="round"/>
<path d="M187.5 386.1l2 .1 1.4 1.2 -2.2 .2zM191.4 392.6l-.7 .9 -2.6 .6 2 -2zM195.7 385.7l-3.5 1.3 3.5 -.5zM204.4 390.4l1.6 .1 .5 1.8 -1.8 -.5zM198.2 395.1l-5.9 -1.5 5.9 2.3zM214.7 385.7l.1 1.9 -2.2 1.6 .4 -2.5zM210.7 389.2l1.4 1.2 -.2 1.4 -1.1 -.2zM215.9 387.2l2 .5 1.1 1.9 -2.3 -.8zM221.4 390.2l.6 4.3 -.6 -3.5zM234.1 382.6l1.3 .8 .5 1.7 -1.1 -.4zM238.2 382.6l1.1 -1.1 2.2 1 -2.4 .8zM269.5 388.5l3.2 3.4 -3.2 -2.6zM266.6 383.7l1 -.6 1.3 1.1 -1.7 .8zM269.1 384.1l5.3 -1.4 -5.3 2.2zM284.7 383.6l.5 1.2 -1.6 1 -.2 -1.9zM284.8 381.8l1.2 .5 -.4 1.8 -1.6 -1.5zM281.3 385.9l1.6 2 -.3 1.8 -1.2 -.6zM289 386l.3 1.5 -1.9 .7 .4 -1.9zM287.3 389.8l-4.3 2.4 4.3 -1.6zM302 392.1l2.1 .4 .2 1.3 -1 .4zM298.8 390.4l.4 1.8 -1.3 1.5 .1 -2zM305.3 384.2l-.5 1.4 -2.7 .2 1.9 -1.8zM306 391.1l-.4 1.5 -2.2 0 1.7 -2zM317.6 392.1l2 -.3 .8 .9 -1.4 .5zM329.9 394.4l1.7 .1 .6 1 -1.4 0zM333.5 394.8l5.8 2.5 -5.8 -1.7zM329.7 390.2l-2.3 4.4 2.3 -3.6zM186.8 392.8l-.1 1.4 -1.3 1.3 -.1 -1.3zM188.1 392.2l-1.6 1.5 -1.3 -.9 .8 -1.2zM188.1 405.2l5.5 -1.4 -5.5 2.2zM199.8 397.5l-5.6 1.9 5.6 -1.1zM197.8 401.1l1.9 .8 -.3 1.2 -1.4 -.4zM209.2 399.7l-1.8 3.2 1.8 -2.4zM206.3 396.9l1.7 .2 1.1 1.9 -1.9 -.5zM216 393.1l1.2 1.7 -.7 1.7 -1 -2zM230.8 405.5l3.8 2.4 -3.8 -1.6zM236.7 400.1l.1 2.2 -1.4 1.5 -.1 -2.4zM252.3 403.6l1.9 3.9 -1.9 -3.1zM257.6 393.7l5.3 1.9 -5.3 -1.1zM266.6 402.1l1.6 -1 .8 1.3 -1 .9zM271.3 395.2l-3.8 1.3 3.8 -.5zM274.8 390.6l-.9 1.7 -1.3 .1 .7 -1.6zM271.3 393.5l-6.4 1.5 6.4 -.7zM277.7 394.2l-2.6 4.8 2.6 -4zM293.8 402.6l-3.8 5.2 3.8 -4.4zM287.9 394.3l1.5 .1 2.1 2.2 -2.8 -.7zM299.2 397.6l2.1 -.7 2.1 .9 -2.1 .4zM296.2 396.1l1.2 3.4 -1.2 -2.6zM314.1 399.9l-.7 1.3 -2.1 .5 1.1 -1.7zM315.4 393.5l1.4 .8 -.6 1.4 -1.2 -.2zM331.1 392l-2.8 3.2 2.8 -2.4zM334.9 400.6l2.6 3.4 -2.6 -2.6zM203 404.6l-5.2 -3.2 5.2 4zM209.8 408.1l1.4 .3 .8 1.6 -1.7 -.3zM216.6 403.8l-1.6 1 -1.3 -.8 .8 -1zM236.8 413.5l1.7 3.6 -1.7 -2.8zM243 409.8l1.4 .5 .4 1.5 -1.3 -.5zM246.9 412.2l3.2 5.9 -3.2 -5.1zM252.9 412.6l3.6 3.8 -3.6 -3zM243.6 403.4l1.4 .3 1 1.3 -1.2 .1zM243.8 412.9l1.7 -.5 1.6 1.3 -1.9 0zM248.9 411.8l1.4 -1 1.9 1.2 -1.7 .9zM259.5 413.5l2 .5 .3 1.7 -1.6 -.5zM270.9 401.8l1 .2 .8 1.6 -1.4 -.1zM272.8 409.8l.7 1.6 -1 1.7 -.6 -2.2zM271.5 415.2l1.9 4.2 -1.9 -3.4zM287.8 413.7l2.5 6.4 -2.5 -5.6zM282.3 409l1.1 2.1 -.4 1.9 -1.1 -1.6zM285.4 413.1l-2.7 5 2.7 -4.2zM283.4 410.4l1.7 .6 .4 1.9 -2.2 -.7zM286.9 413.6l.3 5.3 -.3 -4.5zM284.4 404.7l1.5 -1 1.2 1 -.9 .8zM300.9 408.1l3.1 3 -3.1 -2.2zM297 413.3l1.5 .1 .8 2.4 -2.6 -1.2zM316.1 412l1.2 1.4 -.2 2 -1.3 -1.2zM317.5 416.4l-1.3 3.5 1.3 -2.7zM308.9 415l1.5 -.5 1.1 1.1 -1.5 .7zM310.4 408l1.5 -.6 2.1 1.8 -2.7 -.1zM321.9 407.4l3.1 3.5 -3.1 -2.7zM314.2 402.2l2.1 .4 .9 2 -1.9 -.4zM320.2 406.2l2.4 .5 .6 1.1 -1.6 .1zM321.6 399.9l1 1.1 0 1.7 -1.3 -.9zM334.7 402.4l2.2 1 0 1.6 -1.3 .2zM337.4 406.7l3.2 .9 -3.2 -.1zM186.5 418.5l.5 1.7 -1.6 1.8 0 -2.7zM186 422.7l2.6 5 -2.6 -4.2zM187.2 421.2l1.7 -1 .8 1.1 -.9 1zM191.4 421.2l4.6 -2 -4.6 2.8zM192.4 416.7l.4 1.8 -.9 .7 -.3 -1.1zM191 420.5l-2.4 2.3 2.4 -1.5zM206.1 422.1l.8 2.1 -1.2 .9 -.7 -1.5zM204.3 425.6l1.8 3.7 -1.8 -2.9zM209.4 423.3l-3.5 4.9 3.5 -4.1zM222 421l-.6 1.7 -1.6 -.4 1.1 -1.7zM227.9 420.2l-1.1 1.7 -2.3 -.1 1.5 -1.7zM254.9 414.6l2 -.7 1 .9 -1.7 .7zM261 409.5l1.4 1.4 -.3 1.1 -.9 -.3zM261 422.7l1.3 .6 -.3 1.6 -1.7 -.9zM262.8 425.2l.4 4.3 -.4 -3.5zM275.5 423.2l4.6 2.7 -4.6 -1.9zM261.9 425.7l-.3 5.9 .3 -5.1zM285.7 421.1l5.5 -2.1 -5.5 2.9zM285.5 421.2l-.6 1.7 -2.3 -.1 .8 -1.6zM281.7 424.5l-1.4 5.2 1.4 -4.4zM298.3 418.8l1.1 4.8 -1.1 -4zM315.7 420.3l1.7 0 1 1.4 -2.1 -.4zM308.1 412.4l.6 1.1 -.8 1.6 -.6 -1.3zM313.9 412.4l4.3 3.5 -4.3 -2.7zM319.7 420.3l1.1 3.3 -1.1 -2.5zM330.2 423.4l-2.3 3 2.3 -2.2zM206.7 432.5l4.6 .3 -4.6 .5zM206.5 434.8l-1.9 .9 -1.9 -.8 1.6 -1.1zM205.1 423.7l2.2 1.3 .3 1.6 -1.5 -.5zM252.8 424.7l-3.3 1.2 3.3 -.4zM274.8 420.5l1.2 -.6 1.1 1.2 -1.2 .4zM270.3 429.2l2 .6 -.2 1.4 -1.3 -.1zM277.4 432.9l4.2 -2.3 -4.2 3.1zM270.1 421l.9 .9 0 1.6 -1 -.7zM278.5 424.4l3.4 2.1 -3.4 -1.3zM297.9 429.3l-.6 2.4 -1.5 .6 -.3 -1.3zM292.8 422.2l-4.3 3.4 4.3 -2.6zM307.1 423.3l2.2 .6 .5 1.9 -2.1 -.4zM311 426.2l3.7 4.7 -3.7 -3.9zM311.8 428.7l-2 6.2 2 -5.4zM307.9 432l.6 1.2 -1.5 1.3 0 -2.3zM324.3 420.9l1.9 -.6 1.7 1.2 -2.1 .4zM328.7 421.8l3.7 -.7 -3.7 1.5zM321.7 430.5l.1 2.2 -1.5 .9 -.1 -1.5zM325.8 428.9l-4.2 3 4.2 -2.2zM322.6 432.4l-5.3 -.4 5.3 1.2zM330.1 427.6l2.7 -.6 1.3 1.1 -1.6 1zM184.9 445l-2.3 3.7 2.3 -2.9zM183.1 432.7l-6.4 -.3 6.4 1.1zM197 433l4.4 .1 -4.4 .7zM191.5 430.8l2 -.2 2.1 1.2 -2.2 .1zM206 430.6l.2 1.3 -1.6 1.1 -.1 -1.6zM213.7 441.5l-1.1 1.8 -2.6 -.1 1.9 -1.8zM216.8 437.1l5.4 -.9 -5.4 1.7zM229.3 433.1l-1 1.9 -2.2 .4 1 -1.8zM244.9 437.7l2.2 1.7 -.2 1.7 -1.4 -.2zM244.3 445l-5.7 2.3 5.7 -1.5zM266.4 445.9l-.7 4.4 .7 -3.6zM286.1 431.6l-.4 1.2 -2 -.1 1 -1.7zM275.1 443.6l.9 1.2 -.4 1.5 -.9 -.9zM276.3 446.3l-1.3 4 1.3 -3.2zM277.8 431.3l5.1 1.5 -5.1 -.7zM285.8 434.7l-1.1 .8 -1.4 -.4 1 -1.1zM288.2 436.8l-.8 1.9 -1.9 1.4 .5 -1.7zM297.7 431.6l-1.1 .8 -2 -.7 1.4 -1.3zM314.3 432.2l1.7 1.9 -.7 1.4 -1.2 -.4zM304.8 432l1.4 1.1 .2 1.6 -1.2 -.4zM318.5 440.9l2.1 .2 .4 1.3 -1 .6zM324.8 438.6l1.6 6 -1.6 -5.2zM184.4 452.7l1.3 .2 .7 1.8 -1.8 -.2zM187.4 449.1l4.2 -.6 -4.2 1.4zM212.2 444.6l-5.6 -.5 5.6 1.3zM212.6 451.7l-.5 1.7 -1.2 .3 .1 -1.2zM226.6 450.2l-.3 1.6 -2.7 .6 1.4 -2.2zM235.3 442.2l.4 2.5 -1.1 1.4 -.5 -1.8zM223.2 456.3l-4.5 2.9 4.5 -2.1zM236 441.8l1 1.3 -.1 2 -1.2 -1.4zM247.3 450.3l-.2 2.5 -1.8 .8 0 -1.8zM249.3 440.5l.5 1 -.6 1.5 -.8 -1.3zM246.3 450.6l2.6 -.2 .5 1.4 -1.1 .6zM250.7 452.2l6 1.4 -6 -.6zM262.8 448.8l-4 4.8 4 -4zM255.6 453.3l.4 6.4 -.4 -5.6zM277.3 452.8l.5 1.6 -1.5 1.5 -.5 -2.3zM273.9 445.8l2.6 -.5 1.3 1.1 -1.7 .7zM286.7 440.9l-.4 1.2 -2.3 .8 1.4 -1.7zM290.8 447.2l1.7 1.9 0 1.7 -1.7 -1.3zM293.3 451.3l0 5.6 0 -4.8zM281 453.8l-2.7 6.1 2.7 -5.3zM285.9 454.1l-.9 5.6 .9 -4.8zM314 453.4l1.9 -.3 1.2 2.2 -2.1 -.2zM319.6 450.1l-1.6 .8 -.9 -.4 .6 -.9zM334.5 451.5l2.3 1.5 -.1 1.5 -1.3 -.6zM199.6 465.7l5.5 -1.4 -5.5 2.2zM217.4 458.4l5.9 -.9 -5.9 1.7zM203.2 457.6l-4 2.1 4 -1.3zM239.9 451.4l1.3 .9 -.1 1.5 -1.2 -1.1zM247.1 451l.7 1.8 -1.2 1.1 -.6 -1.2zM247.5 459.3l3.8 .6 -3.8 .2zM245.1 451.3l-1.1 1.5 -2 0 1.1 -1.3zM239.9 451.7l-4.2 2.5 4.2 -1.7zM255.7 449.3l1.6 1.4 -.1 2.4 -2 -1.9zM262.3 452.4l1.2 .9 -.3 1.2 -1 -.6zM259.3 452.4l2.2 1.1 .4 1.5 -1.3 -.5zM267.3 460.4l1.6 -.7 .7 1.3 -1.2 .8zM271.8 461.1l1.9 2.7 -1.9 -1.9zM275.7 454.4l-1.6 .8 -1.4 -.5 1 -.8zM279.7 460.7l-3.8 1.3 3.8 -.5zM285.3 457.1l2.8 0 1.1 1.1 -2 .4zM287 459l-1.8 1.7 -1.5 -.4 .7 -1.6zM292.4 461.1l.5 2.4 -1.3 .7 -.6 -1.7zM304.7 453.9l-1.5 1.5 -1.5 -.5 .8 -1.1zM306.1 459.5l.9 1 -1 1.7 -1 -1.8zM317.6 455.3l-2.5 3.6 2.5 -2.8zM315 452l1.4 1 .1 2.1 -1.5 -1zM327.8 460.3l-.8 2.3 -1.7 0 .4 -1.7zM323.3 463.9l-5 1.2 5 -.4zM329.2 458.7l-.6 1 -1.8 -.4 1.5 -1zM326.1 450.2l-.9 1.8 -1.3 .3 .5 -1.8zM191.4 464l4.3 2.5 -4.3 -1.7zM187.8 462.9l2.5 .1 .9 1.3 -1.2 .5zM201.5 470.6l1.3 0 1.5 2.2 -2.3 -.4zM207 470.1l-4 3.2 4 -2.4zM206.2 466.4l.7 5.5 -.7 -4.7zM205.4 471l1.4 -.1 1 1 -1.1 .4zM215 470.4l1 .8 .4 2.5 -1.7 -1.3zM214.6 463.9l.3 1.6 -1.6 .5 0 -2zM218.9 463.3l1.6 0 .5 1 -.6 .6zM225.8 463.4l.5 1.9 -.9 1.9 -.6 -2.4zM234 466l.4 2 -1.5 1.7 -.4 -2.3zM226.6 473.6l1.1 6.3 -1.1 -5.5zM248.5 467.7l2.3 5.4 -2.3 -4.6zM231.8 471.1l1.4 -.4 1.6 1.4 -2.2 -.1zM232.5 463.7l1.5 .6 -.3 2 -1.6 -.8zM249.5 471.3l.8 1.9 -.7 1.2 -1 -1.3zM262.1 468.2l.5 2.5 -1 1.3 -.4 -1.9zM262 472.4l-.3 1.6 -1.3 .9 .4 -2zM260.2 475.2l-2 2.9 2 -2.1zM256.6 469.3l-4.9 4.4 4.9 -3.6zM275 472.8l1.4 -.2 .8 .7 -1.2 .5zM281 467.3l4.7 4.6 -4.7 -3.8zM300.1 469.5l1 1.2 -.6 1.2 -1.1 -.8zM312.5 460.2l1.6 0 .7 1.6 -1.8 -.5zM315 462.3l1.8 4.7 -1.8 -3.9zM312 463.9l0 1.2 -1.9 .4 .5 -1.7zM308.1 460.2l2.4 .9 .5 1.6 -1.7 -.6zM312.3 462.8l1.6 5.1 -1.6 -4.3zM317.4 469.7l-.5 2.3 -1.5 1 -.3 -1.5zM190.1 471.4l0 2 -1.3 .6 -.2 -1.6zM192 476l-.7 6.5 .7 -5.7zM212.7 477.3l-2.5 1.2 -1.5 -.9 1 -1.1zM207.4 479.7l1 .7 -.8 1.7 -1 -1.4zM233.1 471.1l-1.4 1.3 -1.5 -.6 1.1 -1.5zM242 470.3l-.6 2.9 -1.4 .2 -.4 -1.3zM239.6 473.9l-4.2 .1 4.2 .7zM235.8 474.6l-1.2 1.7 -1.7 -.2 1.3 -1.5zM249.1 478.2l1.5 -.9 .9 1 -.8 .9zM263.4 476.9l.2 1.6 -1.2 1.4 -.1 -1.5zM278.9 480.6l-1.9 4.7 1.9 -3.9zM284.6 479.4l1.9 -.2 1.4 .8 -2 .4zM287.4 477.6l2.1 .7 .8 2.3 -2.5 -1.2zM291.4 482.7l1.3 6.2 -1.3 -5.4zM296.5 476.7l-2.1 1.6 -1.9 -.5 1.2 -1.2zM295.8 475.3l-1.5 .5 -.9 -.5 .5 -.7zM330 476.8l1 1 -.8 1.3 -1.2 -.9zM329.9 478.9l-.9 5.2 .9 -4.4zM182 480.9l2.4 .9 .1 1.6 -1 .1zM195.1 483.1l-1.1 1.7 -2.4 -.1 1.6 -1.6zM190.9 484.1l-1.4 4.1 1.4 -3.3zM203.8 487.6l2.5 -.3 1.1 1 -1.6 .3zM205 483.3l-1.8 4.1 1.8 -3.3zM215.6 485.9l.2 1.7 -.7 .6 -.6 -.6zM223 481.4l1.8 .3 1 2.5 -2.6 -1zM233.1 484.4l2.3 .9 .2 1.1 -1.4 -.3zM250.9 495.6l2.3 5.5 -2.3 -4.7zM249.4 487l.7 5.1 -.7 -4.3zM250.6 479.6l-1.8 1.1 -1.1 -.7 .8 -1.1zM247.4 480.4l-2.8 -1.7 2.8 2.5zM257.9 492.5l-4.6 -1.3 4.6 2.1zM256.5 481.7l1.4 2.4 -.9 1.7 -1 -1.7zM270.2 480.6l-.9 1.5 -1.7 -.2 .6 -1.4zM266.1 482.5l-4.4 1.7 4.4 -.9zM278.5 481.4l-3.4 4 3.4 -3.2zM272.8 482.9l1.6 1 .4 1.3 -1.7 -.6zM291.9 478l-.1 1.6 -1.9 1.5 .8 -2.2zM284.2 484.8l1.7 .8 -.1 1.3 -1.3 -.6zM281.9 484.2l1.9 .1 .2 1.4 -1.6 .4zM285.7 486.7l5 3 -5 -2.2zM301 480.3l1.6 .5 .1 2.4 -1.9 -1.3zM306.1 479.7l1.8 1.7 0 1.3 -1.2 -.4zM325.3 494.6l3.6 5.4 -3.6 -4.6z" fill="#221a5c" stroke="#221a5c" stroke-width="0.9" stroke-linejoin="round"/>
<path d="M189.3 393.6l.7 -.5 1.6 .7 -1.7 .6zM201.6 394.9l-.6 .7 -1.6 -.4 1.2 -.9zM210.6 392.2l.8 1.2 -1.1 1.3 -.6 -1.9zM205.5 388.9l1.5 1.5 -.1 1.2 -.9 -.2zM204.4 383.7l.9 .9 -.3 1.1 -1 -1zM223.8 390l.8 1.1 -.5 1.3 -.7 -1zM251.5 394.3l1.7 .8 -.2 1.3 -1.1 -.1zM256.5 391.1l-1 1.3 -2.5 -.2 2.3 -1.3zM264.9 383.6l-.9 .9 -1.8 -.7 1.1 -1zM272.6 391.6l-1.2 2.2 -1.6 .4 .7 -1.6zM277.2 384.2l.8 1.2 -1.3 1.1 -.2 -2zM296.7 388.3l-.6 1.4 -.9 .2 -.2 -.7zM302.4 392.4l-.8 1.6 -1.9 .2 1.4 -1.7zM324 388.6l.3 1.4 -1.7 1 .6 -2.2zM332.9 385.5l-.4 2.1 -1.6 1 0 -1.8zM329.2 395.3l2.2 -.3 .8 .9 -1 .6zM188.5 392.1l-1.8 1.2 -1.1 -.4 .9 -1.1zM202.2 400.7l1.5 1.7 -.4 1.3 -1.1 -1.1zM205.5 397.3l-1 .5 -2.6 -.3 2 -.8zM204.2 394.5l1.3 .8 -.3 1.6 -1.2 -.7zM236.1 399.6l.9 1.4 -.6 1.3 -1 -1.2zM228.3 402.3l1.3 .8 .1 1.5 -1.5 -1zM241.1 402.2l1.7 .9 0 1.4 -1.4 -.8zM237.5 395.2l1.5 -.1 .5 1.4 -1.3 .2zM251.6 397.6l0 1.6 -1.8 .3 .4 -1.7zM252 399.1l1.1 -.8 1 .8 -1.3 .7zM269.6 400.8l1.3 1.3 -.4 2.2 -1.1 -1.7zM274.4 402.7l2 .4 .4 1.1 -1.4 0zM282.2 401.6l1.3 .3 .2 1.4 -1.2 .1zM281 393.1l-1 .9 -1.2 -.2 .4 -.7zM291.6 392.8l.6 1.5 -1 1.9 -.7 -2.1zM304.9 401.3l1.1 1.5 -.8 1.4 -1.1 -1.1zM318.9 394.7l1.7 -.6 2.1 1.1 -1.9 .7zM318.5 399.9l1.4 .8 0 .8 -1.1 -.5zM183.3 407.3l1.1 1.6 -.6 1.3 -1.1 -1zM207.5 411.8l-1.2 1 -2.3 -.4 1.8 -.9zM207.2 404.5l-1.6 .8 -1 -.6 1.1 -.8zM235 409l1.2 .9 .1 2.1 -1.3 -1.5zM244.2 414.2l-1.5 1.7 -1.8 -.3 .7 -1.3zM250.3 409.8l1.6 .2 .2 1.6 -1.9 -.7zM254.8 401.5l1.3 1 -.3 1.4 -1.2 -1zM265.8 400.7l1 .8 0 2.3 -1.5 -2.2zM294.9 407.9l1.9 -.5 1.8 1.1 -1.6 .7zM299 411.4l-.1 2.4 -1.6 .5 -.2 -1.4zM300.2 409.6l1.2 .8 0 1.6 -1.4 -.6zM305.9 406.7l1.7 -.3 1.9 1 -2 .1zM332.2 406.2l1.7 -.4 .7 .7 -1.2 .7zM217.3 416.3l2.2 -.2 1.1 .9 -1.3 .3zM250.4 421.2l1.1 -.1 .6 1.3 -1.1 -.1zM269.7 417.5l1.2 .7 1 1.8 -1.6 -.8zM270.9 417.8l0 1.5 -1.7 .8 .6 -2zM285.9 423.4l-.3 1.7 -1.9 .5 .8 -2zM282 415.6l.3 1.9 -.7 1 -.6 -.7zM287 413.7l1.7 .7 .3 2.1 -1.6 -.9zM287.8 416l1.1 -.1 1.5 1.8 -2.1 -.3zM299.3 414.1l.2 1.7 -1 1.4 -.5 -1.8zM298.9 410.8l.9 1.1 0 1.5 -1.1 -.8zM317.7 417.6l1.5 .9 -.2 1 -1 -.1zM334.8 412.6l-.5 1.8 -1.8 .7 .4 -1.8zM324.9 419.2l1 1.1 .1 2.4 -1.2 -2.2zM335.8 410.7l1 1.3 -.9 1.3 -1 -1.7zM185.3 421.3l-1.5 .8 -1.4 -.8 1.7 -1zM199.6 431.7l1.8 -.1 1.3 1.1 -1.6 .4zM192.2 423.2l1.9 .2 .6 1.6 -1.5 -.1zM213.3 427.4l-.7 1.7 -1.2 -.4 -.2 -1zM209.7 427l1 .9 .6 1.8 -1.6 -1.3zM240.2 430l2 -.3 .6 1 -1.2 .6zM240 430.5l1.4 .3 .1 1.7 -1.5 -.6zM253.4 429.3l-.8 1.5 -2.2 .1 1.2 -1.5zM259 428.7l.2 1.8 -.8 .8 -.3 -1.2zM267.1 430.4l1.4 -.4 1.2 1.5 -1.7 0zM272.6 433.4l1.6 -.9 1.4 .6 -1.1 .7zM281.5 421.3l.5 2 -1.2 .5 -.6 -.8zM272.7 430.4l1.8 1.4 .1 1.8 -1.5 -.6zM285 427.9l2.4 -.6 .9 1 -1.3 .9zM286.6 420.6l.5 1.9 -.9 1 -.5 -1zM303.7 423.1l-.4 1.5 -2.1 .3 1.2 -1.9zM314.9 430.2l-.8 .8 -1.8 -.5 1.5 -1.3zM324.3 424.6l-.5 1.3 -1.3 .9 .2 -1.3zM333.8 421.1l.9 1.5 -.6 1.9 -.9 -1.8zM326.6 430.6l-.5 .9 -1.9 .6 1.6 -1.7zM204.1 441.2l-1.7 1 -1 -.5 .9 -.6zM207 437.4l-.7 2 -1.1 .3 -.2 -1zM210.2 437.9l-1.4 1.6 -1.1 -.1 .4 -.9zM226.6 429.7l.9 1.2 -.6 2 -1 -1.6zM218.8 432.5l.1 1.3 -1.3 2.3 .1 -2.8zM223.3 435l-.3 1.6 -1.3 .3 .2 -1.6zM216.6 431.6l.4 1.3 -1 2 -.4 -2zM248.5 442.1l-1.1 1.9 -1.4 .3 .4 -1.1zM259.4 439.1l-1 1 -1.1 -.3 .4 -1zM272.9 431.8l1.7 -.7 1.3 .9 -1 .5zM327 434.1l.1 1.9 -1.3 1.2 -.2 -2.1zM182.1 448.4l1.2 -.5 2.1 1.3 -2.4 .3zM197.2 450.4l-.8 .8 -1.4 -.4 1.5 -1.2zM202.3 449.1l1.1 2.2 -.7 1.4 -.9 -.7zM207.6 442.8l1.2 -.9 2 1.1 -1.9 .6zM215.9 452.3l-.4 1.7 -1.2 .3 0 -1.4zM223.7 446l1.5 .1 0 1.5 -1.5 -.2zM232.7 451.9l-1.7 1.6 -1.3 -.7 .4 -1.1zM224.4 452.4l.1 1.6 -.9 1 -.3 -.9zM243.7 440.1l-1.6 2.1 -1.4 -.1 .7 -1.5zM235.9 442.6l-.8 1.9 -1.2 -.3 -.2 -1zM244.1 453.3l.9 .4 .7 1.6 -1.4 -.4zM271.6 452.4l1.3 .2 .8 .9 -1.4 .1zM281.9 443.9l.2 1.8 -1.1 1.4 -.1 -2.2zM298.4 440.7l2 .3 .3 1.4 -1.7 -.2zM301.4 452.2l1.1 .8 .2 2.2 -1.6 -1.8zM307.7 442.7l2.1 -.2 .9 .7 -.7 .5zM337 443.7l1.1 2.3 -.9 1.4 -.9 -1.2zM190.1 455.4l-1.3 1.2 -1.5 -.3 1.4 -1zM185.1 456.9l-1 .6 -2.1 -.6 1.6 -.7zM188.3 461.6l1.4 .6 0 1.4 -1.4 -.2zM206.9 461.7l-1 1.2 -1.5 -.5 .6 -1.1zM194.9 463.2l2.1 .8 .7 1.3 -1.1 -.3zM216.3 451l0 1.4 -1.4 1 -.1 -1.6zM214.6 450.8l.3 1.5 -1 1.8 -.3 -2.4zM250.4 459.8l-1.2 1.8 -1.9 .4 1 -1.4zM267.6 456.6l-.8 1.7 -2.2 -.1 1.3 -1.6zM316.1 458.8l.6 1.8 -.9 .8 -.8 -1.3zM317.1 456.2l-.4 1.7 -1.6 1.2 .7 -2zM335.6 458l-.3 1.8 -1.6 .5 -.1 -1.4zM211.4 469.5l-1.3 1.3 -1.5 -.8 1.3 -1.1zM217.2 471.5l1.4 .4 .2 .9 -1 0zM240.9 472.4l-.1 1.6 -1.7 .2 .5 -1.8zM252.7 461.9l-.1 1.5 -1.8 .5 .4 -1.6zM258.5 464.2l.1 2.5 -1 1 -.7 -1.1zM275.2 461.5l-2.3 .9 -1.3 -.4 1.2 -.9zM276.5 464.8l1.9 .6 .8 1.4 -1.5 -.3zM284.3 463.6l1.9 1.1 .4 1.8 -1.7 -1zM297.2 462.9l-.7 1.3 -1.1 -.1 .4 -1.3zM338 473.7l-1.4 .5 -1.3 -.8 1.6 -.8zM328.2 460.4l1.9 .1 1.1 1.6 -2.3 -.6zM334.7 458.7l1.9 1.7 -.3 1.7 -1.2 -.4zM198.1 481.3l1.4 -.4 .9 .8 -1.6 .4zM203.3 469.2l1.8 1.2 0 1.8 -1.3 -.5zM233.5 469.3l1.6 0 1.8 1.7 -2.9 -.5zM245.4 477.5l1.8 .2 1 1.6 -1.7 .1zM278.2 480l1.8 -.8 .4 1 -.5 1zM284.2 476.6l-.8 .7 -1.3 -.9 1.1 -.9zM289.1 479.3l1.6 -.2 1.6 .6 -1.4 .5zM305.1 471.5l-.3 1.9 -1.6 .5 .3 -1.6zM317 470.4l1.9 .2 .6 1.3 -1.5 .3zM335 477.7l-1.2 1.7 -1.8 .4 .8 -1.5zM200.4 489l.3 1.1 -.8 2.3 -.4 -2.3zM206.9 486.6l1.6 .2 1.4 2.1 -2.6 -.6zM220.7 488.7l1.5 .8 .8 1.8 -1.7 -1.2zM219.4 481.9l2.2 0 1 1.4 -1.4 .3zM233.1 488.7l1 -.4 1.2 1 -1.8 .4zM259.1 482.1l1.6 .1 .4 1.1 -1.5 .1zM263.8 485.4l1.2 -.7 1.9 1 -1.6 .6zM273.6 490.8l1 1.5 -.6 1.5 -1.1 -.8zM264.8 482.6l-1.3 1.1 -.8 -.8 .7 -.8zM282.8 479l-.3 1.5 -2.3 .3 1.7 -2.2z" fill="#5a4fc0"/>
</g></g>
<defs><filter id="fblur" x="-5%" y="-5%" width="110%" height="110%"><feGaussianBlur stdDeviation="0.5"/></filter></defs>
<path filter="url(#fblur)" d="M48.3 635.6h0M35.2 645.9h0M60.5 621.7h0M59.6 624.9h0M30.1 641h0M33.5 641.5h0M53.6 628.8h0M38.8 634.7h0M71.3 622.6h0M50 627.6h0M102.5 605.5h0M45.4 636h0M37.2 641.7h0M85.2 609.9h0M34.5 633.3h0M47.7 627.6h0M62.8 623.2h0M39.3 637.6h0M70.5 612.2h0M65.9 621.5h0M53.7 624.5h0M78.1 620.5h0M38.5 631.5h0M87.5 602.3h0M74.8 610h0M41.1 647.4h0M52.6 628.3h0M56.2 622.7h0M29 639.2h0M60.3 615.1h0M87.4 602h0M69.1 624.9h0M59.9 613.4h0M96.3 602.2h0M56.1 624.9h0M73.4 612.8h0M74.3 623.9h0M43.5 633.7h0M50 629.3h0M55.2 625.5h0M37.5 639.4h0M80.3 611.2h0M34.9 639.8h0M91 608.3h0M29.7 636.7h0M90.6 605.3h0M85.3 609.5h0M50.8 626h0M53.1 637.9h0M31.9 632.8h0M37.5 638.5h0M59.1 627.8h0M65.2 619.9h0M52.8 628.5h0M43.6 621.9h0M70.8 610.8h0M56.8 619.4h0M29.1 638.2h0M91.9 604.3h0M77.2 601.2h0M49.8 628h0M69.4 618.6h0M33.4 644.1h0M37.3 639.7h0M47.3 631.8h0M36 639.1h0M33.2 640.1h0M89.2 605h0M68.3 620.3h0M49.2 633.7h0M52.3 635.9h0M102.7 602.5h0M54.9 624.4h0M33.7 640.8h0M47 630.9h0M41.2 645.7h0M33.4 647h0M34.9 637.8h0M64.6 626.7h0M98.6 599.1h0M87.2 604h0M47.2 627.8h0M37.3 639.1h0M77.6 605.2h0M47.3 633.3h0M103.1 604.7h0M88.5 608h0M73 605.4h0M37.9 632.8h0M30.4 642.1h0M30.3 642h0M75.3 617.3h0M90.6 591.2h0M100.8 600.6h0M94.8 597.9h0M41.5 638.3h0M39.4 638.9h0M94.4 607.9h0M82.3 600.9h0M82.8 609.3h0M29.9 636.7h0M76.3 602.6h0M76.6 609h0M81.7 609.5h0M48.8 635.2h0M44.7 619.7h0M55.1 634.7h0M35.7 636.4h0M37.9 644.6h0M87.3 614.9h0M38.9 644.1h0M64.4 607h0M46.7 629.3h0M29.9 642.2h0M95.6 596h0M91.6 597.2h0M56.8 632.3h0M35.9 631.8h0M41.2 634.6h0M66.7 622.7h0M41 633.3h0M92.6 603.3h0M45 626.3h0M92.3 603.9h0M55.2 631.9h0M59.4 620.6h0M62.8 627.2h0M38 638.4h0M30.5 643.7h0M55 623.4h0M74 609.6h0M59 622.3h0M62.8 622h0M61.8 619.6h0M40.7 634.4h0M63.2 630.3h0M63.4 621.8h0M48.9 618.7h0M64.1 614.2h0M73.3 614.3h0M52.2 622.4h0M94.1 599.6h0M78.2 620.5h0M38 628.7h0M67.3 628.1h0M33.6 637h0M33.6 638.7h0M41.3 636.3h0M30.2 638.3h0M87 597.3h0M35.4 637.8h0M32 633.9h0M91.2 606.5h0M95.4 599.3h0M43.7 617.7h0M85.8 607.7h0M33.8 634.6h0M48.4 633.6h0M36.7 635h0M34 647.4h0M62 621h0M46.8 632.3h0M67 616.7h0M98.6 597.8h0M82.5 611h0M42.3 634.5h0M31.4 642.8h0M33 636.8h0M56.7 633.9h0M39.7 631.4h0M38.7 643.4h0M72.5 611.7h0M36.6 646.4h0M54.4 629.9h0M35.6 646.4h0M81.2 606.5h0M33.4 642h0M87.1 603.9h0M53.4 624h0M96.1 605.4h0M44.7 637.9h0M43.1 639.2h0M34.4 641h0M39.4 638.3h0M44 630.7h0M47.9 639.8h0M59.4 625.8h0M32.4 645.9h0M45.6 641.5h0M62.6 622.4h0M32.4 629h0M34.7 641.9h0M81.4 603.5h0M86.5 608.5h0M47 623.6h0M98.2 597.8h0M49.3 634.5h0M65.5 612.3h0M51.1 628.1h0M35.6 640.8h0M32.1 641.4h0M34.7 635.8h0M35.5 645.3h0M67.4 609.3h0M43.6 634.3h0M57.5 629.4h0M34.5 636.1h0M97.2 600.3h0M95.7 595.9h0M96.4 598.2h0M45.2 632.9h0M50.1 630h0M54.9 623h0M58.8 624h0M30 642.8h0M52.3 630.7h0M33.2 645.4h0M40.8 636.5h0M60.9 613.9h0M69.8 615.2h0M77.1 615.9h0M44.6 629.7h0M101 601.5h0M72.6 622h0M33.9 646.3h0M63.7 611.1h0M77.3 613h0M58.9 621.3h0M61 627.6h0M80.8 601.2h0M67.7 624.6h0M71.1 610.9h0M41.7 638.2h0M48.9 631.2h0M35.4 643h0M65.5 613.8h0M66.9 616.1h0M28.5 639h0M82.1 608.7h0M58.1 618.1h0M74.4 621.9h0M43.3 637.8h0M32 640.8h0M42.9 643.2h0M80.2 616.2h0M49.6 629.1h0M55.2 622.7h0M63.5 612.6h0M70.6 619h0M42.4 636.3h0M76.5 610.1h0M33.2 647.4h0M31.4 641.1h0M77.1 620.1h0M71.3 614.2h0M58.7 630.4h0M59.8 631.8h0M42.1 642.7h0M98.4 599h0M55.3 626h0M86.7 611.5h0M42.1 633.9h0M40.8 639.4h0M64 619.4h0M29.5 630.2h0M34.1 638.3h0M78.9 599.6h0M74 613.5h0M42.7 639.6h0M28.9 640h0M28.5 638.9h0M44.9 633.5h0M34.3 637.6h0M87.6 609h0M30 643h0M29.7 632.9h0M92.2 599.5h0M38.8 625.9h0M42.3 619.5h0M70.8 628.5h0M46.8 628.1h0M32.2 643.4h0M34.6 642.2h0M92.4 598.2h0M41.2 635h0M41 642.2h0M54.4 637.7h0M82 605.8h0M73.5 625.4h0M59.1 617.3h0M79.5 618.8h0M56.1 628.5h0M77.1 609.3h0M29.8 639.7h0M95.4 604.3h0M49.5 634.6h0M44 632.8h0M35.4 624.7h0M69.5 614.9h0M53.9 633.8h0M37.7 639.9h0M93 604.7h0M59.2 626h0M105 605.2h0M55.8 628.3h0M34.3 642.9h0M48.9 633.9h0M43 636.6h0M66.8 625.6h0M49.5 624.4h0M49.9 624.8h0M46.7 631.2h0M30.8 640.1h0M41.1 647.4h0M55.3 619h0M36 631.3h0M42.8 634.6h0M57 630.7h0M98.8 604.2h0M28.5 636.5h0M29.5 640.5h0M51.4 617.9h0M67.5 623.7h0M93.4 601.3h0M88.6 613.3h0M36.2 627.5h0M35.6 643h0M75 618.8h0M94.1 599.5h0M75.9 605.2h0M54.7 625.4h0M80.6 609.2h0M43.6 640.8h0M43.2 630.6h0M34.8 639.8h0M77.4 619.5h0M36.8 644.5h0M66 622.2h0M51 630.4h0M33.5 647.4h0M38.7 624.1h0M71.1 619.3h0M87.8 601.1h0M41.6 636h0M95.8 598.4h0M28.5 639.6h0M57.1 622.6h0M39.7 631.6h0M73 618.2h0M30.1 641.2h0M43.8 626.8h0M40.3 640.1h0M81.9 608.4h0M36 632.7h0M95.5 596.2h0M44.6 642.6h0M40 636.7h0M93.6 596.7h0M58.8 625.5h0M54.1 630.7h0M72.5 617.9h0M50.4 628.6h0M40.7 638.9h0M31.3 641.7h0M28.5 635.5h0M92.9 608.8h0M82.4 621h0M46.4 632h0M41.6 643.6h0M29.2 640h0M69.4 613.3h0M48.3 634.6h0M39 641.5h0M48 631.2h0M100.5 606.6h0M43.5 643.9h0M50.3 634h0M49.4 621.2h0M29 638.5h0M93.2 602.4h0M34.8 632.3h0M34.7 647.4h0M53.6 631h0M28.5 636.3h0M36 647.4h0M44.1 638.4h0M79.7 614.3h0M41.6 632.5h0M94.7 597.3h0M74.1 611.2h0M45.7 632.6h0M78.8 611.4h0M88.6 595.9h0M28.5 635.9h0M34.5 626.7h0M96.8 601.2h0M50.3 629.6h0M60.6 628.6h0M95.3 604h0M81.3 618.2h0M84.8 608h0M43.1 627.1h0M43.1 628.3h0M35.9 646.3h0M38.5 637.5h0M30.1 638.9h0M28.8 639.3h0M97.5 597.1h0M91.5 606.8h0M32.7 640.9h0M29.5 634.9h0M54.6 626.9h0M37.6 631.5h0M73.6 618.1h0M80.1 614.6h0M31.5 635.5h0M85 605h0M52.5 634.9h0M77.8 612.9h0M43 638.3h0M38.5 642.7h0M44.2 629h0M53.9 633.7h0M40.3 635.9h0M78.8 601.5h0M28.5 631.2h0M58.6 628.6h0M88 595.5h0M30.7 641.8h0M39.3 639.5h0M92.6 591.1h0M46.5 625.9h0M86.2 602.1h0M81.1 610.7h0M97.7 604.2h0M69.7 621.4h0M38.7 635.3h0M39.9 638.7h0M38.9 630.8h0M36.7 634h0M28.5 640.2h0M41.1 642.9h0M46.7 634.8h0M66.2 628.4h0M33.9 644.8h0M63.7 624.1h0M70.4 619.2h0M74.5 615.5h0M51.5 627.9h0M97.8 602.9h0M43.3 629.6h0M51.5 626.8h0M90.3 608.5h0M38.4 637.4h0M76.4 612.7h0M91.4 603.2h0M54 629.6h0M87.3 600.4h0M55.8 626.5h0M62.7 622.3h0M70.1 618.6h0M67.2 617.3h0M47.9 628.2h0M43.5 634h0M61.1 624.9h0M57.2 624h0M84.4 610.8h0M34.4 639.4h0M97.7 604.6h0M31.1 641.3h0M89.3 595.2h0M71.1 623.5h0M86.8 610.7h0M43.6 642.1h0M54.2 632.8h0M33.9 632.1h0M37.3 633h0M51.9 632.4h0M34.7 640.1h0M94.8 609.1h0M28.5 636.4h0M29.4 639.9h0M88.1 610.2h0M64.4 625.3h0M67.3 616.6h0M67.1 623.9h0M51.6 625.6h0M51.7 623.8h0M28.4 639.5h0M38.7 633h0M79.8 611.4h0M34.8 634h0M57.5 627.2h0M54.2 628.8h0M30.4 636.7h0M32.1 643.9h0M72.4 622.8h0M82.5 612.8h0M62 628h0M50.7 631.5h0M98.8 604.8h0M103.3 602.8h0M77.3 613.3h0M96.9 595.8h0M63.1 632.8h0M35.3 636.3h0M82.2 610.5h0M47.6 630.6h0M81.5 615.4h0M47.5 641.1h0M85.5 610.5h0M95.1 605.2h0M38.9 636.7h0M48.8 637h0M31.6 643.3h0M95.6 602.8h0M73.6 617h0M80.2 608h0M30.8 635h0M47.9 629.8h0M85.6 599.8h0M88.4 602.2h0M37.2 645.9h0M50.7 629h0M81.5 607.7h0M71.8 631.9h0M48.8 631.2h0M34.7 634.1h0M82 618.3h0M43.1 637.3h0M72.4 622.3h0M70.8 615.5h0M46.1 633.8h0M35.9 639.1h0M64.6 614.4h0M91.9 605h0M35.5 640.5h0M34.1 647.4h0M29.3 641.9h0M49.3 632.3h0M37.2 632.1h0M37.2 634.7h0M66.6 616.1h0M94.5 601.1h0M41.8 636.7h0M69.9 618.7h0M89 605.3h0M40 631.1h0M28.5 639.9h0M45.4 627.4h0M64.2 608.7h0M78.8 615.3h0M42.1 636.4h0M60.4 622.1h0M51.8 628.9h0M81.4 611.1h0M28.5 634.4h0M33.7 636.5h0M36.3 633.9h0M67.5 614.4h0M84.5 609.3h0M46.5 636.3h0M34.7 647.1h0M72.5 609h0M32.4 646.4h0M52.5 620.8h0M75.8 609.2h0M34.3 641.3h0M42.7 639.4h0M78.7 612.2h0M75.8 617.7h0M39.3 629.9h0M58.5 615.6h0M61.9 625.8h0M38.5 628.7h0M34.6 629.1h0M91.2 606.9h0M40.9 636.2h0M81.5 617.5h0M45 630.1h0M88.4 602.7h0M93.3 604.9h0M67.2 615.8h0M94.7 593h0M58.2 628.9h0M84.1 600.4h0M53.4 626.5h0M42 628.2h0M38.6 635.8h0M91.3 601.2h0M36.8 641h0M93.8 601.5h0M47.9 632h0M31.6 643h0M70.9 610.6h0M74.2 607.7h0M30.1 638.7h0M82.6 605.7h0M84.8 608.6h0M87.6 603.9h0M93.4 603.7h0M38.6 636.5h0M38.7 647.4h0M84.4 609.5h0M70.3 620h0M40.7 629.2h0M36.9 645.9h0M41.3 640.8h0M45.4 631.9h0M42.2 635.5h0M43 633.3h0M43.7 629h0M91.9 591.8h0M67.4 618.2h0M28.5 639.1h0M81.5 612.2h0M46.8 630.1h0M36.6 632.2h0M91.6 610.9h0M39.5 642.2h0M31.3 644.9h0M102 604.4h0M28.5 638.6h0M82.3 609h0M35.5 634.4h0M85.2 606.9h0M44.1 637.9h0M38.8 635.7h0M72.8 612.3h0M68.9 617.4h0M33.6 642.6h0M77.6 603.7h0M66.7 615.5h0M52.9 632.3h0M94.6 610.2h0M33.3 646.7h0M38.5 636.4h0M63.8 632.3h0M51.2 632h0M54.4 624.4h0M60.9 622.9h0M65.6 610.6h0M47.1 630.3h0M87.3 608.1h0M70.9 616h0M52.5 624.9h0M79 608.3h0M55 625.2h0M89.9 603.9h0M46.3 635.8h0M75.1 615.1h0M35.1 637.1h0M40 633.4h0M39.2 642.8h0M48.9 636h0M82.6 622h0M34.7 642.3h0M49.9 629.3h0M99.7 599.7h0M49.9 621.5h0M37.7 636.3h0M38.1 635.7h0M52.9 633.3h0M82.1 609.9h0M70 609.1h0M55.7 626.1h0M33.5 636.3h0M75.9 609.5h0M88.8 598h0M79.5 613.5h0M53.3 628.9h0M93.2 610h0M78.7 607.8h0M67.8 608.2h0M67.3 614h0M68.9 618.8h0M29.6 635h0M77.2 616.5h0M68.4 617.8h0M57.8 630.4h0M64.6 613.5h0M95.7 604.2h0M35.3 634.3h0M47 624.1h0M58.4 625.8h0M61.6 622h0M37.7 640.5h0M54.1 614.6h0M30.8 636.5h0M74.1 611h0M56.4 619.2h0M56.5 617.8h0M53.6 631h0M72.2 614.1h0M50.9 629.5h0M97.3 596h0M50.1 633.8h0M51.9 630.1h0M28.5 639.4h0M75.1 616.1h0M47.9 630.9h0M79.2 614.5h0M92.9 598h0M82.2 608.1h0M51 629.9h0M81.7 611.8h0M81.3 605.2h0M61 618.1h0M42.4 639.8h0M68.6 616.5h0M85.1 609.2h0M41.7 629.8h0M65.4 627h0M51.5 636.1h0M86.5 605.3h0M44.1 638.9h0M53.2 627.9h0M76 613.1h0M43.5 634.3h0M59 628.5h0M50.9 624.1h0M46 626.5h0M94.1 602h0M84.1 606h0M91.8 603h0M83.7 604.8h0M69 618.2h0M95.7 599.9h0M70.5 616.4h0M36.7 641.1h0M40.9 636.6h0M33.8 635.6h0M91.8 603.2h0M88.8 601.2h0M67.4 620h0M86.9 597.8h0M82.2 610.6h0M72 612.3h0M60.6 622.6h0M86.9 599.9h0M62.4 621.4h0M37.2 642.2h0M60.5 628.6h0M36.7 640.8h0M54.7 620.1h0M87.8 605.1h0M31.6 645.2h0M60.8 617.7h0M72.5 617.9h0M50.6 625.1h0M99.6 604.1h0M70.5 619.9h0M28.5 638.2h0M91.5 597.4h0M49.5 636.6h0M57 624.5h0M94.7 608.9h0M68.8 619.3h0M48.7 634.1h0M54.8 622.8h0M60.5 623.4h0M52 624.8h0M48.5 621.4h0M42.6 631.3h0M82.3 603.4h0M44.5 637.1h0M62.5 629.4h0M81.1 608.2h0M45.8 630.8h0M66.9 622.9h0M68.9 617.7h0M75.2 611.8h0M89 602.6h0M44.4 633h0M32.1 646.1h0M71.9 626.8h0M71.9 618.3h0M61.7 610.7h0M64.7 614.4h0M63 615.4h0M73.3 616.4h0M58.9 631.8h0M80.5 612.6h0M31.9 643.8h0M83.3 614.7h0M47.3 627.6h0M85 608.4h0M38.9 630.4h0M42.9 630.4h0M54.4 629.2h0M70.1 618.3h0M63.2 620.5h0M34.4 647.4h0M67.2 625.2h0M92.3 601.2h0M50.5 629.8h0M71.8 629.5h0M54 621.5h0M55 632.8h0M41.5 640.1h0M36.3 639.4h0M72.7 615h0M35.6 641.6h0M88.1 604.3h0M38.8 645.7h0M41.5 636.4h0M77.1 612.7h0M80.9 611.1h0M77.6 617.1h0M29.7 636.4h0M67.6 616.8h0M91.3 597h0M45.6 641.1h0M29.3 641.5h0M28.5 638.8h0M28.9 635.7h0M47.9 629.9h0M89.4 598.9h0M64.7 627.8h0M69.5 620h0M56.5 622.9h0M84.4 603h0M48.5 622.6h0M51.5 618.5h0M55.8 630.5h0M75.9 592h0M67.1 617.6h0M103.1 598.6h0M80.2 613.9h0M67.4 611.2h0M104.7 600.5h0M43.3 623h0M59.8 629.7h0M74.5 608.2h0M76 625.6h0M41.9 624.7h0M29.7 641.4h0M73.2 623.8h0M88.9 606.6h0M88.7 603h0M91.1 610.9h0M41.8 626h0M93.1 606.6h0M90.7 590.8h0M55.2 635.7h0M89 610.3h0M40.8 635.2h0M33.6 619.1h0M68.7 613.1h0M37.1 628.6h0M44.4 633h0M52 612.3h0M36.4 643.3h0M36.4 623.6h0M75.1 628.1h0M58.9 612.5h0M58.2 619.2h0M38.8 633.3h0M38.3 634.1h0M63.6 612.6h0M52.6 622.7h0M31.5 640.5h0M102.4 593.1h0M74.1 617h0M88.6 611.5h0M55.1 636h0M64.8 622.2h0M103.3 595.8h0M87.1 594.3h0M45.3 633.3h0M76.2 593.5h0M88.2 614.7h0M91.2 609.7h0M30.8 640h0M41.5 636.3h0M33.6 643.1h0M69.8 623.5h0M96.1 592.9h0M101.1 607.9h0M56.6 629.8h0M38.8 643h0M66.5 617.1h0M79.1 623.5h0M52.5 624.1h0M63.9 632.9h0M112.1 609.3h0M45.1 639h0M51.9 629.7h0M101.8 610.4h0M28.5 634h0M84 604.5h0M97.1 587h0M36.5 647h0M104 606.8h0M74.7 610h0M88.2 616.4h0M33.6 636.7h0M38.8 642.5h0M62.2 624.7h0M39.8 641.5h0M82.8 622.6h0M40.9 636.2h0M33.9 645.1h0M96.9 596.7h0M94 605.1h0M56.8 621.9h0M41.5 647.4h0M69 609.8h0M54.6 617.6h0M66.8 632.6h0M74.1 617.9h0M34.6 644h0M77.2 607.3h0M91.9 601h0M43.1 629.3h0M46.7 634.1h0M88.8 602h0M63.6 625.3h0M50.3 632.7h0M101 594.4h0M37.1 647.4h0M37.8 629h0M59.8 621.5h0M43.9 639.9h0M66.2 647.4h0M96.6 597.9h0M32.4 635.8h0M40.7 647.4h0M77.4 605.2h0M41.3 647.4h0M86 603.8h0M31.9 644.9h0M86.8 600.3h0M56.8 624h0M97.3 601.6h0M42 645.7h0M40.3 637.3h0M34.2 625.4h0M38.2 647.2h0M64.7 626.3h0M47.2 634.4h0M84.2 619.3h0M85.3 601.7h0M31.5 638.1h0M75.6 601.2h0M35.8 646.1h0M83.6 599.3h0M98.8 613h0M70.5 635.7h0M61.3 624h0M92.5 601.7h0M91.9 608.4h0M54.2 631h0M73 622h0M28.5 635.1h0M62.9 619.9h0M34.2 635.7h0M85 591.1h0M48 628.5h0M78.7 602.6h0M39.5 647.4h0M54.7 610.5h0M58.3 613.2h0M29.8 640.1h0M101.5 597.5h0M37.3 642.9h0M44.5 633.7h0M33.6 637.7h0M78.4 611.8h0M70.8 617.7h0M62 608h0M33.9 637.5h0M92.3 601.9h0M34.8 636.3h0M58.5 616.7h0M35.9 638.2h0M58.6 631.6h0M95.9 609.1h0M31.4 627.9h0M35.5 632h0M92.5 610.4h0M54.6 623h0M86 597.6h0M98.2 597.3h0M83.1 604.8h0M52.5 633.3h0M64.5 636h0M95.5 598.5h0M88.7 606.4h0M62.5 619h0M103.1 601.8h0M55.1 623.4h0M69.5 609.7h0M36.7 646h0M56.3 623.5h0M36.9 637.5h0M102.9 599.2h0M63.4 600.2h0M93.7 615.4h0M28.5 632.4h0M72.8 613.5h0M51.6 641.6h0M70.5 627.3h0M41.5 629h0M54.8 606.3h0M50.6 637.8h0M46.6 628.8h0M68 614.3h0M97 592.5h0M59.4 622.7h0M66.1 621.8h0M38.1 640.5h0M44.2 626.9h0M45.4 636.3h0M28.5 627.9h0M68.7 612.6h0M66.1 615.6h0M76.9 607.4h0M53.9 615.1h0M58.2 620.5h0M48.3 630.7h0M66 625.4h0M52.9 626.3h0M50.9 628h0M92.3 603.3h0M66.7 630h0M49.8 636.9h0M84 607.1h0M45.6 647.4h0M60.9 629.7h0M29.3 635.1h0M84 613.9h0M36.8 641.2h0M91.5 625.2h0M35.9 633.9h0M79.4 617.7h0M75.8 622.6h0M57.6 611.2h0M81.2 608.9h0M53.5 612.1h0M83 603.2h0M28.5 624.5h0M99.5 613h0M69.1 617.6h0M67.1 629.7h0M54.8 623.6h0M89.1 613h0M49.2 621.1h0M52.3 614.1h0M48.6 633.9h0M50.2 620.9h0M47.6 627.8h0M88.3 611.1h0M54.1 618.2h0M39 634.6h0M70.2 621.1h0M76.3 629.6h0M53.9 637.3h0M95.7 612.1h0M32.4 621.4h0M57.1 625.9h0M31.6 640.3h0M58.3 604.1h0M84.5 607.7h0M70.1 627.3h0M63.5 620.6h0M74.1 607.6h0M72.1 620.6h0M56.8 637.6h0M62.2 617.2h0M31.7 634.6h0M69.9 623h0M75.6 629.8h0M54.1 611h0M48.1 609.5h0M41.1 614.1h0M65.5 621.6h0M46.5 626.6h0M104.3 599.7h0M31 631.9h0M92 596.6h0M96.2 584.6h0M92.1 598h0M47.9 633.1h0M60.5 616.9h0M39.5 635.8h0M69.5 610.3h0M101.2 591.8h0M77 621h0M86.7 608.4h0M47.8 630.4h0M47.4 630.2h0M85.1 595.7h0M37.4 630.5h0M59.1 616.9h0M72.8 612.5h0M69.9 628.3h0M55.4 625.7h0M39.7 644.2h0M40.7 647.4h0M37 642.7h0M92.9 611.5h0M71.6 616.7h0M29 639.6h0M81.3 603.2h0M57 637.5h0M38.6 636.1h0M97.4 603.3h0M66.1 613.4h0M57.2 632.6h0M36.4 647h0M97.1 592h0M55.4 621h0M29.7 637.6h0M100 602.2h0M92.3 596.3h0M86.2 602.3h0M105.6 605.4h0M64.7 626.2h0M53 625.4h0M80.4 611.4h0M96.5 607.3h0M61.8 623.6h0M36.1 631.7h0M55.8 634.8h0M56.7 646.9h0M70.8 624.4h0M56.9 632.2h0M56.8 629.2h0M89.6 605.9h0M51.2 628.7h0M48.9 635.8h0M49 642.8h0M51.7 631.1h0M37.5 636.2h0M43.6 629.6h0M92.6 608.9h0M92.8 609h0M89.1 609h0M83.3 615.2h0M55.6 631.6h0M99 596.6h0M63.2 622.3h0M40.8 644.8h0M78.2 610.1h0M77.7 630.7h0M52.4 628h0M47 643.3h0M96.3 607.5h0M68.9 624.7h0M45.9 633.1h0M70.8 607.4h0M66 615.8h0M37.6 645.4h0M41.4 639.4h0M72.3 608.8h0M31.7 633.2h0M60.8 619.2h0M50.4 636.1h0M43.8 636.3h0M35.5 637h0M51.7 621.1h0M97.3 602.1h0M83.6 589.8h0M36.4 637.6h0M77.5 614h0M72.8 609.4h0M78.2 618.8h0M78.2 611.5h0M58.9 640.8h0M73.2 616.4h0M98.1 602.7h0M80.8 609.1h0M30.4 639.2h0M39.4 638.4h0M56.5 632.3h0M29.4 637.7h0M44.8 644.4h0M84.2 594.8h0M41.6 628.6h0M55.8 622.3h0M28.5 636.6h0M90.1 605h0M28.4 635.8h0M90.3 601.6h0M42.9 632.1h0M36 639.8h0M93.8 595.6h0M87.7 617.1h0M57.4 631.7h0M83.7 611.3h0M31.2 634.9h0M91 585h0M81.8 618.5h0M84.2 613.6h0M53.6 616h0M30.9 638.4h0M59.1 614.6h0M102.4 606.5h0M36.6 647.4h0M79.5 612.9h0M62.9 614.6h0M98 591.6h0M40.2 627.1h0M29.9 636.3h0M44 640.2h0M52.3 636.9h0M80.6 620.4h0M43.5 634h0M62.8 631.8h0M96.3 595.4h0M96.6 605.7h0M33.8 632.2h0M86.5 603h0M66.1 619.4h0M73 609.3h0M63.3 606.1h0M90.9 607h0M34.6 637h0M44.8 640.7h0M32 639.6h0M81 615.4h0M60.9 628.3h0M62.1 626.7h0M52.7 629.3h0M31.7 643.9h0M103.3 595.5h0M78 607.8h0M100.5 593.3h0M60.6 620.9h0M59.1 627.7h0M34.9 647.4h0M93.4 594h0M93.8 591.6h0M74.3 613.8h0M39.9 642.4h0M32.2 643.2h0M39.6 619.1h0M34.8 627.9h0M91.6 589.8h0M40.4 639h0M74.4 597.5h0M52.3 634.5h0M55.8 640.9h0M48.7 622h0M88.1 602.4h0M48.3 641.5h0M73.7 617.2h0M85.9 601.2h0M90.7 584.9h0M59.4 618.1h0M47.4 630.9h0M74 626h0M41.4 641.3h0M59.6 627h0M31.2 640.5h0M59.9 628.2h0M36.1 647.4h0M94.4 610.7h0M51 616.4h0M43.7 627.6h0M52.1 618.9h0M44.7 620.5h0M91.1 608.2h0M97.3 603.1h0M60.8 628.9h0M65.6 616h0M36 643h0M38.7 613.5h0M98.6 604.2h0M102.4 618.5h0M70 612.9h0M93.2 614.3h0M73 619.6h0M38.3 616.9h0M56.4 615.7h0M72.8 612.3h0M97.4 606.9h0M33.3 644.9h0M63.8 632.9h0M31.8 636.3h0M65.3 612.3h0M50.8 617.6h0M53.4 625h0M39.1 644.1h0M73.6 631.2h0M37.4 641.7h0M32 635.5h0M64.6 620h0M71.1 626.2h0M40.7 631.3h0M62.4 619.5h0M72.8 622.8h0M35.2 643.1h0M60.9 629.7h0M75.6 604.5h0M92.2 622.9h0M88.1 623h0M36.7 642h0M35.4 630.8h0M94.1 587.2h0M34.1 633.5h0M87.4 611.7h0M53.7 629.3h0M28.5 638.1h0M45.9 628.5h0M71.3 599.1h0M75.6 621.4h0M84.5 589.1h0M89.2 596.7h0M38.6 636.3h0M79.9 602.2h0M77.6 613.9h0M50.8 624.7h0M87.4 619h0M29.7 637.7h0M74.5 622.8h0M89.8 610.6h0M40.8 647h0M41.6 628.6h0M33 624.1h0M71.1 621.5h0M37.4 641.6h0M86.9 606.4h0M36.6 630.8h0M76.1 610.3h0M58.3 635.2h0M71.7 629.8h0M80.9 617.4h0M28.5 627.3h0M53.2 633.4h0M96.7 608.1h0M89.1 609.9h0M88.7 605.9h0M73 606.8h0M41 641.4h0M84.1 593.5h0M76 624h0M32 637.8h0M97.2 604.8h0M71.6 620.8h0M52.5 629.2h0M56.2 617.6h0M49.4 625.6h0M28.5 636.9h0M29 638.8h0M60.3 625.4h0M37.2 637.2h0M75.4 612.2h0M65.4 626.5h0M40.4 625.5h0M98.1 594.2h0M108.3 603.4h0M85.3 609.3h0M93.7 603.5h0M67.3 605.9h0M50.5 625.8h0M99.9 613.1h0M97.2 596.2h0M80.4 603.1h0M75.8 600.3h0M50.7 628.1h0M65 617.2h0M50.9 630.5h0M53.7 637.1h0M51.9 627.3h0M43.9 633.9h0M40.4 643.6h0M33.2 646.7h0M54.8 619.1h0M66.8 616.9h0M35.2 643.8h0M45.2 627.2h0M72.3 628.5h0M93.6 590.8h0M76.4 629.4h0M35.9 643.3h0M107.7 603.2h0M52.1 629.4h0M88.3 595.7h0M28.5 626.6h0M46.6 633.3h0M46.9 636.5h0M45.6 632.9h0M79.4 612.4h0M44.7 641.4h0M74.1 622.4h0M36.1 628.4h0M86.4 617.9h0M32.3 637.8h0M90 609.6h0M34.2 633.6h0M32 623.1h0M71.4 611.5h0M98 600.6h0M85.8 614.2h0M69 606.1h0M53.5 634.6h0M31.3 638.8h0M72.8 616.2h0M44.5 620.8h0M44.7 633.1h0M68.5 637.7h0M68 619.6h0M108.1 603.9h0M82.1 613.1h0M51.5 632.7h0M38.4 639.5h0M90.1 617.6h0M60.3 631.5h0M60.9 612.8h0M72 609.3h0M67 611.4h0M50.3 641.9h0M79.8 611.7h0M41.2 619.6h0M88.7 614.4h0M45.3 630.9h0M66 623.5h0M29.5 640.6h0M56.5 616.6h0M46.2 619h0M104 597h0M40.8 647.4h0M32 642.8h0M63.4 623.1h0M70.5 625h0M60.8 641.6h0M40.5 641.8h0M103 608.7h0M45.2 647.4h0M44.8 635.4h0M96.7 587h0M50.6 629h0M83.2 600.6h0M96.4 601.8h0M35 638.5h0M72.3 611.9h0M55.7 627.7h0M66.2 616.7h0M63.8 639.2h0M67.6 607.7h0M42.3 634.1h0M60.3 629.7h0M44.7 637h0M80 624.6h0M50.1 635.4h0M67.6 617.9h0M43.3 645.2h0M39 622.7h0M84 610.9h0M46.7 624.9h0M62.9 625.2h0M75.3 609.9h0M64.8 608.7h0M95.3 603.9h0M44.2 639.2h0M82.4 603.1h0M95.4 607.8h0M110.9 606.8h0M49.2 634.1h0M102 596.9h0M78.6 635h0M62.4 644.6h0M56.5 636.8h0M47.7 630.8h0M34.5 647.4h0M44.4 617.8h0M53.3 633.7h0M52.2 647.4h0M48.7 631.9h0M40.6 633.8h0M44.5 635.6h0M89.5 637.1h0M39.2 647.4h0M60.9 640.4h0M59 640.4h0M58.5 645h0M62.7 644.5h0M43.7 634h0M40.8 641.5h0M60.5 630.4h0M57.4 647.4h0M65.6 625.3h0M48.8 638.9h0M49.5 637h0M64.9 636.6h0M36.1 639.6h0M48.8 634.9h0M42.8 623.2h0M34.2 631.2h0M36.5 612.8h0M64.5 625h0M40.8 638.1h0M28.5 644.5h0M40.3 639.1h0M43.9 636.4h0M51.3 634h0M28.5 622.5h0M49.5 645h0M43.1 638.1h0M52.1 637.8h0M62.6 622.3h0M53.5 632.6h0M46 627.3h0M40 626h0M36.1 647.4h0M71.5 634.1h0M59.4 626.4h0M28.5 619.8h0M51.8 645.2h0M49.5 626.2h0M46.9 626.2h0M32.3 632.2h0M44.9 627.7h0M38.8 626.7h0M53 644.9h0M47.3 647.4h0M29.5 636.1h0M35.3 632.7h0M51.3 638.4h0M64.3 629.7h0M34.3 632.5h0M53.7 628.6h0M61.3 647.1h0M32 636.8h0M62.9 619h0M52.6 632.2h0M32 644.3h0M52.8 630.3h0M55.6 639h0M59.7 638.5h0M55.2 624.8h0M44.7 635h0M28.5 647.4h0M45.2 625.8h0M28.5 635.9h0M50.4 629.4h0M44.7 627.1h0M40.5 633.2h0M41.8 639.3h0M48.2 635h0M55.1 643.9h0M57.6 635.8h0M47.9 627.7h0M45.7 639.3h0M52.9 631h0M33.1 622h0M54.1 642h0M54.7 623.3h0M47.3 635.7h0M38.4 636.7h0M47.5 627.5h0M34.3 640.3h0M54.5 627.1h0M37.2 640.9h0M57.6 631.6h0M70.2 631.7h0M36.6 642.5h0M47.6 636.7h0M50.5 626.2h0M35 632.5h0M67.8 626.2h0M67.2 635.7h0M35.9 636.1h0M57.2 627h0M28.5 636.8h0M36 637.4h0M28.5 632.9h0M39.8 622.5h0M46.9 635.3h0M43 624.8h0M52.7 620.4h0M56.8 637.8h0M71.2 640.9h0M54.5 636.1h0M50.3 623.7h0M68.5 638.1h0M46.4 625.1h0M68.8 638.1h0M35 639.2h0M74 633.8h0M55.1 630.8h0M42.1 642.3h0M88.9 634.9h0M48.4 640.2h0M46.2 639.7h0M60.5 626.1h0M36.5 633.4h0M60.5 636.2h0M65.7 623.3h0M56.2 629.2h0M51.3 636.5h0M37.8 632.2h0M35.3 636.1h0M39.3 630.2h0M52.8 628.9h0M64.5 629.1h0M60.7 636.2h0M37 632.3h0M39.4 631.2h0M46.6 647.4h0M44.7 646.2h0M55.6 623.9h0M28.5 639.3h0M28.5 639.6h0M63 637h0M47.4 632.1h0M53.3 631.7h0M43.3 631.1h0M64.7 629.2h0M54.8 625.1h0M41 623.4h0M47.5 639.3h0M53.8 630.2h0M57.7 631.3h0M54.7 636.1h0M56.8 614.8h0M33.6 640h0M48.7 647.4h0M47 629.7h0M68.8 638.3h0M73.9 637.9h0M47.4 639.6h0M40.1 630.5h0M43 632.3h0M59.8 630.3h0M54.1 630.1h0M61.1 612.7h0M47.4 635.3h0M36.4 641.8h0M52.7 643.9h0M62.1 639h0M48.1 625.6h0M47.2 630.4h0M53.1 630.4h0M88.4 621.6h0M64.8 630.4h0M47 641.2h0M50 624.6h0M55.2 632.5h0M28.5 635.5h0M36.7 628.2h0M56.1 636.3h0M46.4 647.4h0M55.3 629.3h0M53 633.1h0M28.5 621.8h0M32.5 647.4h0M47.7 631.9h0M42.9 641.6h0M50.4 647.2h0M59.9 646.7h0M48.5 636.9h0M44.6 632.7h0M28.5 629.5h0M38.1 629h0M65.3 636h0M65.4 640.6h0M61.5 641.7h0M42.4 640.2h0M46 629.9h0M65 647.4h0M37.7 647.4h0M60.4 627.5h0M53.4 636.9h0M178.1 589.6h0M160.8 597.2h0M129 605.7h0M159.7 594.8h0M157.1 593.4h0M152.6 599.6h0M138.6 606.2h0M177.2 588.5h0M157.8 595.7h0M179.3 584.7h0M157.4 596.7h0M165.5 586h0M139.8 603.4h0M141.4 600.1h0M117.4 609.5h0M145.6 604h0M179.1 590.3h0M141.2 605.6h0M163.3 594h0M121 605.2h0M137.2 594.4h0M117.9 606.1h0M162.9 589.9h0M145 593.4h0M169.8 580h0M115.6 616.8h0M177.9 582h0M127.7 611.3h0M140.7 602.3h0M130.7 600.9h0M148.7 601.1h0M139.9 605.6h0M152.8 612.4h0M171.7 586.4h0M153.4 589.4h0M178 586h0M169.9 587.6h0M163.5 590.3h0M175.3 587.5h0M168.3 588.4h0M150.6 604.4h0M170.4 599h0M172.4 593.8h0M179.6 590.4h0M177.7 585.7h0M169.9 581.2h0M159.6 586.7h0M173.5 591.2h0M175 583.8h0M163.3 603.2h0M179.6 592.2h0M175.3 594.8h0M142.1 604h0M136.2 602.3h0M155.2 596.7h0M179.6 590.1h0M167 589.8h0M170.6 585h0M171.1 584.7h0M170.6 579.7h0M154 602.3h0M175.9 590.1h0M145 594h0M170.9 584.4h0M112.5 615.1h0M129.2 608.2h0M171.6 583.5h0M156.1 598.8h0M147.7 600.6h0M176.6 590.5h0M163.8 591.8h0M143.6 603.4h0M165.9 585.3h0M174.2 589.9h0M130 607.3h0M173.6 586.7h0M135.5 603.8h0M153.3 608.1h0M141.1 607.4h0M175.9 583h0M147 589h0M157.9 595.1h0M179.6 586.8h0M137.1 612.3h0M160.1 596.8h0M179.6 585.1h0M155.3 597.4h0M147.3 596.8h0M125 601.8h0M157.2 592.5h0M153.3 605.6h0M164.9 587.8h0M124 607.2h0M178.9 582.1h0M147.9 596.3h0M148 594.3h0M157.1 591.1h0M154.1 588.2h0M149.8 600.2h0M174.5 587.2h0M165.6 587h0M170 587.8h0M176.8 585.4h0M116.9 606.6h0M149.4 606h0M179.6 593h0M130.7 602.6h0M120.3 609.3h0M151 598.1h0M141.2 596.4h0M170.7 587.8h0M154.8 601.8h0M179.3 580.5h0M164.5 585.6h0M152.9 604.1h0M167.1 589.3h0M144.5 604.2h0M176 591.6h0M172.2 587.1h0M159.2 596.4h0M178 589.6h0M137.2 610.6h0M147.1 603.5h0M150.9 599.5h0M179.6 586.9h0M145.4 600.1h0M179.6 586.2h0M155.3 599.9h0M128.9 608.1h0M152.3 602h0M179.6 584.5h0M179.1 588.3h0M155.8 599.2h0M169.9 584.2h0M147.6 604h0M158.1 601h0M159.4 590.8h0M140.8 596.4h0M151 602.9h0M143.1 599.1h0M164.4 591.6h0M123.5 618.4h0M172.8 584.5h0M178.7 583.8h0M142.5 602.2h0M160.9 595.4h0M170 587.5h0M171.8 584.6h0M128.4 606.3h0M179.6 589.6h0M163.7 589.7h0M148.5 592.2h0M179.3 585h0M149.6 594.8h0M172.6 586.6h0M177.2 588.5h0M156.8 589h0M177.3 585.3h0M131.2 606.4h0M152.9 598.7h0M159.1 598.4h0M159.8 588.9h0M150.6 595.2h0M174.5 585.9h0M172.9 589.5h0M165.9 589.2h0M167.2 581.4h0M177.5 586h0M171.3 591.7h0M174.4 581.7h0M130.6 605.6h0M161.2 587h0M145.3 606.3h0M175 589.6h0M143.3 602.5h0M128.6 611.5h0M169.9 597.4h0M148.5 598.1h0M171 596.6h0M148.1 603.2h0M111.8 614.5h0M142.5 600.3h0M121.2 606.6h0M174 589.5h0M120.8 613.1h0M138.7 602h0M163.7 590.3h0M162.6 596.2h0M139.2 604.4h0M173.7 584.9h0M173 587.1h0M171.8 588.4h0M116.7 609.3h0M123.7 610.6h0M164.2 591.2h0M149.4 593.2h0M157.2 592.7h0M175.5 585.3h0M179.6 587.2h0M143 591.3h0M179.6 588h0M132.4 608.9h0M153.8 594.1h0M152.5 591.2h0M148.4 601h0M145.3 605h0M136.8 604.3h0M151.9 592.5h0M136.9 603.8h0M141.4 599.8h0M159.5 590.7h0M166.2 580h0M179.6 590.1h0M167.8 587.1h0M123.7 610.9h0M176.2 587.3h0M168.3 587.9h0M147.8 597.2h0M130.8 598.3h0M141.6 592.5h0M121.8 613.5h0M178.9 589.1h0M172.4 586.4h0M129 608.9h0M133.7 607h0M179.6 580.1h0M178.6 586.9h0M172.2 583.7h0M132.7 611h0M159.3 598h0M138.2 604.1h0M178.3 586.6h0M173 599.7h0M152.2 593.5h0M167.5 584.7h0M176.9 591.7h0M132.7 609.6h0M162.3 593.3h0M153.4 605.4h0M172.5 588.8h0M158.8 603.5h0M160.4 596.4h0M123.7 608h0M179 590.9h0M155.9 594.1h0M140 601h0M177.3 584.6h0M163.1 594.1h0M131.4 608.7h0M164 596.9h0M164.4 590.8h0M122.6 606.7h0M171.1 593.7h0M152.2 599.3h0M166.5 590.4h0M164.4 588.9h0M166.8 588.6h0M178.2 586.2h0M164.1 595.2h0M179.6 585.3h0M137.4 598.4h0M175.9 591.6h0M164.7 591.8h0M126.9 608h0M179.6 584.8h0M121.3 610.7h0M141.7 605.3h0M166.2 589.9h0M176.5 580.1h0M139.4 596h0M136.2 612.4h0M128.8 609.2h0M179.6 584h0M172.3 585.7h0M133.4 604.2h0M172.3 588.3h0M177.2 586.4h0M175.3 586.9h0M161.5 595.7h0M162.3 588.4h0M162.9 593.3h0M121.9 609.9h0M159.6 593.1h0M115.5 618.8h0M173.4 596.1h0M174 588.9h0M156.8 600.1h0M139.7 607.8h0M156.8 604.8h0M163 600.4h0M150.8 604.2h0M176.8 590.4h0M176.5 589.9h0M146.1 603h0M172.5 591.9h0M179.6 588.4h0M172.1 590.3h0M129.6 608.1h0M166.1 586.9h0M153.8 593.8h0M150.2 593.7h0M176.8 582.3h0M170.8 591.9h0M171.2 579.6h0M171.4 595.4h0M175.8 588.1h0M154.2 598.7h0M178.8 583.6h0M153.8 596h0M143.8 598.3h0M147.9 598.7h0M154.8 598.2h0M179 579.6h0M168 582h0M177.5 593.4h0M143 601.6h0M141 602h0M140.1 603.7h0M178.3 589.2h0M170.9 587.2h0M174.1 593.7h0M157.4 590.3h0M129.3 609.9h0M163.1 589.3h0M145.3 589.7h0M133.1 603.8h0M158 591.8h0M177.6 581.6h0M154.2 602.5h0M179.3 581.8h0M127.3 609.9h0M179.2 588.8h0M115.3 614.1h0M179.6 590h0M133.1 600.2h0M168.6 592.7h0M170.4 589.4h0M140.6 599.6h0M118 612.3h0M141 600h0M179.1 581.7h0M164.2 587.6h0M162.4 591.7h0M122.5 607.7h0M125.8 613.9h0M132.5 607.1h0M125 598.5h0M167.7 591h0M143.2 602.1h0M127.1 606.4h0M143 596.2h0M155.7 599.7h0M172.7 596.7h0M150 604.4h0M177.6 594.1h0M140.1 604.8h0M176.4 588.7h0M141 596.6h0M115.8 617.8h0M137.2 613.4h0M164 586.7h0M134.5 602.4h0M136.4 615.2h0M153.2 604.4h0M164.6 589.1h0M123.4 609.5h0M116.3 615.5h0M179.6 583.2h0M149.1 598.7h0M171.5 586.4h0M140.1 599.6h0M130.8 611.4h0M141.6 603.5h0M149 595.7h0M171.5 589.3h0M140 606.1h0M149 595h0M157.7 599.9h0M178.5 591.8h0M175.5 589h0M141.9 607h0M130.1 608.7h0M155 595.9h0M129.2 606.3h0M156.9 597h0M155.1 599.2h0M131.4 611h0M156.4 597.5h0M178.6 584h0M139 603.1h0M167.2 582.6h0M179.1 581.9h0M178.8 593.6h0M161.5 600.1h0M142.2 606.5h0M141.3 610.4h0M125.8 608.8h0M159 604.5h0M171.3 593.2h0M147 602.2h0M137 602.4h0M128.8 604.8h0M179.6 582h0M114.9 615.1h0M165.4 590.6h0M155.8 595.9h0M168.9 586.9h0M157.2 594.6h0M162.7 591.4h0M172.4 586.4h0M179.4 584.7h0M146.2 591.7h0M178.2 587.1h0M164 595.1h0M178.7 588.2h0M120.4 613.8h0M154.6 598.4h0M171.4 591.1h0M163.7 596.5h0M166.5 589.5h0M116.4 617.1h0M155.8 595h0M160 598.9h0M179.6 582.8h0M164.8 593.6h0M140.7 611.1h0M179.6 581.5h0M179.6 585.5h0M145.2 597.5h0M167.4 592.9h0M116.8 612.1h0M175 589.1h0M109.4 614.6h0M154 594.7h0M160.7 593.2h0M139.7 601h0M131.1 609.7h0M131.6 606.5h0M155.7 588h0M121.2 607.4h0M141.2 605.6h0M156.7 600.7h0M154 601.8h0M174.2 583.4h0M179.6 583.8h0M156 606.4h0M122.8 612.9h0M116 613.2h0M143.2 599h0M179.6 595.8h0M149.6 590.4h0M172.7 586.7h0M164.9 589.6h0M140.8 602.7h0M163.5 585.7h0M176 582.7h0M179.6 585.3h0M178.1 587.4h0M162.5 595.8h0M144.1 607.5h0M139 600.1h0M168.5 594.2h0M124.9 609.8h0M153.5 590.9h0M166.8 591.2h0M155.9 595.4h0M166.4 589.5h0M133.4 600.1h0M179.6 585.4h0M152.2 594.5h0M179.6 585.8h0M179.6 588.4h0M177.9 586.7h0M151.7 605h0M166.4 591.4h0M138.4 601.7h0M138.6 603.8h0M132.2 608h0M151.3 596.5h0M162.4 593.8h0M178.1 582.1h0M167.6 588.7h0M154.7 598.8h0M118.1 617.8h0M167.8 592.8h0M179.6 587.7h0M172.6 591.5h0M162.8 587.4h0M169.4 592.6h0M171.1 588.4h0M144.9 600.7h0M166.1 599.4h0M176.9 590.5h0M135.7 601.1h0M113.2 608.6h0M142.4 600.6h0M125.6 612.5h0M168 590.5h0M112.8 616.2h0M170 592.9h0M179.6 586h0M179.2 585.5h0M179.6 586.6h0M160 597.3h0M144.7 596.7h0M142.9 604.4h0M123.5 613.1h0M127.6 610.2h0M163.8 591.2h0M171.4 585.6h0M168.5 587.4h0M138.1 608.4h0M178.4 584.3h0M133.2 605.8h0M165.8 586.2h0M141.5 607.2h0M173.1 588.7h0M161.6 591.5h0M135.9 603h0M169.7 582h0M142 607.8h0M162.5 596.5h0M132.7 608.6h0M131 612.8h0M164.8 592.1h0M154.3 600.1h0M159.3 594.2h0M168.9 588.9h0M138.5 602.3h0M170 595.6h0M164.7 594.4h0M145.1 599.2h0M166.2 591.1h0M140.5 605.6h0M172.8 591.4h0M177.9 579.7h0M172.2 587.1h0M170.5 592.8h0M122.2 610h0M121.3 610.6h0M160.5 599.8h0M179.6 593.3h0M155.6 596.8h0M158.7 596.8h0M157 590.9h0M161.2 598.9h0M172.3 589.8h0M151.1 599.2h0M156.5 595.6h0M141.7 609h0M143.6 594.7h0M171.9 589.6h0M146.2 590.9h0M179.6 588.1h0M165.4 595.4h0M166 594.3h0M148 611.6h0M179.1 588.2h0M128.8 602.4h0M145.5 602.1h0M124.4 610.4h0M151 590.7h0M125.9 608.2h0M179.6 585.7h0M121.4 610h0M134.4 613.1h0M129.7 610.4h0M159.7 595.3h0M175 588.5h0M172.2 590.9h0M152.7 596.2h0M141.5 604.5h0M179.6 586.7h0M171 591.3h0M178.8 589.6h0M179 582.5h0M162.8 591.6h0M170.7 593.9h0M170.6 591.2h0M179.6 586.6h0M129.4 609.7h0M139.8 599.7h0M136.7 591.6h0M133.9 608.6h0M175.1 586h0M171.3 591.4h0M148.5 601.1h0M175.6 591.2h0M175.7 586.3h0M171.1 588.7h0M166.7 599.8h0M144.4 594.8h0M175.8 588.3h0M148.2 596.4h0M149 596.6h0M130.5 611h0M141 606.6h0M163.9 589.8h0M177.1 586.4h0M177.2 582.9h0M175.9 593.9h0M170.7 588.8h0M173.5 587.7h0M152.8 603.8h0M176.2 590.3h0M149 603.2h0M172.1 583.7h0M177.9 592.9h0M179.2 592h0M173.3 595.9h0M166.7 590.2h0M175.8 585.7h0M158.7 590.8h0M172.6 589.4h0M172.9 590.2h0M146.9 597.9h0M142.5 605.3h0M118.9 615.2h0M172.9 588.4h0M124.9 611.8h0M170.7 590.7h0M153.4 601.7h0M174.5 591.1h0M164.3 591h0M173.8 578.5h0M170.5 591h0M147.3 603.9h0M127.2 605h0M163.3 595.1h0M154.8 591.8h0M154.4 601.4h0M136.4 600.5h0M146.4 593.1h0M171.1 597.4h0M131 608.4h0M162.3 592.4h0M153.2 596.3h0M125.5 605.3h0M160.1 597.4h0M146.1 593.4h0M139.1 603.4h0M136 597.2h0M178.6 590.2h0M150.2 598.3h0M169.6 592.3h0M144.6 599.9h0M146.8 599.8h0M159.1 591.7h0M157.1 594.2h0M179.3 583.1h0M179.2 578h0M134.9 602.6h0M175.4 580h0M175.3 584.7h0M150.1 601.3h0M117 612.4h0M160.5 601.4h0M177.9 580.3h0M160.1 599.2h0M131.6 604.8h0M165.2 593.2h0M161.5 589.1h0M141.7 601.7h0M160 598.6h0M155.8 596.4h0M147.8 599.9h0M169 589.9h0M140.5 599.8h0M159.5 597h0M179.6 590.3h0M135.3 599.4h0M169.2 586.3h0M168.4 589.4h0M173.5 584.5h0M179.6 593.8h0M155.5 599.6h0M129.3 615.3h0M168.3 593.6h0M130 601.7h0M179.6 585.3h0M147.6 600.1h0M136.1 601.8h0M132.1 601.7h0M146.4 603.6h0M134.3 606.2h0M137.5 606.2h0M145 598.2h0M156.3 595.7h0M155.9 601h0M179.3 584.4h0M156.6 597.5h0M134.7 611.3h0M137.1 610.7h0M179.6 587.2h0M150.7 595.5h0M149.9 602.4h0M166.9 588.9h0M176.6 588.1h0M164.8 600.5h0M169.7 590h0M146.1 593.7h0M148.9 592h0M152.9 595.7h0M168.3 595.6h0M170.7 591.5h0M149.1 598.3h0M176 588.3h0M164.8 586.2h0M149.7 604h0M151 596.3h0M138.6 610.9h0M175.4 593.3h0M117.4 611.4h0M159 599.1h0M150.5 601.7h0M158.4 592.3h0M177.7 582.8h0M145.7 596.8h0M148.5 593.4h0M140.3 598.2h0M148.5 596.2h0M179.2 588h0M159.4 593.7h0M175.5 590.9h0M133.9 605.7h0M136.5 604h0M123.6 611.6h0M138.8 601.5h0M122.8 610.5h0M171.8 595.8h0M179.6 590.2h0M177.9 584.1h0M128.5 612.7h0M136 602.9h0M171.5 591.5h0M126.1 606.3h0M176.4 586.7h0M178.7 579.6h0M120.9 614.1h0M117.5 614.3h0M168 589h0M133.6 604.6h0M133.9 601h0M179.1 581.2h0M150.8 603h0M150.7 597.7h0M142.1 603.6h0M179.6 593.9h0M168.9 591.3h0M134.2 608.4h0M148.4 599.3h0M158.6 593.2h0M168.9 594.6h0M172.9 589.2h0M158.4 586.1h0M164.1 594.9h0M144.3 592.9h0M178.2 592.2h0M177.4 583.8h0M135 604.6h0M150.4 598.3h0M172.9 587.8h0M172.1 588.1h0M172.9 588.1h0M151.4 595.3h0M167.6 585.6h0M156.1 606.5h0M177.8 583.2h0M163.1 590.9h0M144.2 605.2h0M178.5 587.6h0M171.1 581.5h0M179.6 583h0M169.6 586.1h0M141.5 600.6h0M175 585.5h0M156.3 594.2h0M129.9 617.7h0M179 585.5h0M170.2 586.9h0M163.4 597.4h0M152 594.5h0M179.6 590.7h0M129.9 611.9h0M145.9 607.3h0M156.3 601.6h0M169.3 589.5h0M168.2 597.4h0M125.2 603h0M138.7 604.1h0M165.5 590.8h0M179.6 589.1h0M179.6 589h0M161.5 593.4h0M173.5 588.2h0M174.1 582.8h0M153.4 601.8h0M129.5 606.5h0M172.1 592.6h0M124.4 615.6h0M178.8 578.5h0M130.6 605.7h0M164 589.9h0M174.6 589.7h0M118.6 611.2h0M175.5 587.3h0M179.1 590.1h0M156.1 596.9h0M168.9 589.5h0M177.5 582h0M138.2 609.4h0M132.5 612.8h0M134.7 601.7h0M134.3 605.9h0M176 579.1h0M141.8 603.7h0M178.8 587.2h0M167.2 600.2h0M179.6 585.3h0M157 589.3h0M174.8 585.4h0M178.5 586.3h0M172.1 585.5h0M137.5 597.8h0M157.3 600.3h0M174.8 577.2h0M133.2 604.1h0M149.9 593.6h0M135.9 608.4h0M158.5 598.5h0M141.2 598.9h0M172.7 592.4h0M164.3 596.9h0M152.5 605.3h0M179.6 586.8h0M161.9 592.9h0M179 581.2h0M147.3 603.6h0M118.8 613.6h0M144.7 603.3h0M160.8 583.8h0M165.8 587.3h0M151.4 604h0M159.2 592.5h0M175.1 585.1h0M161.9 589.6h0M146.2 603.6h0M179.6 584h0M126 615.2h0M138 604.5h0M160.3 600.1h0M168.7 595.8h0M172 600.9h0M164.7 585.8h0M169.3 591.2h0M153.2 597.2h0M179.6 582.8h0M116.2 619.4h0M154.3 601.5h0M172.8 584.8h0M115.6 615.2h0M175.5 589.6h0M129.5 611.2h0M176.2 585.2h0M156.4 590.6h0M155.8 606.3h0M170.9 596.7h0M179.6 587.2h0M129.2 608.1h0M131.6 603.6h0M147.1 594.3h0M178.2 576.5h0M179.6 580.3h0M132.4 602.3h0M167.9 586.5h0M177.1 584.9h0M142.3 603.8h0M133.8 608.1h0M162.7 593.7h0M156.7 593.1h0M160 589.9h0M159.3 592.7h0M117.5 617.9h0M141 604.5h0M171.1 589.4h0M143.8 609.7h0M125.6 605.5h0M147.6 600.4h0M171.7 589.8h0M177 592.7h0M151 588.2h0M163.1 592.5h0M136.4 606.5h0M147.4 600.6h0M125.8 607h0M144.1 597.6h0M159.3 597.4h0M133 605.2h0M143.7 597.2h0M171.7 597.3h0M153.6 597.7h0M130.9 608.6h0M174.6 585.9h0M163.5 590.4h0M121.6 607.7h0M128.3 608.4h0M169.8 588.5h0M132.7 601.4h0M164.4 586.2h0M128.1 611.3h0M178.9 588.5h0M151.5 598.1h0M139.4 609.2h0M179.6 587h0M147.1 599.3h0M141.7 609h0M150.9 596.5h0M132 602.6h0M119.8 599.6h0M177.1 582.6h0M126.1 604.5h0M136.9 604.6h0M163.6 584.4h0M144.5 601.4h0M179.6 587h0M130.5 603h0M158.3 599.5h0M169.8 594.4h0M162.3 594.3h0M168.8 589.8h0M174.1 590.5h0M123.4 613.4h0M161.8 592.6h0M166.4 587.1h0M149.1 598.2h0M179.6 581.6h0M154.6 598.5h0M169.4 589.8h0M175.4 585.4h0M175.6 585h0M170.2 592.6h0M167.8 593.4h0M114 619.1h0M176.8 587.4h0M179.6 580.8h0M175.6 595.7h0M172.3 578.6h0M163 586.6h0M178.7 582.8h0M158.1 593.8h0M155.7 593.8h0M159.5 598h0M162.6 593.5h0M159 598h0M155.6 590.4h0M137.4 607.6h0M158.8 593.4h0M171.1 596.4h0M170.8 585.8h0M178.6 585.2h0M157.1 592.8h0M152.7 600h0M169.4 591.9h0M167.9 585.9h0M137 600.7h0M145.9 601.8h0M149 599.3h0M135.3 598.3h0M140.6 604.3h0M164.6 585.7h0M164.4 590.9h0M122.2 608.1h0M153.2 608.2h0M159.8 596.5h0M169.6 597.5h0M139.1 602h0M149.8 604.9h0M171.8 593.6h0M155.9 593.6h0M157.7 597.7h0M171.3 595.7h0M174.1 582.4h0M152.7 594.1h0M179.6 586h0M136.8 606.7h0M179.6 588h0M173.8 583.5h0M179.6 592.4h0M154.2 599.4h0M152.6 604.5h0M131.6 611h0M150.4 595.8h0M162.7 592.8h0M151.3 599h0M151.8 602.1h0M171.2 589.2h0M146.2 597.8h0M134.3 600.3h0M115.9 611.5h0M142.5 596.7h0M139.7 609.3h0M137.2 596.9h0M160.9 590.2h0M119.2 611h0M145.3 597.1h0M156.3 591.1h0M130.7 608.4h0M154 600.5h0M149.9 600.5h0M179.6 583.2h0M141.4 604.7h0M161.3 590.9h0M153 604.9h0M174.2 589.4h0M143.1 602.7h0M179.6 580.2h0M121.7 609.3h0M165.1 593.9h0M173.1 591.1h0M149 594.5h0M174 590.4h0M171.5 590.9h0M154.7 598.4h0M155.3 596.2h0M139.2 605.6h0M127.1 609.2h0M147.8 594.9h0M145 603.1h0M163.5 580.1h0M134.3 604.6h0M156.5 591.4h0M175.9 587h0M139.3 606.5h0M146.3 597.5h0M162.5 589.6h0M125.8 608.4h0M179.5 583.7h0M166.5 592.7h0M158.6 592.9h0M176.4 590h0M144 591.8h0M151.1 603.6h0M153 600.7h0M168.4 595.7h0M153.4 594.5h0M173.2 589.8h0M155.8 598.1h0M168.4 586.5h0M119.4 614.8h0M171.4 599.8h0M165 586.8h0M137.2 604.6h0M133.6 602.1h0M140 597.9h0M166.8 594.9h0M136.7 609.3h0M157.2 593.2h0M133.5 611.4h0M155.9 594.2h0M145 599.4h0M164.8 586h0M171.4 587.1h0M161.8 594.1h0M176.2 591.4h0M161.2 593.6h0M152.9 593.1h0M179.6 586.9h0M126.6 603.6h0M167.4 600.7h0M179.6 586.3h0M169.2 588.9h0M138.7 612.3h0M174 586.9h0M177.1 586.1h0M155.2 599.5h0M157.1 589.5h0M176.9 589.1h0M151 607.2h0M117.7 612.6h0M125.4 611.3h0M165 593.7h0M145.1 602.7h0M146.6 608.6h0M174.5 582.8h0M178.8 578.2h0M144.7 604h0M179.6 587.7h0M137.1 597.9h0M129 613.2h0M162.7 590.3h0M177.5 590.3h0M157.4 600.6h0M171.3 586.1h0M179.6 585.5h0M143.5 601.4h0M138 595.9h0M166.9 588.4h0M139.5 605.4h0M178.7 582h0M159 598.4h0M118.2 613.4h0M173.7 580.5h0M149.2 600.1h0M171.2 592.9h0M164.3 587.6h0M134.6 608.7h0M176.5 581.4h0M172.7 589.2h0M137 603.9h0M172 584.5h0M127.1 608.2h0M158.8 600.8h0M149.1 596.4h0M153.3 595.7h0M112.1 617.1h0M173.2 584.8h0M158.5 589.8h0M129.3 604.5h0M171 586.7h0M175.5 595.4h0M167.7 592.4h0M165.2 587.4h0M179.6 585.6h0M153 599.2h0M158.7 596.5h0M177 588.8h0M151.4 599.7h0M162.6 595.1h0M134.5 600.4h0M154.3 597.6h0M157.9 595.5h0M178.7 584.8h0M140.1 610.5h0M162.1 594.9h0M160.2 595.5h0M148.3 607h0M169.8 590.4h0M167.7 596.3h0M149.1 597.5h0M165.3 591.8h0M168.9 593.2h0M171.5 593.4h0M130 612.6h0M119.1 605.3h0M142.3 605.1h0M127.2 610.8h0M156.9 595.5h0M156.7 599.3h0M150.4 600.2h0M127 602.4h0M140.8 606.8h0M129 608.5h0M169 592.7h0M132.7 592.3h0M120 612.6h0M177.3 581.6h0M150.8 597.6h0M179.6 586.3h0M156.5 591.3h0M172.1 590.2h0M173.4 585.2h0M152.1 598.1h0M175.1 581.7h0M162.2 596.6h0M154.1 593.8h0M160.1 592.5h0M177.4 589.8h0M177.5 588.1h0M179.6 589.5h0M164.9 592.4h0M174.1 585.3h0M145.1 601.3h0M168.6 589.7h0M164.1 589.3h0M165.8 590.9h0M153.8 596.2h0M145.4 597.5h0M130.1 605.5h0M166 589.6h0M148.2 607.1h0M160.4 594.7h0M168.9 588h0M124.7 611.2h0M169.2 589.5h0M150.3 600.4h0M159.1 598.5h0M153.9 600.7h0M146.4 604h0M179.3 581.8h0M140.9 606h0M179.6 582.3h0M176.7 592.2h0M151.2 598.2h0M127.8 605.3h0M117.6 605h0M138.7 606.7h0M154.1 597.1h0M132 603.4h0M155.1 587.1h0M179.2 590h0M138.8 599.6h0M118.8 611.3h0M155.5 599.4h0M161.5 591.5h0M172.1 597.7h0M130.5 611.4h0M145 600.8h0M149.7 598h0M130.5 606.8h0M133.2 606.5h0M139.9 605h0M137.3 605.4h0M160.5 599.2h0M154.9 602.6h0M141.7 603h0M124.7 618.7h0M173.5 596.6h0M154.4 602.8h0M163.4 593.9h0M123.3 609.4h0M165.5 585.6h0M142 598.7h0M158 596.8h0M145.3 605.2h0M161.8 592.2h0M166.5 594.5h0M127.1 610.8h0M137.9 599.3h0M127.7 603.7h0M169 589.7h0M146.9 592.2h0M144.9 605.9h0M179.6 593h0M176.4 578.2h0M142.8 604.4h0M135.6 599.7h0M179.6 580.1h0M158.3 588.4h0M126.4 611.3h0M141.2 600.6h0M164.5 593.7h0M170.5 593.9h0M127.2 608h0M155.4 594.4h0M165.4 591.1h0M136.2 603.8h0M178.9 581.8h0M151.1 601.1h0M167.8 590.1h0M149.3 592.6h0M160.3 591.1h0M179.6 584.8h0M179.6 586.7h0M150.4 584.9h0M175 587.6h0M171.6 596h0M179.6 589h0M139.7 595.6h0M171 585.3h0M149.8 599.4h0M174.7 592h0M163.9 585.2h0M136.1 608.2h0M140.2 607.9h0M148.2 601.5h0M169.6 591.2h0M140.2 605.4h0M174 584.4h0M145 600.5h0M116.7 618.3h0M153.5 596.5h0M176 587.2h0M154.2 607.9h0M139.7 603.4h0M142.3 604.2h0M168.7 590.4h0M160.8 590.4h0M144 601.3h0M177.2 577h0M179.6 594.2h0M130.8 608h0M168.4 589.5h0M172.7 586.4h0M171.6 583.5h0M132.2 603.5h0M151.2 597.3h0M136.1 603.5h0M169.9 584h0M161.4 585.4h0M171.4 583.1h0M159.5 589.7h0M153.1 606.2h0M114.8 612.7h0M179.6 602.6h0M153.7 591.2h0M160.1 581.1h0M138.1 594.3h0M135.8 614.4h0M113.5 608.2h0M124.8 603.9h0M162 602.7h0M119.1 615h0M142.9 596h0M179.6 606.5h0M145.1 610h0M118.6 605.6h0M179.6 592.2h0M145.5 609.6h0M106.4 614.2h0M179.4 592.3h0M145 616h0M148.9 591.7h0M127 610.9h0M143.9 617.2h0M154.9 593.9h0M155.1 601.7h0M179.6 592.2h0M112.4 629.1h0M120.2 626.7h0M172.3 597.7h0M168 613.6h0M152.3 599.5h0M156.7 610.4h0M130.4 613.7h0M160.1 610.4h0M140.4 613.2h0M145.8 602.6h0M164.8 600.1h0M167.2 592.9h0M153.7 600h0M179.2 606.9h0M112.1 619.8h0M172.4 590.5h0M174.3 587h0M172.4 599.8h0M151.5 599.3h0M137.2 605.5h0M161.5 614.2h0M127.8 593.6h0M150.3 598.4h0M166.3 570.4h0M106.7 611.9h0M139.5 594.8h0M178.1 586.9h0M151.5 590.5h0M150.7 605.8h0M162.6 600.1h0M134.4 610.7h0M179.4 606.5h0M113.5 626.6h0M158.9 602.4h0M136.6 603.7h0M126.2 611.7h0M151 592.8h0M127.6 594.5h0M162.7 586.6h0M178.9 591.6h0M143.6 618.4h0M137.2 611.9h0M149.8 598.9h0M167.4 598.2h0M130.6 612.2h0M149.1 609.8h0M170.5 593h0M132.6 591.6h0M111.9 614.9h0M136.3 613.2h0M134.9 615.2h0M160.2 595.6h0M167.8 594h0M152.2 614h0M175 606.6h0M132.6 627.8h0M125.3 609h0M112.5 632.7h0M112.3 608.2h0M167 598.6h0M165.9 584.1h0M177.9 583.5h0M179.6 605.3h0M131.9 606.6h0M167 583.8h0M152 602.3h0M153.3 609.8h0M124.8 627.9h0M123.1 601.2h0M160.7 597.3h0M165.5 593.2h0M165.7 595.8h0M133.1 615.8h0M160.4 582.9h0M123.5 619.6h0M113.7 609.3h0M128.2 629.6h0M115.1 619.9h0M157.9 596.7h0M116 619.7h0M178.6 605.2h0M140.3 606.4h0M136.3 611.1h0M130 616.8h0M162.2 584.6h0M149.3 603h0M137.6 605.2h0M131.4 609.5h0M132 627.2h0M133.5 607.9h0M164.2 616.2h0M140.6 593.2h0M179.6 603.8h0M137.7 592.8h0M126.9 607h0M133.2 620.5h0M168.9 602.5h0M112.3 595.2h0M150.7 615.7h0M143 617.8h0M132.5 595.5h0M115.5 609.6h0M172.6 582.6h0M157.4 597h0M136 621h0M136.3 590.3h0M177.2 596.2h0M168.2 572.3h0M121.8 620.2h0M172.3 582.3h0M136 595.9h0M179.6 605.1h0M170.9 597.8h0M139.7 611.9h0M163.2 592.7h0M143.5 602h0M169.8 598.7h0M171.9 616.3h0M132.1 625.9h0M134.7 600.6h0M177 598.5h0M176.1 586.7h0M115.5 613.1h0M110.1 609.8h0M143.3 605.8h0M178.1 584.3h0M143.4 611.7h0M127.5 625.9h0M149 600.1h0M142.3 607.7h0M150.2 612.3h0M148.2 616.9h0M125.4 613.7h0M115 624.5h0M170 602.6h0M175.1 594.5h0M149.5 620.7h0M149.3 601.9h0M114.2 619.7h0M158.2 597.2h0M173.4 585.4h0M169.5 594.5h0M152.7 606.4h0M158.7 600.8h0M147.8 608h0M111.1 620.5h0M126.6 601.7h0M144 607.6h0M126.1 620.8h0M164.3 583.7h0M138.2 613.8h0M164.8 586.5h0M137.1 602.4h0M155.4 611h0M168.5 619.4h0M148.9 602h0M134.4 608h0M128.1 614.9h0M143.2 606h0M174.3 596.4h0M127.8 599.7h0M127.1 612.3h0M160.5 592.1h0M137.1 610.8h0M165.1 585.4h0M173.7 574h0M116.2 638.2h0M178 603.2h0M140.4 610.7h0M165.5 594.8h0M169.6 601.4h0M151.4 604h0M107.8 612.3h0M167.3 598.6h0M111.9 631.6h0M127 606.5h0M152.2 589.6h0M143 605.9h0M120.7 603.6h0M145.6 594h0M122 608.1h0M133 609.6h0M138 613.1h0M161.8 593.9h0M162.9 595.8h0M118.7 618.3h0M115.1 614.6h0M126.6 607.3h0M174 592.9h0M176.7 589.1h0M167 611.8h0M151.7 602.8h0M179.6 610.3h0M108 619h0M127.9 621.3h0M143.3 608.9h0M170.5 593.9h0M141.1 628.1h0M131.6 614.2h0M128.8 620.3h0M121.2 623.1h0M123.8 616h0M148.3 617.2h0M127.5 598.5h0M162.4 596.1h0M141.6 622.3h0M149 596.6h0M145 604.1h0M176 597.1h0M161.7 616.3h0M179 603.6h0M110.7 619.7h0M147.8 598.7h0M168.5 589.6h0M162.6 607.5h0M122.2 609.8h0M178.2 584.7h0M124.2 615.1h0M130.1 610.5h0M121.3 623.8h0M126.8 623.8h0M172.2 605.1h0M175.4 600.3h0M120.7 620.5h0M151.3 619.2h0M175.6 587.9h0M179.6 597.9h0M143.4 626.4h0M123.9 611.8h0M152.5 607.5h0M171.2 593.1h0M166.8 596.7h0M112.6 608.3h0M179.6 602.1h0M166.9 606.5h0M132.9 608.1h0M161.9 590.2h0M115.5 628h0M167.4 592.8h0M146.7 608.7h0M148.2 597.8h0M109.3 618.7h0M172.6 594.4h0M151.8 581h0M179.6 601.1h0M179.6 601.8h0M166.3 604.2h0M163 619.5h0M144 609h0M155.5 604.8h0M108.5 615.9h0M176.7 592h0M121.3 619.7h0M179.6 589.8h0M118.8 611.8h0M172.8 587.8h0M116 608.9h0M141.7 608.7h0M141.7 607.7h0M115.2 624.1h0M178.9 591.3h0M171.2 594.5h0M160.4 596.9h0M145.2 601.2h0M148.6 605.2h0M173.5 606.7h0M147.1 619.6h0M130.7 613.6h0M161.9 609.3h0M155.8 610.3h0M145.9 599h0M179.6 590.6h0M135.8 612.3h0M136.6 617.1h0M114.1 627.1h0M169.6 576.5h0M162.2 600.7h0M163.9 598.5h0M160.8 591.6h0M121.5 605.2h0M165.3 593.2h0M119.2 608.3h0M174.2 607.9h0M179.6 594.6h0M119.5 622.2h0M163.2 598h0M162.1 585.4h0M141.6 588.6h0M155.1 594h0M155.2 592.7h0M163.5 592.5h0M155.3 608.7h0M144.6 613.8h0M139.7 600.7h0M138.6 606.1h0M136 593.3h0M123.2 634.2h0M109.3 620.8h0M140.6 599.3h0M152.4 598.6h0M111.6 626.5h0M176.2 599.7h0M144.1 604h0M141.7 626.3h0M173.6 600.8h0M128.4 613.5h0M173.7 608.1h0M143.6 602h0M170.1 599.7h0M173.9 596.5h0M153 599.4h0M179.6 588.6h0M117.3 608.8h0M113.8 620h0M167.8 592.8h0M152.1 584h0M178.7 594.7h0M159.6 610h0M144.7 613.9h0M134.3 624.9h0M116.7 612.6h0M125.2 608.7h0M138.7 619.5h0M144.2 609.2h0M161 593.9h0M143.3 628.8h0M132.2 604.4h0M157.9 608.1h0M158.6 606.6h0M156.9 599.9h0M120.1 619.7h0M153.4 606.6h0M158.6 607.4h0M172.7 587h0M153.5 602h0M131.6 613.6h0M128.2 608.7h0M145 611.2h0M123.7 613h0M120.6 619.3h0M143.1 615.5h0M162.5 590h0M142.4 613.7h0M169.8 603.5h0M174.7 587.7h0M133.5 622.9h0M159.8 598.3h0M138.8 608.6h0M176.2 597.6h0M136.3 607.1h0M145.9 596.3h0M127.3 618.1h0M163.2 605.9h0M156.2 616.2h0M142.9 607.6h0M114.5 619.7h0M172.5 600.7h0M150 601h0M134.7 617.3h0M128.1 604.7h0M172.8 607.6h0M165.3 607.6h0M115.1 610.9h0M113.9 624.1h0M152 609.6h0M166.9 588.3h0M126.8 609.6h0M179.6 590.7h0M109.5 613.8h0M179.6 590h0M125.5 633.3h0M153.9 590.4h0M138.5 624.7h0M119.4 623.3h0M179.6 604h0M156.6 598.2h0M128.4 607h0M117.2 621.6h0M155.5 601.6h0M138.2 613.4h0M179.6 599.7h0M131.6 619.2h0M162.9 609.8h0M151.4 611.7h0M124.6 632.7h0M123.6 616.6h0M150.1 615.4h0M150.4 601.2h0M138.1 590.1h0M112.6 621.8h0M133.8 609.9h0M116 606.4h0M116.1 609.7h0M135.8 619.1h0M113.8 609h0M161.7 601.7h0M118.4 609.2h0M158.1 598.6h0M124.3 620.3h0M143 613.8h0M153.8 609.2h0M146.2 592.2h0M119.8 627.2h0M141.6 625h0M173.9 586.1h0M160.2 583.7h0M151.4 600h0M118.7 618.1h0M175.2 597.2h0M131.1 603h0M119.8 624.1h0M163.8 602.8h0M168.1 580.3h0M137.9 619.3h0M165.9 609.7h0M137.3 607h0M172.4 598.8h0M146 609.3h0M131.7 604.6h0M148.4 604.4h0M129.8 594h0M155.6 586.6h0M169.7 606h0M149.8 599.5h0M176.4 598.2h0M168.1 594.9h0M126.4 618.5h0M179.6 604.8h0M151.3 607.8h0M148 595.9h0M150.8 601.5h0M117.9 622.4h0M119.7 615.7h0M155.8 591h0M156.3 588.4h0M177.8 593.1h0M128.4 614.3h0M169.5 602.1h0M170 604.7h0M114.6 600.4h0M163.7 594.7h0M137.5 602.4h0M179.6 592h0M166.1 593.7h0M161.2 592.1h0M147.7 607.9h0M170.9 586.5h0M156.4 590h0M170.2 598.9h0M150.1 605.3h0M175 592.8h0M155.9 583.5h0M121.8 618.1h0M134.4 607.3h0M132.2 595.3h0M179.6 588.8h0M118.4 616.1h0M112.5 613.5h0M128.8 610.2h0M150.6 622h0M174.7 602.9h0M149 597.2h0M155.9 604.4h0M145.1 629.5h0M162.2 595.3h0M171.9 598.8h0M137.2 612.1h0M110.5 597.8h0M175.6 605.6h0M179.6 592.2h0M112.9 627.3h0M135 621.6h0M134.6 615.1h0M155.5 590.2h0M131.3 607.9h0M162 593.4h0M140.5 594.8h0M144.8 606h0M146.2 608.6h0M158.5 607.7h0M179.6 607.8h0M173.8 598h0M119.8 607.9h0M130.1 611.1h0M108.3 596.1h0M106.8 618.3h0M157.1 608h0M120.1 622.3h0M173.3 586.9h0M134.5 609.2h0M179.6 595.6h0M154.6 603.8h0M149.6 601.5h0M172 616.2h0M116.8 616.9h0M142.8 619h0M179.1 591.2h0M137.8 631.9h0M131.6 616.1h0M149 596.9h0M179.6 599.8h0M179.6 595.9h0M168.1 591.2h0M102.8 606h0M133.8 622.7h0M135.8 604.6h0M161 596h0M164.8 615h0M119.3 629.7h0M160.3 596.7h0M117 623.2h0M179.6 592.7h0M164.5 588h0M179.6 599.5h0M129.2 608.4h0M154.5 617.2h0M158.9 598.5h0M167.7 586.4h0M174.2 599.9h0M125.8 616.4h0M149.7 602.8h0M157.7 613.6h0M149.5 621.2h0M120.3 606.9h0M145 613.1h0M113 633.1h0M122.9 624.4h0M132.1 618.8h0M167.6 579.1h0M129.2 629.1h0M154.8 602.6h0M141.5 617.9h0M128.7 614.9h0M156.2 607.8h0M114.9 619.1h0M163.2 603.5h0M144.8 610.7h0M179.6 587.4h0M148.6 612.1h0M118 606.7h0M137.9 618h0M168.9 597.6h0M158.1 604.6h0M145.7 610h0M164.1 595.8h0M158.3 597.2h0M156.9 604.8h0M161.8 588.6h0M161.4 601h0M153.4 597.5h0M146.1 608.8h0M160.1 623.8h0M144.9 588.3h0M136 612.7h0M169.1 608.7h0M124.3 602.8h0M127.6 581.5h0M173.3 581.4h0M175 598.4h0M120 602.5h0M122.6 638.6h0M127.8 598.9h0M157.7 603.1h0M177.2 591.9h0M114.7 619.6h0M111 619.7h0M149.8 605.2h0M159 605.7h0M147.9 622.7h0M176.3 584.4h0M154.4 612.4h0M130.3 613.2h0M128.9 612.9h0M137.6 617.9h0M109 615.1h0M128.1 601h0M114.1 609.5h0M163.9 589.3h0M144.7 613.9h0M151 624.7h0M176 591.4h0M163.6 596.6h0M109.8 617.3h0M168.4 590h0M129.7 601.7h0M134.3 621.4h0M108.1 617.5h0M135.3 608.8h0M179.6 593h0M175.6 593.2h0M141.4 607.3h0M117.3 616.3h0M161.6 582.4h0M168.4 597.2h0M117.1 620h0M173.4 599.2h0M124.4 605.8h0M174.6 599.3h0M110.4 627.6h0M175.7 579h0M171.7 602.7h0M159.3 616.1h0M176.6 591.1h0M179.6 602.3h0M130.3 620.7h0M129.3 598.4h0M122.6 639.8h0M151.3 626h0M156 624.8h0M155.9 585.9h0M135 608.9h0M141.2 607.7h0M169.1 581.3h0M137 618.9h0M148.2 592.7h0M139.8 605.4h0M116.5 617.7h0M134.7 613.2h0M163.6 600.3h0M162.1 594.2h0M161.6 594.9h0M168.5 591.1h0M150.5 599.5h0M139.8 608.2h0M174.9 598.4h0M158.9 605.5h0M129.5 611.1h0M151.1 611.2h0M151.6 606.4h0M150.2 614.5h0M154.9 595.5h0M154.4 604.3h0M104.9 615.7h0M179.6 591.6h0M116.6 614.5h0M126.1 612.2h0M108.6 618.6h0M149.9 611.5h0M139.2 609.3h0M128.5 621.1h0M128.8 613.8h0M132 604.7h0M136.5 614.8h0M113.1 628.7h0M142.3 594.7h0M109.2 624.6h0M152 623.3h0M128.9 622h0M112.6 603.2h0M146.1 601.7h0M133.8 609.7h0M153.8 596.5h0M151.8 591.8h0M139.4 610.5h0M171.3 595.5h0M174.1 596.6h0M165.7 595.2h0M121.8 613.3h0M174.5 598.5h0M171.5 599.2h0M174.8 585.3h0M125.4 602.8h0M125.7 608.9h0M144.1 620.3h0M127.8 624h0M119.4 615.6h0M162.2 611.9h0M152.9 612.4h0M121.5 604.6h0M151.4 607h0M123.4 622.2h0M111.1 610.2h0M164.5 613.5h0M117.2 621.3h0M154.3 614.6h0M114.5 630.1h0M157.3 607.7h0M116 620.4h0M151.4 596.8h0M145.3 594.3h0M147.2 624.5h0M135.7 593.4h0M179.6 586.7h0M161.1 585h0M156.1 598h0M179.6 604.1h0M125.6 612.3h0M150.2 597.9h0M168.2 598.7h0M126 612.3h0M138.5 598.9h0M160.5 595.2h0M171.6 566.9h0M168.1 595h0M152.5 617h0M174.9 584.9h0M111.8 624.2h0M142.6 599.7h0M117.2 617.3h0M148.4 610.1h0M144.5 609.2h0M132.4 600.7h0M139.6 608.9h0M124.5 627.5h0M179.6 592h0M129.8 608.4h0M167 603.2h0M147.3 605.8h0M119.7 616.9h0M123.5 609.7h0M141.9 614.8h0M175.5 581.6h0M179.6 594.9h0M152.3 588.8h0M132 602.5h0M115.8 630.6h0M152.3 600.2h0M114.4 619.9h0M154.4 593.3h0M134.7 618.9h0M129.6 609h0M175.4 594.2h0M149.4 611.8h0M179.6 594.6h0M169.8 599.7h0M110 608.1h0M165.7 605.6h0M173.5 608.3h0M142.2 620.9h0M162.3 579.5h0M147.4 608.9h0M132.2 618.6h0M116.3 628.2h0M125.7 623.7h0M169.6 586.9h0M117.6 608.3h0M118.5 619.6h0M135.2 624h0M145.7 599.2h0M160.9 614.2h0M147.8 587.6h0M114.5 624h0M127 610.5h0M115.8 607.3h0M144.5 605.8h0M149 614.1h0M154.6 613.7h0M137.8 620.7h0M169.7 576.4h0M179.6 597.4h0M145.5 610.1h0M129.5 612.6h0M113 600.6h0M155.2 621.1h0M142.7 603.6h0M113.7 609.6h0M168.7 599h0M122.4 611.6h0M119.2 644.5h0M160.3 612.5h0M145.4 615h0M178.2 594.9h0M134.5 630h0M114 623.5h0M140.3 610.5h0M176.8 583.3h0M115.9 631.2h0M147.3 601.4h0M152.9 601.9h0M140.7 600.2h0M166.8 612.3h0M119.9 620.1h0M131 614.6h0M166.2 621.1h0M171.1 590h0M120.9 621.4h0M140 593.5h0M179.6 587h0M125.6 612.4h0M116 609.4h0M169.4 587.3h0M118.5 643.3h0M130.8 614.4h0M131.5 615.6h0M166.8 593.4h0M170.7 583.3h0M106.9 618.6h0M150.7 591.9h0M145 596h0M119.3 620.3h0M120.5 630.7h0M117.9 618.5h0M157.1 617.7h0M141.7 619.9h0M127.3 611.6h0M154.3 607.8h0M140.3 601.5h0M158.1 613.9h0M123.5 615h0M151.8 598.9h0M166.1 606.6h0M107.2 615.3h0M154.5 601.9h0M165.2 584.7h0M133.2 614.4h0M125.4 603.8h0M126.9 613.8h0M162.9 589.8h0M129.5 613.4h0M177.7 609.8h0M124.4 603h0M114.3 618.8h0M171.8 593h0M158.3 595.4h0M163.7 606.7h0M118.2 607.6h0M164.9 609.9h0M155.6 606.9h0M131.2 616.6h0M108.4 615.1h0M173.5 584.5h0M154.9 611.2h0M147 600.5h0M123.7 594.7h0M148.6 609.8h0M106.9 619.7h0M158.2 605.5h0M140.5 587.5h0M167.2 599.9h0M121.5 631.2h0M155.5 604.6h0M157.5 598.4h0M144.2 606.9h0M170.1 593.1h0M118.7 616.5h0M173.6 588.4h0M161.6 597.6h0M179.6 599.6h0M165.3 587.4h0M110.1 605.5h0M137.6 613.7h0M124.5 625.3h0M104.9 613.5h0M106.2 602.2h0M152.9 594.8h0M177.3 601.7h0M126.7 622.1h0M137.7 615.9h0M115.8 627.9h0M154.1 590.2h0M160.4 583.6h0M118.2 626.4h0M174.6 584.8h0M151.8 616.1h0M125.9 622.1h0M173.7 574.2h0M145.3 601.5h0M132.2 604.6h0M140.2 596.2h0M132.3 635.3h0M132.5 618h0M145.1 634.6h0M131.8 621.9h0M129.3 647.4h0M132 642.1h0M132.7 629h0M102.8 626.7h0M135.9 621.9h0M128.6 611.7h0M111.5 626.6h0M124.9 624.1h0M132.2 620.1h0M123.5 643.2h0M117.6 620h0M130.4 613.7h0M119.9 633.4h0M149.7 626.3h0M179.6 633.1h0M154.5 617h0M152.1 641.5h0M129.1 642.7h0M122.3 613.9h0M134.3 617.1h0M145.1 614.2h0M136.4 605.9h0M134.5 635.3h0M130.9 628.1h0M152.3 614.3h0M115 625.8h0M139.4 622.4h0M119.7 636.9h0M116.7 622.5h0M134.4 632.1h0M128 617h0M166.9 616.8h0M147.7 623.5h0M127.5 624.6h0M131 628h0M94.9 624.7h0M136.2 615.5h0M128.9 647.4h0M164.2 631.3h0M138.7 622h0M157 620.6h0M122.1 631.8h0M119.8 617.3h0M157.9 609.3h0M134 626.2h0M139.1 610.8h0M131.5 621.7h0M165.4 634.8h0M123.1 633.5h0M145.4 623.9h0M131.2 622.3h0M110.7 618.9h0M149.8 639.1h0M164.3 621.3h0M144.8 601.5h0M130.8 612.7h0M148.1 608.8h0M118.6 614.2h0M141.3 633.2h0M120.6 642.6h0M137.6 616.9h0M140.6 624.9h0M148.2 628.4h0M169.6 636.4h0M125 632.7h0M147.1 615.2h0M123.2 617.1h0M96.1 631.2h0M131.7 637h0M126.3 625.7h0M146.5 634.5h0M140.1 614.9h0M169.9 633.5h0M156.6 640.8h0M157.2 629.1h0M142.6 631.2h0M111.3 632.9h0M119.7 629.1h0M119.1 632h0M127.4 647.4h0M138.1 630h0M120.8 622.2h0M134.2 622.2h0M128.2 616.5h0M147.1 621.3h0M122.2 628.6h0M122.3 623.3h0M127 616h0M131.5 617h0M115.3 628.4h0M130.4 610.7h0M128.9 626.8h0M141.9 628.7h0M139.1 630.8h0M127.3 617.2h0M144.8 621h0M135.3 631.4h0M149.9 636.9h0M124.3 621.4h0M143.9 611.1h0M115.3 630.9h0M125.4 616h0M147.8 630.2h0M149.6 621.8h0M130.6 621.7h0M139.8 605.2h0M124.2 631.9h0M122.8 624.4h0M137.1 630.1h0M127.6 614h0M174.5 618h0M162.1 607.9h0M136.9 623.1h0M165 644.9h0M150.5 615.1h0M122.5 617.7h0M127 627.6h0M122.8 622.6h0M158.3 639h0M105.8 615.8h0M129.3 637.6h0M129.9 643.6h0M140.9 639h0M121.6 622h0M151.2 630.6h0M105.8 622.3h0M138 631.1h0M125.2 641.9h0M137.5 639.1h0M141.5 625.8h0M130.1 613.7h0M148.8 632.4h0M149.8 621.4h0M119.4 621.3h0M130.2 624.9h0M150.6 616.2h0M127.5 631.7h0M149.4 646.5h0M143.4 616.8h0M118.8 617.3h0M136.3 627.5h0M134.1 619.1h0M132.3 624.3h0M144.5 625.8h0M122.5 613.7h0M158.5 624.2h0M132.4 624.8h0M152.9 622h0M137.9 622.7h0M144.3 615.2h0M138.4 635h0M153.8 631h0M139.8 640.3h0M146.3 638.6h0M116.3 614.4h0M147.7 622.4h0M128.4 615.8h0M158.5 613.5h0M136.9 611.5h0M132.5 646.8h0M173.4 620.2h0M119.4 640.8h0M121.8 607.7h0M140.7 614.6h0M112.5 635.9h0M123.8 614.7h0M137.9 623.2h0M152.8 625.9h0M160.2 636h0M163.1 635.9h0M136.3 630.3h0M135.6 610h0M116.8 632.2h0M98.2 617h0M115.1 624.4h0M119 627.4h0M132.1 620.5h0M122 603.5h0M136.4 612.5h0M130.6 628.6h0M151.7 631.8h0M158.4 611.3h0M145.8 640.2h0M141.4 614.3h0M141.5 620h0M125.2 635.3h0M132.5 614.2h0M124.7 644h0M122 631.6h0M138 636.3h0M130.9 615.9h0M125.2 615.1h0M175.9 626.9h0M130.2 637.2h0M145.5 623.3h0M145 627.7h0M152.9 641h0M130.3 624.7h0M132.4 636.9h0M141.3 632.6h0M149.3 618.9h0M137.3 638.4h0M149.7 632.9h0M130.9 621.5h0M121.9 622.4h0M134.3 611.2h0M153.4 617.6h0M139.2 630.8h0M126.6 607.5h0M150.4 629h0M131.3 636h0M149.3 615.8h0M134 608h0M131.2 638.7h0M122.2 633h0M111.7 622.2h0M150 641.6h0M142.4 632.3h0M162.1 601.4h0M108.6 643.3h0M173.8 630.8h0M136.3 627.5h0M135.7 619.1h0M135 623.8h0M145.7 631.6h0M150.6 630.7h0M120.1 638.5h0M93.6 626.2h0M140.4 619.9h0M164.5 614.5h0M117 620.1h0M141.8 632.7h0M137 631.5h0M124.3 619.2h0M137.3 612h0M138.2 621.2h0M145.9 615.2h0M127 619.6h0M129.6 615.4h0M131.2 612h0M143.6 631.5h0M135 623.2h0M121.4 615.7h0M131.9 616.3h0M117 626.6h0M135 621.1h0M122.6 624.5h0M124.5 620.9h0M138.2 632h0M147 619.2h0M154 613.8h0M132.6 637.6h0M172.1 626.3h0M129.7 621.4h0M116.4 623.6h0M128.7 617.7h0M153.8 617.5h0M161.5 633.1h0M145.2 619.3h0M127.4 605.7h0M139.5 622.4h0M141.3 618.5h0M142.8 610.6h0M101.3 629.6h0M151.9 594.6h0M155.2 621.7h0M132.7 610.2h0M119.8 631.9h0M170.5 589.8h0M173.3 598.7h0M178.4 584.3h0M171.8 585h0M167.4 587h0M179.4 590.2h0M177.3 589.4h0M172 590.4h0M173.7 598.4h0M179.6 591.6h0M177 581.4h0M173.5 600.4h0M170.2 593.6h0M179.6 588.3h0M173 588h0M177.9 590.1h0M179.6 595.2h0M174 601.3h0M172.6 587.4h0M172.9 586.2h0M172 589.7h0M178.4 583.1h0M167.3 586.6h0M172.6 592h0M170.3 596.6h0M171.5 589.1h0M174.3 595.1h0M175.5 590.1h0M171.5 590.7h0M176 588.5h0M174 582h0M171.5 595.2h0M179.6 589.7h0M163.6 598h0M173.2 601.2h0M172.1 594.4h0M171.1 596h0M179.6 585.4h0M179.6 602.5h0M173 584.7h0M175.4 588.3h0M166.8 585.4h0M175.2 583.4h0M179.3 592h0M173.2 596.1h0M169.6 593h0M167.5 588.6h0M177.1 587.7h0M173.5 592.8h0M179.6 595.7h0M176.3 588.9h0M167.1 597.5h0M179.6 580.6h0M178.2 589.8h0M177.5 591.4h0M173.1 590h0M173.9 595.1h0M172.8 587.6h0M177.2 592.8h0M176.1 591.2h0M179.6 594.9h0M175.1 589.1h0M177.2 581.8h0M171.5 586.9h0M174.9 588.3h0M179.6 593.2h0M176 599.8h0M174 588.6h0M179.6 593.6h0M178.5 595.3h0M172.3 587.1h0M170.6 590.5h0M178.9 585.4h0M171.5 584.2h0M179.6 593.5h0M175.1 584.7h0M169.1 587.2h0M174.2 584.4h0M173 595.3h0M174.1 590.4h0M164 588.8h0M173.3 587h0M167.4 589.7h0M169.1 587.6h0M166.4 589.6h0M178.4 586.3h0M175.6 583.4h0M176.8 592.4h0M172.2 593.9h0M169.8 590.2h0M179.6 589.9h0M168.6 595.1h0M176.6 588.8h0M165.3 581.8h0M166.7 596.5h0M175.5 586.3h0M179.6 596.4h0M170 592.1h0M166.1 591.6h0M179.6 583.8h0M174.3 587.2h0M173.6 590.4h0M175.4 593.9h0M176.5 594.6h0M178.9 594.8h0M170.8 591.8h0M172.3 586.3h0M179.6 591.3h0M174.3 580.8h0M172.9 593.4h0M173.1 587.6h0M179.6 588.6h0M172.4 589.6h0M172.9 594.6h0M176.8 589.7h0M172.3 589h0M179.6 588.7h0M177.2 583.1h0M175.6 593h0M179.6 591.4h0M176.8 591.4h0M179.2 599h0M175 586.4h0M176.9 589.5h0M177.1 593.4h0M174.8 588.1h0M175.5 584.5h0M175.4 586.1h0M176.2 590.5h0M173 584.7h0M174.3 587h0M173.4 593.1h0M178.6 584.3h0M178.5 596h0M179.4 591.2h0M173.6 597.6h0M172.5 583.3h0M174.5 591.3h0M169.1 584.7h0M179.6 590.5h0M177.8 587.4h0M166.8 589.2h0M179.6 587.1h0M165.5 589.2h0M172.7 590.1h0M169.1 588.6h0M171.4 593.9h0M174.8 593.8h0M173.8 580.6h0M164.7 592.4h0M178.2 593.8h0M173.7 582.2h0M171.7 591.8h0M179.6 588.5h0M171.4 586.6h0M178.9 593.8h0M165.3 595.3h0M169.6 583.5h0M166.4 586.8h0M179.6 601.2h0M168.1 587.1h0M174.8 591.8h0M171.8 583h0M172.1 587h0M165.5 590.6h0M167 582.4h0M179.6 594.1h0M179.6 590.5h0M172.1 589.6h0M167.5 593.3h0M175.3 588.7h0M165.1 589.5h0M179.6 596.4h0M178.2 588.5h0M174.7 592.4h0M175 594.6h0M170.9 579.8h0M162.5 586h0M167.4 592.9h0M179.2 590h0M176.6 590.3h0M174.9 587.9h0M172.1 595.2h0M172.8 589.8h0M179.6 594.3h0M172.2 591.1h0M169.2 590.6h0M175.6 590h0M174.8 591.6h0M161.9 586.4h0M174.4 587.8h0M169.4 589h0M179.6 589h0M170.9 587.9h0M168.4 592.1h0M169.3 594h0M178.4 592.5h0M179 589.6h0M165.6 589.7h0M177.1 583.2h0M168.2 594.8h0M176.2 595.9h0M177.3 590.3h0M176.1 593.7h0M173.9 589.1h0M175.6 588.6h0M179.6 586.6h0M166.8 584.3h0M179.1 588.2h0M174.8 589.1h0M175.4 583.6h0M174.5 587.5h0M179.3 592.7h0M168 585.7h0M176.8 595.3h0M177.7 589.3h0M179.4 579.6h0M171.5 585.7h0M169.1 592.5h0M175.4 591.3h0M173.4 592.7h0M177.8 587.5h0M178.6 585.9h0M179.6 584.3h0M172.7 585.2h0M174.3 595.8h0M170.5 597.8h0M179.6 591.7h0M171.2 594h0M160.3 586.6h0M178.7 589.8h0M179.6 587h0M167.6 589.1h0M176.9 597.5h0M165.6 590.7h0M179.6 587h0M171.9 584.7h0M177.8 593.7h0M176.9 591.1h0M178.9 589.5h0M177.5 593.6h0M179.6 592.3h0M174.5 593.1h0M166.6 582.2h0M179.6 590.6h0M169 587.4h0M173.3 590.3h0M170.4 594.4h0M165.8 602.4h0M168.8 597.3h0M177.3 582.6h0M168.1 590.3h0M175.4 588.1h0M174.1 590.7h0M168.5 590.3h0M179.6 587.1h0M169.1 592.9h0M179.6 594.6h0M171 589.7h0M175.1 589.1h0M176 594.8h0M176.7 590h0M173.1 597.9h0M168.1 598.9h0M177.7 590.4h0M170.4 598.1h0M179.6 594h0M179.6 582h0M174.6 588.6h0M170.5 590.3h0M176.7 592.3h0M173.4 584.1h0M176.8 592.7h0M179.6 594.1h0M174.1 584.9h0M179.6 587h0M175 593.3h0M176.5 595.9h0M169 586.9h0M174.9 584.5h0M171.1 596.1h0M175.5 589.5h0M171.3 590.2h0M173.9 585.2h0M177.9 584.3h0M179.6 588.5h0M162.8 583.1h0M175.5 586.1h0M179.6 596.1h0M179.6 594h0M179.6 587.3h0M179.6 588.1h0M173.8 583.9h0M174.3 591.8h0M173.8 585.1h0M178.5 594.1h0M173.6 593.5h0M178.9 585.6h0M173.9 581.7h0M168.9 591.9h0M169.7 591.8h0M175.9 580.8h0M171.7 596.8h0M174.1 590.6h0M170.6 582.8h0M166.2 602.8h0M173.1 586.1h0M174.6 581.3h0M179.6 597.7h0M170.3 591.4h0M169.6 593.8h0M169.9 589.4h0M179.6 592.3h0M172.4 583.2h0M166.1 595.4h0M176.6 590.3h0M179.6 590.7h0M170.4 589.5h0M173.6 589.9h0M179.6 592.6h0M175.4 588.9h0M170.7 585.6h0M164.7 587.9h0M166.5 581.7h0M169.4 580.9h0M179.6 595.6h0M169.2 599.2h0M177.4 578.7h0M174.2 585.5h0M165.4 588.8h0M179.6 592h0M166.8 587h0M170.3 595.1h0M173.6 585.6h0M169.5 581.2h0M169.8 594h0M164.5 590.9h0M173.5 593.7h0M168.3 594.1h0M179.6 600.3h0M165.9 589.9h0M173 590.6h0M169.1 593.9h0M179.6 596.8h0M169.3 587.4h0M177.7 590.6h0M170.2 595.6h0M176.6 594.6h0M173.2 595.8h0M171.7 585h0M174 583.7h0M179.6 593.3h0M165.6 590.8h0M178.3 588.4h0M176.1 587.4h0M173.7 589.6h0M176.5 585.6h0M168.4 591.5h0M171.5 592.3h0M171.5 584.1h0M177.7 591.2h0M177.7 588.5h0M172.2 595.7h0M165.5 597.8h0M176.6 589.7h0M174.5 592.7h0M170.2 591.3h0M169.2 581.7h0M175 590.4h0M177.3 592.5h0M177.5 593.6h0M168.7 595.5h0M179.6 587.4h0M167.7 593.1h0M178.6 594.6h0M179.6 583.7h0M175.9 592.1h0M179.6 586h0M174.1 588.3h0M173.2 589.3h0M173.3 582h0M173.8 590.3h0M172.1 574h0M170.5 587h0M169.6 597.2h0M178.7 589.2h0M177 604.9h0M169.1 592.1h0M171 596.7h0M179.6 589.4h0M177.1 586.4h0M130.1 561.3h0M170.6 552.7h0M143.4 541.5h0M177 546h0M137.9 553.5h0M165.3 555.4h0M149.8 555.2h0M160.7 554.7h0M152 554.4h0M136.1 565.1h0M141.3 545.1h0M144.5 555.2h0M160.3 543.9h0M134.1 556.3h0M154.8 546.7h0M135.8 556.3h0M148.2 542.8h0M139 566.2h0M136.7 562.9h0M130.8 566.2h0M170.2 550.2h0M141.5 559.7h0M134.4 559.2h0M165.3 557h0M154.1 553.8h0M162.6 548.8h0M170 554.8h0M145.9 542.7h0M144.5 556.8h0M165.7 542.8h0M148.4 549.8h0M135 555h0M140.5 561.6h0M116.2 560.6h0M126.1 540.3h0M156.6 552.4h0M151.6 547.7h0M136.8 549.5h0M149.3 548.7h0M144.7 548.5h0M152.9 546.4h0M149.8 555.7h0M162.1 549.4h0M135.7 543.8h0M159.5 550.3h0M162.4 554.4h0M146.6 541h0M141.5 560.9h0M142.4 560.1h0M129.4 562.6h0M179.6 563.4h0M154 545.7h0M143.4 550.1h0M152.3 539.8h0M139.2 561h0M151.8 560.6h0M160.7 546.4h0M133.1 558.5h0M150.4 555.6h0M139.8 562.7h0M156.2 563.6h0M145.6 560.2h0M149.3 547.9h0M149 542.5h0M147.7 556.3h0M158.7 547.1h0M133.3 549.5h0M124 550.1h0M179.6 556.1h0M140.5 549.9h0M172.2 546.2h0M148.6 554.4h0M140.8 549.6h0M128.9 548.7h0M166.3 565.7h0M146.5 560.3h0M155.8 555.8h0M148.3 564.1h0M157.1 553.3h0M147.1 562h0M142.6 549.6h0M146.6 551.3h0M165.8 557.7h0M148.9 551h0M167.7 558.3h0M176.1 561.8h0M147.3 550.9h0M146.4 556.4h0M159.9 558.7h0M169.7 543.6h0M150.4 544.3h0M137.1 550.5h0M141.8 547.7h0M131 563.6h0M146 562.3h0M142.5 561.6h0M143 558h0M136.5 565.5h0M155.4 562.9h0M146.5 564.6h0M150.9 551.3h0M142 555.4h0M138.6 546h0M151.6 560.3h0M146.3 561.3h0M169.9 545.5h0M153.2 547.7h0M141.9 556.3h0M120.3 559.6h0M160.5 559.1h0M158.1 568.6h0M145.4 563.2h0M168.1 558.7h0M127.6 553.8h0M146.3 542.8h0M149.2 560.7h0M146.8 553.6h0M168.4 550.4h0M138.2 555.3h0M164.1 559.5h0M150.9 551.3h0M165.4 561.7h0M128.3 557.5h0M119.9 566.2h0M157.7 550.3h0M133.8 552.7h0M128 559.2h0M143.6 541.7h0M149.7 563.9h0M134.1 552.3h0M172.7 556.4h0M143 556.4h0M159.8 547.4h0M148.8 542.7h0M130.1 543.4h0M160.6 557.3h0M159.2 564.1h0M150.6 556.8h0M155.1 558.5h0M136.7 552.9h0M148.1 555.3h0M140.6 554h0M153.6 556.4h0M157.4 561.2h0M157 562.3h0M160.5 565.5h0M157.9 550.3h0M179.2 563.5h0M165.6 560.5h0M150.6 546.4h0M155.5 552.3h0M169.4 546.2h0M136.2 558.5h0M157.1 549h0M149.9 556.9h0M152 559h0M159.7 552.2h0M129.7 571.3h0M145.2 547.5h0M159.4 559.4h0M142.3 572.7h0M120.5 564.6h0M149.5 557.3h0M154 553.2h0M154 545.2h0M145 568.9h0M117.7 564.3h0M122 548.6h0M161 551.9h0M142.7 543.7h0M148.5 553.7h0M142 543.2h0M151.9 558.1h0M164.3 558.9h0M169.1 564h0M114.6 567.5h0M148.7 547.1h0M155.4 562.2h0M130.6 545.7h0M158.6 550.8h0M168.3 556.6h0M143.1 545h0M157.5 542h0M133.6 545.1h0M171.3 567.8h0M147.2 552.1h0M158.8 564.4h0M139.9 571.6h0M147.4 563.5h0M120.3 554.6h0M141.2 569.9h0M147.3 545.4h0M174.5 549.8h0M149.9 545.6h0M158.5 556.4h0M146.4 552h0M142.8 549.6h0M132.3 564.1h0M161.2 544.5h0M135.4 558.1h0M178.4 553.4h0M146 553.1h0M153.1 553.7h0M163.6 562.4h0M156.9 566.8h0M147.1 550.8h0M179.6 540.5h0M154.5 546.9h0M163.3 539.2h0M148.3 552h0M136.4 563.4h0M145 558.4h0M143.4 556.1h0M144.4 555.5h0M148.7 549.9h0M155.5 553.6h0M137.8 547.1h0M155.5 565h0M133.5 551.8h0M155.6 562.8h0M158.9 546.1h0M150.4 561.8h0M153 553.3h0M135.1 556.2h0M149.2 555.2h0M168.8 563.9h0M140 556.7h0M146.1 555.7h0M170.5 561.9h0M150.5 550h0M147.9 557.7h0M143.7 563.3h0M150.3 546.1h0M146.6 554.1h0M162.4 563.4h0M168.3 566.7h0M154 555.8h0M162.8 554.8h0M134.2 551.6h0M158.3 559.6h0M136.1 564h0M153.9 543.7h0M155.9 562.6h0M156.7 552.7h0M139.9 563.4h0M152.8 554.9h0M145 547.2h0M126.4 552.4h0M163.9 560.7h0M141.4 566.5h0M147.1 547.4h0M162.3 565.4h0M145.1 545.8h0M150.7 566.5h0M153.4 549.5h0M158.9 551.3h0M165.9 552.3h0M175.6 552.4h0M152.4 547.9h0M133.9 557.6h0M154.4 547.7h0M157 551.9h0M143.1 554.5h0M154.9 560.5h0M165.5 557.9h0M140.9 549.8h0M154.6 546h0M147.9 552.1h0M148.8 556.4h0M163.1 567.3h0M161.1 562.6h0M136.6 562.8h0M166.3 544.8h0M179.6 550.7h0M120.1 568.3h0M150.8 549h0M142.8 563h0M153.2 552.2h0M164.4 547.9h0M139.3 550.8h0M140.6 560.2h0M147.1 547.1h0M144.2 540.1h0M152.1 555.8h0M157.6 553.2h0M155 548h0M150.3 556.2h0M134.8 559.4h0M151.8 555.4h0M144 570.1h0M150 549.2h0M139.3 559.4h0M147.4 549.1h0M140.9 562h0M151.1 562.9h0M149.8 546.1h0M160.9 557.4h0M141.8 552.7h0M137.8 561.2h0M144.8 558.6h0M153.3 553h0M154.6 553.1h0M135.2 551.9h0M135.2 560.7h0M158.1 550.6h0M157.8 556.8h0M162.2 548h0M150.3 547.6h0M141.4 565.3h0M124.8 548.1h0M156.1 560.8h0M140.2 539.8h0M128.5 557.7h0M163.8 561.8h0M140.8 565.1h0M147.6 559.6h0M147.6 566.9h0M146.1 556.4h0M153.5 549.6h0M147.1 546.5h0M147.1 555.6h0M153 567.3h0M125 558.9h0M155.4 546.3h0M150.9 554.9h0M137.5 560.4h0M173.9 560h0M159.7 563h0M148.4 562.3h0M139.9 556.3h0M158.8 564.8h0M146.4 552.8h0M155.8 554.4h0M151.7 561h0M140.4 561.6h0M154.7 553h0M134.4 550.3h0M149.4 562h0M125.4 560.3h0M152.4 546.5h0M160.7 558h0M155.4 547.7h0M136.2 561.8h0M167.5 557.7h0M147.6 551.6h0M128.6 562.3h0M148.8 564.2h0M141 562.8h0M141.1 559.4h0M167.1 549.7h0M161.3 554.9h0M138.3 556.5h0M158 549.7h0M146.7 550.8h0M140.4 553.4h0M160.2 551.3h0M165.5 552.2h0M141.4 563h0M167.4 550.1h0M157.3 546.3h0M144.9 552.2h0M158.8 545.7h0M143.7 549.9h0M151.2 545.9h0M133.4 576h0M152.6 543.8h0M160.3 545.2h0M126.7 567.4h0M165.5 548.8h0M136.5 558.5h0M175.1 559.5h0M158.2 546.2h0M128 557.9h0M162.5 556h0M149.9 565.3h0M139.6 563.1h0M160.3 550.4h0M151.5 555.8h0M157.2 547.8h0M147.1 555.7h0M150.3 555.2h0M153.1 553.6h0M143.8 562.6h0M142.1 552.6h0M139.1 546.5h0M155.5 554.7h0M148.3 558.3h0M147.9 560h0M172.3 557.6h0M146.7 567.2h0M158.7 542.7h0M166.4 556.6h0M160.5 546.5h0M139.5 550.2h0M156.8 546.7h0M141.3 562h0M142.1 555.9h0M138.9 542.4h0M149 554.1h0M132.4 562.2h0M160.1 561.5h0M143.7 546.5h0M148.9 556.2h0M147.9 550.7h0M137.7 549.6h0M149 551.4h0M170.5 553h0M155.6 551.6h0M147.7 547.8h0M144 544h0M124.5 564.9h0M137 558.2h0M148.4 550.8h0M158.9 550.9h0M155.3 552.3h0M161.9 562h0M150.8 563.1h0M156.2 566.5h0M148.5 543.6h0M152.6 556.7h0M145.5 553.5h0M146.7 545.8h0M171 549.3h0M136.9 543.4h0M139.6 554.7h0M168.1 559.4h0M141.1 545.8h0M136.3 554.4h0M160.6 551.5h0M169.6 569.2h0M151.9 539.1h0M163.3 554.3h0M158.2 562.2h0M137.6 555.5h0M152.1 549.5h0M158.5 554h0M145 568.8h0M152 567h0M148.1 562.6h0M140.8 556.1h0M163.2 539h0M156.6 553h0M163.3 556.3h0M149 545.6h0M179.6 549.6h0M146 549.7h0M146.3 556.6h0M133.6 562.7h0M146.8 559.4h0M124.2 551.2h0M146.3 552.1h0M141.8 557.3h0M154.9 547.8h0M126 560.3h0M146 562.8h0M160.6 554.2h0M132.5 552.3h0M141.1 564.1h0M129.2 561.7h0M131.1 550.8h0M132.7 549.9h0M144.6 557.7h0M142.7 560h0M171.3 556.2h0M135.9 553.7h0M148.7 552.3h0M164 563.5h0M174.4 558.8h0M117.4 554h0M158.1 549.1h0M142.6 561.7h0M151.7 546.7h0M149.9 546h0M149.3 546.3h0M138.6 551.2h0M179.6 546.3h0M135.5 551h0M162.9 560.8h0M158.4 552.6h0M151.5 549.3h0M147.7 549.1h0M132.2 547.7h0M173.4 557.9h0M140.7 554.2h0M144.4 563.9h0M149.6 550.3h0M158.2 557.3h0M141.6 549.3h0M151.6 543h0M138.8 562.4h0M160.4 563.2h0M144.5 550.6h0M146.6 551.5h0M165.5 553.3h0M166.4 549.8h0M154.5 566.9h0M140.8 550.2h0M142.6 543.1h0M146.3 550.2h0M176.8 551.5h0M123.8 561.9h0M161.5 554.7h0M153.4 560.2h0M143 555.3h0M151.6 567.1h0M167.1 556.2h0M133.5 561.5h0M149.2 563.5h0M150.5 556.3h0M157.9 549.6h0M141.8 571.8h0M139.3 561.8h0M158.2 561h0M166.5 545.1h0M161.5 539.9h0M150.5 557.4h0M162.4 562.9h0M138.5 553h0M147.9 549.9h0M139.9 550.1h0M163.8 565h0M159 567.3h0M150.9 547h0M141.9 556.5h0M162.4 563.9h0M138.9 562h0M143.4 559.4h0M161 565.9h0M143.4 556.8h0M155.1 551.9h0M151 559.3h0M129.8 550.2h0M177.9 558.3h0M143.1 541.5h0M138.2 558.8h0M158.1 558.3h0M157 550.5h0M169.2 546.7h0M156 553h0M129.1 561.6h0M146.5 560.2h0M165.3 556.2h0M141.8 553.4h0M149 565.6h0M160.2 566.6h0M159.1 549.4h0M161.1 562.1h0M148.3 558.4h0M146 545.7h0M148.7 560.6h0M140.1 563h0M152.6 563.2h0M74.4 623h0M76.4 631.5h0M31.5 616.3h0M61.1 617.3h0M71.7 633.4h0M78 643.9h0M76.7 639.8h0M37.2 643.4h0M102.4 633.3h0M94.2 631.8h0M62.8 617.8h0M66.4 637.7h0M91.5 644.2h0M69.4 646h0M57.8 612.7h0M62.1 631.5h0M89.8 620.4h0M30 638h0M43.3 642.7h0M73.3 616.9h0M69.7 639.8h0M45.9 646.4h0M32.5 617.3h0M75.6 636.4h0M76.2 645.2h0M44.1 613.7h0M71 624.7h0M59.7 626.2h0M98.6 622.3h0M83.4 632.4h0M50.7 644.8h0M48.4 622.8h0M43.4 637.2h0M83.5 625.1h0M37.4 633.4h0M55 631.8h0M80.4 612h0M31.7 641.5h0M97.4 615.1h0M45.8 627.3h0M94.6 623.1h0M104.5 615.3h0M100.4 614h0M76.1 647h0M85.7 644.9h0M56.1 646.4h0M100.3 621.9h0M89.7 645h0M45.1 626.1h0M89.6 632.6h0M101.4 627.6h0M63.8 618h0M50 643.5h0M48.9 644.3h0M92.2 632.5h0M52.1 612.1h0M37.4 641.8h0M104.7 646.6h0M50.4 645.7h0M63.2 625.2h0M100.7 641.5h0M82.3 622.3h0M36.6 618.6h0M49.1 618.9h0M73.7 623.3h0M45.2 643.6h0M57.5 612.1h0M28.8 631.9h0M30.4 632.1h0M30 628.9h0M77.5 631.4h0M45.3 642.2h0M105.8 641.3h0M102.6 647h0M57.4 631.6h0M61.1 640.3h0M41.4 620.2h0M64.1 631.6h0M107.3 624.1h0M28.5 626h0M98.1 615.5h0M69.5 633.6h0M95.1 623.8h0M76.6 646.3h0M105.8 632.3h0M55.1 635.4h0M86.4 636.5h0M82 625.8h0M85.3 624.7h0M46.6 615.6h0M72.3 618.1h0M50.6 622.7h0M57.8 627h0M106 630.9h0M71.9 626.4h0M71.8 641.3h0M69.8 630.4h0M56.1 618.7h0M45 615.2h0M50.8 613.5h0M61.3 632.6h0M37.2 639.2h0M64.1 634.5h0M62.4 640.6h0M82.4 616.4h0M147.5 605.4h0M161.8 611.5h0M124.1 592h0M179 596.9h0M126.1 644h0M111.7 613.8h0M139.2 629.5h0M164.3 646.5h0M130.9 594.9h0M123.5 590.3h0M127.4 626h0M172.4 595.8h0M127.3 641.6h0M150.3 613.2h0M113.2 593.3h0M123.6 625.7h0M112.2 619.2h0M166.9 590.1h0M128.7 614h0M151.9 632.7h0M156.9 615.2h0M132.3 626.3h0M141.1 643.9h0M146.1 624h0M155.9 618h0M143.4 628.5h0M151.2 647.4h0M130 618.7h0M178.2 637.2h0M147.9 607.6h0M120.9 614.1h0M138.7 615.1h0M126.4 617.9h0M149.3 595.9h0M155.4 631.2h0M122.1 604.4h0M110.8 617.4h0M156.6 613.9h0M150.4 625.1h0M111.2 593.1h0M144.5 643.6h0M158.8 615.9h0M126.7 597.6h0M154.5 634.3h0M136.3 594.9h0M127.9 631h0M163.5 613.2h0M171.9 612.6h0M109.7 601.9h0M172.1 630.9h0M114.2 606.6h0M136.4 617.9h0M109.8 643.5h0M146.2 605.3h0M110.3 623.1h0M175.2 631.7h0M169.8 640.7h0M155.9 593.3h0M130.4 623.7h0M138 602.6h0M112.9 640.2h0M156 607.3h0M141.8 640.6h0M118.4 626.5h0M124.8 642.5h0M165.6 645h0M135.6 619.4h0M131.1 610.4h0M176.6 646.2h0M179.6 642.7h0M143.2 628.3h0M173.4 615h0M174.2 636.2h0M128.4 610.9h0M157.7 599.5h0M126.4 601.2h0M115.7 642.7h0M179.6 637.6h0M144.3 633.3h0M157.5 615.6h0M145.5 597.4h0M125.4 609.9h0M133.7 628.2h0M125.4 603.8h0M171 635.4h0M175.1 635.2h0M122 618.3h0M168 636.8h0M124.4 618h0M150.4 590.6h0M125.5 633h0M156 615.9h0M149.1 620.6h0M132.9 594.9h0M161.4 634.8h0M139.3 634.6h0M167.6 630.1h0M166.2 646.1h0M110.9 644.6h0M140.6 635.1h0M161.1 595.7h0M150.2 595.2h0M160.7 609.6h0M135.1 605.8h0M166.3 627.2h0M129.5 633h0M121.3 636.5h0M151.5 634.4h0M152.4 647.2h0M158 616.9h0M150.5 622.9h0M128.5 607.8h0M165.5 637.4h0M177.5 629.8h0M144.3 612.9h0M158.8 627.6h0M175.9 633.4h0M135.6 606.2h0M111.2 635.3h0M138.8 612.9h0M111.8 618.7h0M172.7 606.1h0M161.5 634h0M155.5 624.6h0M126 629.1h0M150.1 646.1h0M145.1 610.6h0M173.2 626.2h0M132.6 627.7h0M119 600.9h0M171.7 616.9h0M165.7 602.5h0M141.9 603.8h0M165.8 624.6h0M136.3 612.3h0M123.2 602.2h0M157.7 608.1h0M115.5 612.4h0M140.6 647.4h0M135.7 613.4h0M178 631.8h0M141 613.1h0M124.2 598.8h0M142 627.1h0M115.6 617.6h0M120.5 624.9h0M132.8 628.6h0M164.4 613.5h0M135.5 594.6h0M123.2 626.1h0M166.1 598h0M178.3 643h0M134.3 621.3h0M156.4 609.1h0M134.4 631.9h0M142.9 615.3h0M148.5 596.7h0M141.9 607.1h0M120 620.4h0M158.6 620.5h0M143.9 628.8h0M138.4 646.9h0M123.4 590.5h0M148.9 630.3h0M135.5 613.1h0M134 550.2h0M165.4 576.3h0M129.5 563.7h0M142.2 545.5h0M161.3 562.3h0M179.3 578.2h0M173.2 551h0M117.7 574h0M117.6 568.9h0M122.3 569.6h0M113.8 543.7h0M170.8 561.6h0M141.5 580.8h0M164.9 549.5h0M159.4 556.2h0M142.5 553.1h0M125.9 552.7h0M129.1 547.9h0M171.2 555.9h0M149.2 574.1h0M157.5 546.6h0M176.7 579.1h0M168.8 553.8h0M168.1 567h0M112.2 555.9h0M158.9 562.9h0M176.3 573.2h0M168.5 581.2h0M134 578.1h0M110.2 573.5h0M116.2 561h0M140.9 543h0M154.6 573.1h0M125.6 550.3h0M164 562.2h0M111.3 552.9h0M176.1 551.6h0M130.2 558.9h0M172.1 574h0M137 568h0M111.9 542.7h0M136 566.6h0M119.8 541.8h0M169.7 547.8h0M113.8 543.6h0M115.5 552h0M150.5 567.6h0M130 561.6h0M133.3 564.4h0M117.6 566.2h0M110 578.8h0M124.6 563.3h0M123.2 558.7h0M128.5 566.9h0M164.5 575.5h0M178.2 559.1h0M148.5 554.8h0M130.2 561.3h0M178.1 542.3h0M162.3 553.6h0M151.8 551.2h0M160.3 560.8h0M131.7 558.8h0M110.3 544.1h0M173.5 543.5h0M137.8 568.1h0M112.5 579.1h0M44.5 610.9h0M62.7 599.6h0M76.3 584.7h0M68.5 604.5h0M91.2 604h0M82.4 585.8h0M60.7 597.3h0M31.2 605h0M36.2 598.9h0M49.4 586.9h0M104.2 600.6h0M86.6 600.2h0M73.1 608.2h0M33.1 593.4h0M45.5 599.9h0M59.5 609.6h0M46.7 590.1h0M101.4 603.6h0M62.3 593.2h0M86.7 586.5h0M85.7 588.8h0M92.5 584.2h0M101.1 607.9h0M30 586.8h0M101.2 606.6h0M51.4 606h0M74.4 589.4h0" stroke="#e2323a" stroke-width=".75" stroke-linecap="round" fill="none" stroke-opacity=".43"/><g>
<rect x="27.9" y="538.5" width="152.1" height="109.29999999999995" fill="none" stroke="#555" stroke-width=".8"/>
<path d="M108.4 538.5V647.8M27.9 579.8H180" stroke="#333" stroke-width=".8" fill="none"/>
<path d="M28.9 647.5999999999999H87.9" stroke="#7a2a2a" stroke-width="1" stroke-opacity=".75"/>
<path d="M87.9 647.5999999999999H180" stroke="#333" stroke-width="1" stroke-opacity=".6"/>
<path d="M179.7 578.8V601.8" stroke="#d83030" stroke-width="1.3" stroke-opacity=".85"/>
<path d="M179.7 544.5V578.8M179.7 601.8V647.8" stroke="#d83a3a" stroke-width="1" stroke-opacity=".35"/>
<path d="M28.299999999999997 621.8V647.8" stroke="#d83a3a" stroke-width="1" stroke-opacity=".4"/>
</g>
<g font-family='"Liberation Sans", sans-serif' fill="#222">
<text x="103.5" y="659.0" font-size="6.05" text-anchor="middle" stroke="#222" stroke-width=".12">PE-Annexin V PE-A</text>
<text x="50.6" y="653.2" font-size="3.9" font-weight="bold" text-anchor="middle">10<tspan dy="-1.4" font-size="2.6">3</tspan></text>
<path d="M50.6 647.8v1.6" stroke="#555" stroke-width=".6"/>
<text x="87.5" y="653.2" font-size="3.9" font-weight="bold" text-anchor="middle">10<tspan dy="-1.4" font-size="2.6">4</tspan></text>
<path d="M87.5 647.8v1.6" stroke="#555" stroke-width=".6"/>
<text x="124.6" y="653.2" font-size="3.9" font-weight="bold" text-anchor="middle">10<tspan dy="-1.4" font-size="2.6">5</tspan></text>
<path d="M124.6 647.8v1.6" stroke="#555" stroke-width=".6"/>
<text x="161.6" y="653.2" font-size="3.9" font-weight="bold" text-anchor="middle">10<tspan dy="-1.4" font-size="2.6">6</tspan></text>
<path d="M161.6 647.8v1.6" stroke="#555" stroke-width=".6"/>
<text transform="translate(16.3,592) rotate(-90)" font-size="4.6" text-anchor="middle" stroke="#222" stroke-width=".1">7-AAD PerCP-Cy5-5-A</text>
<text transform="translate(22.3,550.7) rotate(-90)" font-size="3.9" font-weight="bold" text-anchor="middle">10<tspan dy="-1.4" font-size="2.6">5</tspan></text>
<path d="M27.9 550.2h-1.6" stroke="#555" stroke-width=".6"/>
<text transform="translate(22.3,577.2) rotate(-90)" font-size="3.9" font-weight="bold" text-anchor="middle">10<tspan dy="-1.4" font-size="2.6">4</tspan></text>
<path d="M27.9 576.7h-1.6" stroke="#555" stroke-width=".6"/>
<text transform="translate(22.3,603.8) rotate(-90)" font-size="3.9" font-weight="bold" text-anchor="middle">10<tspan dy="-1.4" font-size="2.6">3</tspan></text>
<path d="M27.9 603.3h-1.6" stroke="#555" stroke-width=".6"/>
<text transform="translate(22.3,630.3) rotate(-90)" font-size="3.9" font-weight="bold" text-anchor="middle">10<tspan dy="-1.4" font-size="2.6">2</tspan></text>
<path d="M27.9 629.8h-1.6" stroke="#555" stroke-width=".6"/>
</g>
<path filter="url(#fblur)" d="M259.3 614.3h0M275.8 607.4h0M263 614.4h0M262.2 619.7h0M236.5 630.9h0M287.6 604.3h0M223 639.7h0M290.9 601.9h0M292.3 602.3h0M224.7 639h0M229.2 639.5h0M291.2 600.4h0M283.4 594.4h0M263.9 621.2h0M223.8 642.3h0M286.8 596.8h0M226.4 642.2h0M245 622.3h0M222.8 631.9h0M249.9 623.2h0M283.4 591.2h0M223.4 637.3h0M261 607.5h0M231.8 628.3h0M243.4 628.1h0M235.1 628.6h0M273.3 604.4h0M220.3 637.8h0M265.7 609.5h0M238.4 631.7h0M226.6 642h0M283.3 594.2h0M260.4 618.5h0M291.5 600.3h0M220.3 639.9h0M226.9 639.5h0M230.4 633.7h0M276.2 604.6h0M240.9 629.3h0M248.1 625.7h0M234.2 630.3h0M235.6 631.7h0M248 628.6h0M275.5 609.1h0M254.4 624.3h0M224.8 643.4h0M227.3 642.8h0M226.3 638h0M234.5 639.7h0M228 643.5h0M260 617.9h0M249.5 618h0M235.6 634.7h0M220.3 635.4h0M263.3 617.5h0M228.3 640.5h0M242.3 623.1h0M230.9 628.3h0M220.3 633.3h0M250.8 625.3h0M254.9 620h0M281.7 595.5h0M285.1 599.5h0M220.8 632.5h0M229.7 633.9h0M273.5 601.5h0M267.3 610h0M259 619.3h0M221.8 636.7h0M238.6 629.9h0M255.5 614.6h0M220.3 636.9h0M278 601.7h0M249.6 612.8h0M259.6 622.4h0M253.6 615.2h0M224.9 645.9h0M275.3 607.5h0M238.1 631.3h0M276.5 610.6h0M267.3 613.7h0M228.6 638.5h0M265.4 612.6h0M243.7 636.4h0M225.8 635.7h0M278.5 605.7h0M220.3 638h0M222.6 642.3h0M232.5 643.1h0M239.5 628.5h0M280.9 610.7h0M261.4 610.1h0M247.1 616.9h0M252.9 620.1h0M289.2 601.8h0M270.4 618.7h0M242.3 629.6h0M236.4 628h0M252.8 624.2h0M274.5 606.2h0M259.4 620h0M257.4 615.8h0M281.3 608h0M271.9 603.7h0M254.5 616.7h0M246.3 623.9h0M288.2 599.4h0M232.3 633.3h0M229.8 637h0M266.1 609.7h0M223.9 632.3h0M228.9 646.7h0M251.1 620.6h0M225.8 645.8h0M259.2 616.1h0M239.4 641.2h0M263.8 624.8h0M256.7 620.2h0M281.3 602.5h0M264.5 611.6h0M238.6 632.8h0M262.6 624h0M238 636.3h0M223.4 642.5h0M230.3 637.8h0M266 613.2h0M232.3 637.6h0M270.2 609.3h0M262.8 610.4h0M222.3 635.1h0M275.4 611.5h0M225.4 635.5h0M222.5 639.6h0M239.1 642.2h0M230.7 633.6h0M269.3 610h0M268.3 610.4h0M280.4 604.2h0M271.4 609.2h0M283.8 597.7h0M262.4 627.8h0M262.5 617.2h0M228.7 641h0M254.2 615.8h0M222.2 642.2h0M224.8 646.8h0M229.5 641.3h0M225.7 640.6h0M265.4 604.8h0M282.4 604.4h0M287.8 600h0M271.7 612.9h0M236 635.4h0M254.5 618h0M229.6 634.8h0M238.2 626.2h0M264 614.8h0M224.9 636.2h0M228.1 637.3h0M259.7 609.3h0M271.3 609.5h0M223.5 644.9h0M234.1 629.7h0M268.9 608.3h0M224.7 631.9h0M229.4 638.2h0M257.8 616.4h0M223.8 640.1h0M258.8 620.1h0M273.4 601.2h0M259.2 618.3h0M248.7 614.5h0M248.6 625.3h0M224.1 642h0M222.2 637.2h0M251.3 624.2h0M272.5 607h0M278.1 614.6h0M225.6 635.4h0M221.4 639.1h0M228.2 636.6h0M221.5 641.2h0M273.9 613.5h0M220.3 635.1h0M222.6 642.9h0M233.4 629.5h0M259.6 612.2h0M224.6 637.9h0M222.6 637.6h0M220.3 633.5h0M226.6 633.7h0M244.3 625.5h0M245.4 625.2h0M240.8 630.7h0M273.1 611.6h0M273.4 612.1h0M247.9 617.6h0M272.7 617h0M288.9 596h0M244.2 631.4h0M272.2 604h0M244.6 621.8h0M278.3 602.9h0M227 639.2h0M234.2 643.3h0M252.9 628h0M267.7 605.7h0M229.1 637.5h0M277.1 601h0M266.2 614.5h0M279.3 609.2h0M240 628.8h0M271.5 605.9h0M244.5 627.5h0M232.5 633.3h0M238.9 637.7h0M254.8 618.7h0M269.6 612.2h0M267.2 609.7h0M223.2 633.4h0M247.4 628.3h0M249.1 615.9h0M255.9 619.5h0M275.3 607.8h0M221.1 640.8h0M263.6 618.6h0M264.5 620.6h0M227.1 629h0M231 637.7h0M224.6 641.6h0M283.8 596h0M220.8 638.6h0M281.2 602.9h0M231.1 642.7h0M232.4 637.5h0M233.5 637.5h0M250.5 621.5h0M222.8 636.5h0M244.6 621.8h0M237.8 633.3h0M228.1 642h0M258.3 622.6h0M258.7 613.3h0M225 634.1h0M279 598.9h0M229.7 634.4h0M239.1 634.2h0M270.5 608.9h0M222.6 636.9h0M227.8 634.4h0M230.1 629.8h0M240.8 632.5h0M278.5 609.6h0M244.4 633.8h0M268.4 607.9h0M280.4 605.4h0M255.6 617.9h0M259.7 610.6h0M285.2 599.3h0M229.6 623h0M235.2 638.6h0M276.1 599.9h0M236.4 621.3h0M230 641.2h0M226.5 639.4h0M241.2 631.6h0M236.8 629.7h0M234.9 632.4h0M248.3 628.7h0M281.2 604.4h0M261.5 624.1h0M243.5 623.5h0M223.8 645h0M275.4 608.6h0M236.6 636.4h0M251 627.8h0M245 629.9h0M252.9 625h0M263 615.7h0M272.8 606.9h0M231.9 630.3h0M272.1 610.6h0M243.4 631.6h0M226 640.1h0M223.1 644h0M242.5 628.7h0M224 645.7h0M252.2 628.9h0M282.8 590.2h0M259.3 613.5h0M238.8 632.2h0M270 610.6h0M257.8 616.7h0M257.6 620.4h0M282.9 601.7h0M255.3 635.3h0M228.9 639h0M285.8 606.5h0M227.4 637.1h0M228.8 638.7h0M227 634.1h0M259 618.5h0M228.9 635.5h0M228 641.4h0M222 640.8h0M259.3 616.8h0M220.3 633.5h0M254.8 620.7h0M230.8 630.6h0M234.9 635.1h0M222.5 641.5h0M228.5 638.4h0M236.5 636.4h0M228.9 639.9h0M245.3 623.6h0M262.7 609.2h0M267.1 608.5h0M222.1 641.4h0M259.6 613.7h0M224 642h0M228.2 640.6h0M273.3 604.3h0M274.6 606.9h0M280.2 606.7h0M224.8 629.5h0M240 622.4h0M244.2 635.3h0M281.4 600h0M262.1 615h0M221.9 641.9h0M277.9 595.2h0M284.5 597.9h0M230.7 638.6h0M225.9 637.2h0M235.9 642.7h0M235.3 631.6h0M245.8 629h0M276.2 598.1h0M236.3 631.9h0M285.8 605.3h0M255.1 621.4h0M244.9 623.5h0M278.2 596.9h0M269.4 606.5h0M240.1 626.1h0M238 623.4h0M248.5 627.1h0M284.5 591.4h0M235.1 629.3h0M272.8 602.6h0M227.5 633.3h0M271 609.9h0M263.3 616.3h0M224.7 638.7h0M252.7 621.5h0M220.6 637h0M250.2 618.6h0M229.2 632.4h0M235.5 632.7h0M241.2 636.8h0M261.1 612.2h0M230.7 633.8h0M262 621.8h0M221.5 632.6h0M231.2 637h0M238.4 631.7h0M265.5 618.1h0M223.4 636.3h0M238 632.5h0M252.4 624h0M246.3 626.6h0M281.1 606.1h0M254 616.6h0M231.2 632h0M270 616.7h0M285.8 600.3h0M256.5 619.6h0M269.2 610.7h0M223.7 633.2h0M260.7 618.9h0M229.7 631.1h0M238.8 620.1h0M236.5 627.3h0M256.3 609.6h0M283.7 603.4h0M224.4 627.2h0M259.4 617.1h0M235.8 633.9h0M284 599.7h0M284.3 604.5h0M288.2 598.3h0M270.5 605h0M222.9 641.5h0M234.4 632.6h0M230.7 638.1h0M273.4 603.6h0M243.2 623.9h0M223.1 642.8h0M247.6 636.1h0M281.3 598.7h0M220.3 633.7h0M226.6 640.6h0M222.4 640.7h0M265.8 614.3h0M263.2 615.6h0M261.6 615h0M270.2 610.5h0M288.7 599.6h0M270.8 612h0M258.5 618.4h0M224.7 636.1h0M223.4 640.5h0M240.2 619.9h0M220.3 639.3h0M238 635.5h0M226.8 639.9h0M237.2 637.4h0M258.1 616h0M254.5 621.8h0M290.1 603.8h0M223.9 641.5h0M225.6 634.4h0M258.4 618.9h0M226 635.5h0M246.2 626.5h0M291.4 601.5h0M220.3 638.8h0M226.3 639h0M254.5 624.7h0M249 621.4h0M264.9 620.8h0M229.9 625.7h0M228.7 641.7h0M276.8 602.2h0M225.1 638.9h0M223.3 637.3h0M222.5 636.9h0M259.5 620.2h0M281.1 597h0M240.4 631.3h0M237.3 630.5h0M230.1 635.6h0M264.4 615.5h0M238.1 623.2h0M239.8 630.3h0M291.3 599.5h0M249.9 617.7h0M246.4 628.2h0M230 630.9h0M280.9 605.3h0M278.5 603.1h0M230.5 640h0M286.8 602.6h0M223 643.9h0M242.2 626.7h0M225.2 638.5h0M243.6 622.6h0M222.2 640.9h0M233.2 632h0M253.9 621.9h0M224.8 631.3h0M220.4 639.9h0M242.3 620.9h0M257.1 610.3h0M273.1 606h0M270.3 606.7h0M261.5 604.4h0M222.1 641.2h0M279 600.3h0M272.2 613h0M225.3 637.4h0M221.5 640.7h0M285.9 600.5h0M226.1 642.7h0M278.9 594.8h0M230.6 634.5h0M242.8 627.2h0M264.9 619.3h0M249.4 619.4h0M284.2 598.6h0M222.8 643.4h0M290 603.1h0M274.9 606.9h0M247.4 635.5h0M249 619.2h0M275.5 601h0M278 600.6h0M237.4 639.7h0M261.7 618.7h0M234.9 637.8h0M288.4 595.7h0M284.3 596.6h0M223.6 639.2h0M220.3 636h0M249.2 637.7h0M229.1 647.4h0M254.9 617h0M283 600.8h0M249.8 619.9h0M224 636.6h0M235.2 635h0M245.4 626.1h0M237.9 630.4h0M226.3 635h0M246.4 623.2h0M225.8 634.2h0M222.7 636.9h0M271.7 612.2h0M227.2 632.8h0M230.5 641.6h0M226.2 647.4h0M232.4 631.9h0M230 632.1h0M269.5 610.9h0M277.9 603.6h0M272 603.8h0M284.8 603.2h0M228.9 642.4h0M289.2 598.9h0M262.9 609.6h0M234.3 637.7h0M223.4 641.7h0M244 630.1h0M228.2 631.4h0M225.3 632.9h0M279.3 601.8h0M223.6 634.3h0M237.5 631.6h0M224.5 634.3h0M228.7 640.1h0M228.5 625.1h0M243.3 624.9h0M237.6 636h0M235.5 633h0M220.8 634.7h0M235.8 632.6h0M264 612.4h0M221.2 639.6h0M245.1 620.8h0M226.9 633.5h0M234.5 631.4h0M245.4 620.8h0M226.8 633.5h0M220.3 638.2h0M268.3 615.4h0M278.1 591.4h0M260 612.5h0M262.1 615.6h0M239.2 628.3h0M254.5 621.8h0M262.5 614.9h0M226.2 635h0M259.2 623.4h0M285.9 606.8h0M255.4 618.6h0M270 615.8h0M233.3 629.4h0M278.4 599.2h0M266.9 608.9h0M276.6 600.4h0M252.6 619.3h0M221.7 636.8h0M250.7 624.2h0M233.8 645.2h0M278.8 602.6h0M252.5 623.6h0M236.6 637.6h0M223.1 639.4h0M234.8 636.4h0M249.1 626.7h0M232.2 631.5h0M270.2 605.1h0M259.4 616h0M225.4 647.1h0M234.1 644.1h0M249 625.2h0M275.2 608.5h0M279.9 603.3h0M220.3 639.1h0M233.8 624.8h0M279.2 604.5h0M228.8 630.5h0M227.8 641.9h0M248.5 626.2h0M225.7 636.1h0M232.3 633.4h0M260.3 619.3h0M226.5 642.2h0M279.4 606.4h0M286.5 609.9h0M285.7 598.3h0M225.5 645.2h0M286.9 598.5h0M224 637.9h0M220.4 634.9h0M273.5 616.6h0M234 633h0M248.5 622.8h0M242.1 637h0M260 621h0M287.6 594.3h0M221.8 635.4h0M245.9 630h0M254.5 616h0M242.3 627h0M228.3 636.9h0M227.1 638.4h0M266.7 612.7h0M288.2 595.3h0M223.8 630.8h0M271.9 601.7h0M231.9 640.4h0M230.8 631.4h0M229.8 634.8h0M265.2 616.1h0M251.6 608.4h0M232.5 627.5h0M253 621.8h0M276.6 594.5h0M241.5 622.9h0M243.4 630.8h0M244.5 626.8h0M220.3 639.4h0M230.9 635.5h0M279.3 605.9h0M251.6 620.3h0M246.1 628.7h0M248.5 624.8h0M239.4 627.7h0M253.8 619.4h0M255 621.6h0M285.9 605.3h0M277.1 600.9h0M264 609.7h0M241.5 626.7h0M247.5 619.7h0M261.9 609.4h0M235.9 628.2h0M234 629.8h0M239.3 625.1h0M236.3 629.5h0M280.7 609.4h0M225.4 634.8h0M253.9 615.3h0M258 616.8h0M236.3 631.7h0M243.6 619.2h0M254.2 611.9h0M255.2 614.2h0M227.3 643.8h0M276.1 600.7h0M260.9 615.9h0M249.7 625.1h0M222.1 640.2h0M252.9 621.2h0M291.3 599.5h0M247 623.2h0M230.4 639.4h0M233.6 641.5h0M268.9 620.2h0M240.4 638.6h0M282.6 609.9h0M224.9 642.6h0M286.5 594.9h0M240.9 627.7h0M251.3 621.9h0M230.2 637.6h0M277.2 602.9h0M235.5 634.4h0M280 596.3h0M250 620.1h0M230.1 638h0M222.7 638.6h0M274.3 611h0M220.3 637h0M225.3 638.2h0M261.8 617.1h0M229.2 643.3h0M277.5 604.2h0M225.9 639.8h0M231 638.6h0M293.4 600.7h0M234.6 620.8h0M226.7 645h0M225.7 642.1h0M225 632.2h0M227.4 635.1h0M231 611.2h0M263.9 608.1h0M236.1 632h0M237.1 630.1h0M230.1 647.4h0M240.2 628h0M289.4 595.7h0M256.6 615h0M226.9 632h0M279.1 605.6h0M275.9 605.9h0M233.1 642.4h0M226 642.1h0M279.9 607.4h0M223.4 632.9h0M249.7 622.3h0M264.7 610.8h0M223.3 635h0M224.7 641.1h0M248.9 617.3h0M292.1 613.4h0M262.4 602.7h0M236.2 629.7h0M242.6 618.5h0M243.3 623.7h0M285.3 613.7h0M279.5 603h0M237.2 635.2h0M249.8 624.9h0M270.3 607.8h0M264.3 595.1h0M238.4 638.1h0M237.9 632.8h0M284.8 609.1h0M269.4 604.4h0M263.8 604.8h0M288.8 597.1h0M264.4 591.4h0M221.4 629.3h0M268.5 603.8h0M224.1 635.9h0M256.7 621.5h0M282.2 598.5h0M294.3 598.4h0M251.9 630.7h0M239 633.7h0M290.1 601.8h0M282.3 611.4h0M247.3 620.9h0M220.3 632h0M295.5 598.9h0M221.9 638h0M290.2 595.2h0M227 632.3h0M224.1 627.2h0M243.7 621.4h0M242 629.4h0M220.3 634.9h0M242.5 605.6h0M239.2 624.2h0M268.6 610.2h0M267.4 617.8h0M227 641.1h0M272.8 624.6h0M223.3 640.1h0M279.4 607.6h0M270.5 618.9h0M289.3 601.2h0M265.2 609.4h0M245.4 629.5h0M291.3 604.6h0M220.3 637.5h0M277.9 595.2h0M246.8 624.2h0M231.4 647.4h0M264 612.8h0M228.2 638.2h0M283.7 611.5h0M232.9 647.4h0M291.9 607.7h0M253.1 624.1h0M258.8 622h0M292.1 593.5h0M255.2 621.2h0M291.1 591h0M264.6 607.5h0M282.4 603.2h0M261 632.3h0M269.2 609.2h0M270.7 617h0M272.6 621.6h0M225.4 640.8h0M230.4 635.8h0M271.7 610.1h0M233.4 619.7h0M289.3 601.3h0M246.4 629.2h0M231.5 632.2h0M262.3 599h0M233.2 626.2h0M251 618.1h0M255.2 628.1h0M281.4 615.8h0M274.6 612h0M271.2 612.3h0M268.8 596.4h0M237.4 617h0M227.1 629.4h0M240.4 629.2h0M270.2 603.9h0M261.3 626.8h0M220.3 627.8h0M260.2 614.7h0M271.6 591.7h0M220.3 624.7h0M245 629.6h0M240 641.4h0M261.8 614h0M257.3 616.3h0M236.3 630.4h0M264.7 624.9h0M229.1 634.2h0M220.9 636.9h0M290.8 614.9h0M289.6 589h0M264.9 603.8h0M249.5 618.2h0M292.1 604.8h0M227.9 633.9h0M245.7 611.5h0M289.3 604.9h0M262.3 623.4h0M227.4 641.1h0M253.9 624.9h0M241.2 616.4h0M233.3 647.4h0M244.6 618.4h0M220.5 636.6h0M237.7 622.2h0M239.4 627.9h0M263 618.6h0M244.5 613.1h0M251.4 627h0M226.2 635.6h0M267 622.1h0M259.4 616.1h0M267.9 603.4h0M255.2 618.8h0M260.8 619.7h0M285.3 614.8h0M274.5 602.4h0M256 618.6h0M283.3 608.5h0M228.3 625.2h0M221.7 640.6h0M226.4 641.2h0M279.3 618h0M229.1 647.4h0M236.1 647.4h0M268 596.7h0M264.8 604.4h0M224.5 639.4h0M220.3 630.1h0M287.1 596.8h0M254.6 628.2h0M251.8 618.3h0M278.9 603h0M254 627.6h0M230.6 639.7h0M242.3 624.2h0M220.7 626.7h0M238.8 640.4h0M226.9 634.1h0M257.5 617.5h0M263.1 617.3h0M227.9 643.6h0M294.9 604h0M222.7 638.9h0M220.3 635.8h0M227.1 647.4h0M285.5 601.9h0M221.8 641h0M242.7 628.7h0M238.4 634.7h0M230.4 647.4h0M262.7 621.7h0M229.4 644.2h0M231.4 640.1h0M244.7 624.9h0M266.5 622.3h0M224.6 637.7h0M260.6 611.2h0M235.7 621h0M280.6 612.8h0M253.9 623.7h0M286.3 600.9h0M237.4 623.9h0M255.4 616.6h0M294.2 596.9h0M246.5 627.3h0M222.8 642.5h0M288.1 605.4h0M292.1 604.3h0M268.9 604.8h0M261.4 611.5h0M275.8 607.8h0M244.6 631.2h0M260.3 624.2h0M229.4 627.8h0M268.6 613h0M222.5 642.2h0M251.1 613.3h0M251 617.2h0M229.2 637.6h0M246.2 635h0M252.1 628.7h0M267.1 606.8h0M221.2 637.1h0M228.7 635.4h0M226.4 633h0M288.8 601.4h0M234.1 630.9h0M240.4 631h0M265.5 595.9h0M255.9 613.5h0M254.2 605.5h0M247.9 630.3h0M226.7 638.9h0M228.8 647.4h0M223.8 629.6h0M242.1 618.1h0M256.8 608.3h0M224.1 643.4h0M246.8 634.7h0M236.4 628.8h0M262.7 623.4h0M241.8 625.8h0M278 608.3h0M260.4 611h0M230.4 625.2h0M243.9 637.7h0M278.1 588.4h0M225.8 638.5h0M248.6 638.8h0M284.5 604.3h0M238.1 608.2h0M242.4 631.6h0M240.3 640.1h0M280.9 617.1h0M249.9 620.2h0M255.6 603.1h0M220.3 630.8h0M240.8 614.4h0M241.7 623.9h0M228.2 631.4h0M265.4 616.7h0M262.2 614.5h0M251 626.2h0M235.4 632.3h0M267 617h0M261.1 621.2h0M277.2 621h0M228 635.3h0M249.7 614.1h0M253.6 613.5h0M240.4 628.9h0M286.8 611.6h0M258.7 605.5h0M224 620.8h0M257.1 623.3h0M220.3 632.3h0M250.5 624.1h0M238.5 624.1h0M287.8 588.9h0M257.8 620.2h0M271.6 591.9h0M267.9 615.9h0M239 623.7h0M220.3 636h0M250.5 628.5h0M279.4 606h0M291.7 598h0M240.1 632.9h0M249.1 632.1h0M231.7 645h0M251 619.8h0M229.8 646.3h0M248.6 623.9h0M227.8 634.6h0M225.7 643.4h0M226.3 626.2h0M286 604.4h0M271.7 617.1h0M257.8 619.6h0M228.3 636.5h0M291 602.4h0M220.3 636.4h0M262.1 620.2h0M293.2 612h0M273.8 609.8h0M271.1 595h0M239.7 628.2h0M264.2 612h0M250.9 635.9h0M244.4 624.1h0M261.5 605.2h0M220.3 635.7h0M229.8 634h0M291.3 609.5h0M259.4 617h0M220.7 628.5h0M226.4 624.7h0M239.6 621.8h0M263.2 610.4h0M229.8 640.7h0M240.7 624.4h0M286.1 598h0M220.7 639.3h0M284.4 593.4h0M239.2 641.2h0M240.6 629.9h0M274.1 602.8h0M258.4 609.2h0M262.5 611.8h0M263.4 618.6h0M256.2 622.9h0M244.1 627.2h0M220.3 632.6h0M233.7 630.9h0M269.8 609.7h0M255.1 615.9h0M284.9 581.9h0M223.9 623.5h0M228.6 632.5h0M229 640.4h0M225 622.5h0M271.8 608.6h0M222.3 640.4h0M227.2 624.5h0M222.3 642h0M230.2 630.9h0M237.3 635.6h0M277 586.5h0M281.4 608h0M220.3 633.6h0M231.8 636h0M226.8 639.6h0M238.7 635.6h0M280.6 605.4h0M223.8 622.2h0M220.8 639.2h0M266.9 609.8h0M282.8 601.3h0M281.5 619.6h0M260.4 628.2h0M259.9 616.5h0M266.7 613.8h0M266.9 612.6h0M255.5 620.7h0M230.9 624.6h0M260 629.7h0M222.8 634.7h0M248.5 610.6h0M284 589.4h0M223.1 640.5h0M233.4 629.7h0M253.2 628.4h0M224.1 637.1h0M230.5 631.6h0M258.7 624h0M275.8 607.3h0M266.5 608.4h0M271.4 612.4h0M284.3 608.4h0M254.3 623.7h0M266.7 616.3h0M264 628.1h0M279.6 615.7h0M260.9 611.4h0M233.9 630.9h0M278.9 612.2h0M255 615.9h0M257.8 634.8h0M288.4 590.8h0M232.5 621.9h0M287.7 586.7h0M242.2 628.5h0M252 624.4h0M245.3 632.1h0M270.5 612.5h0M262.4 619h0M247.2 625.1h0M243.8 624.8h0M277.5 605.4h0M246.5 616.6h0M242.5 630.1h0M230.3 634.4h0M282.4 604.6h0M256.1 624.7h0M263.2 609.8h0M234.7 625.9h0M222.1 641.5h0M230.6 626.4h0M227 631.6h0M236.3 630.8h0M225.8 640.7h0M240.5 637.3h0M225.1 639.5h0M241.2 625.5h0M237 636.6h0M245.3 627.5h0M264.1 612.9h0M287.6 607h0M257.2 612.3h0M273.9 609.3h0M287.5 600.1h0M246.6 640.2h0M249.7 628.3h0M231.4 634.6h0M233 641.9h0M227.7 617.9h0M273.1 604.5h0M233 642.9h0M280 592.7h0M273.4 606.6h0M244.7 612.4h0M247.1 624.8h0M254.1 618.2h0M232 637.8h0M290.5 595.8h0M227.6 635.1h0M244.3 601h0M283.5 599.7h0M226.4 644.8h0M259.6 594.2h0M251.2 627.6h0M227.4 620.6h0M245.5 617.1h0M244.7 623h0M244.5 619h0M250.3 628.2h0M222.6 618.5h0M241.2 616.9h0M244.2 633.9h0M232.8 641.2h0M257.2 632.5h0M245.7 633.8h0M237.4 640.6h0M234.2 609.8h0M240.7 633.6h0M250 621.2h0M256.6 623.4h0M247.8 635.9h0M242.5 639.1h0M234.7 646.5h0M246.2 626.6h0M270.7 630h0M221.6 641.4h0M258.4 625.4h0M229 639.1h0M241.1 622.3h0M234.9 630.6h0M251.9 642.6h0M233.3 642.3h0M222.9 635.8h0M238.9 633.5h0M235.4 624.3h0M243.8 639.1h0M220.3 630.4h0M235.8 621.4h0M224.9 634.2h0M246.9 635.2h0M220.3 617.8h0M233.4 626.5h0M261 626.9h0M242 638h0M259.9 633h0M244.5 645.6h0M235.8 615.6h0M231.8 627.5h0M255.7 632.6h0M254.5 630.8h0M241 625.4h0M226.2 634.1h0M244.7 634.6h0M234.3 626.6h0M244.9 634.9h0M263.6 623h0M252 637.1h0M237.5 631.1h0M239.9 642.3h0M270 632.6h0M237.5 637.7h0M246.2 628.5h0M249.2 637h0M235.9 636.9h0M220.3 619.7h0M236.9 631.3h0M223.6 641.9h0M236.1 631.2h0M240 636.1h0M233.8 636h0M230.9 618.1h0M246.5 631.3h0M250.7 614.4h0M241.8 624.8h0M238.3 626.9h0M236.2 624.6h0M252.4 616.2h0M221.1 632.8h0M263.9 623.9h0M230 620.6h0M228.7 640.1h0M248.4 637.3h0M244.5 631.9h0M233.8 622.2h0M247.7 647.4h0M236.2 640.2h0M232.3 630.3h0M260.2 629.4h0M247.9 625.5h0M262.3 620.1h0M247 628.1h0M242.8 632.9h0M255.8 637.1h0M252.7 633h0M228.1 640.8h0M258.4 633.9h0M249.7 628.1h0M223.8 638h0M232.1 645.5h0M248.5 629.9h0M233.4 630.9h0M228.8 627h0M259 627.6h0M261.9 629.2h0M245.3 622.6h0M237 626.4h0M224.4 645.6h0M247.3 629.3h0M227.8 630.3h0M228.3 622.2h0M238.3 647.4h0M220.3 634.5h0M234.1 606.6h0M224.1 628.9h0M241.2 623.9h0M261.1 634.3h0M233.1 616.7h0M242.5 624.6h0M252.4 621.6h0M254.4 626.3h0M242.7 627.8h0M247.7 639.3h0M234.1 622.7h0M262.5 637.7h0M262.6 637.8h0M242 643.2h0M232.7 626.6h0M235.8 635.6h0M230.5 628.6h0M230.6 628.1h0M253.5 639h0M237.9 647.4h0M232.3 633.7h0M234.9 612.1h0M226.6 640.1h0M221.2 647.4h0M239 632.2h0M255 630.3h0M233 625.1h0M229.4 634.5h0M234.9 634.2h0M222.9 626.5h0M264.4 633h0M239.2 639.6h0M243.6 642.5h0M226.8 636.2h0M228 635.5h0M269 642.4h0M230.4 633.4h0M245.7 624.2h0M243.2 621.4h0M251.7 637.4h0M238.5 635.6h0M268.2 628.7h0M220.3 632.7h0M235.1 623.7h0M250.9 638.2h0M247.3 643.3h0M233 626.6h0M245.3 608h0M220.3 632.8h0M237.9 630.5h0M229.1 631.9h0M252.7 624.9h0M246.9 628.8h0M238.5 631h0M257.9 634.3h0M248.3 631.2h0M220.3 637.7h0M240.1 630.8h0M234.4 617.5h0M257.7 644.9h0M258.7 615.1h0M246.7 620.4h0M238.1 625.8h0M233.1 623.8h0M234.7 636.3h0M259.1 637.6h0M240.1 628.8h0M237.4 629.9h0M233 628.6h0M250.2 628.2h0M230.7 629h0M241.3 629.4h0M237.2 635.7h0M239.7 621.8h0M246.9 624.2h0M249.3 636.7h0M245.9 632.5h0M224.5 628.4h0M241.7 635.2h0M227.1 628.8h0M222.2 631.5h0M241.2 631h0M259.6 636h0M238 625.3h0M235 636.4h0M251 625.9h0M238.9 626.5h0M248.3 631.6h0M231.8 622.8h0M255.5 618.6h0M220.3 605h0M264.1 625.6h0M250.3 634.6h0M250.1 639.3h0M234.7 629.9h0M251.8 634.6h0M231.3 623.9h0M223.2 632.1h0M234 617.4h0M233.7 632.7h0M242.4 628.2h0M242.1 635.3h0M226.1 623.4h0M251.7 636h0M223.7 624.1h0M257.3 636.1h0M238.5 638.3h0M256.4 641.5h0M223.8 619.5h0M234.2 629.6h0M236 632h0M257.7 639h0M251.9 630h0M259.7 633.7h0M243.1 629.9h0M220.3 647.4h0M239.9 637.3h0M267 628.5h0M226.5 638.3h0M243.1 622.3h0M251.6 630.1h0M229 609.5h0M228.5 633.1h0M228 637.9h0M266.3 632.6h0M242.9 629.4h0M250.4 630.3h0M252.5 641.6h0M250.3 622.2h0M248.1 627.9h0M243.9 637.9h0M232.4 631.7h0M257.6 623.3h0M238 635.9h0M237.5 638.3h0M228.3 617.9h0M244.7 628.9h0M243.9 637.8h0M252.7 627.2h0M235.6 614.3h0M228.7 632h0M242.8 618h0M249.5 629.7h0M253.3 627.2h0M251.7 621.1h0M220.3 623.5h0M248.5 633.3h0M220.3 631.2h0M248.2 643.6h0M249.5 634.2h0M221.5 633h0M220.3 627.6h0M235.8 622.2h0M228.2 628.9h0M247.1 624.8h0M243.8 635.8h0M239.9 645.5h0M236.5 624.1h0M220.3 638.7h0M248.3 628.5h0M243.9 629h0M250.6 629.9h0M242.9 629.4h0M229.7 612.1h0M246.7 620h0M244.9 635.2h0M262.6 624h0M242 637.7h0M232.3 625.3h0M245.5 646.7h0M253 637.7h0M228.8 635.3h0M253.7 619.8h0M240.3 628.5h0M247.9 616h0M248.6 630h0M237 613h0M220.3 625.7h0M247.9 633.5h0M249.1 616.3h0M242.6 640.9h0M221.8 635.3h0M231.6 634.4h0M241.4 616.9h0M227.7 640.3h0M238.9 640h0M244.2 637.2h0M235.5 631.8h0M235.8 637.3h0M233.4 638.9h0M258.9 620.2h0M238.2 634.4h0M261.3 639.3h0M241.2 616.1h0M250.2 625.3h0M242.5 633.3h0M223.4 638.6h0M251.1 634.7h0M247.3 632.9h0M223.6 625.9h0M249.9 627.4h0M240.5 633h0M241.2 632.1h0M245.9 630h0M227.1 627.9h0M251.5 624.6h0M245.8 632.5h0M229.7 607.4h0M240 623.8h0M232.7 637.5h0M231.1 632.8h0M241.6 631.6h0M263.8 614.2h0M251.6 628.9h0M236.9 624.7h0M240.6 630.4h0M229.3 643.2h0M231.4 628.9h0M225.1 631.2h0M244.4 638.7h0M251.8 626h0M259.2 629.2h0M258.6 643.8h0M235.4 621.4h0M246.6 641.5h0M244.9 638.8h0M247.2 637.1h0M255.9 627.7h0M223.4 629.1h0M230.8 620.5h0M238.2 635.7h0M220.3 617.9h0M249.6 622.9h0M235.5 640.9h0M253.5 632.9h0M246.5 608.2h0M246.7 633.1h0M223.7 631.5h0M245.6 629.1h0M249.5 637.1h0M240.8 628h0M226.2 639.1h0M233.4 632.6h0M258.3 636.2h0M225.1 629.3h0M231.7 616.8h0M230.7 634.7h0M244.2 628.4h0M242.2 620.7h0M231.1 628.7h0M249.6 627.5h0M238.2 632.7h0M257.5 619.9h0M246.5 631.5h0M239.3 632h0M220.3 630.2h0M237.3 620.1h0M250.1 629.1h0M236.1 636.1h0M229.3 624.3h0M249.9 637h0M264 626.4h0M223 618.1h0M226 630.9h0M237.3 624.6h0M228.2 624.4h0M235.8 639.5h0M247.5 641h0M249.8 636.1h0M254 633.6h0M258.3 639.1h0M261.6 631.7h0M231 647.4h0M236.8 634.2h0M235.7 624.4h0M245.3 621.1h0M238.2 641.3h0M241.6 636.6h0M247.7 633.1h0M241.4 634.9h0M228.7 634.7h0M227.4 624h0M233.2 619.3h0M220.3 633.1h0M246.1 635.3h0M266.2 631.4h0M249 624h0M248.5 620.9h0M263.4 622.3h0M235.3 636h0M220.3 640.7h0M228.9 631.6h0M251.7 631.3h0M251.2 626h0M247.1 612.6h0M258 624.7h0M229.9 630.1h0M260.2 624.4h0M239.8 627.1h0M229.1 619.6h0M247.1 635.7h0M231.2 631.8h0M245.4 633h0M238.1 630.4h0M243.3 621.5h0M238.4 636.4h0M233.4 640.5h0M237.2 621.2h0M236.6 619.2h0M247.3 617.3h0M240.3 628.1h0M236.5 633.4h0M243.5 625.5h0M249.8 626.4h0M250.7 640.7h0M244.5 637.4h0M224.2 634.5h0M222.4 628.6h0M248.3 608.6h0M230.8 623.8h0M228.9 630.2h0M247.6 620.8h0M232.7 615.2h0M231.7 613.3h0M222.2 633.8h0M250.4 623.5h0M244.2 623.8h0M252.7 644h0M220.3 623.1h0M232.5 626.2h0M258.5 642.6h0M239.9 635.1h0M221.2 627.6h0M236.6 628.8h0M243.5 617.5h0M227.7 647.1h0M220.3 630.5h0M248.6 633.9h0M240.7 617.1h0M234.5 617.5h0M263.3 632.9h0M248.6 631.6h0M235.4 639.5h0M250.5 635.1h0M246.9 635.9h0M236.7 633.5h0M241 628h0M247.7 647.1h0M220.3 641.5h0M234.9 639.6h0M228 628.5h0M252.1 629.4h0M244.2 620.3h0M226.5 643.3h0M241.9 629.3h0M223.7 621.7h0M227.8 629.6h0M238.7 625.1h0M232.1 630.9h0M253.9 618.8h0M223.2 639h0M223.1 626.7h0M241.4 644.6h0M220.3 606.8h0M239.1 638.6h0M241.7 623.5h0M242.3 613.5h0M249.7 641.9h0M237.6 636.6h0M227.5 641.8h0M232.4 623.6h0M231 615.8h0M248 646h0M223.1 628.4h0M245.3 625.5h0M221.5 632.7h0M251.9 630.8h0M227.3 627.6h0M220.3 629.5h0M254.4 638.9h0M239 633.5h0M233.9 631.1h0M233 631.3h0M233.9 631.6h0M248.2 629.9h0M224.7 634h0M237.1 626h0M246.7 623.3h0M251 634.5h0M231.8 624.4h0M238.6 622.7h0M251.2 611.9h0M241.8 627.2h0M227 635.1h0M234.3 633.7h0M234.9 627.7h0M246.2 637.7h0M251.8 629.8h0M257.5 627.3h0M223.9 615h0M222.9 623.1h0M220.3 632.6h0M240.4 629.7h0M242.8 629.1h0M237 627.5h0M240.5 621h0M255.1 642.4h0M240.4 647.4h0M228.6 637.2h0M220.9 634.9h0M231.2 638.1h0M241.4 637.6h0M247.2 634.2h0M236.8 642.8h0M244.2 633.9h0M256.9 627.9h0M260.6 638.7h0M240.9 618.4h0M254.4 627.5h0M241.2 631h0M251.3 635.1h0M220.3 624.7h0M244.2 631.4h0M249.4 634.6h0M259.2 624.2h0M255.4 633.1h0M243.6 635.5h0M236.1 635.8h0M237.6 635.8h0M231.1 639.4h0M222.1 624.7h0M239.5 632h0M230.6 626.8h0M243.1 638.4h0M255.3 626.2h0M239.3 627.5h0M222.1 626.4h0M253.4 619.2h0M273.8 637.9h0M260.5 631.5h0M220.3 633.5h0M258.8 625.4h0M255 636.1h0M249.3 636h0M247 635.2h0M254.1 633.4h0M247.5 633.5h0M241.7 623h0M220.3 621.9h0M225.5 618.1h0M248.2 627.4h0M255.1 647.4h0M249.2 626.3h0M244.6 628.4h0M243.4 646.8h0M258.9 640.3h0M243.5 644.4h0M249.9 637.2h0M226.3 625.1h0M242.1 628.3h0M233.9 613.9h0M231.3 629.2h0M243.7 621.4h0M238.5 644.6h0M242 614.2h0M237.9 630.1h0M255 631.6h0M256.3 632.7h0M253.9 640.9h0M258.2 631.6h0M247.7 647.4h0M225.7 631.6h0M245.7 624.4h0M249.9 628.7h0M249.5 631.6h0M229.1 638.5h0M263.8 637.5h0M243.4 616.1h0M243.9 629.8h0M230.8 614.6h0M245.4 637.9h0M248.5 647.4h0M220.3 632.9h0M239.8 641.5h0M239.7 622.2h0M239.4 633.6h0M231.5 623.7h0M243.3 637.1h0M237.4 634h0M234.2 627.3h0M242.4 637.9h0M258.8 629h0M245.4 645.9h0M250 627.1h0M245 618.5h0M220.3 623.9h0M231.7 619.2h0M252.2 626.4h0M241.2 630.6h0M237.7 620.6h0M262.9 614h0M239.8 635.7h0M237.8 629.2h0M243.8 632h0M236.2 638.8h0M246.1 642.2h0M241.3 614h0M220.7 625.9h0M245.5 616.8h0M233.5 640.1h0M244.1 624.3h0M238.9 631h0M235.2 627.5h0M232.7 631.8h0M258.8 641.8h0M225.6 647.4h0M238.8 618.7h0M222.7 631.2h0M242.9 624.9h0M230.8 628.3h0M243.2 635.5h0M246.7 610.8h0M233.2 632.2h0M244.6 636.5h0M222.8 642.7h0M226.2 628.4h0M234.7 626.2h0M231.1 636.7h0M249.4 632.9h0M225.3 625h0M239.5 633.3h0M233.7 627.9h0M270.9 630.6h0M236.7 610.2h0M231.4 643.3h0M250.1 620.4h0M249.4 631.4h0M230.9 636.5h0M233.1 627.6h0M240.4 631.8h0M235.1 632.5h0M240.2 631.6h0M244.7 624.9h0M224.3 629.5h0M254.6 632.7h0M242.8 624.1h0M226.9 620h0M229.5 627h0M222.2 629.1h0M221.9 635.3h0M239.9 615.8h0M233.8 631.9h0M244.6 636.3h0M236.1 628.9h0M237.5 634.5h0M232.2 628.7h0M241.9 627.2h0M227.6 641h0M246 622.7h0M263.1 623.9h0M230.1 627.1h0M246.4 642.2h0M256.2 634.5h0M241 635.4h0M231.1 624.4h0M246.4 631.7h0M242.9 621.8h0M243.1 618.4h0M251 630.1h0M232.7 626.3h0M272.5 647.4h0M232.1 641.1h0M220.3 639.2h0M240.4 632.1h0M229.1 619.5h0M243 626.5h0M246.1 638.6h0M238.9 634.4h0M242.3 632h0M234.2 632h0M245.3 630.7h0M235 618.3h0M227.8 642.7h0M252 632.5h0M243.6 628.9h0M248.1 637.8h0M237.3 632.6h0M251.3 617.3h0M229.3 625.4h0M226.8 626.5h0M230.4 626.9h0M245.8 620.6h0M241.4 641.2h0M242.4 620.2h0M233.2 639.5h0M237.2 625h0M249.3 624.3h0M227.3 635h0M240.4 624.8h0M245.6 639h0M252.8 630.9h0M245.5 634.1h0M223.1 643.5h0M232.6 625.5h0M230.7 622.3h0M301.5 610h0M365.1 592.4h0M372 591.3h0M339.3 601.2h0M344 600.7h0M347.7 592.7h0M363 594.7h0M346.8 593.1h0M316.5 608.2h0M363 592.7h0M358.1 596.6h0M369.2 592.5h0M365.2 586.6h0M349.7 599.3h0M344.7 607.2h0M368.1 587.1h0M372 593.4h0M340.2 607h0M329.4 601.1h0M325.8 603.7h0M372 587.2h0M340.5 601.9h0M365.7 591.2h0M339 596.1h0M321.7 610.4h0M324.8 599.5h0M357.8 596.2h0M327.5 603h0M359.6 588.8h0M303.4 612.6h0M334.9 601.7h0M344.5 595.6h0M361.7 589.9h0M357.7 594.8h0M354.7 586.4h0M336.2 595.7h0M344.2 590h0M336.6 604.4h0M327.1 600h0M362.9 596.9h0M326.9 611.4h0M331.7 591.6h0M362.4 588.7h0M326.4 600.2h0M304.5 618.1h0M363.9 587.3h0M368.2 593h0M357.7 587.1h0M368.2 598h0M366.6 585.5h0M335.7 603.9h0M324.4 606h0M363.4 579.7h0M334.6 599.4h0M315.6 616.2h0M366.9 596.6h0M342 598.8h0M370.5 586.5h0M333 605h0M347.2 602.3h0M345.7 597.4h0M362.5 588h0M332.5 595.7h0M362.5 596.6h0M360.3 593.1h0M335.2 597.8h0M348.7 598.3h0M357.6 590.6h0M347.6 603.9h0M369.2 585.6h0M340.1 597h0M326.9 606.7h0M335 603.9h0M353.1 601.1h0M360.4 591.8h0M344 586.6h0M351.7 590.3h0M336.1 601.1h0M333.3 600.5h0M344.9 603h0M347.2 590.8h0M347.5 585.4h0M372 584h0M353.7 600.3h0M342.5 596.1h0M372 587.1h0M315.2 612.6h0M335 597.6h0M335.5 606.2h0M350.9 594.4h0M340.3 597.2h0M346.9 592.5h0M320.1 615.3h0M304.3 616.5h0M347.4 595.9h0M338 608.6h0M312.4 614.3h0M356.5 596.8h0M360.6 597.3h0M346.6 587.7h0M310.5 610.7h0M351.7 591.7h0M323 604.8h0M357.8 594.9h0M370.1 584h0M356.2 597.5h0M361 589.2h0M356.8 596.1h0M332 597.3h0M350.1 596.2h0M372 585h0M341.7 602.2h0M369.2 589h0M323.4 606.1h0M329.3 606.2h0M320.7 601.6h0M365.2 595.3h0M334.7 596.3h0M364.5 589.3h0M324.8 617.3h0M338.9 598h0M364.7 597.9h0M347.3 593.6h0M351.6 594.6h0M310.7 610.8h0M340 589.2h0M343.1 595.2h0M369.6 585.6h0M324.6 599.9h0M361.1 592h0M335.9 607.1h0M321.4 613.1h0M368.4 597.7h0M364.9 591h0M349.3 602.6h0M355 589h0M331.3 606h0M317.2 611.2h0M355.7 590.4h0M335.5 591.8h0M339.8 605.6h0M370.8 581.2h0M307.3 618.7h0M363.2 589.3h0M324 599.8h0M358.7 590.5h0M361.1 600h0M314.2 616.6h0M362.7 584.9h0M326.9 603.4h0M363.2 590.8h0M369.2 584.6h0M342.2 601.6h0M337.7 598.8h0M327.9 608h0M322.3 608.4h0M347 595.3h0M369.9 588h0M353.4 591.1h0M341.4 599.4h0M367.8 583.8h0M371 589.8h0M340.7 601.1h0M358.3 591.3h0M319.1 608.9h0M368.7 590.2h0M369.1 589.5h0M316.4 605.2h0M350 602h0M302.3 612h0M372 591.1h0M307.2 612.3h0M358.9 592.1h0M343.1 598.8h0M309.5 619.6h0M362.8 593.3h0M336.1 604.1h0M329.3 607.9h0M349.6 594.9h0M310.4 622.8h0M327.1 602.3h0M314.2 607.8h0M339 599.2h0M332 611.8h0M354.2 592.2h0M309.6 609h0M349.8 598.9h0M371 589.4h0M324.9 609.3h0M309.1 612.7h0M311.1 617.7h0M328.6 597h0M335.5 598.8h0M335.8 607.6h0M344 596.6h0M319.3 606.1h0M355.6 593.5h0M342.4 599h0M364.1 584.5h0M371.5 583.3h0M325.5 604.4h0M369.4 589.5h0M353.5 599.3h0M334.6 597.9h0M358.6 591.8h0M356.1 598.9h0M362.5 591.1h0M352.1 602.9h0M355.9 598.3h0M317.5 613h0M354.8 595.3h0M341 595.6h0M349.8 584.4h0M364.3 585.5h0M357.2 592.2h0M357.5 594.2h0M327.2 603.9h0M364.6 583.6h0M311.4 608.3h0M336.7 602.2h0M331.4 606.5h0M348.2 592.6h0M316.7 604.2h0M318.7 607.1h0M336.1 601.4h0M317.1 615.8h0M370.3 579.6h0M312.1 618.8h0M362.5 594.8h0M337.7 598.5h0M353.5 593.5h0M370.8 590.6h0M353.3 589.7h0M363.5 590.5h0M360.2 591.1h0M342.4 603.2h0M311.7 610.4h0M356.8 594.4h0M335.3 600.9h0M331 607h0M329.7 608.5h0M348.3 593.6h0M337 607.5h0M322.9 605.8h0M362.6 605.7h0M360.6 591.8h0M323.9 598.2h0M363.9 594.6h0M362 588.4h0M355.1 592.5h0M351.7 596.3h0M348.7 597.9h0M368.7 585.2h0M319.6 614.7h0M368.9 591.1h0M358.4 590.1h0M357.4 584.5h0M312.7 615.8h0M335 608.8h0M362.5 596.6h0M327.3 602.8h0M349.1 591.9h0M339.5 595.2h0M334.1 600.5h0M339.4 604h0M366.8 594.6h0M326.9 602.1h0M323.6 604.9h0M315.8 617.9h0M321 610.1h0M331.2 601.1h0M351.5 595.3h0M345.5 599.2h0M357.4 599.8h0M370.1 583.6h0M356.4 600.2h0M352.4 599h0M342.6 600.2h0M313.7 618.4h0M320 613.8h0M350.5 596.3h0M341.8 605.1h0M329.8 601.1h0M371.6 588h0M346.1 603h0M325 612.1h0M361.3 593h0M344.2 588.4h0M361.7 593.4h0M350.1 588h0M368.6 588.1h0M336.7 597.3h0M367.3 592.8h0M369.4 586h0M362.9 589.3h0M330.4 600.5h0M332.1 601.7h0M326.1 601.5h0M321.9 609.1h0M322.6 604.9h0M350.2 600.4h0M326.8 607.5h0M365 584.8h0M344.1 596.9h0M309.5 619.3h0M302.2 607.2h0M351.3 597.6h0M368.8 579.6h0M369.9 589.7h0M372 584.7h0M371.2 581.4h0M328.1 598h0M343.9 602.7h0M372 589h0M357.2 589.2h0M327.3 606.7h0M341.9 598.3h0M352.8 600.1h0M339.3 596.7h0M345.6 595.4h0M347.7 602.4h0M348.9 588.5h0M361.2 590.5h0M335.5 604.8h0M321.2 609.3h0M351.4 585.4h0M329.4 610.2h0M353.2 600.5h0M324.2 614.7h0M372 586.5h0M372 588.2h0M367.5 578.5h0M321.5 605h0M356.5 598h0M321.6 607.1h0M372 593.3h0M348.2 605.4h0M367.6 584.9h0M323.3 602.4h0M366 593.9h0M367.2 593.9h0M310.1 617.7h0M336.2 607.1h0M320.3 610.4h0M353.6 587.7h0M336.9 606.2h0M372 587.4h0M347.2 598.6h0M347.1 598h0M324.1 606.2h0M326.8 598.2h0M357.5 596.4h0M326.8 600h0M351.9 600.4h0M317.7 609.1h0M344.2 599.4h0M328 604.1h0M368.6 592.2h0M316.2 612.5h0M342.7 600.5h0M345 604.9h0M330.2 601.4h0M317.2 601.8h0M327.1 603.3h0M359.2 584.7h0M372 594.3h0M324.7 608.9h0M337.5 595.7h0M349.4 600.7h0M349.5 593.4h0M349.1 604.1h0M318.1 610.8h0M371.1 593.1h0M330.4 604.7h0M355.6 588.5h0M362.9 585.4h0M372 588.3h0M346.5 599.8h0M369.5 585.4h0M348.9 598.5h0M337.3 608.8h0M345.3 602h0M367.2 592.2h0M319.7 611.4h0M364 584.3h0M312.6 614h0M341 594.5h0M330.5 609h0M372 584.1h0M346.6 602.4h0M337 602.8h0M369.8 588.2h0M372 584.9h0M324.9 605.1h0M336.4 606h0M332.6 604.4h0M336.5 604.9h0M372 581.8h0M336.6 608.8h0M361 594.8h0M362.6 585h0M319.3 615.2h0M358.8 590.4h0M351.6 590h0M342.8 594.5h0M353.9 596.7h0M365.1 586.8h0M341.5 604.7h0M323.6 607.2h0M367.7 588.2h0M313 615.5h0M345 604.9h0M329.7 594.2h0M355.6 594.6h0M338.9 604h0M316.2 609.3h0M361.1 594.1h0M337.4 593.8h0M357.6 593.8h0M372 590.2h0M368.4 593.8h0M358.2 590.7h0M334.9 594.2h0M363 596.9h0M372 589.6h0M371.2 591h0M371.8 590.9h0M327.9 596.9h0M360.5 595.7h0M307.3 617.3h0M343.1 600.7h0M358.2 597.1h0M359.8 599.8h0M331.4 596.8h0M334.8 599.5h0M366.6 590.8h0M362.1 587.6h0M331.1 598.5h0M332 603.9h0M372 584.5h0M322.1 609.9h0M372 594.2h0M324.2 612.1h0M318.8 607.3h0M349.8 597h0M356.6 599.9h0M368.4 596.3h0M355.3 589.5h0M362 596.9h0M344.2 592.2h0M372 589.7h0M326.7 605.3h0M351.8 590.8h0M346.1 596.4h0M324.8 601.5h0M362.3 594h0M359.5 594.6h0M346.3 599.6h0M361.8 589.9h0M331 611.5h0M334.4 604.5h0M365 587.4h0M351.6 600.5h0M349.5 597.2h0M318.2 605.9h0M346.4 601.4h0M367.4 581.4h0M335.3 608.7h0M362 594.4h0M362.7 595.8h0M367.7 595.8h0M323 609.9h0M371.2 584.2h0M326.1 614.7h0M372 583.6h0M369.4 587.2h0M362.9 589.9h0M326.8 601.2h0M356.3 597.8h0M356.7 587.2h0M311.9 608.6h0M349.1 597.4h0M356.5 593.1h0M334 602.7h0M331.3 600.7h0M326 608h0M324.4 597.5h0M327.5 606.2h0M370.3 582.6h0M365.2 581.4h0M362.1 593.6h0M353.9 593h0M338.4 602.9h0M356.5 596.6h0M322.9 614.6h0M366.5 594.5h0M309.3 613.5h0M348.8 597h0M372 589.3h0M344.7 603.2h0M357.6 586.7h0M316.4 606.4h0M372 586.9h0M305.1 613h0M364.6 590.7h0M368.8 583.8h0M354 593.1h0M345.7 597.8h0M337.6 597.5h0M366.9 590.6h0M339.4 603.5h0M366.4 591.2h0M345.8 592.4h0M372 592.7h0M342.4 601.9h0M319.4 612.1h0M367.2 587.9h0M354.1 590.5h0M367.2 591.7h0M344.2 598.5h0M353.5 589.4h0M344.7 600.3h0M339.5 596.5h0M332.6 601.5h0M341.6 600.2h0M344.1 596h0M328.7 605.7h0M336.8 601.5h0M372 586.1h0M359.1 589.1h0M347.4 599h0M311.4 613.6h0M328.8 594.9h0M370.7 593.9h0M348.6 593.6h0M362.4 585.4h0M337.8 599.4h0M327.2 603.2h0M330 601.4h0M353.3 596.9h0M309.6 610.7h0M365.5 595.3h0M361 585.7h0M309.4 616h0M368.7 584.1h0M315.3 603.8h0M340.3 597.6h0M364.6 598.3h0M323.6 610.3h0M320.2 608.2h0M346.6 587.1h0M312.8 616.2h0M369 587.2h0M320.6 604.7h0M360 595.6h0M315.7 611.4h0M340.1 609.1h0M349.6 595.9h0M353.3 589.3h0M363.2 584.7h0M372 590.1h0M371 585.9h0M331.8 608.8h0M312.9 616.1h0M370.6 595.6h0M330.1 603.4h0M350.1 600.8h0M365.5 591.2h0M326.5 608.4h0M338.4 604.6h0M335.6 601.4h0M355.6 595.3h0M345.1 595.1h0M368.2 585.8h0M360.8 587.3h0M366 587.9h0M340.9 594.9h0M313.6 614.5h0M349.6 605.1h0M365.1 594.9h0M319.8 610.5h0M351.7 602h0M339.8 597.7h0M341.7 601.5h0M313 614.8h0M309.1 614.8h0M329.5 606.1h0M353.7 598.6h0M372 584.2h0M347.4 589.2h0M361.5 590.9h0M338 600.8h0M319.5 607.3h0M341.1 595.9h0M323.6 610.9h0M320.7 607.8h0M338.1 600h0M359.1 595h0M346.3 608.8h0M319.5 609.8h0M369.3 593.7h0M361.8 590.7h0M305.8 617.3h0M360.8 599.3h0M319 609h0M363.9 592.1h0M353.8 591.1h0M348.4 601.6h0M330.6 603.8h0M359.3 592.1h0M372 589h0M353.8 598.7h0M357.6 593.5h0M359.7 588h0M338 602.2h0M349.2 591.1h0M369.5 590.3h0M338.5 605.8h0M313.3 612.2h0M322.1 605h0M321 609.7h0M333 596.3h0M344.8 595h0M311.7 616.5h0M334 606.7h0M358 591.7h0M351.6 589.3h0M358.6 593.9h0M351.5 596.4h0M327 602.1h0M344.7 599.7h0M303 610.8h0M345.2 600.3h0M350.4 594.3h0M329.8 597.2h0M334.9 600.5h0M319.3 596.7h0M310.1 617.2h0M334.2 603.8h0M364.8 594.9h0M349.4 593.6h0M348.1 595.3h0M360.8 591.1h0M372 587.3h0M349.2 602.6h0M335.9 600.7h0M326.7 613h0M350.1 593h0M306.8 612.9h0M318 614.2h0M343.9 595.7h0M348.5 597.4h0M372 592.1h0M331.7 597.8h0M324.8 596.3h0M327.5 607.1h0M314.7 611.5h0M347.2 596.8h0M372 585.9h0M333.7 602.7h0M360.8 590.8h0M343.7 597.1h0M346 599.1h0M335.1 604.5h0M341.7 603.5h0M368.2 587.3h0M306.8 611.9h0M313.1 612.3h0M332.1 601.6h0M330.6 598.5h0M358.9 589.8h0M354.6 585.4h0M317 612.4h0M363.8 579.2h0M358.2 599.1h0M348.6 603.2h0M360.9 594.4h0M307.7 612.6h0M371.4 588.6h0M343.6 597.6h0M365.3 585.5h0M372 583h0M308.3 611.9h0M372 588.4h0M351.5 594.8h0M372 595.6h0M346.7 600.6h0M357.5 592h0M372 586.9h0M367.8 595.7h0M367 588.5h0M320.1 613.2h0M348 599.5h0M366.9 586.1h0M328.7 598.6h0M364.8 591.2h0M370.1 584.8h0M362.8 594.3h0M363.9 591.2h0M365.8 586h0M360.6 588.2h0M358.8 590.1h0M313.8 611.1h0M360 587.2h0M351.1 593.2h0M348 600.1h0M320.4 608.3h0M328 611.9h0M368.5 584.4h0M323.8 606.5h0M331.2 602.1h0M334.7 604.1h0M372 594.7h0M370 583.8h0M360.7 598h0M340.5 598.8h0M321 601.6h0M367.5 579.1h0M370.4 581.1h0M372 588.1h0M361.6 596.9h0M347.5 590h0M365.8 584.3h0M345 605h0M328.6 609h0M352.2 588.1h0M344.6 597.7h0M359.5 600.9h0M356.8 593.7h0M363.1 589.6h0M366.9 589.9h0M367.5 589.8h0M327.1 595.6h0M324.7 604.6h0M349.5 605h0M368.1 591.9h0M343 599.8h0M363.2 588.1h0M364.1 590h0M333 602.1h0M357.1 595.8h0M355.9 589h0M342.8 595.9h0M325.4 604.7h0M366.1 585.6h0M332.7 602.1h0M335.2 599.7h0M343.5 598.6h0M335.9 598.8h0M312.1 615h0M367.3 586.4h0M372 593.2h0M337.7 597.4h0M372 591.9h0M348.2 595.6h0M333.8 601.2h0M343 596.6h0M359.1 588.6h0M365.8 589.5h0M319.3 614.7h0M332.3 596.1h0M324 603.1h0M362.1 586.5h0M311 605.4h0M349.5 601.2h0M359.3 598.4h0M331.9 613.5h0M339.5 599.9h0M327.5 606.2h0M365.5 585.5h0M332.9 605.9h0M350.8 592.4h0M334.2 601.7h0M337.5 600.3h0M334.8 595.7h0M344.7 593.9h0M372 590.6h0M342.4 605.5h0M326.2 604h0M347.3 601.1h0M346.8 599.6h0M337.6 593.6h0M361.7 590.2h0M365 589.1h0M366.9 585.5h0M367.9 584.4h0M372 585.3h0M347.4 596.5h0M324.1 601h0M328.1 606.7h0M311 605.7h0M348.3 597.1h0M369 600.4h0M336 601.9h0M342.5 596.5h0M370.4 586h0M363.6 594.8h0M346.5 596.6h0M349 599.4h0M356.6 595.4h0M371.7 590.8h0M347.9 598.6h0M340.9 599.7h0M335.3 605.1h0M312.5 611.7h0M368.5 589.9h0M353.8 590.5h0M357.2 593.2h0M338.2 605.8h0M326 598.8h0M344.7 589.9h0M332.3 613.5h0M310.9 614.5h0M357.7 603.6h0M357.6 585.8h0M342.4 599.8h0M346.5 592.9h0M368.7 581.7h0M355.3 595.1h0M325.4 604.1h0M371.3 591.8h0M330.1 606.6h0M348.3 593.6h0M320.8 617.9h0M366.7 593.6h0M363.6 589.1h0M353.9 595.3h0M321.7 613.6h0M335.1 605h0M368.7 589.5h0M348.5 600.1h0M332.8 599.6h0M343.2 591.1h0M313.3 621.1h0M326.2 607.2h0M341.5 605h0M316.6 603h0M347.3 591.2h0M335 599h0M310.9 612.7h0M331.7 598h0M342.9 604.5h0M368.7 591.2h0M325 609.4h0M364.2 593.1h0M348.8 601.7h0M358.9 588.7h0M371.2 586.6h0M346.8 600.5h0M349.3 601.3h0M318.6 614.6h0M359.7 593.4h0M336.9 599.5h0M358.8 589.7h0M359.9 582h0M340.2 598.1h0M340.5 604.6h0M361.9 591.4h0M360.6 587.2h0M353.8 596.6h0M309.1 604.7h0M319.3 607.9h0M312.7 605.7h0M339 600.9h0M346.2 611h0M371 581.6h0M323.2 606h0M370.5 590.7h0M353 593.1h0M363.3 589.9h0M372 586.9h0M307.5 617.9h0M366.1 589.6h0M368.4 591.1h0M355.8 590.5h0M372 587.9h0M336.4 601.4h0M337.3 595h0M371.6 584h0M328.8 606.9h0M306.3 604.6h0M361.1 594.7h0M335.9 599.4h0M367.7 596.5h0M334.4 602.7h0M365.7 593.1h0M344.2 595.5h0M361.5 585.2h0M351.6 602.1h0M329.6 605.8h0M364.5 584h0M356.3 590h0M367.9 592.7h0M361.7 581.9h0M330.2 604.4h0M359.7 587.8h0M349.5 594.5h0M324.2 606.1h0M322.5 615.2h0M371.4 592.4h0M335 596.8h0M358.7 594.1h0M316.1 611.6h0M318.4 609.3h0M358.4 589.5h0M352.3 600.9h0M342.5 591h0M340.4 599.3h0M359 584.3h0M315.9 605.5h0M333.7 604.1h0M349.4 596.6h0M344.4 599.6h0M326.9 608.3h0M366.9 584.6h0M350.2 594.3h0M341.9 597.8h0M372 586.4h0M351.2 594.1h0M313.7 601.8h0M313.1 612.2h0M326.6 608.8h0M341 602.9h0M357.6 587.6h0M349.6 604.7h0M318.5 605.2h0M359.8 600.1h0M348.9 594.1h0M341.3 602.9h0M316.9 612h0M314.4 612.1h0M336.3 596.6h0M357.4 588.8h0M331.8 613h0M326.6 608.1h0M372 597.9h0M326.5 607.1h0M358 592.2h0M344.5 599.4h0M330.1 610.6h0M348.2 596.7h0M367.3 584h0M369.1 589.4h0M307 617.1h0M338.5 604.5h0M319.8 610.6h0M345.4 597.6h0M367.3 599.2h0M336.7 599.9h0M312.9 611.4h0M366.1 593.1h0M329.7 607h0M320.2 615.5h0M372 598.3h0M320.5 610h0M367.5 588.3h0M359 575.2h0M355.4 597.6h0M365.9 590.8h0M308.9 618.5h0M367 603.4h0M365.8 592.2h0M365.7 588.4h0M364.7 609.4h0M352.2 600.7h0M329.8 613h0M321 605.3h0M333.2 607.4h0M329.2 615.2h0M354 605.3h0M330.3 624.5h0M333.5 596.8h0M322.1 602.3h0M356.2 582.7h0M320 614.9h0M371.3 595h0M320.4 601.8h0M329.3 620.1h0M359.1 606.8h0M305.2 621.6h0M360.9 592.9h0M364 611.9h0M310.1 613.4h0M358.9 613.2h0M336.4 611h0M331.4 613.5h0M336.2 596.6h0M348.1 586.8h0M339.9 593.1h0M306.2 617.9h0M302.9 612.2h0M364.3 592.5h0M319.9 610.2h0M353.2 605.7h0M363.7 602.8h0M354.9 604.6h0M357.1 599h0M353.6 594.3h0M338.8 610.8h0M362 592.2h0M366.9 589.7h0M328.5 607.1h0M332.8 612.9h0M333.2 604.7h0M326 597h0M304 618.2h0M324.8 621.5h0M352.6 605.5h0M359.7 596.3h0M371.5 586.6h0M305.4 625h0M355 611.5h0M331.3 605.1h0M324 603.3h0M325.9 607.7h0M355.9 600.7h0M309.8 600.1h0M358.1 587.7h0M364.5 601.7h0M309 634.4h0M320.1 612h0M372 603.1h0M317.1 607.9h0M355.9 598.9h0M305.6 627h0M315.7 611.8h0M361.8 594.1h0M360.2 580.8h0M332 594.3h0M342.7 611.5h0M319.5 607h0M356 592.2h0M366 595.4h0M343 601h0M339.5 613.2h0M303.6 623.5h0M355.1 600.4h0M367.3 599.5h0M322.1 608h0M345.2 590.8h0M310.5 622h0M338.9 622.9h0M325.6 609.4h0M355 599.3h0M362 604.1h0M353 598.4h0M372 598.3h0M368.2 585.6h0M339.5 594.7h0M316.1 611.1h0M327.1 594.9h0M344.7 603.3h0M331 613.2h0M316.9 614.9h0M333.6 618.7h0M333.1 607.3h0M363.1 597.6h0M315.1 632.9h0M351.3 612.5h0M320.5 609.4h0M320.8 616.4h0M367 587.2h0M340 617.7h0M360 605.8h0M355.5 607.9h0M340.1 606.2h0M371.4 600.3h0M332 614.6h0M346.4 595.1h0M340.3 607.9h0M346.5 610.7h0M323.6 614.8h0M323 608.3h0M333.3 614.3h0M354 601.9h0M317.5 638.1h0M325.2 610h0M321.9 600.1h0M324.5 610.4h0M358.1 589.1h0M370.9 600.4h0M325.5 623.2h0M348.9 612.2h0M363 587.7h0M328.3 608.2h0M334.8 619.2h0M342.2 604.6h0M350.3 607.5h0M312.3 618.1h0M355 603.2h0M314.7 613.8h0M348.6 620h0M336.4 601.9h0M362.9 605.6h0M332.1 612.8h0M355.9 603.3h0M341.2 611h0M354.1 596.8h0M331.8 606.2h0M333.1 623h0M317.2 606.2h0M310.9 621.2h0M370.5 585.5h0M315.2 621.6h0M315.4 617.7h0M345.1 606.7h0M352.2 604.7h0M359.1 591.6h0M359.5 603h0M319.8 616.5h0M365.5 594.6h0M320.9 610.5h0M313.5 610.2h0M367.8 586.6h0M362.8 594.2h0M343.3 611.4h0M334.6 609.6h0M363.2 589.8h0M339.8 586.7h0M335.3 622.7h0M365.9 613.5h0M371.3 587.7h0M337.6 609.4h0M319.9 597h0M342.4 618.7h0M323.9 604.8h0M361.7 603.2h0M347.9 608.4h0M331.3 621.5h0M348.7 602.7h0M352.3 602.1h0M307.5 622.7h0M345.8 609.2h0M341 606.7h0M331.1 607.5h0M340.1 601.1h0M337.6 613.5h0M372 609h0M371.7 592h0M354.8 601.3h0M365.9 590h0M363.6 601.8h0M339.8 593.5h0M339.2 598h0M357.1 584.1h0M301.3 617h0M342.5 613.4h0M351.5 594.6h0M344 607.3h0M324.5 610.8h0M322.6 630.4h0M311.6 599.6h0M325.4 612.2h0M359.4 609.9h0M324.8 616.9h0M337.1 597.9h0M330.2 607.5h0M306.1 620.9h0M371.2 590.2h0M372 598.6h0M332.8 624.4h0M337.3 617.1h0M350.2 599.8h0M322 618h0M353.9 586.4h0M355 595.8h0M344.6 601.1h0M315.7 610.6h0M337.5 610.3h0M357.5 592.6h0M362.5 595.5h0M311.8 613.4h0M361.6 596.7h0M347.1 604.6h0M356.4 605.1h0M342.5 591.4h0M333.1 615.1h0M336.1 604.1h0M307.4 607.1h0M339.3 599.5h0M336.3 619.8h0M307.5 623.3h0M353.2 586.3h0M347.1 590.2h0M356.8 594.1h0M354.3 621h0M339.1 592.7h0M354 611.5h0M339.8 593.4h0M369.4 582.4h0M321.4 621h0M335.4 605.8h0M357.7 601.3h0M324.1 604.7h0M339.3 596.6h0M326.8 612.5h0M306.1 628h0M367.1 590.4h0M350.9 605.4h0M333.1 612.3h0M323.2 625.4h0M343.5 613.8h0M310.2 604.6h0M362.8 594.4h0M336.3 607.9h0M347.7 604.8h0M345 610.5h0M307.1 619.6h0M341.8 602.6h0M322.2 606.9h0M320.5 620.8h0M320.9 603.9h0M330.6 609.6h0M363.7 597.4h0M357.6 594.7h0M372 599.5h0M321.5 607.5h0M319.5 594.8h0M356 588.2h0M323.2 636.4h0M316 613.2h0M334.6 599.9h0M365.9 598h0M350.6 606.6h0M319.3 608.4h0M350.6 603h0M356.8 614h0M371.7 596.9h0M327.1 613h0M364.6 587.3h0M370.2 590.1h0M326.3 602.4h0M323.5 628.6h0M349.5 587.1h0M368 591.7h0M340.3 608.8h0M368.6 578.7h0M347.2 592.6h0M331.9 602.3h0M333.1 609.2h0M372 601.6h0M352.5 594.2h0M323.6 600.4h0M303.4 605.7h0M372 592.8h0M305.3 623.1h0M333.7 607.9h0M367.8 586.8h0M362.4 606.3h0M324.3 624.7h0M360.8 612.5h0M331.8 614.3h0M357 608.2h0M334.3 612.7h0M306.8 598h0M309.8 630.2h0M368.2 584.4h0M366.9 608.1h0M339.7 587.6h0M330.7 593.2h0M358.5 589.5h0M372 591.9h0M319.6 629h0M315.4 611.7h0M372 606.2h0M372 595.1h0M363 608.2h0M353.7 592.7h0M370.8 600.3h0M315.5 612.3h0M337.9 622.5h0M340.1 617.8h0M372 598.3h0M350.1 607.8h0M330.8 607.8h0M302.5 614.8h0M363.8 587.4h0M359.3 595.4h0M310 615h0M368.4 603.6h0M341.9 592.2h0M370.7 595.6h0M333.4 613h0M317.7 625.9h0M320.3 608.7h0M314.1 608.3h0M308.6 636.7h0M348.8 598.8h0M335.9 583.3h0M372 594.1h0M367.6 585.6h0M365.3 583.9h0M316.9 603.6h0M328.3 611.1h0M340.2 587.4h0M334.2 597.7h0M333.9 607.6h0M304.9 620.5h0M309.8 632.1h0M353.4 587h0M322 609.4h0M342 601.3h0M341.6 602.9h0M367.7 589.5h0M348.2 606.2h0M356 598.7h0M364.6 601.9h0M328.2 610.4h0M366.5 592.8h0M346.3 598.6h0M326.7 612.7h0M354.2 595.4h0M335 611.6h0M363 601.7h0M371.5 594.7h0M366.1 593.8h0M348.6 599.9h0M356 600.4h0M343.9 606.4h0M313.5 628.2h0M372 599.8h0M369.1 580.8h0M308.9 596.1h0M368.5 595.6h0M353.2 608.2h0M346.8 609.7h0M342.6 603h0M328.8 616.8h0M324.4 617.8h0M318.9 613.4h0M372 592.9h0M333.7 610.1h0M340.8 595.1h0M362.9 580.2h0M304.3 623.1h0M345.9 596.9h0M365.5 603h0M372 599.7h0M330.5 599.6h0M326.6 599.3h0M311.5 617.2h0M368.6 591.5h0M337.5 601.9h0M342.5 602.9h0M335.5 605.2h0M324.2 609.1h0M344.2 605.8h0M299.9 609.4h0M366.3 583.9h0M372 598.2h0M361.7 591.8h0M343.1 609.8h0M343.7 612.5h0M367.2 603.4h0M314.2 608.2h0M317.1 607.8h0M368.4 603.9h0M313.3 629.4h0M366.1 592.4h0M357 612.5h0M352.8 601.1h0M333.8 601h0M346.1 600.8h0M327 602h0M352.7 609.8h0M335.9 613.7h0M352.6 598.7h0M355 602h0M328.7 613h0M371.2 593.4h0M341.6 607.1h0M345.5 605.8h0M340 616.7h0M342.3 607.9h0M346.4 603.7h0M349.3 602.3h0M298.9 614.1h0M365.1 594.3h0M343.7 607.2h0M363.8 599.6h0M318.6 607.7h0M325 607.2h0M328.9 604h0M326.8 605.4h0M336 622.1h0M350.9 580.4h0M354.3 588.5h0M356.1 608.9h0M372 591.4h0M341.6 605.5h0M351 590.7h0M327 633.9h0M356.2 614.7h0M324.8 590.7h0M358.7 604.4h0M317 624.1h0M358.2 594.7h0M372 591.1h0M344.7 616.2h0M340.6 588.9h0M334.6 603.3h0M313.9 607h0M302.8 623.4h0M347.8 581.8h0M344.4 608.1h0M322.4 606.2h0M363.1 604.5h0M339.7 597.9h0M345.8 595.7h0M310.8 624.5h0M347.7 605.2h0M351.4 592.6h0M355.6 596.7h0M334.9 602.6h0M348.2 603.5h0M310.8 616.9h0M318.9 616.2h0M341.1 599.9h0M325.3 608.6h0M321.1 604.6h0M348 616.6h0M338.8 594.6h0M360 609.9h0M346.2 596.2h0M362.2 605.2h0M326.4 619.4h0M342.9 610.9h0M343.2 608.2h0M370.9 617.3h0M347.8 599.1h0M360.2 593.3h0M328 613.8h0M351.1 596.7h0M319.6 612.7h0M356.7 607.8h0M340.5 601.8h0M366.9 593.2h0M338.5 592.5h0M361.5 595h0M362.6 598.6h0M359.3 615.1h0M342.7 617.4h0M339.3 610.6h0M362.3 598.5h0M351 590.6h0M328.7 605.7h0M361.6 600.3h0M323.6 612.2h0M356.9 592.4h0M308.5 604.2h0M333.5 606.5h0M345.4 603.7h0M310.5 602.6h0M310.4 618.4h0M369.9 592.6h0M307.4 610.9h0M343.2 576.2h0M343.2 617.2h0M347.4 599.7h0M335.9 611.9h0M317.9 608.2h0M355.8 598.6h0M363.5 592.2h0M304.7 614h0M350.2 580.8h0M318.1 629.9h0M350.3 606.2h0M330.8 603.4h0M332 632.7h0M334.5 610.4h0M369.9 612.7h0M340 606.2h0M362.1 593.8h0M340.2 611.9h0M333.3 605.7h0M306.8 625h0M305.5 624.3h0M365 599.9h0M350.6 597.7h0M326.9 609.9h0M372 605.5h0M326.3 599.4h0M350.8 600.9h0M347.7 615.6h0M348.9 608.2h0M325.9 613.9h0M340.6 602h0M343.4 612.5h0M343 599h0M348 608.8h0M348.9 601h0M308 606.4h0M326.9 601.9h0M363.8 584.2h0M352.6 589.9h0M321.4 606.3h0M343.7 598.5h0M322.8 619.3h0M372 598.8h0M341 603.6h0M309.7 622.2h0M362 589.7h0M316.3 601.7h0M346.7 601.6h0M367.5 592.7h0M329.1 599.8h0M327.3 594.5h0M306.8 624.8h0M326.1 610.2h0M359.3 593.1h0M332 614.1h0M357.4 593.6h0M362.8 590.4h0M363.1 606.3h0M363.9 577.8h0M363.7 586.7h0M372 594.2h0M352 610.3h0M351.7 610.3h0M371.4 599.4h0M344.6 607h0M370.7 599.6h0M337.3 613.4h0M346.9 606.4h0M312.3 606.9h0M352 601h0M326.1 615.5h0M321 623.4h0M339.6 591.7h0M321.8 624.7h0M342.3 603.8h0M315.7 621.1h0M340 592.9h0M352.3 598.8h0M316.8 637h0M321.9 609.4h0M316.9 616.6h0M348.9 598.1h0M328.8 615.3h0M339.6 604.7h0M316.9 625.8h0M363.9 606h0M317.4 620.6h0M326 611.5h0M322.5 612.9h0M307.9 632h0M364.7 604.3h0M343.1 583.1h0M313.3 616h0M371.3 596.9h0M346.6 599.4h0M352 585h0M372 594.9h0M341.6 613h0M345.6 596.2h0M327.5 611h0M358.1 613.2h0M312.9 625.3h0M336.8 611.2h0M340.3 601.3h0M323.1 622.6h0M370.5 600.8h0M336.9 614.1h0M351.3 596.7h0M367.8 600.2h0M329.9 623.4h0M337.7 618.8h0M331.2 624.9h0M335.5 613h0M343 596.5h0M347.5 604.8h0M362.9 586h0M321.6 615h0M361.8 596.2h0M343.3 608.1h0M308.9 615.2h0M356.6 592.1h0M365.3 598.6h0M348.5 605.1h0M351.7 612.3h0M302.2 609.5h0M317.3 613.6h0M364.3 586.8h0M330.6 618h0M339.1 615h0M337.9 605.4h0M320.8 607.6h0M372 595.6h0M372 601h0M371.6 604.5h0M354.7 606.2h0M367.4 591.1h0M358.1 593.5h0M352.5 590.9h0M370.8 593.3h0M350.7 603h0M313.4 631.6h0M369.8 582h0M312.6 614.4h0M354.9 600.6h0M314.1 621.6h0M317.4 619.4h0M370.2 605.3h0M351.7 593.7h0M336.5 608.9h0M311.7 623.6h0M309.4 616.5h0M312.8 628.8h0M342 596.9h0M309.3 618.9h0M337.1 615.9h0M350.5 588.9h0M329.3 617.8h0M315 630.4h0M336.5 603.3h0M308.6 623.8h0M323 603.2h0M360.1 592.2h0M352.4 606.7h0M326.1 610.1h0M331.8 613.8h0M342.8 610.4h0M331.2 605.3h0M361.8 611.8h0M364.6 583.3h0M346 599.7h0M365.9 585.8h0M346.8 618.6h0M359.4 598.9h0M344.3 596.3h0M339 610.7h0M372 598.9h0M332.6 618.4h0M342.4 614.9h0M351 608.7h0M339.9 613.8h0M341.4 593.5h0M372 592.9h0M315.2 624.4h0M313.6 619.8h0M305.4 620.4h0M296.3 606.9h0M318.7 617h0M372 598.7h0M306.1 611.5h0M321.7 620.8h0M327.6 607h0M355.7 585.4h0M353.2 597.4h0M305.4 624.9h0M353.5 604h0M342.7 590.7h0M337.7 616.3h0M313.1 620.2h0M326.4 612.7h0M362.6 583.7h0M363.5 591.7h0M307.5 598.3h0M354.1 591.7h0M309.6 610.1h0M344.9 615.6h0M366.5 586h0M362.6 604.5h0M365.3 598.5h0M351.9 590.3h0M333.3 609.2h0M318.5 630.9h0M308.3 626.4h0M333.2 629h0M314.7 614.4h0M309.9 624.8h0M296.3 647.4h0M322.5 635.8h0M321.8 636.9h0M322.7 633.9h0M341 626.7h0M308.1 628h0M328.7 620.8h0M323.1 630.7h0M296.3 629.3h0M349.8 617.2h0M344.2 619.3h0M322 620.4h0M326 616.3h0M317.7 621.6h0M313 623.2h0M341.2 615.6h0M329.2 616.3h0M309.6 623.7h0M322.2 633.6h0M336.5 624.7h0M316.9 637.2h0M307.3 616.3h0M336.8 627.8h0M335.3 621.6h0M336.8 635.3h0M298.5 629h0M340.3 613.6h0M312.5 627.4h0M335.3 623.6h0M302.7 625.8h0M324.8 620.1h0M341.1 602.8h0M327.8 617.8h0M334.7 620.6h0M351.2 625.5h0M318.5 607.8h0M322.4 623.3h0M349 627.4h0M328.9 614.8h0M329.3 614.3h0M306 628.1h0M319.9 610.6h0M342.8 635.7h0M332.8 607.6h0M314.2 614.2h0M329.9 647.4h0M339.4 622.6h0M314.2 610.1h0M315.8 625.4h0M322.8 628.7h0M333.9 612.6h0M338.4 624h0M349.6 622.4h0M321.2 622.5h0M344.1 628.8h0M343.3 633.8h0M331.1 646.5h0M325.1 621.5h0M342.6 612.4h0M331.1 633.5h0M313.6 605.2h0M306 634.8h0M362.5 615h0M307.6 611.4h0M349.1 631.1h0M336.3 616.6h0M336.1 616.5h0M334.8 616.3h0M308.3 619.3h0M332.6 626.9h0M318.7 632.6h0M303.5 604.4h0M335.3 622.1h0M326.1 619.2h0M334.3 625.8h0M346.6 614.4h0M308.5 622.4h0M323 620.7h0M295.6 627.2h0M351.1 627.2h0M344.6 629.5h0M330.6 627.5h0M342.6 628.1h0M336.3 623h0M316 627.1h0M321 629.3h0M294.6 640.9h0M346 638.5h0M332.6 613.3h0M321.2 612.2h0M332.9 623.8h0M329.4 605.5h0M305.3 602.1h0M347.5 628.5h0M327.9 620.1h0M301 619.9h0M321 615.4h0M341.7 603.8h0M329.5 631.5h0M338.9 608.9h0M286.3 637.2h0M347.9 622h0M323.3 626.9h0M342.9 624.8h0M322.2 625.7h0M332.8 643.8h0M327.6 614.6h0M355.4 638.3h0M349 614.4h0M318.7 610.1h0M325.5 636.7h0M341.2 624.1h0M330.9 628.4h0M325.4 613.3h0M317.3 639.9h0M313.7 612.4h0M335.9 620.4h0M322.5 625.2h0M325.6 607.4h0M341.5 625.8h0M352.9 632h0M319.1 619.4h0M317.1 601.9h0M338.5 617h0M342.2 625.4h0M326 639.6h0M313.8 640.9h0M322.2 644.8h0M344.9 618.6h0M353.8 627.9h0M333 619.8h0M327.1 619.6h0M322.8 631.5h0M339.9 635.9h0M345.7 623h0M339 621.2h0M336.4 629.9h0M333.6 615.9h0M310.5 640.5h0M316.3 617.7h0M333.7 620h0M334.3 637.2h0M305.2 624.7h0M336.9 610h0M338.9 638.3h0M328.6 628.5h0M323.7 633.4h0M320.5 623.9h0M318.2 616.7h0M345.1 623.2h0M341.3 608.2h0M310.5 614.9h0M356.2 635.2h0M361 619.4h0M337.1 627.4h0M324.3 629.7h0M327.7 628.5h0M301.9 613.5h0M313.4 640.3h0M341.1 614.3h0M335.5 618.2h0M311.5 614.8h0M372 624.7h0M326.8 636.1h0M332.3 613h0M359.9 645.5h0M339.9 615.5h0M327.3 624.9h0M311.8 647.4h0M328.3 618.4h0M324.2 620.6h0M291 625.2h0M345.4 626h0M334.7 623.1h0M302.4 629.6h0M338.3 613.7h0M311.5 618.1h0M308.7 599.4h0M322.2 618h0M329.9 635.5h0M314.8 608.6h0M326.6 630.4h0M349.4 633.1h0M330.2 624.3h0M302.7 630.6h0M339.7 623.1h0M323.7 627.9h0M334.7 628.9h0M334.3 608.9h0M319.9 607.6h0M339.9 647.4h0M316.5 622.5h0M331.8 616.9h0M353.2 625.8h0M359.9 646.2h0M335.3 616.4h0M347.6 621.2h0M316.2 621.8h0M344.8 616h0M324.8 632.4h0M324 632.5h0M346.2 618.9h0M310.7 612.2h0M346.8 629.2h0M329.3 620h0M343.8 619.1h0M368.3 626.9h0M304.4 634.2h0M331.9 623.7h0M325.4 635.5h0M320.9 639h0M316.9 632.7h0M306 633.2h0M313.7 621.4h0M339.2 616.2h0M335.9 623.8h0M347.3 632.6h0M331.7 621.9h0M314.8 637.5h0M324.5 611.5h0M316.2 605.3h0M315.1 619.4h0M331.6 632.7h0M340.2 606h0M320.9 629.6h0M333 623.5h0M316.3 630.6h0M326.6 621.3h0M326.2 621.5h0M332.4 634.4h0M329 617.5h0M326.1 622.2h0M335.1 631.1h0M352.1 632.4h0M302.9 615.4h0M309.3 626.6h0M362.4 628.1h0M319.6 637.2h0M337 615.7h0M313.7 638h0M339 603.3h0M316.8 629.1h0M307.8 623.6h0M314.9 607.4h0M320.1 618.5h0M331.9 606.9h0M331.6 620.1h0M304.2 635.4h0M321.1 627.7h0M350.8 627.7h0M341.6 625.7h0M319.1 625.6h0M304.4 628.4h0M340 627.9h0M317.7 611.9h0M316.7 620.9h0M306.6 642.4h0M315.7 624.9h0M320.7 624.9h0M295.8 613.7h0M327.2 623.3h0M333.5 618.5h0M339.8 625.8h0M326.9 623.8h0M343.3 623.3h0M350.7 624.9h0M331.2 623.7h0M332 628.2h0M318.3 631.4h0M365.7 628.9h0M329.3 615.9h0M316.3 615.7h0M331.5 617h0M351.4 619.5h0M314.3 614.8h0M326.1 622.3h0M341.4 616.6h0M332.5 632.9h0M323.3 606.8h0M331.1 633.6h0M333.4 623.7h0M298.9 639.4h0M324.8 612.1h0M322.6 625.2h0M328.2 614.9h0M363.2 635.8h0M342.4 629.8h0M321.6 612.2h0M308.6 634.1h0M328.7 639.5h0M293.9 636.6h0M334.4 618.3h0M340.7 617.2h0M323.4 628.8h0M329.9 626.4h0M330.7 633.7h0M314.9 604.1h0M313.8 600.1h0M356.4 617.2h0M326.9 626.9h0M316 618.8h0M331.3 623.7h0M339.5 621.3h0M317.5 609.4h0M302.4 626.2h0M332.1 619.7h0M345.5 597.4h0M337.1 612.1h0M322.4 621.4h0M316.3 620.9h0M331.7 647h0M327.5 630.6h0M339.7 614.4h0M334.6 619.7h0M340.8 618h0M343.4 614.9h0M320.5 631.9h0M342.6 632.1h0M357.2 633.6h0M327.4 632.8h0M315.1 631.5h0M333.4 622.2h0M316.7 634h0M297.6 622h0M306.5 620.3h0M320.9 615.6h0M318.4 626.4h0M356.8 640.6h0M324.6 619.5h0M336.6 615.5h0M305.3 633.1h0M321.4 638.5h0M332.5 609.4h0M331.8 628.4h0M328.4 610.3h0M359.3 599.9h0M352.9 586.1h0M370.8 599.6h0M370 590.7h0M368.7 596.4h0M364.2 597h0M368.1 591.8h0M369 592.4h0M362.2 598.4h0M364.4 589.5h0M355.1 582.8h0M369.6 590.4h0M366.3 589h0M369.9 587.6h0M359.5 582.9h0M362.8 592.4h0M372 593.6h0M363.4 584.3h0M370.9 593.3h0M366.5 593.9h0M369.8 593.3h0M372 583.3h0M363.6 588.2h0M361.9 600.5h0M368.6 592.9h0M370.8 589.7h0M371 589.8h0M370.6 593.6h0M372 583.4h0M362.3 587.1h0M362.7 592.7h0M371.6 589.1h0M372 595.2h0M363.9 594.1h0M372 588.5h0M355.9 593.5h0M368.3 593.9h0M369.4 590.6h0M366.8 586.9h0M372 598.4h0M366.2 586.7h0M369 598.7h0M367.1 586.8h0M371.5 592.1h0M362.9 589.8h0M367.7 585.4h0M368.3 597.1h0M372 597h0M370.6 590.4h0M369.9 596.9h0M367.1 593.4h0M363.8 590.9h0M364.5 585.6h0M368.9 601.8h0M358.5 588.5h0M367.9 587.3h0M367.7 595.1h0M358.8 590.4h0M369.8 593.7h0M372 591.9h0M372 588.1h0M362.5 588.3h0M364.8 595.3h0M370.6 591h0M362.5 591.6h0M364.9 589.1h0M358.4 598.6h0M369.8 605.5h0M372 591.2h0M372 588.9h0M372 590.7h0M357.8 590.9h0M370.9 599.4h0M371.8 599.7h0M367.9 583.5h0M367.7 586.6h0M371.1 580.5h0M362.1 585.2h0M367.5 596h0M365.5 584.5h0M364.4 590.2h0M372 591.5h0M372 576.9h0M372 601.8h0M364.4 604.3h0M359.3 595.6h0M360.5 587.9h0M369.5 592.1h0M368.4 590h0M357.8 582.9h0M362.7 586h0M364.6 582.5h0M366.4 593.4h0M364.5 597.6h0M368 595.6h0M362.5 592h0M359.9 581.6h0M358.3 589h0M368.1 601.5h0M368.5 589.1h0M372 591.5h0M367 591.6h0M371.8 598.9h0M359.9 591.5h0M364.6 591h0M372 589.8h0M354.7 595.3h0M364.6 586.4h0M372 600.9h0M372 592.2h0M363.3 598.2h0M365.7 592.1h0M366.1 591.8h0M357.1 584.9h0M360.6 580.1h0M361.1 588.5h0M366 590.5h0M364.8 596.2h0M356.6 588.3h0M365.8 586.6h0M372 590.4h0M372 593.7h0M365.6 595.9h0M359.7 584.8h0M365 579h0M364.8 589.9h0M358.2 585.8h0M360.4 602.8h0M372 594h0M368 597.6h0M367.5 597.1h0M371.4 601.5h0M372 588.1h0M370 596.5h0M370.3 601.9h0M368.4 588.9h0M371.4 596.7h0M366.9 593.5h0M367.7 592.2h0M368.8 589h0M370.7 592.8h0M372 592.4h0M367.5 584.9h0M372 589.8h0M364.4 589.6h0M367 590.4h0M372 588.5h0M365.8 588.7h0M370 582.8h0M372 589.1h0M359.9 598.3h0M360.4 594.4h0M367.1 587.6h0M358.7 587.4h0M370.8 590.6h0M364.1 595.7h0M367.2 591.3h0M362.6 584h0M364.6 592.3h0M364.9 592.4h0M365.7 589.7h0M366.7 592.6h0M355.8 590.8h0M366 588.7h0M371.8 596.6h0M372 594.5h0M369.2 591.5h0M370.7 587.6h0M366.3 592.5h0M366.2 584.7h0M366.5 588.8h0M363.7 593.9h0M372 591.3h0M361.2 590h0M366 585.6h0M363.9 591.6h0M364 593h0M360.4 594.1h0M363.4 591.5h0M367 588.3h0M372 582h0M367.9 594h0M365.7 590.5h0M361.2 590.6h0M367.8 587.9h0M367 589h0M361.8 590.4h0M363 595.1h0M363 597.7h0M366.8 590.7h0M363.2 592.9h0M361.8 583.2h0M369.1 580.5h0M372 588.1h0M372 592h0M372 583.6h0M364.7 592.1h0M364.1 591.1h0M366.1 594h0M372 580.1h0M370.1 585.1h0M372 583.5h0M362.7 593.3h0M366 594.1h0M368.8 587h0M358.7 596.4h0M365.8 590.2h0M365.4 589.5h0M363.2 591h0M368.2 584.6h0M358.9 593.5h0M371.3 588.1h0M366.1 588.3h0M368.9 590.4h0M364.1 587h0M369.1 592.5h0M364.7 592.7h0M351.3 588.6h0M367.8 580.8h0M364 591.9h0M372 592.7h0M332.8 565.5h0M344.4 565.1h0M330.9 545.7h0M328.4 563.2h0M362.1 560.5h0M349.9 557.7h0M350.1 550.6h0M362.7 564.8h0M359.4 557.9h0M358 566.2h0M372 567h0M338.7 552.3h0M358.4 562.5h0M354.5 559h0M338 559.7h0M330.1 560.8h0M372 564.3h0M337.4 551.8h0M372 563.7h0M341.5 563.1h0M343.8 550.3h0M349.5 562.6h0M363.6 548.8h0M365.8 556.7h0M323.6 566.3h0M359.9 562.8h0M357.9 551.6h0M354.1 545.8h0M339.8 578.4h0M368 561.7h0M353.9 559.3h0M355.5 560.2h0M336.5 555.8h0M324.5 551.8h0M345.8 561.5h0M372 545.9h0M372 555.3h0M342.6 558h0M372 550.1h0M343.3 562.9h0M359.5 561.7h0M349.3 566.3h0M335.9 570.9h0M341.9 561.6h0M336.6 553.8h0M360 563.1h0M345.6 564.9h0M372 539.5h0M322.7 560.1h0M326.9 566.6h0M337.8 558.6h0M337.7 574.8h0M366.6 545.4h0M356 556.2h0M365.9 561.2h0M338.8 555.2h0M348.5 571.9h0M349.1 554.5h0M343 565.3h0M344.1 572.3h0M358.8 559.8h0M349.2 556.1h0M318.9 567.8h0M366.5 557.1h0M351.4 548.1h0M345.5 560.1h0M347 559.1h0M360.1 564.2h0M357.6 554.1h0M341.6 558.7h0M328.3 547.4h0M352 558.7h0M348.9 567.9h0M321.6 561.8h0M345.1 548.4h0M356.1 569.7h0M329.8 559h0M359.8 559h0M342.4 566.3h0M326.9 558.3h0M340 558.1h0M332.5 560.1h0M363.1 562.2h0M332.1 554.7h0M338.6 547.1h0M357 562.6h0M345.7 570.2h0M356.8 554.1h0M348.4 557.6h0M347.8 569h0M363.5 551.2h0M372 546.2h0M344.7 577.7h0M356.4 567.9h0M349.7 562.7h0M339.9 570.2h0M345.5 554.6h0M329.7 575.8h0M329.7 550.8h0M354 559h0M369.3 563.7h0M352.1 552.6h0M354.7 547.5h0M338.7 569.5h0M351.4 549.7h0M340.2 557.7h0M351.9 560.3h0M356.9 544.1h0M342.4 559.8h0M360.9 553.9h0M331.6 552.3h0M351.2 577.6h0M332.8 554.8h0M339.3 567.6h0M355 557.5h0M351.8 571.1h0M344.5 550h0M348.3 549.2h0M350.8 565.6h0M343.6 566.1h0M362.9 573.2h0M343.7 563.4h0M358 565.2h0M359.8 562.7h0M356.6 566h0M354.1 563.4h0M351.6 558.4h0M325.8 558.3h0M348.5 554.6h0M342.6 568.7h0M344.9 541.2h0M341.6 557.9h0M363.3 561.3h0M354.5 554.7h0M341.1 546.5h0M355.9 559.1h0M339.4 559.4h0M361.7 566.2h0M357.9 567.9h0M351.1 558.9h0M348.1 562.7h0M327.3 561.1h0M348.6 552h0M341.3 568h0M343.3 558.2h0M366.3 551.4h0M347.6 555.6h0M341.8 557.5h0M354.8 556.8h0M359.6 564.7h0M335 559.4h0M345.9 548.8h0M326.4 566.8h0M351.7 568.4h0M367.3 564.9h0M352.6 568.9h0M346.5 555.9h0M360.1 564h0M341.8 555.7h0M332.7 575.2h0M343.5 555.1h0M340.8 554.9h0M349.6 559.2h0M357.7 539.5h0M349.8 571.9h0M348.7 554.3h0M372 554.9h0M356.5 560.8h0M346.3 551.1h0M350.1 560.5h0M370.2 547.1h0M329.3 563.2h0M344.1 567.8h0M325.9 547.2h0M366.1 552h0M337.3 557.6h0M367.6 557.4h0M357.6 557.6h0M335.1 560.9h0M326.1 566.9h0M328.5 559.9h0M322 558.1h0M353 553.1h0M371.7 558.8h0M353.4 547.4h0M341.9 560.6h0M357.1 563.4h0M331 547.3h0M334.4 567.6h0M326.7 549.3h0M349.5 558.4h0M347.2 552.4h0M352.2 557.9h0M345.7 560.6h0M345.2 557.3h0M361.7 564.3h0M348.9 559.9h0M364.5 548.4h0M324.6 559.1h0M327.2 550.5h0M350.7 560.4h0M343.7 552.9h0M330.2 553.3h0M338 558.5h0M359.2 556.5h0M334.2 562.1h0M362.6 561.2h0M342.5 555.8h0M344.1 550.7h0M359 556.4h0M371.2 568.2h0M342 578.7h0M342.2 552.7h0M326.5 558.8h0M352.6 556h0M346.6 562.4h0M338.4 558.4h0M344.7 570.5h0M356 558h0M262 627.3h0M265.5 623.9h0M234.6 622.5h0M293.3 629.8h0M296.2 612.6h0M235.1 645.2h0M228.9 633h0M234.1 616.8h0M258.1 643.4h0M264.9 612.5h0M237 647.4h0M282.8 630.8h0M245.9 623.4h0M222.9 620.3h0M287.8 625.1h0M288.2 646.5h0M274.5 622.5h0M255 616.3h0M238.5 624.6h0M223.1 642.7h0M260.1 624.7h0M270 628.3h0M245.4 625.8h0M255.4 623h0M249.4 628.8h0M288.8 641.1h0M289.1 628.9h0M296.2 614.1h0M287.7 636.2h0M222.1 642.4h0M246.3 633.9h0M224.4 635.3h0M272.7 624.7h0M246.7 640.6h0M293.1 612.1h0M243.9 630.9h0M245.3 623.8h0M265.2 642.5h0M284.4 625.9h0M289.8 647.2h0M231.6 618.6h0M298 615.5h0M240.4 647.4h0M285.3 619.1h0M252.6 647.4h0M240.2 639.9h0M240.2 627.3h0M295.1 635.7h0M254.2 646.7h0M291.8 646h0M262.1 616.4h0M245.4 618.5h0M242.6 617.5h0M273.8 640h0M221.7 641.3h0M284.3 630.3h0M298.5 615.6h0M222.9 616.2h0M231.6 639.6h0M270.3 616.4h0M286.1 637.7h0M265.9 621.7h0M250.8 647.3h0M268.5 614h0M254.7 632.3h0M275.2 631.2h0M237.1 636.5h0M260.3 636.1h0M298.9 644.7h0M245.5 639.4h0M236.8 624.5h0M224.6 640.3h0M237.8 641.9h0M268.1 641.6h0M275.5 618.6h0M278.8 641.2h0M254.9 640.3h0M245.7 615.4h0M260.7 614.6h0M249.2 645.3h0M288.7 639h0M251.7 617.3h0M261.6 615.1h0M281.5 640.9h0M227 623.5h0M262.4 625.9h0M275.6 613.3h0M280.4 635.9h0M238.1 614.8h0M230.7 617.6h0M257.1 617.6h0M221 625.4h0M223.4 612.9h0M285.2 633.5h0M240.9 622.3h0M253 627.3h0M269.3 618.2h0M268.5 634.9h0M288.8 641.3h0M281.4 633.1h0M224.1 644.3h0M272.1 633.7h0M248.9 615.1h0M229 644.6h0M257.1 626.3h0M364.7 618.1h0M323.6 613.3h0M335.7 625.6h0M351.1 592.4h0M354.2 631.3h0M366.4 610.4h0M308.9 646.6h0M320.8 639h0M366.2 632.3h0M320.5 619.6h0M341 605.9h0M341.7 647h0M342.1 624.9h0M332.2 604.8h0M361.1 595.3h0M334 625.7h0M371.1 600h0M368.4 627.4h0M303.5 608.6h0M310 641h0M347.3 641.6h0M303.3 615.4h0M361.8 598.1h0M324.5 625.8h0M362.4 602.7h0M316.1 592.4h0M341 627.4h0M303.1 597.5h0M333.5 626.4h0M303.4 641.2h0M339.7 625.9h0M346.1 611.9h0M342.8 612.7h0M353.2 619.8h0M303.8 611.8h0M304.5 641.7h0M305.6 615.6h0M352.8 614.2h0M301.7 601.7h0M329.7 604.6h0M359.6 602.6h0M368.4 629.6h0M316.6 614.4h0M341.9 599.4h0M365.1 598.2h0M349.1 619.5h0M360.5 595.1h0M310 622.6h0M318.3 604.4h0M322.8 634.5h0M338.3 598.4h0M346.4 599.4h0M300.1 605.7h0M327.9 618.4h0M317.2 598.6h0M359.3 596.3h0M337.8 636.8h0M325.3 628.3h0M319.7 627.7h0M305.3 645.8h0M367.9 645.7h0M348.7 616.6h0M344.5 636.7h0M363.9 618.6h0M323.9 601.1h0M321 630.8h0M306.1 625.6h0M303.5 635.3h0M316 616h0M361.8 633.3h0M308.4 628.8h0M327.7 647.4h0M316.6 625.7h0M333.9 619.1h0M345.8 614.3h0M356.3 626.2h0M318.3 602.1h0M346.9 621.9h0M311.6 615h0M366.3 614.2h0M321.3 626.1h0M304.2 610.6h0M366.1 592.1h0M309.8 610.3h0M316 592.3h0M336.9 625.4h0M301.7 631.8h0M339.5 626.6h0M317.2 626.6h0M372 641.9h0M326.7 591.2h0M326 634.1h0M329.7 625.8h0M349.1 615.2h0M315.7 633.4h0M333.8 620.3h0M324.6 621.6h0M343.9 638.1h0M350.6 622.1h0M361 634.5h0M355.7 595.7h0M366.8 616.1h0M319.3 633.3h0M312.5 626h0M303.9 629.2h0M356.2 632.1h0M338.4 635.3h0M315 617.5h0M340.1 606.2h0M366.7 644h0M340.4 591.1h0M323 632.3h0M337.8 631.7h0M340.3 636h0M361.8 645.1h0M335.7 633.3h0M359.6 604.7h0M368 596h0M332.6 594.5h0M363.6 632.9h0M303.8 609.4h0M350.6 602.7h0M313.4 608.1h0M328.3 619.2h0M317.5 606.8h0M365.9 592.8h0M314.4 602h0M335.7 627.3h0M334.9 644.8h0M334.8 596.2h0M308.6 624.7h0M306.6 634.1h0M350.8 604.7h0M369.3 646.2h0M325.8 598.4h0M333.6 606.8h0M358.7 597.5h0M335.4 613.7h0M359 613.3h0M308.5 591h0M330.8 612h0M329.3 632.5h0M325 620.7h0M307.8 590.5h0M330.1 629.8h0M323.3 644.9h0M305.4 596.5h0M317.5 602.2h0M308.4 599.9h0M370.4 608.4h0M363.9 577.8h0M333.2 572.6h0M354.3 566.7h0M342.6 565.4h0M307.3 566.6h0M344.3 577.1h0M355.8 560.7h0M345 551.7h0M318.5 546.6h0M343.6 552.5h0M317.6 570.5h0M364.6 545.3h0M370.8 554.9h0M332 568.5h0M365.6 575.5h0M361 565.7h0M346 540.3h0M339.6 542.5h0M365.4 551.9h0M346.8 542.5h0M359.3 548.1h0M306.3 552.6h0M349.5 564.8h0M322.3 557.4h0M302.6 547.7h0M309.2 580.2h0M315.4 567.5h0M347.2 543.3h0M355.9 573.7h0M355.3 544.2h0M306.5 567.5h0M369.1 570.4h0M303.3 568h0M309.4 548.5h0M330.1 569.2h0M326.2 550.9h0M354 554.5h0M328.2 543.7h0M321.4 571.7h0M303 561.9h0M322.2 567.4h0M319.1 560.1h0M347.6 579.2h0M311.6 561.2h0M345.2 540.9h0M311.4 549.2h0M330.9 540.1h0M317 558.6h0M357.6 580.5h0M364.8 544.1h0M308.5 563.8h0M338.4 545.3h0M337.5 579.1h0M335.6 558.7h0M325.4 566.2h0M369.3 564.6h0M326.2 569.1h0M339.6 565.5h0M330.2 544h0M355.3 553h0M225.2 593h0M237.3 603.3h0M221.8 607h0M267 585.1h0M278.6 594.2h0M267.7 590.9h0M232.1 592h0M267.1 611.5h0M273.2 597.1h0M279.8 604.6h0M250.4 583.4h0M290 586.4h0M233.4 591.2h0M275.8 594.7h0M253.2 586.7h0M282.2 604.1h0M270.2 608.9h0M223 606.5h0M282.1 596.3h0M250.4 611.5h0M283.3 610.5h0M223 604.3h0" stroke="#e2323a" stroke-width=".75" stroke-linecap="round" fill="none" stroke-opacity=".43"/><g>
<rect x="219.7" y="538.5" width="152.7" height="109.29999999999995" fill="none" stroke="#555" stroke-width=".8"/>
<path d="M300.2 538.5V647.8M219.7 579.8H372.4" stroke="#333" stroke-width=".8" fill="none"/>
<path d="M220.7 647.5999999999999H279.7" stroke="#7a2a2a" stroke-width="1" stroke-opacity=".75"/>
<path d="M279.7 647.5999999999999H372.4" stroke="#333" stroke-width="1" stroke-opacity=".6"/>
<path d="M372.09999999999997 578.8V601.8" stroke="#d83030" stroke-width="1.3" stroke-opacity=".85"/>
<path d="M372.09999999999997 544.5V578.8M372.09999999999997 601.8V647.8" stroke="#d83a3a" stroke-width="1" stroke-opacity=".35"/>
<path d="M220.1 621.8V647.8" stroke="#d83a3a" stroke-width="1" stroke-opacity=".4"/>
</g>
<g font-family='"Liberation Sans", sans-serif' fill="#222">
<text x="295.5" y="659.0" font-size="6.05" text-anchor="middle" stroke="#222" stroke-width=".12">PE-Annexin V PE-A</text>
<text x="242.5" y="653.2" font-size="3.9" font-weight="bold" text-anchor="middle">10<tspan dy="-1.4" font-size="2.6">3</tspan></text>
<path d="M242.5 647.8v1.6" stroke="#555" stroke-width=".6"/>
<text x="279.6" y="653.2" font-size="3.9" font-weight="bold" text-anchor="middle">10<tspan dy="-1.4" font-size="2.6">4</tspan></text>
<path d="M279.6 647.8v1.6" stroke="#555" stroke-width=".6"/>
<text x="316.8" y="653.2" font-size="3.9" font-weight="bold" text-anchor="middle">10<tspan dy="-1.4" font-size="2.6">5</tspan></text>
<path d="M316.8 647.8v1.6" stroke="#555" stroke-width=".6"/>
<text x="353.9" y="653.2" font-size="3.9" font-weight="bold" text-anchor="middle">10<tspan dy="-1.4" font-size="2.6">6</tspan></text>
<path d="M353.9 647.8v1.6" stroke="#555" stroke-width=".6"/>
<text transform="translate(208.1,592) rotate(-90)" font-size="4.6" text-anchor="middle" stroke="#222" stroke-width=".1">7-AAD PerCP-Cy5-5-A</text>
<text transform="translate(214.1,550.7) rotate(-90)" font-size="3.9" font-weight="bold" text-anchor="middle">10<tspan dy="-1.4" font-size="2.6">5</tspan></text>
<path d="M219.7 550.2h-1.6" stroke="#555" stroke-width=".6"/>
<text transform="translate(214.1,577.2) rotate(-90)" font-size="3.9" font-weight="bold" text-anchor="middle">10<tspan dy="-1.4" font-size="2.6">4</tspan></text>
<path d="M219.7 576.7h-1.6" stroke="#555" stroke-width=".6"/>
<text transform="translate(214.1,603.8) rotate(-90)" font-size="3.9" font-weight="bold" text-anchor="middle">10<tspan dy="-1.4" font-size="2.6">3</tspan></text>
<path d="M219.7 603.3h-1.6" stroke="#555" stroke-width=".6"/>
<text transform="translate(214.1,630.3) rotate(-90)" font-size="3.9" font-weight="bold" text-anchor="middle">10<tspan dy="-1.4" font-size="2.6">2</tspan></text>
<path d="M219.7 629.8h-1.6" stroke="#555" stroke-width=".6"/>
</g>
<text transform="translate(4.60,16.30) scale(1.310,1.000)" font-family='"Liberation Serif", serif' font-size="15.3" font-weight="bold" text-anchor="start" fill="#111" >A</text>
<path d="M91,33.4V196H288.5" fill="none" stroke="#111" stroke-width="1.5"/>
<line x1="86.40" y1="34.20" x2="91.00" y2="34.20" stroke="#111" stroke-width="1.5" stroke-linecap="butt"/>
<text transform="translate(84.80,38.10) scale(1.185,1.000)" font-family='"Liberation Serif", serif' font-size="12" font-weight="bold" text-anchor="end" fill="#111"  stroke="#111" stroke-width="0.2" stroke-linejoin="round">1200</text>
<line x1="86.40" y1="74.70" x2="91.00" y2="74.70" stroke="#111" stroke-width="1.5" stroke-linecap="butt"/>
<text transform="translate(84.80,78.60) scale(1.185,1.000)" font-family='"Liberation Serif", serif' font-size="12" font-weight="bold" text-anchor="end" fill="#111"  stroke="#111" stroke-width="0.2" stroke-linejoin="round">900</text>
<line x1="86.40" y1="115.20" x2="91.00" y2="115.20" stroke="#111" stroke-width="1.5" stroke-linecap="butt"/>
<text transform="translate(84.80,119.10) scale(1.185,1.000)" font-family='"Liberation Serif", serif' font-size="12" font-weight="bold" text-anchor="end" fill="#111"  stroke="#111" stroke-width="0.2" stroke-linejoin="round">600</text>
<line x1="86.40" y1="155.70" x2="91.00" y2="155.70" stroke="#111" stroke-width="1.5" stroke-linecap="butt"/>
<text transform="translate(84.80,159.60) scale(1.185,1.000)" font-family='"Liberation Serif", serif' font-size="12" font-weight="bold" text-anchor="end" fill="#111"  stroke="#111" stroke-width="0.2" stroke-linejoin="round">300</text>
<line x1="86.40" y1="196.20" x2="91.00" y2="196.20" stroke="#111" stroke-width="1.5" stroke-linecap="butt"/>
<text transform="translate(84.80,200.10) scale(1.185,1.000)" font-family='"Liberation Serif", serif' font-size="12" font-weight="bold" text-anchor="end" fill="#111"  stroke="#111" stroke-width="0.2" stroke-linejoin="round">0</text>
<line x1="116.00" y1="150.00" x2="116.00" y2="153.00" stroke="#111" stroke-width="1.5" stroke-linecap="butt"/>
<line x1="108.00" y1="150.00" x2="124.00" y2="150.00" stroke="#111" stroke-width="1.5" stroke-linecap="butt"/>
<rect x="99.50" y="153.00" width="33.00" height="43.00" fill="#fff" stroke="#0c0c0c" stroke-width="1.6"/>
<line x1="116.00" y1="196.00" x2="116.00" y2="199.60" stroke="#111" stroke-width="1.5" stroke-linecap="butt"/>
<line x1="165.00" y1="143.50" x2="165.00" y2="146.50" stroke="#111" stroke-width="1.5" stroke-linecap="butt"/>
<line x1="157.00" y1="143.50" x2="173.00" y2="143.50" stroke="#111" stroke-width="1.5" stroke-linecap="butt"/>
<rect x="148.00" y="146.50" width="34.00" height="49.50" fill="#303030" stroke="#0c0c0c" stroke-width="1.6"/>
<line x1="165.00" y1="196.00" x2="165.00" y2="199.60" stroke="#111" stroke-width="1.5" stroke-linecap="butt"/>
<line x1="214.25" y1="112.50" x2="214.25" y2="118.00" stroke="#111" stroke-width="1.5" stroke-linecap="butt"/>
<line x1="206.25" y1="112.50" x2="222.25" y2="112.50" stroke="#111" stroke-width="1.5" stroke-linecap="butt"/>
<rect x="197.30" y="118.00" width="33.90" height="78.00" fill="#303030" stroke="#0c0c0c" stroke-width="1.6"/>
<line x1="214.25" y1="196.00" x2="214.25" y2="199.60" stroke="#111" stroke-width="1.5" stroke-linecap="butt"/>
<line x1="263.20" y1="60.00" x2="263.20" y2="62.00" stroke="#111" stroke-width="1.5" stroke-linecap="butt"/>
<line x1="255.20" y1="60.00" x2="271.20" y2="60.00" stroke="#111" stroke-width="1.5" stroke-linecap="butt"/>
<rect x="246.40" y="62.00" width="33.60" height="134.00" fill="#303030" stroke="#0c0c0c" stroke-width="1.6"/>
<line x1="263.20" y1="196.00" x2="263.20" y2="199.60" stroke="#111" stroke-width="1.5" stroke-linecap="butt"/>
<path d="M115.75,48.20V41.60H262.50V48.20" fill="none" stroke="#111" stroke-width="1.55"/>
<path d="M179.78,34.50L179.78,40.50M176.60,36.09L182.96,38.91M182.96,36.09L176.60,38.91" stroke="#484848" stroke-width="1.25" fill="none"/>
<circle cx="179.78" cy="37.50" r="0.99" fill="#484848"/>
<path d="M189.70,34.50L189.70,40.50M186.52,36.09L192.88,38.91M192.88,36.09L186.52,38.91" stroke="#484848" stroke-width="1.25" fill="none"/>
<circle cx="189.70" cy="37.50" r="0.99" fill="#484848"/>
<path d="M199.62,34.50L199.62,40.50M196.44,36.09L202.80,38.91M202.80,36.09L196.44,38.91" stroke="#484848" stroke-width="1.25" fill="none"/>
<circle cx="199.62" cy="37.50" r="0.99" fill="#484848"/>
<path d="M115.75,101.20V94.80H213.30V101.20" fill="none" stroke="#111" stroke-width="1.55"/>
<path d="M154.98,87.20L154.98,93.20M151.80,88.79L158.16,91.61M158.16,88.79L151.80,91.61" stroke="#484848" stroke-width="1.25" fill="none"/>
<circle cx="154.98" cy="90.20" r="0.99" fill="#484848"/>
<path d="M164.90,87.20L164.90,93.20M161.72,88.79L168.08,91.61M168.08,88.79L161.72,91.61" stroke="#484848" stroke-width="1.25" fill="none"/>
<circle cx="164.90" cy="90.20" r="0.99" fill="#484848"/>
<path d="M174.82,87.20L174.82,93.20M171.64,88.79L178.00,91.61M178.00,88.79L171.64,91.61" stroke="#484848" stroke-width="1.25" fill="none"/>
<circle cx="174.82" cy="90.20" r="0.99" fill="#484848"/>
<text transform="translate(119.80,207.60) scale(1.360,1) rotate(-45)" font-family='"Liberation Serif", serif' font-size="12.1" font-weight="bold" text-anchor="end" fill="#111"  stroke="#111" stroke-width="0.2" stroke-linejoin="round">0day</text>
<text transform="translate(169.00,207.60) scale(1.360,1) rotate(-45)" font-family='"Liberation Serif", serif' font-size="12.1" font-weight="bold" text-anchor="end" fill="#111"  stroke="#111" stroke-width="0.2" stroke-linejoin="round">5days</text>
<text transform="translate(218.10,207.60) scale(1.360,1) rotate(-45)" font-family='"Liberation Serif", serif' font-size="12.1" font-weight="bold" text-anchor="end" fill="#111"  stroke="#111" stroke-width="0.2" stroke-linejoin="round">10days</text>
<text transform="translate(267.00,207.60) scale(1.360,1) rotate(-45)" font-family='"Liberation Serif", serif' font-size="12.1" font-weight="bold" text-anchor="end" fill="#111"  stroke="#111" stroke-width="0.2" stroke-linejoin="round">15days</text>
<text transform="translate(42.80,114.80) rotate(-90) scale(0.737,1.000)" font-family='"Liberation Serif", serif' font-size="16.5" font-weight="bold" text-anchor="middle" fill="#111"  stroke="#111" stroke-width="0.35" stroke-linejoin="round">Ubiquitin concentration (ng/ml)</text>
<text transform="translate(342.50,16.30) scale(1.270,1.000)" font-family='"Liberation Serif", serif' font-size="15.3" font-weight="bold" text-anchor="start" fill="#111" >B</text>
<path d="M405,26.8V196.8H604.2" fill="none" stroke="#111" stroke-width="1.5"/>
<line x1="402.30" y1="27.50" x2="405.00" y2="27.50" stroke="#111" stroke-width="1.5" stroke-linecap="butt"/>
<text transform="translate(400.80,30.70) scale(1.360,1.000)" font-family='"Liberation Serif", serif' font-size="8.9" font-weight="bold" text-anchor="end" fill="#111"  stroke="#111" stroke-width="0.25" stroke-linejoin="round">0.5</text>
<line x1="402.30" y1="67.40" x2="405.00" y2="67.40" stroke="#111" stroke-width="1.5" stroke-linecap="butt"/>
<text transform="translate(400.80,70.60) scale(1.360,1.000)" font-family='"Liberation Serif", serif' font-size="8.9" font-weight="bold" text-anchor="end" fill="#111"  stroke="#111" stroke-width="0.25" stroke-linejoin="round">0.4</text>
<line x1="402.30" y1="107.30" x2="405.00" y2="107.30" stroke="#111" stroke-width="1.5" stroke-linecap="butt"/>
<text transform="translate(400.80,110.50) scale(1.360,1.000)" font-family='"Liberation Serif", serif' font-size="8.9" font-weight="bold" text-anchor="end" fill="#111"  stroke="#111" stroke-width="0.25" stroke-linejoin="round">0.3</text>
<line x1="402.30" y1="147.10" x2="405.00" y2="147.10" stroke="#111" stroke-width="1.5" stroke-linecap="butt"/>
<text transform="translate(400.80,150.30) scale(1.360,1.000)" font-family='"Liberation Serif", serif' font-size="8.9" font-weight="bold" text-anchor="end" fill="#111"  stroke="#111" stroke-width="0.25" stroke-linejoin="round">0.2</text>
<line x1="402.30" y1="187.00" x2="405.00" y2="187.00" stroke="#111" stroke-width="1.5" stroke-linecap="butt"/>
<text transform="translate(400.80,190.20) scale(1.360,1.000)" font-family='"Liberation Serif", serif' font-size="8.9" font-weight="bold" text-anchor="end" fill="#111"  stroke="#111" stroke-width="0.25" stroke-linejoin="round">0.1</text>
<line x1="429.90" y1="196.80" x2="429.90" y2="199.30" stroke="#111" stroke-width="1.5" stroke-linecap="butt"/>
<text transform="translate(432.30,204.70) scale(1.330,1) rotate(-45)" font-family='"Liberation Serif", serif' font-size="8.8" font-weight="bold" text-anchor="end" fill="#111"  stroke="#111" stroke-width="0.25" stroke-linejoin="round">24</text>
<line x1="479.60" y1="196.80" x2="479.60" y2="199.30" stroke="#111" stroke-width="1.5" stroke-linecap="butt"/>
<text transform="translate(482.00,204.70) scale(1.330,1) rotate(-45)" font-family='"Liberation Serif", serif' font-size="8.8" font-weight="bold" text-anchor="end" fill="#111"  stroke="#111" stroke-width="0.25" stroke-linejoin="round">48</text>
<line x1="529.30" y1="196.80" x2="529.30" y2="199.30" stroke="#111" stroke-width="1.5" stroke-linecap="butt"/>
<text transform="translate(531.70,204.70) scale(1.330,1) rotate(-45)" font-family='"Liberation Serif", serif' font-size="8.8" font-weight="bold" text-anchor="end" fill="#111"  stroke="#111" stroke-width="0.25" stroke-linejoin="round">72</text>
<line x1="579.10" y1="196.80" x2="579.10" y2="199.30" stroke="#111" stroke-width="1.5" stroke-linecap="butt"/>
<text transform="translate(581.50,204.70) scale(1.330,1) rotate(-45)" font-family='"Liberation Serif", serif' font-size="8.8" font-weight="bold" text-anchor="end" fill="#111"  stroke="#111" stroke-width="0.25" stroke-linejoin="round">96</text>
<text transform="translate(490.40,219.20) scale(1.130,1.000)" font-family='"Liberation Serif", serif' font-size="10.5" font-weight="bold" text-anchor="middle" fill="#111" >Time (h)</text>
<text transform="translate(371.00,107.10) rotate(-90) scale(0.695,1.000)" font-family='"Liberation Serif", serif' font-size="12.3" font-weight="bold" text-anchor="middle" fill="#111"  stroke="#111" stroke-width="0.3" stroke-linejoin="round">Relative absorbance (OD450)</text>
<polyline points="429.9,182.5 479.6,177.8 529.3,147.7 579.1,55.9" fill="none" stroke="#e22" stroke-width="1.3"/>
<polyline points="429.9,181.0 479.6,184.2 529.3,156.8 579.1,67.3" fill="none" stroke="#22e" stroke-width="1.3"/>
<polyline points="429.9,183.0 479.6,188.7 529.3,162.0 579.1,108.0" fill="none" stroke="#222" stroke-width="1.3"/>
<polyline points="429.9,180.5 479.6,188.9 529.3,164.8 579.1,93.6" fill="none" stroke="#44d844" stroke-width="1.3"/>
<line x1="429.90" y1="181.00" x2="429.90" y2="184.00" stroke="#e22" stroke-width="1" stroke-linecap="butt"/>
<line x1="428.10" y1="181.00" x2="431.70" y2="181.00" stroke="#e22" stroke-width="1" stroke-linecap="butt"/>
<line x1="428.10" y1="184.00" x2="431.70" y2="184.00" stroke="#e22" stroke-width="1" stroke-linecap="butt"/>
<path d="M429.90,184.78L432.18,180.60H427.62Z" fill="#e22"/>
<line x1="479.60" y1="173.30" x2="479.60" y2="182.30" stroke="#e22" stroke-width="1" stroke-linecap="butt"/>
<line x1="477.80" y1="173.30" x2="481.40" y2="173.30" stroke="#e22" stroke-width="1" stroke-linecap="butt"/>
<line x1="477.80" y1="182.30" x2="481.40" y2="182.30" stroke="#e22" stroke-width="1" stroke-linecap="butt"/>
<path d="M479.60,180.08L481.88,175.90H477.32Z" fill="#e22"/>
<line x1="529.30" y1="142.70" x2="529.30" y2="152.70" stroke="#e22" stroke-width="1" stroke-linecap="butt"/>
<line x1="527.50" y1="142.70" x2="531.10" y2="142.70" stroke="#e22" stroke-width="1" stroke-linecap="butt"/>
<line x1="527.50" y1="152.70" x2="531.10" y2="152.70" stroke="#e22" stroke-width="1" stroke-linecap="butt"/>
<path d="M529.30,149.98L531.58,145.80H527.02Z" fill="#e22"/>
<line x1="579.10" y1="51.90" x2="579.10" y2="59.90" stroke="#e22" stroke-width="1" stroke-linecap="butt"/>
<line x1="577.30" y1="51.90" x2="580.90" y2="51.90" stroke="#e22" stroke-width="1" stroke-linecap="butt"/>
<line x1="577.30" y1="59.90" x2="580.90" y2="59.90" stroke="#e22" stroke-width="1" stroke-linecap="butt"/>
<path d="M579.10,58.18L581.38,54.00H576.82Z" fill="#e22"/>
<line x1="429.90" y1="179.50" x2="429.90" y2="182.50" stroke="#22e" stroke-width="1" stroke-linecap="butt"/>
<line x1="428.10" y1="179.50" x2="431.70" y2="179.50" stroke="#22e" stroke-width="1" stroke-linecap="butt"/>
<line x1="428.10" y1="182.50" x2="431.70" y2="182.50" stroke="#22e" stroke-width="1" stroke-linecap="butt"/>
<path d="M429.90,178.53L432.37,181.00L429.90,183.47L427.43,181.00Z" fill="#22e"/>
<line x1="479.60" y1="180.20" x2="479.60" y2="188.20" stroke="#22e" stroke-width="1" stroke-linecap="butt"/>
<line x1="477.80" y1="180.20" x2="481.40" y2="180.20" stroke="#22e" stroke-width="1" stroke-linecap="butt"/>
<line x1="477.80" y1="188.20" x2="481.40" y2="188.20" stroke="#22e" stroke-width="1" stroke-linecap="butt"/>
<path d="M479.60,181.73L482.07,184.20L479.60,186.67L477.13,184.20Z" fill="#22e"/>
<line x1="529.30" y1="152.80" x2="529.30" y2="160.80" stroke="#22e" stroke-width="1" stroke-linecap="butt"/>
<line x1="527.50" y1="152.80" x2="531.10" y2="152.80" stroke="#22e" stroke-width="1" stroke-linecap="butt"/>
<line x1="527.50" y1="160.80" x2="531.10" y2="160.80" stroke="#22e" stroke-width="1" stroke-linecap="butt"/>
<path d="M529.30,154.33L531.77,156.80L529.30,159.27L526.83,156.80Z" fill="#22e"/>
<line x1="579.10" y1="64.30" x2="579.10" y2="70.30" stroke="#22e" stroke-width="1" stroke-linecap="butt"/>
<line x1="577.30" y1="64.30" x2="580.90" y2="64.30" stroke="#22e" stroke-width="1" stroke-linecap="butt"/>
<line x1="577.30" y1="70.30" x2="580.90" y2="70.30" stroke="#22e" stroke-width="1" stroke-linecap="butt"/>
<path d="M579.10,64.83L581.57,67.30L579.10,69.77L576.63,67.30Z" fill="#22e"/>
<line x1="429.90" y1="182.00" x2="429.90" y2="184.00" stroke="#222" stroke-width="1" stroke-linecap="butt"/>
<line x1="428.10" y1="182.00" x2="431.70" y2="182.00" stroke="#222" stroke-width="1" stroke-linecap="butt"/>
<line x1="428.10" y1="184.00" x2="431.70" y2="184.00" stroke="#222" stroke-width="1" stroke-linecap="butt"/>
<rect x="428.00" y="181.10" width="3.8" height="3.8" fill="#222"/>
<line x1="479.60" y1="187.20" x2="479.60" y2="190.20" stroke="#222" stroke-width="1" stroke-linecap="butt"/>
<line x1="477.80" y1="187.20" x2="481.40" y2="187.20" stroke="#222" stroke-width="1" stroke-linecap="butt"/>
<line x1="477.80" y1="190.20" x2="481.40" y2="190.20" stroke="#222" stroke-width="1" stroke-linecap="butt"/>
<rect x="477.70" y="186.80" width="3.8" height="3.8" fill="#222"/>
<line x1="529.30" y1="160.50" x2="529.30" y2="163.50" stroke="#222" stroke-width="1" stroke-linecap="butt"/>
<line x1="527.50" y1="160.50" x2="531.10" y2="160.50" stroke="#222" stroke-width="1" stroke-linecap="butt"/>
<line x1="527.50" y1="163.50" x2="531.10" y2="163.50" stroke="#222" stroke-width="1" stroke-linecap="butt"/>
<rect x="527.40" y="160.10" width="3.8" height="3.8" fill="#222"/>
<line x1="579.10" y1="107.00" x2="579.10" y2="109.00" stroke="#222" stroke-width="1" stroke-linecap="butt"/>
<line x1="577.30" y1="107.00" x2="580.90" y2="107.00" stroke="#222" stroke-width="1" stroke-linecap="butt"/>
<line x1="577.30" y1="109.00" x2="580.90" y2="109.00" stroke="#222" stroke-width="1" stroke-linecap="butt"/>
<rect x="577.20" y="106.10" width="3.8" height="3.8" fill="#222"/>
<line x1="429.90" y1="179.00" x2="429.90" y2="182.00" stroke="#44d844" stroke-width="1" stroke-linecap="butt"/>
<line x1="428.10" y1="179.00" x2="431.70" y2="179.00" stroke="#44d844" stroke-width="1" stroke-linecap="butt"/>
<line x1="428.10" y1="182.00" x2="431.70" y2="182.00" stroke="#44d844" stroke-width="1" stroke-linecap="butt"/>
<path d="M429.90,178.22L432.18,182.40H427.62Z" fill="#44d844"/>
<line x1="479.60" y1="187.40" x2="479.60" y2="190.40" stroke="#44d844" stroke-width="1" stroke-linecap="butt"/>
<line x1="477.80" y1="187.40" x2="481.40" y2="187.40" stroke="#44d844" stroke-width="1" stroke-linecap="butt"/>
<line x1="477.80" y1="190.40" x2="481.40" y2="190.40" stroke="#44d844" stroke-width="1" stroke-linecap="butt"/>
<path d="M479.60,186.62L481.88,190.80H477.32Z" fill="#44d844"/>
<line x1="529.30" y1="163.30" x2="529.30" y2="166.30" stroke="#44d844" stroke-width="1" stroke-linecap="butt"/>
<line x1="527.50" y1="163.30" x2="531.10" y2="163.30" stroke="#44d844" stroke-width="1" stroke-linecap="butt"/>
<line x1="527.50" y1="166.30" x2="531.10" y2="166.30" stroke="#44d844" stroke-width="1" stroke-linecap="butt"/>
<path d="M529.30,162.52L531.58,166.70H527.02Z" fill="#44d844"/>
<line x1="579.10" y1="92.10" x2="579.10" y2="95.10" stroke="#44d844" stroke-width="1" stroke-linecap="butt"/>
<line x1="577.30" y1="92.10" x2="580.90" y2="92.10" stroke="#44d844" stroke-width="1" stroke-linecap="butt"/>
<line x1="577.30" y1="95.10" x2="580.90" y2="95.10" stroke="#44d844" stroke-width="1" stroke-linecap="butt"/>
<path d="M579.10,91.32L581.38,95.50H576.82Z" fill="#44d844"/>
<line x1="420.00" y1="26.30" x2="431.50" y2="26.30" stroke="#222" stroke-width="1" stroke-linecap="butt"/>
<circle cx="425.70" cy="26.30" r="1.5" fill="#222"/>
<text transform="translate(439.00,29.10) scale(1.160,1.000)" font-family='"Liberation Serif", serif' font-size="9" font-weight="normal" text-anchor="start" fill="#000" >Control</text>
<line x1="420.00" y1="36.97" x2="431.50" y2="36.97" stroke="#44d844" stroke-width="1" stroke-linecap="butt"/>
<path d="M425.70,35.17L427.50,38.47H423.90Z" fill="#44d844"/>
<text transform="translate(439.00,39.77) scale(1.080,1.000)" font-family='"Liberation Serif", serif' font-size="9" font-weight="normal" text-anchor="start" fill="#000" >200ng/ml</text>
<line x1="420.00" y1="47.64" x2="431.50" y2="47.64" stroke="#e22" stroke-width="1" stroke-linecap="butt"/>
<circle cx="425.70" cy="47.64" r="1.5" fill="#e22"/>
<text transform="translate(439.00,50.44) scale(1.080,1.000)" font-family='"Liberation Serif", serif' font-size="9" font-weight="normal" text-anchor="start" fill="#000" >400ng/ml</text>
<line x1="420.00" y1="58.31" x2="431.50" y2="58.31" stroke="#22e" stroke-width="1" stroke-linecap="butt"/>
<path d="M425.70,56.36L427.65,58.31L425.70,60.26L423.75,58.31Z" fill="#22e"/>
<text transform="translate(439.00,61.11) scale(1.080,1.000)" font-family='"Liberation Serif", serif' font-size="9" font-weight="normal" text-anchor="start" fill="#000" >800ng/ml</text>
<path d="M479.70,169.40L479.70,173.20M477.69,170.41L481.71,172.19M481.71,170.41L477.69,172.19" stroke="#666" stroke-width="0.8" fill="none"/>
<circle cx="479.70" cy="171.30" r="0.63" fill="#666"/>
<path d="M524.01,139.40L524.01,143.20M522.00,140.41L526.03,142.19M526.03,140.41L522.00,142.19" stroke="#666" stroke-width="0.8" fill="none"/>
<circle cx="524.01" cy="141.30" r="0.63" fill="#666"/>
<path d="M529.19,139.40L529.19,143.20M527.17,140.41L531.20,142.19M531.20,140.41L527.17,142.19" stroke="#666" stroke-width="0.8" fill="none"/>
<circle cx="529.19" cy="141.30" r="0.63" fill="#666"/>
<path d="M578.81,47.40L578.81,51.20M576.80,48.41L580.83,50.19M580.83,48.41L576.80,50.19" stroke="#666" stroke-width="0.8" fill="none"/>
<circle cx="578.81" cy="49.30" r="0.63" fill="#666"/>
<path d="M584.40,47.40L584.40,51.20M582.39,48.41L586.41,50.19M586.41,48.41L582.39,50.19" stroke="#666" stroke-width="0.8" fill="none"/>
<circle cx="584.40" cy="49.30" r="0.63" fill="#666"/>
<path d="M589.99,47.40L589.99,51.20M587.97,48.41L592.00,50.19M592.00,48.41L587.97,50.19" stroke="#666" stroke-width="0.8" fill="none"/>
<circle cx="589.99" cy="49.30" r="0.63" fill="#666"/>
<path d="M579.71,72.00L579.71,75.80M577.70,73.01L581.73,74.79M581.73,73.01L577.70,74.79" stroke="#666" stroke-width="0.8" fill="none"/>
<circle cx="579.71" cy="73.90" r="0.63" fill="#666"/>
<path d="M585.35,72.00L585.35,75.80M583.34,73.01L587.36,74.79M587.36,73.01L583.34,74.79" stroke="#666" stroke-width="0.8" fill="none"/>
<circle cx="585.35" cy="73.90" r="0.63" fill="#666"/>
<path d="M590.99,72.00L590.99,75.80M588.97,73.01L593.00,74.79M593.00,73.01L588.97,74.79" stroke="#666" stroke-width="0.8" fill="none"/>
<circle cx="590.99" cy="73.90" r="0.63" fill="#666"/>
<path d="M421.4,354.4V467.5H580.7" fill="none" stroke="#111" stroke-width="1.5"/>
<line x1="417.40" y1="355.00" x2="421.40" y2="355.00" stroke="#111" stroke-width="1.5" stroke-linecap="butt"/>
<text transform="translate(415.40,358.10) scale(1.280,1.000)" font-family='"Liberation Serif", serif' font-size="9" font-weight="bold" text-anchor="end" fill="#111"  stroke="#111" stroke-width="0.2" stroke-linejoin="round">400</text>
<line x1="417.40" y1="383.10" x2="421.40" y2="383.10" stroke="#111" stroke-width="1.5" stroke-linecap="butt"/>
<text transform="translate(415.40,386.20) scale(1.280,1.000)" font-family='"Liberation Serif", serif' font-size="9" font-weight="bold" text-anchor="end" fill="#111"  stroke="#111" stroke-width="0.2" stroke-linejoin="round">300</text>
<line x1="417.40" y1="411.30" x2="421.40" y2="411.30" stroke="#111" stroke-width="1.5" stroke-linecap="butt"/>
<text transform="translate(415.40,414.40) scale(1.280,1.000)" font-family='"Liberation Serif", serif' font-size="9" font-weight="bold" text-anchor="end" fill="#111"  stroke="#111" stroke-width="0.2" stroke-linejoin="round">200</text>
<line x1="417.40" y1="439.30" x2="421.40" y2="439.30" stroke="#111" stroke-width="1.5" stroke-linecap="butt"/>
<text transform="translate(415.40,442.40) scale(1.280,1.000)" font-family='"Liberation Serif", serif' font-size="9" font-weight="bold" text-anchor="end" fill="#111"  stroke="#111" stroke-width="0.2" stroke-linejoin="round">100</text>
<line x1="417.40" y1="467.50" x2="421.40" y2="467.50" stroke="#111" stroke-width="1.5" stroke-linecap="butt"/>
<text transform="translate(415.40,470.60) scale(1.280,1.000)" font-family='"Liberation Serif", serif' font-size="9" font-weight="bold" text-anchor="end" fill="#111"  stroke="#111" stroke-width="0.2" stroke-linejoin="round">0</text>
<line x1="441.30" y1="415.80" x2="441.30" y2="421.10" stroke="#111" stroke-width="1.5" stroke-linecap="butt"/>
<line x1="434.90" y1="415.80" x2="447.70" y2="415.80" stroke="#111" stroke-width="1.5" stroke-linecap="butt"/>
<rect x="428.00" y="421.10" width="26.60" height="46.40" fill="#fff" stroke="#0c0c0c" stroke-width="1.6"/>
<line x1="441.30" y1="467.50" x2="441.30" y2="470.60" stroke="#111" stroke-width="1.5" stroke-linecap="butt"/>
<line x1="480.70" y1="412.20" x2="480.70" y2="415.50" stroke="#111" stroke-width="1.5" stroke-linecap="butt"/>
<line x1="474.30" y1="412.20" x2="487.10" y2="412.20" stroke="#111" stroke-width="1.5" stroke-linecap="butt"/>
<rect x="467.00" y="415.50" width="27.40" height="52.00" fill="#303030" stroke="#0c0c0c" stroke-width="1.6"/>
<line x1="480.70" y1="467.50" x2="480.70" y2="470.60" stroke="#111" stroke-width="1.5" stroke-linecap="butt"/>
<line x1="520.20" y1="368.80" x2="520.20" y2="374.00" stroke="#111" stroke-width="1.5" stroke-linecap="butt"/>
<line x1="513.80" y1="368.80" x2="526.60" y2="368.80" stroke="#111" stroke-width="1.5" stroke-linecap="butt"/>
<rect x="506.50" y="374.00" width="27.40" height="93.50" fill="#303030" stroke="#0c0c0c" stroke-width="1.6"/>
<line x1="520.20" y1="467.50" x2="520.20" y2="470.60" stroke="#111" stroke-width="1.5" stroke-linecap="butt"/>
<line x1="560.20" y1="382.70" x2="560.20" y2="391.20" stroke="#111" stroke-width="1.5" stroke-linecap="butt"/>
<line x1="553.80" y1="382.70" x2="566.60" y2="382.70" stroke="#111" stroke-width="1.5" stroke-linecap="butt"/>
<rect x="546.50" y="391.20" width="27.40" height="76.30" fill="#303030" stroke="#0c0c0c" stroke-width="1.6"/>
<line x1="560.20" y1="467.50" x2="560.20" y2="470.60" stroke="#111" stroke-width="1.5" stroke-linecap="butt"/>
<path d="M442.80,348.30V343.10H560.60V348.30" fill="none" stroke="#111" stroke-width="1.55"/>
<path d="M501.36,336.70L501.36,342.10M498.50,338.13L504.22,340.67M504.22,338.13L498.50,340.67" stroke="#484848" stroke-width="1.25" fill="none"/>
<circle cx="501.36" cy="339.40" r="0.89" fill="#484848"/>
<path d="M509.84,336.70L509.84,342.10M506.98,338.13L512.70,340.67M512.70,338.13L506.98,340.67" stroke="#484848" stroke-width="1.25" fill="none"/>
<circle cx="509.84" cy="339.40" r="0.89" fill="#484848"/>
<path d="M442.80,365.70V360.40H520.20V365.70" fill="none" stroke="#111" stroke-width="1.55"/>
<path d="M475.56,354.20L475.56,359.60M472.70,355.63L478.42,358.17M478.42,355.63L472.70,358.17" stroke="#484848" stroke-width="1.25" fill="none"/>
<circle cx="475.56" cy="356.90" r="0.89" fill="#484848"/>
<path d="M483.70,354.20L483.70,359.60M480.84,355.63L486.56,358.17M486.56,355.63L480.84,358.17" stroke="#484848" stroke-width="1.25" fill="none"/>
<circle cx="483.70" cy="356.90" r="0.89" fill="#484848"/>
<path d="M491.84,354.20L491.84,359.60M488.98,355.63L494.70,358.17M494.70,355.63L488.98,358.17" stroke="#484848" stroke-width="1.25" fill="none"/>
<circle cx="491.84" cy="356.90" r="0.89" fill="#484848"/>
<text transform="translate(443.10,476.00) scale(1.230,1) rotate(-45) scale(0.880,1.000)" font-family='"Liberation Serif", serif' font-size="10.5" font-weight="bold" text-anchor="end" fill="#111"  stroke="#111" stroke-width="0.3" stroke-linejoin="round">Control</text>
<text transform="translate(482.60,476.00) scale(1.230,1) rotate(-45) scale(0.850,1.000)" font-family='"Liberation Serif", serif' font-size="10.5" font-weight="bold" text-anchor="end" fill="#111"  stroke="#111" stroke-width="0.3" stroke-linejoin="round">200ng/ml</text>
<text transform="translate(521.90,476.00) scale(1.230,1) rotate(-45) scale(0.850,1.000)" font-family='"Liberation Serif", serif' font-size="10.5" font-weight="bold" text-anchor="end" fill="#111"  stroke="#111" stroke-width="0.3" stroke-linejoin="round">400ng/ml</text>
<text transform="translate(562.10,476.00) scale(1.230,1) rotate(-45) scale(0.850,1.000)" font-family='"Liberation Serif", serif' font-size="10.5" font-weight="bold" text-anchor="end" fill="#111"  stroke="#111" stroke-width="0.3" stroke-linejoin="round">800ng/ml</text>
<text transform="translate(374.20,408.90) rotate(-90) scale(0.852,1.000)" font-family='"Liberation Serif", serif' font-size="11.3" font-weight="bold" text-anchor="middle" fill="#111"  stroke="#111" stroke-width="0.3" stroke-linejoin="round">Relative number of invading</text>
<text transform="translate(387.60,410.30) rotate(-90) scale(0.895,1.000)" font-family='"Liberation Serif", serif' font-size="11.3" font-weight="bold" text-anchor="middle" fill="#111"  stroke="#111" stroke-width="0.3" stroke-linejoin="round">cells(% of control)</text>
<path d="M439.8,533.4V647.6H606.2" fill="none" stroke="#111" stroke-width="1.5"/>
<line x1="436.00" y1="534.00" x2="439.80" y2="534.00" stroke="#111" stroke-width="1.5" stroke-linecap="butt"/>
<text transform="translate(434.30,537.00) scale(1.100,1.000)" font-family='"Liberation Sans", sans-serif' font-size="8.6" font-weight="bold" text-anchor="end" fill="#111"  stroke="#111" stroke-width="0.25" stroke-linejoin="round">45</text>
<line x1="436.00" y1="562.90" x2="439.80" y2="562.90" stroke="#111" stroke-width="1.5" stroke-linecap="butt"/>
<text transform="translate(434.30,565.90) scale(1.100,1.000)" font-family='"Liberation Sans", sans-serif' font-size="8.6" font-weight="bold" text-anchor="end" fill="#111"  stroke="#111" stroke-width="0.25" stroke-linejoin="round">35</text>
<line x1="436.00" y1="591.40" x2="439.80" y2="591.40" stroke="#111" stroke-width="1.5" stroke-linecap="butt"/>
<text transform="translate(434.30,594.40) scale(1.100,1.000)" font-family='"Liberation Sans", sans-serif' font-size="8.6" font-weight="bold" text-anchor="end" fill="#111"  stroke="#111" stroke-width="0.25" stroke-linejoin="round">25</text>
<line x1="436.00" y1="619.30" x2="439.80" y2="619.30" stroke="#111" stroke-width="1.5" stroke-linecap="butt"/>
<text transform="translate(434.30,622.30) scale(1.100,1.000)" font-family='"Liberation Sans", sans-serif' font-size="8.6" font-weight="bold" text-anchor="end" fill="#111"  stroke="#111" stroke-width="0.25" stroke-linejoin="round">15</text>
<line x1="436.00" y1="647.60" x2="439.80" y2="647.60" stroke="#111" stroke-width="1.5" stroke-linecap="butt"/>
<text transform="translate(434.30,650.60) scale(1.100,1.000)" font-family='"Liberation Sans", sans-serif' font-size="8.6" font-weight="bold" text-anchor="end" fill="#111"  stroke="#111" stroke-width="0.25" stroke-linejoin="round">5</text>
<line x1="467.00" y1="562.90" x2="467.00" y2="565.60" stroke="#111" stroke-width="1.5" stroke-linecap="butt"/>
<line x1="460.75" y1="562.90" x2="473.25" y2="562.90" stroke="#111" stroke-width="1.5" stroke-linecap="butt"/>
<rect x="454.00" y="565.60" width="26.00" height="82.00" fill="#fff" stroke="#0c0c0c" stroke-width="1.6"/>
<line x1="495.55" y1="593.50" x2="495.55" y2="597.00" stroke="#111" stroke-width="1.5" stroke-linecap="butt"/>
<line x1="489.30" y1="593.50" x2="501.80" y2="593.50" stroke="#111" stroke-width="1.5" stroke-linecap="butt"/>
<rect x="483.00" y="597.00" width="25.10" height="50.60" fill="#303030" stroke="#0c0c0c" stroke-width="1.6"/>
<line x1="549.95" y1="613.40" x2="549.95" y2="615.00" stroke="#111" stroke-width="1.5" stroke-linecap="butt"/>
<line x1="543.70" y1="613.40" x2="556.20" y2="613.40" stroke="#111" stroke-width="1.5" stroke-linecap="butt"/>
<rect x="537.10" y="615.00" width="25.70" height="32.60" fill="#fff" stroke="#0c0c0c" stroke-width="1.6"/>
<line x1="578.30" y1="631.50" x2="578.30" y2="632.70" stroke="#111" stroke-width="1.5" stroke-linecap="butt"/>
<line x1="572.05" y1="631.50" x2="584.55" y2="631.50" stroke="#111" stroke-width="1.5" stroke-linecap="butt"/>
<rect x="565.80" y="632.70" width="25.00" height="14.90" fill="#303030" stroke="#0c0c0c" stroke-width="1.6"/>
<line x1="481.30" y1="647.60" x2="481.30" y2="650.60" stroke="#111" stroke-width="1.5" stroke-linecap="butt"/>
<line x1="563.90" y1="647.60" x2="563.90" y2="650.60" stroke="#111" stroke-width="1.5" stroke-linecap="butt"/>
<path d="M466.70,560.00V555.10H496.20V560.00" fill="none" stroke="#111" stroke-width="1.55"/>
<path d="M477.25,548.20L477.25,553.40M474.50,549.58L480.01,552.02M480.01,549.58L474.50,552.02" stroke="#484848" stroke-width="1.25" fill="none"/>
<circle cx="477.25" cy="550.80" r="0.86" fill="#484848"/>
<path d="M485.25,548.20L485.25,553.40M482.49,549.58L488.00,552.02M488.00,549.58L482.49,552.02" stroke="#484848" stroke-width="1.25" fill="none"/>
<circle cx="485.25" cy="550.80" r="0.86" fill="#484848"/>
<path d="M549.30,610.90V606.50H577.40V610.90" fill="none" stroke="#111" stroke-width="1.55"/>
<path d="M560.24,600.10L560.24,604.90M557.70,601.37L562.79,603.63M562.79,601.37L557.70,603.63" stroke="#484848" stroke-width="1.25" fill="none"/>
<circle cx="560.24" cy="602.50" r="0.79" fill="#484848"/>
<path d="M567.36,600.10L567.36,604.90M564.81,601.37L569.90,603.63M569.90,601.37L564.81,603.63" stroke="#484848" stroke-width="1.25" fill="none"/>
<circle cx="567.36" cy="602.50" r="0.79" fill="#484848"/>
<text transform="translate(445.20,659.80) scale(1.182,1.000)" font-family='"Liberation Serif", serif' font-size="9.4" font-weight="bold" text-anchor="start" fill="#111"  stroke="#111" stroke-width="0.25" stroke-linejoin="round">early apoptosis</text>
<text transform="translate(531.50,659.80) scale(1.183,1.000)" font-family='"Liberation Serif", serif' font-size="9.4" font-weight="bold" text-anchor="start" fill="#111"  stroke="#111" stroke-width="0.25" stroke-linejoin="round">late apoptosis</text>
<rect x="531.10" y="528.10" width="15.80" height="7.10" fill="#fff" stroke="#0c0c0c" stroke-width="1.3"/>
<rect x="531.10" y="540.60" width="15.80" height="7.20" fill="#303030" stroke="#0c0c0c" stroke-width="1.3"/>
<text transform="translate(554.50,535.60) scale(1.095,1.000)" font-family='"Liberation Serif", serif' font-size="11.3" font-weight="normal" text-anchor="start" fill="#000"  stroke="#000" stroke-width="0.25" stroke-linejoin="round">Control</text>
<text transform="translate(554.50,547.80) scale(1.045,1.000)" font-family='"Liberation Serif", serif' font-size="11.3" font-weight="normal" text-anchor="start" fill="#000"  stroke="#000" stroke-width="0.25" stroke-linejoin="round">400ng/ml</text>
<text transform="translate(409.70,590.30) rotate(-90) scale(0.795,1.000)" font-family='"Liberation Serif", serif' font-size="12.5" font-weight="bold" text-anchor="middle" fill="#111"  stroke="#111" stroke-width="0.35" stroke-linejoin="round">cell apoptosis (%)</text>
<text transform="translate(6.20,244.30) scale(1.420,1.000)" font-family='"Liberation Serif", serif' font-size="15.3" font-weight="bold" text-anchor="start" fill="#111" >C</text>
<text transform="translate(5.50,518.60) scale(1.330,1.000)" font-family='"Liberation Serif", serif' font-size="15.3" font-weight="bold" text-anchor="start" fill="#111" >D</text>
<text transform="translate(102.00,376.80) scale(1.330,1.000)" font-family='"Liberation Serif", serif' font-size="12" font-weight="bold" text-anchor="middle" fill="#111" >Control</text>
<text transform="translate(260.50,376.80) scale(1.310,1.000)" font-family='"Liberation Serif", serif' font-size="12" font-weight="bold" text-anchor="middle" fill="#111" >200ng/ml</text>
<text transform="translate(97.00,503.20) scale(1.330,1.000)" font-family='"Liberation Serif", serif' font-size="12" font-weight="bold" text-anchor="middle" fill="#111" >400ng/ml</text>
<text transform="translate(263.00,503.20) scale(1.330,1.000)" font-family='"Liberation Serif", serif' font-size="12" font-weight="bold" text-anchor="middle" fill="#111" >800ng/ml</text>
<text transform="translate(102.30,676.00) scale(1.260,1.000)" font-family='"Liberation Serif", serif' font-size="12" font-weight="bold" text-anchor="middle" fill="#111" >Control</text>
<text transform="translate(295.00,674.60) scale(1.250,1.000)" font-family='"Liberation Serif", serif' font-size="12" font-weight="bold" text-anchor="middle" fill="#111" >400ng/ml</text>
</g>
</svg>
</body></html>
